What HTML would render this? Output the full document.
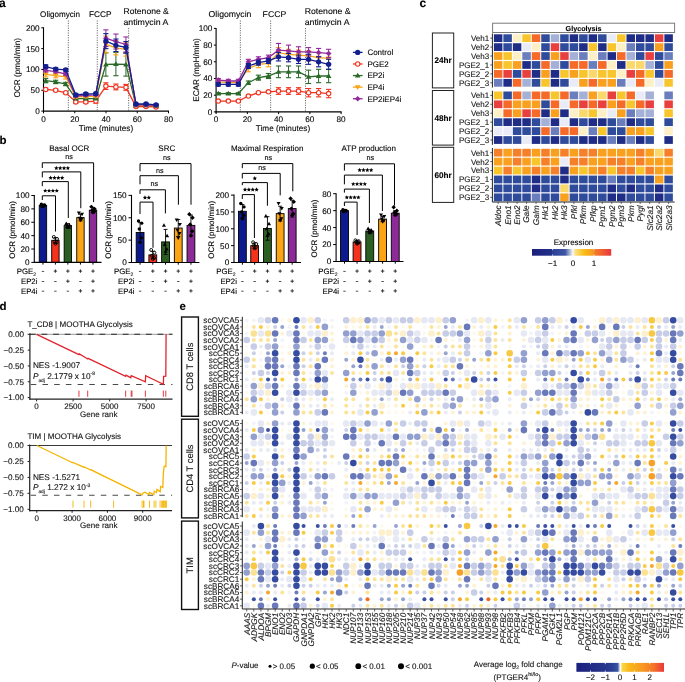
<!DOCTYPE html>
<html><head><meta charset="utf-8"><title>Figure</title>
<style>html,body{margin:0;padding:0;background:#fff;}svg{display:block;will-change:transform;}text{font-family:"Liberation Sans", sans-serif;text-rendering:geometricPrecision;stroke:#111;stroke-width:0.2px;stroke-opacity:0.55;}</style>
</head><body>
<svg width="685" height="682" viewBox="0 0 685 682" font-family='"Liberation Sans", sans-serif'>
<rect x="0" y="0" width="685" height="682" fill="#fff"/>
<text x="-1.00" y="6.80" font-size="12" font-weight="bold" >a</text>
<text x="-0.60" y="144.00" font-size="11.5" font-weight="bold" >b</text>
<text x="419.50" y="6.80" font-size="12" font-weight="bold" >c</text>
<text x="-0.60" y="309.50" font-size="11.5" font-weight="bold" >d</text>
<text x="179.50" y="309.70" font-size="11.5" font-weight="bold" >e</text>
<line x1="43.50" y1="27.30" x2="43.50" y2="111.60" stroke="#000" stroke-width="1.1" />
<line x1="43.00" y1="111.10" x2="169.00" y2="111.10" stroke="#000" stroke-width="1.1" />
<line x1="41.30" y1="111.10" x2="43.50" y2="111.10" stroke="#000" stroke-width="1" />
<text x="39.70" y="114.00" font-size="8.2" text-anchor="end" >0</text>
<line x1="41.30" y1="90.27" x2="43.50" y2="90.27" stroke="#000" stroke-width="1" />
<text x="39.70" y="93.17" font-size="8.2" text-anchor="end" >50</text>
<line x1="41.30" y1="69.45" x2="43.50" y2="69.45" stroke="#000" stroke-width="1" />
<text x="39.70" y="72.35" font-size="8.2" text-anchor="end" >100</text>
<line x1="41.30" y1="48.62" x2="43.50" y2="48.62" stroke="#000" stroke-width="1" />
<text x="39.70" y="51.52" font-size="8.2" text-anchor="end" >150</text>
<line x1="41.30" y1="27.80" x2="43.50" y2="27.80" stroke="#000" stroke-width="1" />
<text x="39.70" y="30.70" font-size="8.2" text-anchor="end" >200</text>
<line x1="43.50" y1="111.10" x2="43.50" y2="113.30" stroke="#000" stroke-width="1" />
<text x="43.50" y="121.50" font-size="8.2" text-anchor="middle" >0</text>
<line x1="74.75" y1="111.10" x2="74.75" y2="113.30" stroke="#000" stroke-width="1" />
<text x="74.75" y="121.50" font-size="8.2" text-anchor="middle" >20</text>
<line x1="106.00" y1="111.10" x2="106.00" y2="113.30" stroke="#000" stroke-width="1" />
<text x="106.00" y="121.50" font-size="8.2" text-anchor="middle" >40</text>
<line x1="137.25" y1="111.10" x2="137.25" y2="113.30" stroke="#000" stroke-width="1" />
<text x="137.25" y="121.50" font-size="8.2" text-anchor="middle" >60</text>
<line x1="168.50" y1="111.10" x2="168.50" y2="113.30" stroke="#000" stroke-width="1" />
<text x="168.50" y="121.50" font-size="8.2" text-anchor="middle" >80</text>
<text x="106.00" y="130.80" font-size="8.2" text-anchor="middle" >Time (minutes)</text>
<text x="20.40" y="67.80" font-size="8.25" text-anchor="middle" transform="rotate(-90 20.40 67.80)" >OCR (pmol/min)</text>
<line x1="68.34" y1="20.50" x2="68.34" y2="111.10" stroke="#222" stroke-width="0.7" stroke-dasharray="1.1,1.3"/>
<line x1="97.25" y1="20.50" x2="97.25" y2="111.10" stroke="#222" stroke-width="0.7" stroke-dasharray="1.1,1.3"/>
<line x1="128.66" y1="28.00" x2="128.66" y2="111.10" stroke="#222" stroke-width="0.7" stroke-dasharray="1.1,1.3"/>
<line x1="45.69" y1="90.69" x2="45.69" y2="88.19" stroke="#f2321e" stroke-width="1.0" />
<line x1="43.09" y1="88.19" x2="48.29" y2="88.19" stroke="#f2321e" stroke-width="1.1" />
<line x1="43.09" y1="90.69" x2="48.29" y2="90.69" stroke="#f2321e" stroke-width="1.1" />
<line x1="55.72" y1="91.52" x2="55.72" y2="89.03" stroke="#f2321e" stroke-width="1.0" />
<line x1="53.12" y1="89.03" x2="58.32" y2="89.03" stroke="#f2321e" stroke-width="1.1" />
<line x1="53.12" y1="91.52" x2="58.32" y2="91.52" stroke="#f2321e" stroke-width="1.1" />
<line x1="65.75" y1="94.02" x2="65.75" y2="91.52" stroke="#f2321e" stroke-width="1.0" />
<line x1="63.15" y1="91.52" x2="68.35" y2="91.52" stroke="#f2321e" stroke-width="1.1" />
<line x1="63.15" y1="94.02" x2="68.35" y2="94.02" stroke="#f2321e" stroke-width="1.1" />
<line x1="75.78" y1="103.19" x2="75.78" y2="100.69" stroke="#f2321e" stroke-width="1.0" />
<line x1="73.18" y1="100.69" x2="78.38" y2="100.69" stroke="#f2321e" stroke-width="1.1" />
<line x1="73.18" y1="103.19" x2="78.38" y2="103.19" stroke="#f2321e" stroke-width="1.1" />
<line x1="85.81" y1="103.19" x2="85.81" y2="100.69" stroke="#f2321e" stroke-width="1.0" />
<line x1="83.21" y1="100.69" x2="88.41" y2="100.69" stroke="#f2321e" stroke-width="1.1" />
<line x1="83.21" y1="103.19" x2="88.41" y2="103.19" stroke="#f2321e" stroke-width="1.1" />
<line x1="95.84" y1="103.19" x2="95.84" y2="99.02" stroke="#f2321e" stroke-width="1.0" />
<line x1="93.24" y1="99.02" x2="98.44" y2="99.02" stroke="#f2321e" stroke-width="1.1" />
<line x1="93.24" y1="103.19" x2="98.44" y2="103.19" stroke="#f2321e" stroke-width="1.1" />
<line x1="105.88" y1="89.44" x2="105.88" y2="82.78" stroke="#f2321e" stroke-width="1.0" />
<line x1="103.28" y1="82.78" x2="108.47" y2="82.78" stroke="#f2321e" stroke-width="1.1" />
<line x1="103.28" y1="89.44" x2="108.47" y2="89.44" stroke="#f2321e" stroke-width="1.1" />
<line x1="115.91" y1="89.86" x2="115.91" y2="84.03" stroke="#f2321e" stroke-width="1.0" />
<line x1="113.31" y1="84.03" x2="118.51" y2="84.03" stroke="#f2321e" stroke-width="1.1" />
<line x1="113.31" y1="89.86" x2="118.51" y2="89.86" stroke="#f2321e" stroke-width="1.1" />
<line x1="125.94" y1="90.27" x2="125.94" y2="84.44" stroke="#f2321e" stroke-width="1.0" />
<line x1="123.34" y1="84.44" x2="128.54" y2="84.44" stroke="#f2321e" stroke-width="1.1" />
<line x1="123.34" y1="90.27" x2="128.54" y2="90.27" stroke="#f2321e" stroke-width="1.1" />
<line x1="135.97" y1="107.35" x2="135.97" y2="105.69" stroke="#f2321e" stroke-width="1.0" />
<line x1="133.37" y1="105.69" x2="138.57" y2="105.69" stroke="#f2321e" stroke-width="1.1" />
<line x1="133.37" y1="107.35" x2="138.57" y2="107.35" stroke="#f2321e" stroke-width="1.1" />
<line x1="146.00" y1="107.35" x2="146.00" y2="105.69" stroke="#f2321e" stroke-width="1.0" />
<line x1="143.40" y1="105.69" x2="148.60" y2="105.69" stroke="#f2321e" stroke-width="1.1" />
<line x1="143.40" y1="107.35" x2="148.60" y2="107.35" stroke="#f2321e" stroke-width="1.1" />
<line x1="156.03" y1="107.77" x2="156.03" y2="106.10" stroke="#f2321e" stroke-width="1.0" />
<line x1="153.43" y1="106.10" x2="158.63" y2="106.10" stroke="#f2321e" stroke-width="1.1" />
<line x1="153.43" y1="107.77" x2="158.63" y2="107.77" stroke="#f2321e" stroke-width="1.1" />
<polyline points="45.69,89.44 55.72,90.27 65.75,92.77 75.78,101.94 85.81,101.94 95.84,101.10 105.88,86.11 115.91,86.94 125.94,87.36 135.97,106.52 146.00,106.52 156.03,106.93" fill="none" stroke="#f2321e" stroke-width="1.3" />
<circle cx="45.69" cy="89.44" r="2.2" fill="#fff" stroke="#f2321e" stroke-width="1.1"/>
<circle cx="55.72" cy="90.27" r="2.2" fill="#fff" stroke="#f2321e" stroke-width="1.1"/>
<circle cx="65.75" cy="92.77" r="2.2" fill="#fff" stroke="#f2321e" stroke-width="1.1"/>
<circle cx="75.78" cy="101.94" r="2.2" fill="#fff" stroke="#f2321e" stroke-width="1.1"/>
<circle cx="85.81" cy="101.94" r="2.2" fill="#fff" stroke="#f2321e" stroke-width="1.1"/>
<circle cx="95.84" cy="101.10" r="2.2" fill="#fff" stroke="#f2321e" stroke-width="1.1"/>
<circle cx="105.88" cy="86.11" r="2.2" fill="#fff" stroke="#f2321e" stroke-width="1.1"/>
<circle cx="115.91" cy="86.94" r="2.2" fill="#fff" stroke="#f2321e" stroke-width="1.1"/>
<circle cx="125.94" cy="87.36" r="2.2" fill="#fff" stroke="#f2321e" stroke-width="1.1"/>
<circle cx="135.97" cy="106.52" r="2.2" fill="#fff" stroke="#f2321e" stroke-width="1.1"/>
<circle cx="146.00" cy="106.52" r="2.2" fill="#fff" stroke="#f2321e" stroke-width="1.1"/>
<circle cx="156.03" cy="106.93" r="2.2" fill="#fff" stroke="#f2321e" stroke-width="1.1"/>
<line x1="45.69" y1="82.78" x2="45.69" y2="78.61" stroke="#2a6a28" stroke-width="1.0" />
<line x1="43.09" y1="78.61" x2="48.29" y2="78.61" stroke="#2a6a28" stroke-width="1.1" />
<line x1="43.09" y1="82.78" x2="48.29" y2="82.78" stroke="#2a6a28" stroke-width="1.1" />
<line x1="55.72" y1="83.61" x2="55.72" y2="80.28" stroke="#2a6a28" stroke-width="1.0" />
<line x1="53.12" y1="80.28" x2="58.32" y2="80.28" stroke="#2a6a28" stroke-width="1.1" />
<line x1="53.12" y1="83.61" x2="58.32" y2="83.61" stroke="#2a6a28" stroke-width="1.1" />
<line x1="65.75" y1="85.69" x2="65.75" y2="82.36" stroke="#2a6a28" stroke-width="1.0" />
<line x1="63.15" y1="82.36" x2="68.35" y2="82.36" stroke="#2a6a28" stroke-width="1.1" />
<line x1="63.15" y1="85.69" x2="68.35" y2="85.69" stroke="#2a6a28" stroke-width="1.1" />
<line x1="75.78" y1="99.44" x2="75.78" y2="97.77" stroke="#2a6a28" stroke-width="1.0" />
<line x1="73.18" y1="97.77" x2="78.38" y2="97.77" stroke="#2a6a28" stroke-width="1.1" />
<line x1="73.18" y1="99.44" x2="78.38" y2="99.44" stroke="#2a6a28" stroke-width="1.1" />
<line x1="85.81" y1="99.44" x2="85.81" y2="97.77" stroke="#2a6a28" stroke-width="1.0" />
<line x1="83.21" y1="97.77" x2="88.41" y2="97.77" stroke="#2a6a28" stroke-width="1.1" />
<line x1="83.21" y1="99.44" x2="88.41" y2="99.44" stroke="#2a6a28" stroke-width="1.1" />
<line x1="95.84" y1="99.44" x2="95.84" y2="97.77" stroke="#2a6a28" stroke-width="1.0" />
<line x1="93.24" y1="97.77" x2="98.44" y2="97.77" stroke="#2a6a28" stroke-width="1.1" />
<line x1="93.24" y1="99.44" x2="98.44" y2="99.44" stroke="#2a6a28" stroke-width="1.1" />
<line x1="105.88" y1="76.11" x2="105.88" y2="52.79" stroke="#2a6a28" stroke-width="1.0" />
<line x1="103.28" y1="52.79" x2="108.47" y2="52.79" stroke="#2a6a28" stroke-width="1.1" />
<line x1="103.28" y1="76.11" x2="108.47" y2="76.11" stroke="#2a6a28" stroke-width="1.1" />
<line x1="115.91" y1="75.70" x2="115.91" y2="52.37" stroke="#2a6a28" stroke-width="1.0" />
<line x1="113.31" y1="52.37" x2="118.51" y2="52.37" stroke="#2a6a28" stroke-width="1.1" />
<line x1="113.31" y1="75.70" x2="118.51" y2="75.70" stroke="#2a6a28" stroke-width="1.1" />
<line x1="125.94" y1="76.11" x2="125.94" y2="52.79" stroke="#2a6a28" stroke-width="1.0" />
<line x1="123.34" y1="52.79" x2="128.54" y2="52.79" stroke="#2a6a28" stroke-width="1.1" />
<line x1="123.34" y1="76.11" x2="128.54" y2="76.11" stroke="#2a6a28" stroke-width="1.1" />
<line x1="135.97" y1="106.10" x2="135.97" y2="104.44" stroke="#2a6a28" stroke-width="1.0" />
<line x1="133.37" y1="104.44" x2="138.57" y2="104.44" stroke="#2a6a28" stroke-width="1.1" />
<line x1="133.37" y1="106.10" x2="138.57" y2="106.10" stroke="#2a6a28" stroke-width="1.1" />
<line x1="146.00" y1="106.10" x2="146.00" y2="104.44" stroke="#2a6a28" stroke-width="1.0" />
<line x1="143.40" y1="104.44" x2="148.60" y2="104.44" stroke="#2a6a28" stroke-width="1.1" />
<line x1="143.40" y1="106.10" x2="148.60" y2="106.10" stroke="#2a6a28" stroke-width="1.1" />
<line x1="156.03" y1="106.52" x2="156.03" y2="104.85" stroke="#2a6a28" stroke-width="1.0" />
<line x1="153.43" y1="104.85" x2="158.63" y2="104.85" stroke="#2a6a28" stroke-width="1.1" />
<line x1="153.43" y1="106.52" x2="158.63" y2="106.52" stroke="#2a6a28" stroke-width="1.1" />
<polyline points="45.69,80.70 55.72,81.94 65.75,84.03 75.78,98.60 85.81,98.60 95.84,98.60 105.88,64.45 115.91,64.04 125.94,64.45 135.97,105.27 146.00,105.27 156.03,105.69" fill="none" stroke="#2a6a28" stroke-width="1.3" />
<path d="M42.89,82.70 L48.49,82.70 L45.69,77.90 Z" fill="#2a6a28"/>
<path d="M52.92,83.94 L58.52,83.94 L55.72,79.14 Z" fill="#2a6a28"/>
<path d="M62.95,86.03 L68.55,86.03 L65.75,81.23 Z" fill="#2a6a28"/>
<path d="M72.98,100.60 L78.58,100.60 L75.78,95.80 Z" fill="#2a6a28"/>
<path d="M83.01,100.60 L88.61,100.60 L85.81,95.80 Z" fill="#2a6a28"/>
<path d="M93.04,100.60 L98.64,100.60 L95.84,95.80 Z" fill="#2a6a28"/>
<path d="M103.08,66.45 L108.67,66.45 L105.88,61.65 Z" fill="#2a6a28"/>
<path d="M113.11,66.04 L118.71,66.04 L115.91,61.24 Z" fill="#2a6a28"/>
<path d="M123.14,66.45 L128.74,66.45 L125.94,61.65 Z" fill="#2a6a28"/>
<path d="M133.17,107.27 L138.77,107.27 L135.97,102.47 Z" fill="#2a6a28"/>
<path d="M143.20,107.27 L148.80,107.27 L146.00,102.47 Z" fill="#2a6a28"/>
<path d="M153.23,107.69 L158.83,107.69 L156.03,102.89 Z" fill="#2a6a28"/>
<line x1="45.69" y1="76.95" x2="45.69" y2="71.95" stroke="#f9a416" stroke-width="1.0" />
<line x1="43.09" y1="71.95" x2="48.29" y2="71.95" stroke="#f9a416" stroke-width="1.1" />
<line x1="43.09" y1="76.95" x2="48.29" y2="76.95" stroke="#f9a416" stroke-width="1.1" />
<line x1="55.72" y1="77.78" x2="55.72" y2="73.61" stroke="#f9a416" stroke-width="1.0" />
<line x1="53.12" y1="73.61" x2="58.32" y2="73.61" stroke="#f9a416" stroke-width="1.1" />
<line x1="53.12" y1="77.78" x2="58.32" y2="77.78" stroke="#f9a416" stroke-width="1.1" />
<line x1="65.75" y1="79.03" x2="65.75" y2="74.86" stroke="#f9a416" stroke-width="1.0" />
<line x1="63.15" y1="74.86" x2="68.35" y2="74.86" stroke="#f9a416" stroke-width="1.1" />
<line x1="63.15" y1="79.03" x2="68.35" y2="79.03" stroke="#f9a416" stroke-width="1.1" />
<line x1="75.78" y1="98.19" x2="75.78" y2="95.69" stroke="#f9a416" stroke-width="1.0" />
<line x1="73.18" y1="95.69" x2="78.38" y2="95.69" stroke="#f9a416" stroke-width="1.1" />
<line x1="73.18" y1="98.19" x2="78.38" y2="98.19" stroke="#f9a416" stroke-width="1.1" />
<line x1="85.81" y1="97.77" x2="85.81" y2="95.27" stroke="#f9a416" stroke-width="1.0" />
<line x1="83.21" y1="95.27" x2="88.41" y2="95.27" stroke="#f9a416" stroke-width="1.1" />
<line x1="83.21" y1="97.77" x2="88.41" y2="97.77" stroke="#f9a416" stroke-width="1.1" />
<line x1="95.84" y1="97.36" x2="95.84" y2="94.86" stroke="#f9a416" stroke-width="1.0" />
<line x1="93.24" y1="94.86" x2="98.44" y2="94.86" stroke="#f9a416" stroke-width="1.1" />
<line x1="93.24" y1="97.36" x2="98.44" y2="97.36" stroke="#f9a416" stroke-width="1.1" />
<line x1="105.88" y1="52.79" x2="105.88" y2="36.13" stroke="#f9a416" stroke-width="1.0" />
<line x1="103.28" y1="36.13" x2="108.47" y2="36.13" stroke="#f9a416" stroke-width="1.1" />
<line x1="103.28" y1="52.79" x2="108.47" y2="52.79" stroke="#f9a416" stroke-width="1.1" />
<line x1="115.91" y1="54.87" x2="115.91" y2="40.71" stroke="#f9a416" stroke-width="1.0" />
<line x1="113.31" y1="40.71" x2="118.51" y2="40.71" stroke="#f9a416" stroke-width="1.1" />
<line x1="113.31" y1="54.87" x2="118.51" y2="54.87" stroke="#f9a416" stroke-width="1.1" />
<line x1="125.94" y1="56.12" x2="125.94" y2="42.79" stroke="#f9a416" stroke-width="1.0" />
<line x1="123.34" y1="42.79" x2="128.54" y2="42.79" stroke="#f9a416" stroke-width="1.1" />
<line x1="123.34" y1="56.12" x2="128.54" y2="56.12" stroke="#f9a416" stroke-width="1.1" />
<line x1="135.97" y1="106.10" x2="135.97" y2="104.44" stroke="#f9a416" stroke-width="1.0" />
<line x1="133.37" y1="104.44" x2="138.57" y2="104.44" stroke="#f9a416" stroke-width="1.1" />
<line x1="133.37" y1="106.10" x2="138.57" y2="106.10" stroke="#f9a416" stroke-width="1.1" />
<line x1="146.00" y1="106.10" x2="146.00" y2="104.44" stroke="#f9a416" stroke-width="1.0" />
<line x1="143.40" y1="104.44" x2="148.60" y2="104.44" stroke="#f9a416" stroke-width="1.1" />
<line x1="143.40" y1="106.10" x2="148.60" y2="106.10" stroke="#f9a416" stroke-width="1.1" />
<line x1="156.03" y1="106.52" x2="156.03" y2="104.85" stroke="#f9a416" stroke-width="1.0" />
<line x1="153.43" y1="104.85" x2="158.63" y2="104.85" stroke="#f9a416" stroke-width="1.1" />
<line x1="153.43" y1="106.52" x2="158.63" y2="106.52" stroke="#f9a416" stroke-width="1.1" />
<polyline points="45.69,74.45 55.72,75.70 65.75,76.95 75.78,96.94 85.81,96.52 95.84,96.11 105.88,44.46 115.91,47.79 125.94,49.46 135.97,105.27 146.00,105.27 156.03,105.69" fill="none" stroke="#f9a416" stroke-width="1.3" />
<path d="M42.89,72.45 L48.49,72.45 L45.69,77.25 Z" fill="#f9a416"/>
<path d="M52.92,73.70 L58.52,73.70 L55.72,78.50 Z" fill="#f9a416"/>
<path d="M62.95,74.95 L68.55,74.95 L65.75,79.75 Z" fill="#f9a416"/>
<path d="M72.98,94.94 L78.58,94.94 L75.78,99.74 Z" fill="#f9a416"/>
<path d="M83.01,94.52 L88.61,94.52 L85.81,99.32 Z" fill="#f9a416"/>
<path d="M93.04,94.11 L98.64,94.11 L95.84,98.91 Z" fill="#f9a416"/>
<path d="M103.08,42.46 L108.67,42.46 L105.88,47.26 Z" fill="#f9a416"/>
<path d="M113.11,45.79 L118.71,45.79 L115.91,50.59 Z" fill="#f9a416"/>
<path d="M123.14,47.46 L128.74,47.46 L125.94,52.26 Z" fill="#f9a416"/>
<path d="M133.17,103.27 L138.77,103.27 L135.97,108.07 Z" fill="#f9a416"/>
<path d="M143.20,103.27 L148.80,103.27 L146.00,108.07 Z" fill="#f9a416"/>
<path d="M153.23,103.69 L158.83,103.69 L156.03,108.49 Z" fill="#f9a416"/>
<line x1="45.69" y1="71.95" x2="45.69" y2="68.62" stroke="#93299c" stroke-width="1.0" />
<line x1="43.09" y1="68.62" x2="48.29" y2="68.62" stroke="#93299c" stroke-width="1.1" />
<line x1="43.09" y1="71.95" x2="48.29" y2="71.95" stroke="#93299c" stroke-width="1.1" />
<line x1="55.72" y1="72.78" x2="55.72" y2="70.28" stroke="#93299c" stroke-width="1.0" />
<line x1="53.12" y1="70.28" x2="58.32" y2="70.28" stroke="#93299c" stroke-width="1.1" />
<line x1="53.12" y1="72.78" x2="58.32" y2="72.78" stroke="#93299c" stroke-width="1.1" />
<line x1="65.75" y1="75.28" x2="65.75" y2="72.78" stroke="#93299c" stroke-width="1.0" />
<line x1="63.15" y1="72.78" x2="68.35" y2="72.78" stroke="#93299c" stroke-width="1.1" />
<line x1="63.15" y1="75.28" x2="68.35" y2="75.28" stroke="#93299c" stroke-width="1.1" />
<line x1="75.78" y1="96.94" x2="75.78" y2="95.27" stroke="#93299c" stroke-width="1.0" />
<line x1="73.18" y1="95.27" x2="78.38" y2="95.27" stroke="#93299c" stroke-width="1.1" />
<line x1="73.18" y1="96.94" x2="78.38" y2="96.94" stroke="#93299c" stroke-width="1.1" />
<line x1="85.81" y1="96.11" x2="85.81" y2="94.44" stroke="#93299c" stroke-width="1.0" />
<line x1="83.21" y1="94.44" x2="88.41" y2="94.44" stroke="#93299c" stroke-width="1.1" />
<line x1="83.21" y1="96.11" x2="88.41" y2="96.11" stroke="#93299c" stroke-width="1.1" />
<line x1="95.84" y1="95.69" x2="95.84" y2="94.02" stroke="#93299c" stroke-width="1.0" />
<line x1="93.24" y1="94.02" x2="98.44" y2="94.02" stroke="#93299c" stroke-width="1.1" />
<line x1="93.24" y1="95.69" x2="98.44" y2="95.69" stroke="#93299c" stroke-width="1.1" />
<line x1="105.88" y1="46.54" x2="105.88" y2="29.88" stroke="#93299c" stroke-width="1.0" />
<line x1="103.28" y1="29.88" x2="108.47" y2="29.88" stroke="#93299c" stroke-width="1.1" />
<line x1="103.28" y1="46.54" x2="108.47" y2="46.54" stroke="#93299c" stroke-width="1.1" />
<line x1="115.91" y1="49.04" x2="115.91" y2="34.05" stroke="#93299c" stroke-width="1.0" />
<line x1="113.31" y1="34.05" x2="118.51" y2="34.05" stroke="#93299c" stroke-width="1.1" />
<line x1="113.31" y1="49.04" x2="118.51" y2="49.04" stroke="#93299c" stroke-width="1.1" />
<line x1="125.94" y1="51.96" x2="125.94" y2="36.96" stroke="#93299c" stroke-width="1.0" />
<line x1="123.34" y1="36.96" x2="128.54" y2="36.96" stroke="#93299c" stroke-width="1.1" />
<line x1="123.34" y1="51.96" x2="128.54" y2="51.96" stroke="#93299c" stroke-width="1.1" />
<line x1="135.97" y1="105.69" x2="135.97" y2="104.02" stroke="#93299c" stroke-width="1.0" />
<line x1="133.37" y1="104.02" x2="138.57" y2="104.02" stroke="#93299c" stroke-width="1.1" />
<line x1="133.37" y1="105.69" x2="138.57" y2="105.69" stroke="#93299c" stroke-width="1.1" />
<line x1="146.00" y1="105.69" x2="146.00" y2="104.02" stroke="#93299c" stroke-width="1.0" />
<line x1="143.40" y1="104.02" x2="148.60" y2="104.02" stroke="#93299c" stroke-width="1.1" />
<line x1="143.40" y1="105.69" x2="148.60" y2="105.69" stroke="#93299c" stroke-width="1.1" />
<line x1="156.03" y1="106.10" x2="156.03" y2="104.44" stroke="#93299c" stroke-width="1.0" />
<line x1="153.43" y1="104.44" x2="158.63" y2="104.44" stroke="#93299c" stroke-width="1.1" />
<line x1="153.43" y1="106.10" x2="158.63" y2="106.10" stroke="#93299c" stroke-width="1.1" />
<polyline points="45.69,70.28 55.72,71.53 65.75,74.03 75.78,96.11 85.81,95.27 95.84,94.86 105.88,38.21 115.91,41.54 125.94,44.46 135.97,104.85 146.00,104.85 156.03,105.27" fill="none" stroke="#93299c" stroke-width="1.3" />
<path d="M45.69,67.48 L48.49,70.28 L45.69,73.08 L42.89,70.28 Z" fill="#93299c"/>
<path d="M55.72,68.73 L58.52,71.53 L55.72,74.33 L52.92,71.53 Z" fill="#93299c"/>
<path d="M65.75,71.23 L68.55,74.03 L65.75,76.83 L62.95,74.03 Z" fill="#93299c"/>
<path d="M75.78,93.31 L78.58,96.11 L75.78,98.91 L72.98,96.11 Z" fill="#93299c"/>
<path d="M85.81,92.47 L88.61,95.27 L85.81,98.07 L83.01,95.27 Z" fill="#93299c"/>
<path d="M95.84,92.06 L98.64,94.86 L95.84,97.66 L93.04,94.86 Z" fill="#93299c"/>
<path d="M105.88,35.41 L108.67,38.21 L105.88,41.01 L103.08,38.21 Z" fill="#93299c"/>
<path d="M115.91,38.74 L118.71,41.54 L115.91,44.34 L113.11,41.54 Z" fill="#93299c"/>
<path d="M125.94,41.66 L128.74,44.46 L125.94,47.26 L123.14,44.46 Z" fill="#93299c"/>
<path d="M135.97,102.05 L138.77,104.85 L135.97,107.65 L133.17,104.85 Z" fill="#93299c"/>
<path d="M146.00,102.05 L148.80,104.85 L146.00,107.65 L143.20,104.85 Z" fill="#93299c"/>
<path d="M156.03,102.47 L158.83,105.27 L156.03,108.07 L153.23,105.27 Z" fill="#93299c"/>
<line x1="45.69" y1="68.20" x2="45.69" y2="64.87" stroke="#131f8f" stroke-width="1.0" />
<line x1="43.09" y1="64.87" x2="48.29" y2="64.87" stroke="#131f8f" stroke-width="1.1" />
<line x1="43.09" y1="68.20" x2="48.29" y2="68.20" stroke="#131f8f" stroke-width="1.1" />
<line x1="55.72" y1="70.28" x2="55.72" y2="67.78" stroke="#131f8f" stroke-width="1.0" />
<line x1="53.12" y1="67.78" x2="58.32" y2="67.78" stroke="#131f8f" stroke-width="1.1" />
<line x1="53.12" y1="70.28" x2="58.32" y2="70.28" stroke="#131f8f" stroke-width="1.1" />
<line x1="65.75" y1="71.12" x2="65.75" y2="68.62" stroke="#131f8f" stroke-width="1.0" />
<line x1="63.15" y1="68.62" x2="68.35" y2="68.62" stroke="#131f8f" stroke-width="1.1" />
<line x1="63.15" y1="71.12" x2="68.35" y2="71.12" stroke="#131f8f" stroke-width="1.1" />
<line x1="75.78" y1="96.11" x2="75.78" y2="93.61" stroke="#131f8f" stroke-width="1.0" />
<line x1="73.18" y1="93.61" x2="78.38" y2="93.61" stroke="#131f8f" stroke-width="1.1" />
<line x1="73.18" y1="96.11" x2="78.38" y2="96.11" stroke="#131f8f" stroke-width="1.1" />
<line x1="85.81" y1="95.27" x2="85.81" y2="92.77" stroke="#131f8f" stroke-width="1.0" />
<line x1="83.21" y1="92.77" x2="88.41" y2="92.77" stroke="#131f8f" stroke-width="1.1" />
<line x1="83.21" y1="95.27" x2="88.41" y2="95.27" stroke="#131f8f" stroke-width="1.1" />
<line x1="95.84" y1="94.86" x2="95.84" y2="92.36" stroke="#131f8f" stroke-width="1.0" />
<line x1="93.24" y1="92.36" x2="98.44" y2="92.36" stroke="#131f8f" stroke-width="1.1" />
<line x1="93.24" y1="94.86" x2="98.44" y2="94.86" stroke="#131f8f" stroke-width="1.1" />
<line x1="105.88" y1="48.62" x2="105.88" y2="33.63" stroke="#131f8f" stroke-width="1.0" />
<line x1="103.28" y1="33.63" x2="108.47" y2="33.63" stroke="#131f8f" stroke-width="1.1" />
<line x1="103.28" y1="48.62" x2="108.47" y2="48.62" stroke="#131f8f" stroke-width="1.1" />
<line x1="115.91" y1="51.54" x2="115.91" y2="39.05" stroke="#131f8f" stroke-width="1.0" />
<line x1="113.31" y1="39.05" x2="118.51" y2="39.05" stroke="#131f8f" stroke-width="1.1" />
<line x1="113.31" y1="51.54" x2="118.51" y2="51.54" stroke="#131f8f" stroke-width="1.1" />
<line x1="125.94" y1="53.21" x2="125.94" y2="41.54" stroke="#131f8f" stroke-width="1.0" />
<line x1="123.34" y1="41.54" x2="128.54" y2="41.54" stroke="#131f8f" stroke-width="1.1" />
<line x1="123.34" y1="53.21" x2="128.54" y2="53.21" stroke="#131f8f" stroke-width="1.1" />
<line x1="135.97" y1="104.85" x2="135.97" y2="103.19" stroke="#131f8f" stroke-width="1.0" />
<line x1="133.37" y1="103.19" x2="138.57" y2="103.19" stroke="#131f8f" stroke-width="1.1" />
<line x1="133.37" y1="104.85" x2="138.57" y2="104.85" stroke="#131f8f" stroke-width="1.1" />
<line x1="146.00" y1="104.85" x2="146.00" y2="103.19" stroke="#131f8f" stroke-width="1.0" />
<line x1="143.40" y1="103.19" x2="148.60" y2="103.19" stroke="#131f8f" stroke-width="1.1" />
<line x1="143.40" y1="104.85" x2="148.60" y2="104.85" stroke="#131f8f" stroke-width="1.1" />
<line x1="156.03" y1="105.69" x2="156.03" y2="104.02" stroke="#131f8f" stroke-width="1.0" />
<line x1="153.43" y1="104.02" x2="158.63" y2="104.02" stroke="#131f8f" stroke-width="1.1" />
<line x1="153.43" y1="105.69" x2="158.63" y2="105.69" stroke="#131f8f" stroke-width="1.1" />
<polyline points="45.69,66.53 55.72,69.03 65.75,69.87 75.78,94.86 85.81,94.02 95.84,93.61 105.88,41.13 115.91,45.29 125.94,47.38 135.97,104.02 146.00,104.02 156.03,104.85" fill="none" stroke="#131f8f" stroke-width="1.3" />
<circle cx="45.69" cy="66.53" r="2.65" fill="#131f8f"/>
<circle cx="55.72" cy="69.03" r="2.65" fill="#131f8f"/>
<circle cx="65.75" cy="69.87" r="2.65" fill="#131f8f"/>
<circle cx="75.78" cy="94.86" r="2.65" fill="#131f8f"/>
<circle cx="85.81" cy="94.02" r="2.65" fill="#131f8f"/>
<circle cx="95.84" cy="93.61" r="2.65" fill="#131f8f"/>
<circle cx="105.88" cy="41.13" r="2.65" fill="#131f8f"/>
<circle cx="115.91" cy="45.29" r="2.65" fill="#131f8f"/>
<circle cx="125.94" cy="47.38" r="2.65" fill="#131f8f"/>
<circle cx="135.97" cy="104.02" r="2.65" fill="#131f8f"/>
<circle cx="146.00" cy="104.02" r="2.65" fill="#131f8f"/>
<circle cx="156.03" cy="104.85" r="2.65" fill="#131f8f"/>
<line x1="216.10" y1="27.90" x2="216.10" y2="112.40" stroke="#000" stroke-width="1.1" />
<line x1="215.60" y1="111.90" x2="341.60" y2="111.90" stroke="#000" stroke-width="1.1" />
<line x1="213.90" y1="111.90" x2="216.10" y2="111.90" stroke="#000" stroke-width="1" />
<text x="212.30" y="114.80" font-size="8.2" text-anchor="end" >0</text>
<line x1="213.90" y1="95.20" x2="216.10" y2="95.20" stroke="#000" stroke-width="1" />
<text x="212.30" y="98.10" font-size="8.2" text-anchor="end" >20</text>
<line x1="213.90" y1="78.50" x2="216.10" y2="78.50" stroke="#000" stroke-width="1" />
<text x="212.30" y="81.40" font-size="8.2" text-anchor="end" >40</text>
<line x1="213.90" y1="61.80" x2="216.10" y2="61.80" stroke="#000" stroke-width="1" />
<text x="212.30" y="64.70" font-size="8.2" text-anchor="end" >60</text>
<line x1="213.90" y1="45.10" x2="216.10" y2="45.10" stroke="#000" stroke-width="1" />
<text x="212.30" y="48.00" font-size="8.2" text-anchor="end" >80</text>
<line x1="213.90" y1="28.40" x2="216.10" y2="28.40" stroke="#000" stroke-width="1" />
<text x="212.30" y="31.30" font-size="8.2" text-anchor="end" >100</text>
<line x1="216.10" y1="111.90" x2="216.10" y2="114.10" stroke="#000" stroke-width="1" />
<text x="216.10" y="122.30" font-size="8.2" text-anchor="middle" >0</text>
<line x1="247.35" y1="111.90" x2="247.35" y2="114.10" stroke="#000" stroke-width="1" />
<text x="247.35" y="122.30" font-size="8.2" text-anchor="middle" >20</text>
<line x1="278.60" y1="111.90" x2="278.60" y2="114.10" stroke="#000" stroke-width="1" />
<text x="278.60" y="122.30" font-size="8.2" text-anchor="middle" >40</text>
<line x1="309.85" y1="111.90" x2="309.85" y2="114.10" stroke="#000" stroke-width="1" />
<text x="309.85" y="122.30" font-size="8.2" text-anchor="middle" >60</text>
<line x1="341.10" y1="111.90" x2="341.10" y2="114.10" stroke="#000" stroke-width="1" />
<text x="341.10" y="122.30" font-size="8.2" text-anchor="middle" >80</text>
<text x="283.00" y="130.80" font-size="8.2" text-anchor="middle" >Time (minutes)</text>
<text x="198.70" y="70.00" font-size="8.25" text-anchor="middle" transform="rotate(-90 198.70 70.00)" >ECAR (mpH/min)</text>
<line x1="240.32" y1="20.50" x2="240.32" y2="111.90" stroke="#222" stroke-width="0.7" stroke-dasharray="1.1,1.3"/>
<line x1="270.63" y1="20.50" x2="270.63" y2="111.90" stroke="#222" stroke-width="0.7" stroke-dasharray="1.1,1.3"/>
<line x1="305.48" y1="28.00" x2="305.48" y2="111.90" stroke="#222" stroke-width="0.7" stroke-dasharray="1.1,1.3"/>
<line x1="218.29" y1="101.88" x2="218.29" y2="100.21" stroke="#f2321e" stroke-width="1.0" />
<line x1="215.69" y1="100.21" x2="220.89" y2="100.21" stroke="#f2321e" stroke-width="1.1" />
<line x1="215.69" y1="101.88" x2="220.89" y2="101.88" stroke="#f2321e" stroke-width="1.1" />
<line x1="228.32" y1="101.88" x2="228.32" y2="100.21" stroke="#f2321e" stroke-width="1.0" />
<line x1="225.72" y1="100.21" x2="230.92" y2="100.21" stroke="#f2321e" stroke-width="1.1" />
<line x1="225.72" y1="101.88" x2="230.92" y2="101.88" stroke="#f2321e" stroke-width="1.1" />
<line x1="238.35" y1="101.88" x2="238.35" y2="100.21" stroke="#f2321e" stroke-width="1.0" />
<line x1="235.75" y1="100.21" x2="240.95" y2="100.21" stroke="#f2321e" stroke-width="1.1" />
<line x1="235.75" y1="101.88" x2="240.95" y2="101.88" stroke="#f2321e" stroke-width="1.1" />
<line x1="248.38" y1="96.87" x2="248.38" y2="95.20" stroke="#f2321e" stroke-width="1.0" />
<line x1="245.78" y1="95.20" x2="250.98" y2="95.20" stroke="#f2321e" stroke-width="1.1" />
<line x1="245.78" y1="96.87" x2="250.98" y2="96.87" stroke="#f2321e" stroke-width="1.1" />
<line x1="258.41" y1="93.53" x2="258.41" y2="91.86" stroke="#f2321e" stroke-width="1.0" />
<line x1="255.81" y1="91.86" x2="261.01" y2="91.86" stroke="#f2321e" stroke-width="1.1" />
<line x1="255.81" y1="93.53" x2="261.01" y2="93.53" stroke="#f2321e" stroke-width="1.1" />
<line x1="268.44" y1="92.70" x2="268.44" y2="91.03" stroke="#f2321e" stroke-width="1.0" />
<line x1="265.84" y1="91.03" x2="271.04" y2="91.03" stroke="#f2321e" stroke-width="1.1" />
<line x1="265.84" y1="92.70" x2="271.04" y2="92.70" stroke="#f2321e" stroke-width="1.1" />
<line x1="278.47" y1="94.37" x2="278.47" y2="87.69" stroke="#f2321e" stroke-width="1.0" />
<line x1="275.87" y1="87.69" x2="281.07" y2="87.69" stroke="#f2321e" stroke-width="1.1" />
<line x1="275.87" y1="94.37" x2="281.07" y2="94.37" stroke="#f2321e" stroke-width="1.1" />
<line x1="288.51" y1="94.37" x2="288.51" y2="87.69" stroke="#f2321e" stroke-width="1.0" />
<line x1="285.91" y1="87.69" x2="291.11" y2="87.69" stroke="#f2321e" stroke-width="1.1" />
<line x1="285.91" y1="94.37" x2="291.11" y2="94.37" stroke="#f2321e" stroke-width="1.1" />
<line x1="298.54" y1="94.37" x2="298.54" y2="87.69" stroke="#f2321e" stroke-width="1.0" />
<line x1="295.94" y1="87.69" x2="301.14" y2="87.69" stroke="#f2321e" stroke-width="1.1" />
<line x1="295.94" y1="94.37" x2="301.14" y2="94.37" stroke="#f2321e" stroke-width="1.1" />
<line x1="308.57" y1="96.87" x2="308.57" y2="88.52" stroke="#f2321e" stroke-width="1.0" />
<line x1="305.97" y1="88.52" x2="311.17" y2="88.52" stroke="#f2321e" stroke-width="1.1" />
<line x1="305.97" y1="96.87" x2="311.17" y2="96.87" stroke="#f2321e" stroke-width="1.1" />
<line x1="318.60" y1="96.87" x2="318.60" y2="88.52" stroke="#f2321e" stroke-width="1.0" />
<line x1="316.00" y1="88.52" x2="321.20" y2="88.52" stroke="#f2321e" stroke-width="1.1" />
<line x1="316.00" y1="96.87" x2="321.20" y2="96.87" stroke="#f2321e" stroke-width="1.1" />
<line x1="328.63" y1="97.71" x2="328.63" y2="89.36" stroke="#f2321e" stroke-width="1.0" />
<line x1="326.03" y1="89.36" x2="331.23" y2="89.36" stroke="#f2321e" stroke-width="1.1" />
<line x1="326.03" y1="97.71" x2="331.23" y2="97.71" stroke="#f2321e" stroke-width="1.1" />
<polyline points="218.29,101.05 228.32,101.05 238.35,101.05 248.38,96.04 258.41,92.70 268.44,91.86 278.47,91.03 288.51,91.03 298.54,91.03 308.57,92.70 318.60,92.70 328.63,93.53" fill="none" stroke="#f2321e" stroke-width="1.3" />
<circle cx="218.29" cy="101.05" r="2.2" fill="#fff" stroke="#f2321e" stroke-width="1.1"/>
<circle cx="228.32" cy="101.05" r="2.2" fill="#fff" stroke="#f2321e" stroke-width="1.1"/>
<circle cx="238.35" cy="101.05" r="2.2" fill="#fff" stroke="#f2321e" stroke-width="1.1"/>
<circle cx="248.38" cy="96.04" r="2.2" fill="#fff" stroke="#f2321e" stroke-width="1.1"/>
<circle cx="258.41" cy="92.70" r="2.2" fill="#fff" stroke="#f2321e" stroke-width="1.1"/>
<circle cx="268.44" cy="91.86" r="2.2" fill="#fff" stroke="#f2321e" stroke-width="1.1"/>
<circle cx="278.47" cy="91.03" r="2.2" fill="#fff" stroke="#f2321e" stroke-width="1.1"/>
<circle cx="288.51" cy="91.03" r="2.2" fill="#fff" stroke="#f2321e" stroke-width="1.1"/>
<circle cx="298.54" cy="91.03" r="2.2" fill="#fff" stroke="#f2321e" stroke-width="1.1"/>
<circle cx="308.57" cy="92.70" r="2.2" fill="#fff" stroke="#f2321e" stroke-width="1.1"/>
<circle cx="318.60" cy="92.70" r="2.2" fill="#fff" stroke="#f2321e" stroke-width="1.1"/>
<circle cx="328.63" cy="93.53" r="2.2" fill="#fff" stroke="#f2321e" stroke-width="1.1"/>
<line x1="218.29" y1="94.37" x2="218.29" y2="92.70" stroke="#2a6a28" stroke-width="1.0" />
<line x1="215.69" y1="92.70" x2="220.89" y2="92.70" stroke="#2a6a28" stroke-width="1.1" />
<line x1="215.69" y1="94.37" x2="220.89" y2="94.37" stroke="#2a6a28" stroke-width="1.1" />
<line x1="228.32" y1="94.37" x2="228.32" y2="92.70" stroke="#2a6a28" stroke-width="1.0" />
<line x1="225.72" y1="92.70" x2="230.92" y2="92.70" stroke="#2a6a28" stroke-width="1.1" />
<line x1="225.72" y1="94.37" x2="230.92" y2="94.37" stroke="#2a6a28" stroke-width="1.1" />
<line x1="238.35" y1="94.37" x2="238.35" y2="92.70" stroke="#2a6a28" stroke-width="1.0" />
<line x1="235.75" y1="92.70" x2="240.95" y2="92.70" stroke="#2a6a28" stroke-width="1.1" />
<line x1="235.75" y1="94.37" x2="240.95" y2="94.37" stroke="#2a6a28" stroke-width="1.1" />
<line x1="248.38" y1="84.34" x2="248.38" y2="81.01" stroke="#2a6a28" stroke-width="1.0" />
<line x1="245.78" y1="81.01" x2="250.98" y2="81.01" stroke="#2a6a28" stroke-width="1.1" />
<line x1="245.78" y1="84.34" x2="250.98" y2="84.34" stroke="#2a6a28" stroke-width="1.1" />
<line x1="258.41" y1="80.17" x2="258.41" y2="75.16" stroke="#2a6a28" stroke-width="1.0" />
<line x1="255.81" y1="75.16" x2="261.01" y2="75.16" stroke="#2a6a28" stroke-width="1.1" />
<line x1="255.81" y1="80.17" x2="261.01" y2="80.17" stroke="#2a6a28" stroke-width="1.1" />
<line x1="268.44" y1="78.50" x2="268.44" y2="73.49" stroke="#2a6a28" stroke-width="1.0" />
<line x1="265.84" y1="73.49" x2="271.04" y2="73.49" stroke="#2a6a28" stroke-width="1.1" />
<line x1="265.84" y1="78.50" x2="271.04" y2="78.50" stroke="#2a6a28" stroke-width="1.1" />
<line x1="278.47" y1="77.67" x2="278.47" y2="65.98" stroke="#2a6a28" stroke-width="1.0" />
<line x1="275.87" y1="65.98" x2="281.07" y2="65.98" stroke="#2a6a28" stroke-width="1.1" />
<line x1="275.87" y1="77.67" x2="281.07" y2="77.67" stroke="#2a6a28" stroke-width="1.1" />
<line x1="288.51" y1="77.67" x2="288.51" y2="65.98" stroke="#2a6a28" stroke-width="1.0" />
<line x1="285.91" y1="65.98" x2="291.11" y2="65.98" stroke="#2a6a28" stroke-width="1.1" />
<line x1="285.91" y1="77.67" x2="291.11" y2="77.67" stroke="#2a6a28" stroke-width="1.1" />
<line x1="298.54" y1="77.67" x2="298.54" y2="65.98" stroke="#2a6a28" stroke-width="1.0" />
<line x1="295.94" y1="65.98" x2="301.14" y2="65.98" stroke="#2a6a28" stroke-width="1.1" />
<line x1="295.94" y1="77.67" x2="301.14" y2="77.67" stroke="#2a6a28" stroke-width="1.1" />
<line x1="308.57" y1="83.51" x2="308.57" y2="70.15" stroke="#2a6a28" stroke-width="1.0" />
<line x1="305.97" y1="70.15" x2="311.17" y2="70.15" stroke="#2a6a28" stroke-width="1.1" />
<line x1="305.97" y1="83.51" x2="311.17" y2="83.51" stroke="#2a6a28" stroke-width="1.1" />
<line x1="318.60" y1="82.68" x2="318.60" y2="69.31" stroke="#2a6a28" stroke-width="1.0" />
<line x1="316.00" y1="69.31" x2="321.20" y2="69.31" stroke="#2a6a28" stroke-width="1.1" />
<line x1="316.00" y1="82.68" x2="321.20" y2="82.68" stroke="#2a6a28" stroke-width="1.1" />
<line x1="328.63" y1="82.68" x2="328.63" y2="69.31" stroke="#2a6a28" stroke-width="1.0" />
<line x1="326.03" y1="69.31" x2="331.23" y2="69.31" stroke="#2a6a28" stroke-width="1.1" />
<line x1="326.03" y1="82.68" x2="331.23" y2="82.68" stroke="#2a6a28" stroke-width="1.1" />
<polyline points="218.29,93.53 228.32,93.53 238.35,93.53 248.38,82.68 258.41,77.67 268.44,76.00 278.47,71.82 288.51,71.82 298.54,71.82 308.57,76.83 318.60,76.00 328.63,76.00" fill="none" stroke="#2a6a28" stroke-width="1.3" />
<path d="M215.49,95.53 L221.09,95.53 L218.29,90.73 Z" fill="#2a6a28"/>
<path d="M225.52,95.53 L231.12,95.53 L228.32,90.73 Z" fill="#2a6a28"/>
<path d="M235.55,95.53 L241.15,95.53 L238.35,90.73 Z" fill="#2a6a28"/>
<path d="M245.58,84.68 L251.18,84.68 L248.38,79.88 Z" fill="#2a6a28"/>
<path d="M255.61,79.67 L261.21,79.67 L258.41,74.87 Z" fill="#2a6a28"/>
<path d="M265.64,78.00 L271.24,78.00 L268.44,73.20 Z" fill="#2a6a28"/>
<path d="M275.67,73.82 L281.27,73.82 L278.47,69.02 Z" fill="#2a6a28"/>
<path d="M285.71,73.82 L291.31,73.82 L288.51,69.02 Z" fill="#2a6a28"/>
<path d="M295.74,73.82 L301.34,73.82 L298.54,69.02 Z" fill="#2a6a28"/>
<path d="M305.77,78.83 L311.37,78.83 L308.57,74.03 Z" fill="#2a6a28"/>
<path d="M315.80,78.00 L321.40,78.00 L318.60,73.20 Z" fill="#2a6a28"/>
<path d="M325.83,78.00 L331.43,78.00 L328.63,73.20 Z" fill="#2a6a28"/>
<line x1="218.29" y1="83.51" x2="218.29" y2="80.17" stroke="#f9a416" stroke-width="1.0" />
<line x1="215.69" y1="80.17" x2="220.89" y2="80.17" stroke="#f9a416" stroke-width="1.1" />
<line x1="215.69" y1="83.51" x2="220.89" y2="83.51" stroke="#f9a416" stroke-width="1.1" />
<line x1="228.32" y1="84.34" x2="228.32" y2="81.01" stroke="#f9a416" stroke-width="1.0" />
<line x1="225.72" y1="81.01" x2="230.92" y2="81.01" stroke="#f9a416" stroke-width="1.1" />
<line x1="225.72" y1="84.34" x2="230.92" y2="84.34" stroke="#f9a416" stroke-width="1.1" />
<line x1="238.35" y1="84.34" x2="238.35" y2="81.01" stroke="#f9a416" stroke-width="1.0" />
<line x1="235.75" y1="81.01" x2="240.95" y2="81.01" stroke="#f9a416" stroke-width="1.1" />
<line x1="235.75" y1="84.34" x2="240.95" y2="84.34" stroke="#f9a416" stroke-width="1.1" />
<line x1="248.38" y1="71.82" x2="248.38" y2="65.14" stroke="#f9a416" stroke-width="1.0" />
<line x1="245.78" y1="65.14" x2="250.98" y2="65.14" stroke="#f9a416" stroke-width="1.1" />
<line x1="245.78" y1="71.82" x2="250.98" y2="71.82" stroke="#f9a416" stroke-width="1.1" />
<line x1="258.41" y1="67.65" x2="258.41" y2="60.97" stroke="#f9a416" stroke-width="1.0" />
<line x1="255.81" y1="60.97" x2="261.01" y2="60.97" stroke="#f9a416" stroke-width="1.1" />
<line x1="255.81" y1="67.65" x2="261.01" y2="67.65" stroke="#f9a416" stroke-width="1.1" />
<line x1="268.44" y1="66.81" x2="268.44" y2="60.13" stroke="#f9a416" stroke-width="1.0" />
<line x1="265.84" y1="60.13" x2="271.04" y2="60.13" stroke="#f9a416" stroke-width="1.1" />
<line x1="265.84" y1="66.81" x2="271.04" y2="66.81" stroke="#f9a416" stroke-width="1.1" />
<line x1="278.47" y1="57.63" x2="278.47" y2="47.61" stroke="#f9a416" stroke-width="1.0" />
<line x1="275.87" y1="47.61" x2="281.07" y2="47.61" stroke="#f9a416" stroke-width="1.1" />
<line x1="275.87" y1="57.63" x2="281.07" y2="57.63" stroke="#f9a416" stroke-width="1.1" />
<line x1="288.51" y1="59.30" x2="288.51" y2="49.28" stroke="#f9a416" stroke-width="1.0" />
<line x1="285.91" y1="49.28" x2="291.11" y2="49.28" stroke="#f9a416" stroke-width="1.1" />
<line x1="285.91" y1="59.30" x2="291.11" y2="59.30" stroke="#f9a416" stroke-width="1.1" />
<line x1="298.54" y1="60.13" x2="298.54" y2="50.11" stroke="#f9a416" stroke-width="1.0" />
<line x1="295.94" y1="50.11" x2="301.14" y2="50.11" stroke="#f9a416" stroke-width="1.1" />
<line x1="295.94" y1="60.13" x2="301.14" y2="60.13" stroke="#f9a416" stroke-width="1.1" />
<line x1="308.57" y1="60.97" x2="308.57" y2="50.95" stroke="#f9a416" stroke-width="1.0" />
<line x1="305.97" y1="50.95" x2="311.17" y2="50.95" stroke="#f9a416" stroke-width="1.1" />
<line x1="305.97" y1="60.97" x2="311.17" y2="60.97" stroke="#f9a416" stroke-width="1.1" />
<line x1="318.60" y1="62.64" x2="318.60" y2="52.62" stroke="#f9a416" stroke-width="1.0" />
<line x1="316.00" y1="52.62" x2="321.20" y2="52.62" stroke="#f9a416" stroke-width="1.1" />
<line x1="316.00" y1="62.64" x2="321.20" y2="62.64" stroke="#f9a416" stroke-width="1.1" />
<line x1="328.63" y1="63.47" x2="328.63" y2="53.45" stroke="#f9a416" stroke-width="1.0" />
<line x1="326.03" y1="53.45" x2="331.23" y2="53.45" stroke="#f9a416" stroke-width="1.1" />
<line x1="326.03" y1="63.47" x2="331.23" y2="63.47" stroke="#f9a416" stroke-width="1.1" />
<polyline points="218.29,81.84 228.32,82.68 238.35,82.68 248.38,68.48 258.41,64.31 268.44,63.47 278.47,52.62 288.51,54.29 298.54,55.12 308.57,55.96 318.60,57.63 328.63,58.46" fill="none" stroke="#f9a416" stroke-width="1.3" />
<path d="M215.49,79.84 L221.09,79.84 L218.29,84.64 Z" fill="#f9a416"/>
<path d="M225.52,80.68 L231.12,80.68 L228.32,85.48 Z" fill="#f9a416"/>
<path d="M235.55,80.68 L241.15,80.68 L238.35,85.48 Z" fill="#f9a416"/>
<path d="M245.58,66.48 L251.18,66.48 L248.38,71.28 Z" fill="#f9a416"/>
<path d="M255.61,62.31 L261.21,62.31 L258.41,67.11 Z" fill="#f9a416"/>
<path d="M265.64,61.47 L271.24,61.47 L268.44,66.27 Z" fill="#f9a416"/>
<path d="M275.67,50.62 L281.27,50.62 L278.47,55.42 Z" fill="#f9a416"/>
<path d="M285.71,52.29 L291.31,52.29 L288.51,57.09 Z" fill="#f9a416"/>
<path d="M295.74,53.12 L301.34,53.12 L298.54,57.92 Z" fill="#f9a416"/>
<path d="M305.77,53.96 L311.37,53.96 L308.57,58.76 Z" fill="#f9a416"/>
<path d="M315.80,55.63 L321.40,55.63 L318.60,60.43 Z" fill="#f9a416"/>
<path d="M325.83,56.46 L331.43,56.46 L328.63,61.26 Z" fill="#f9a416"/>
<line x1="218.29" y1="81.84" x2="218.29" y2="78.50" stroke="#93299c" stroke-width="1.0" />
<line x1="215.69" y1="78.50" x2="220.89" y2="78.50" stroke="#93299c" stroke-width="1.1" />
<line x1="215.69" y1="81.84" x2="220.89" y2="81.84" stroke="#93299c" stroke-width="1.1" />
<line x1="228.32" y1="82.68" x2="228.32" y2="79.34" stroke="#93299c" stroke-width="1.0" />
<line x1="225.72" y1="79.34" x2="230.92" y2="79.34" stroke="#93299c" stroke-width="1.1" />
<line x1="225.72" y1="82.68" x2="230.92" y2="82.68" stroke="#93299c" stroke-width="1.1" />
<line x1="238.35" y1="82.68" x2="238.35" y2="79.34" stroke="#93299c" stroke-width="1.0" />
<line x1="235.75" y1="79.34" x2="240.95" y2="79.34" stroke="#93299c" stroke-width="1.1" />
<line x1="235.75" y1="82.68" x2="240.95" y2="82.68" stroke="#93299c" stroke-width="1.1" />
<line x1="248.38" y1="64.31" x2="248.38" y2="59.30" stroke="#93299c" stroke-width="1.0" />
<line x1="245.78" y1="59.30" x2="250.98" y2="59.30" stroke="#93299c" stroke-width="1.1" />
<line x1="245.78" y1="64.31" x2="250.98" y2="64.31" stroke="#93299c" stroke-width="1.1" />
<line x1="258.41" y1="61.80" x2="258.41" y2="56.79" stroke="#93299c" stroke-width="1.0" />
<line x1="255.81" y1="56.79" x2="261.01" y2="56.79" stroke="#93299c" stroke-width="1.1" />
<line x1="255.81" y1="61.80" x2="261.01" y2="61.80" stroke="#93299c" stroke-width="1.1" />
<line x1="268.44" y1="60.13" x2="268.44" y2="55.12" stroke="#93299c" stroke-width="1.0" />
<line x1="265.84" y1="55.12" x2="271.04" y2="55.12" stroke="#93299c" stroke-width="1.1" />
<line x1="265.84" y1="60.13" x2="271.04" y2="60.13" stroke="#93299c" stroke-width="1.1" />
<line x1="278.47" y1="56.79" x2="278.47" y2="43.43" stroke="#93299c" stroke-width="1.0" />
<line x1="275.87" y1="43.43" x2="281.07" y2="43.43" stroke="#93299c" stroke-width="1.1" />
<line x1="275.87" y1="56.79" x2="281.07" y2="56.79" stroke="#93299c" stroke-width="1.1" />
<line x1="288.51" y1="56.79" x2="288.51" y2="45.10" stroke="#93299c" stroke-width="1.0" />
<line x1="285.91" y1="45.10" x2="291.11" y2="45.10" stroke="#93299c" stroke-width="1.1" />
<line x1="285.91" y1="56.79" x2="291.11" y2="56.79" stroke="#93299c" stroke-width="1.1" />
<line x1="298.54" y1="56.79" x2="298.54" y2="46.77" stroke="#93299c" stroke-width="1.0" />
<line x1="295.94" y1="46.77" x2="301.14" y2="46.77" stroke="#93299c" stroke-width="1.1" />
<line x1="295.94" y1="56.79" x2="301.14" y2="56.79" stroke="#93299c" stroke-width="1.1" />
<line x1="308.57" y1="55.96" x2="308.57" y2="47.61" stroke="#93299c" stroke-width="1.0" />
<line x1="305.97" y1="47.61" x2="311.17" y2="47.61" stroke="#93299c" stroke-width="1.1" />
<line x1="305.97" y1="55.96" x2="311.17" y2="55.96" stroke="#93299c" stroke-width="1.1" />
<line x1="318.60" y1="56.79" x2="318.60" y2="48.44" stroke="#93299c" stroke-width="1.0" />
<line x1="316.00" y1="48.44" x2="321.20" y2="48.44" stroke="#93299c" stroke-width="1.1" />
<line x1="316.00" y1="56.79" x2="321.20" y2="56.79" stroke="#93299c" stroke-width="1.1" />
<line x1="328.63" y1="57.63" x2="328.63" y2="49.28" stroke="#93299c" stroke-width="1.0" />
<line x1="326.03" y1="49.28" x2="331.23" y2="49.28" stroke="#93299c" stroke-width="1.1" />
<line x1="326.03" y1="57.63" x2="331.23" y2="57.63" stroke="#93299c" stroke-width="1.1" />
<polyline points="218.29,80.17 228.32,81.01 238.35,81.01 248.38,61.80 258.41,59.30 268.44,57.63 278.47,50.11 288.51,50.95 298.54,51.78 308.57,51.78 318.60,52.62 328.63,53.45" fill="none" stroke="#93299c" stroke-width="1.3" />
<path d="M218.29,77.37 L221.09,80.17 L218.29,82.97 L215.49,80.17 Z" fill="#93299c"/>
<path d="M228.32,78.21 L231.12,81.01 L228.32,83.81 L225.52,81.01 Z" fill="#93299c"/>
<path d="M238.35,78.21 L241.15,81.01 L238.35,83.81 L235.55,81.01 Z" fill="#93299c"/>
<path d="M248.38,59.00 L251.18,61.80 L248.38,64.60 L245.58,61.80 Z" fill="#93299c"/>
<path d="M258.41,56.50 L261.21,59.30 L258.41,62.10 L255.61,59.30 Z" fill="#93299c"/>
<path d="M268.44,54.83 L271.24,57.63 L268.44,60.43 L265.64,57.63 Z" fill="#93299c"/>
<path d="M278.47,47.31 L281.27,50.11 L278.47,52.91 L275.67,50.11 Z" fill="#93299c"/>
<path d="M288.51,48.15 L291.31,50.95 L288.51,53.75 L285.71,50.95 Z" fill="#93299c"/>
<path d="M298.54,48.98 L301.34,51.78 L298.54,54.58 L295.74,51.78 Z" fill="#93299c"/>
<path d="M308.57,48.98 L311.37,51.78 L308.57,54.58 L305.77,51.78 Z" fill="#93299c"/>
<path d="M318.60,49.82 L321.40,52.62 L318.60,55.42 L315.80,52.62 Z" fill="#93299c"/>
<path d="M328.63,50.65 L331.43,53.45 L328.63,56.25 L325.83,53.45 Z" fill="#93299c"/>
<line x1="218.29" y1="86.02" x2="218.29" y2="82.68" stroke="#131f8f" stroke-width="1.0" />
<line x1="215.69" y1="82.68" x2="220.89" y2="82.68" stroke="#131f8f" stroke-width="1.1" />
<line x1="215.69" y1="86.02" x2="220.89" y2="86.02" stroke="#131f8f" stroke-width="1.1" />
<line x1="228.32" y1="86.02" x2="228.32" y2="82.68" stroke="#131f8f" stroke-width="1.0" />
<line x1="225.72" y1="82.68" x2="230.92" y2="82.68" stroke="#131f8f" stroke-width="1.1" />
<line x1="225.72" y1="86.02" x2="230.92" y2="86.02" stroke="#131f8f" stroke-width="1.1" />
<line x1="238.35" y1="86.02" x2="238.35" y2="82.68" stroke="#131f8f" stroke-width="1.0" />
<line x1="235.75" y1="82.68" x2="240.95" y2="82.68" stroke="#131f8f" stroke-width="1.1" />
<line x1="235.75" y1="86.02" x2="240.95" y2="86.02" stroke="#131f8f" stroke-width="1.1" />
<line x1="248.38" y1="68.48" x2="248.38" y2="63.47" stroke="#131f8f" stroke-width="1.0" />
<line x1="245.78" y1="63.47" x2="250.98" y2="63.47" stroke="#131f8f" stroke-width="1.1" />
<line x1="245.78" y1="68.48" x2="250.98" y2="68.48" stroke="#131f8f" stroke-width="1.1" />
<line x1="258.41" y1="65.14" x2="258.41" y2="60.13" stroke="#131f8f" stroke-width="1.0" />
<line x1="255.81" y1="60.13" x2="261.01" y2="60.13" stroke="#131f8f" stroke-width="1.1" />
<line x1="255.81" y1="65.14" x2="261.01" y2="65.14" stroke="#131f8f" stroke-width="1.1" />
<line x1="268.44" y1="63.47" x2="268.44" y2="58.46" stroke="#131f8f" stroke-width="1.0" />
<line x1="265.84" y1="58.46" x2="271.04" y2="58.46" stroke="#131f8f" stroke-width="1.1" />
<line x1="265.84" y1="63.47" x2="271.04" y2="63.47" stroke="#131f8f" stroke-width="1.1" />
<line x1="278.47" y1="60.97" x2="278.47" y2="52.62" stroke="#131f8f" stroke-width="1.0" />
<line x1="275.87" y1="52.62" x2="281.07" y2="52.62" stroke="#131f8f" stroke-width="1.1" />
<line x1="275.87" y1="60.97" x2="281.07" y2="60.97" stroke="#131f8f" stroke-width="1.1" />
<line x1="288.51" y1="61.80" x2="288.51" y2="53.45" stroke="#131f8f" stroke-width="1.0" />
<line x1="285.91" y1="53.45" x2="291.11" y2="53.45" stroke="#131f8f" stroke-width="1.1" />
<line x1="285.91" y1="61.80" x2="291.11" y2="61.80" stroke="#131f8f" stroke-width="1.1" />
<line x1="298.54" y1="63.47" x2="298.54" y2="55.12" stroke="#131f8f" stroke-width="1.0" />
<line x1="295.94" y1="55.12" x2="301.14" y2="55.12" stroke="#131f8f" stroke-width="1.1" />
<line x1="295.94" y1="63.47" x2="301.14" y2="63.47" stroke="#131f8f" stroke-width="1.1" />
<line x1="308.57" y1="64.31" x2="308.57" y2="54.29" stroke="#131f8f" stroke-width="1.0" />
<line x1="305.97" y1="54.29" x2="311.17" y2="54.29" stroke="#131f8f" stroke-width="1.1" />
<line x1="305.97" y1="64.31" x2="311.17" y2="64.31" stroke="#131f8f" stroke-width="1.1" />
<line x1="318.60" y1="66.81" x2="318.60" y2="56.79" stroke="#131f8f" stroke-width="1.0" />
<line x1="316.00" y1="56.79" x2="321.20" y2="56.79" stroke="#131f8f" stroke-width="1.1" />
<line x1="316.00" y1="66.81" x2="321.20" y2="66.81" stroke="#131f8f" stroke-width="1.1" />
<line x1="328.63" y1="69.31" x2="328.63" y2="59.30" stroke="#131f8f" stroke-width="1.0" />
<line x1="326.03" y1="59.30" x2="331.23" y2="59.30" stroke="#131f8f" stroke-width="1.1" />
<line x1="326.03" y1="69.31" x2="331.23" y2="69.31" stroke="#131f8f" stroke-width="1.1" />
<polyline points="218.29,84.34 228.32,84.34 238.35,84.34 248.38,65.98 258.41,62.64 268.44,60.97 278.47,56.79 288.51,57.63 298.54,59.30 308.57,59.30 318.60,61.80 328.63,64.31" fill="none" stroke="#131f8f" stroke-width="1.3" />
<circle cx="218.29" cy="84.34" r="2.65" fill="#131f8f"/>
<circle cx="228.32" cy="84.34" r="2.65" fill="#131f8f"/>
<circle cx="238.35" cy="84.34" r="2.65" fill="#131f8f"/>
<circle cx="248.38" cy="65.98" r="2.65" fill="#131f8f"/>
<circle cx="258.41" cy="62.64" r="2.65" fill="#131f8f"/>
<circle cx="268.44" cy="60.97" r="2.65" fill="#131f8f"/>
<circle cx="278.47" cy="56.79" r="2.65" fill="#131f8f"/>
<circle cx="288.51" cy="57.63" r="2.65" fill="#131f8f"/>
<circle cx="298.54" cy="59.30" r="2.65" fill="#131f8f"/>
<circle cx="308.57" cy="59.30" r="2.65" fill="#131f8f"/>
<circle cx="318.60" cy="61.80" r="2.65" fill="#131f8f"/>
<circle cx="328.63" cy="64.31" r="2.65" fill="#131f8f"/>
<text x="40.10" y="17.00" font-size="8.2" textLength="40" lengthAdjust="spacingAndGlyphs" >Oligomycin</text>
<text x="89.00" y="17.00" font-size="8.2" textLength="22.5" lengthAdjust="spacingAndGlyphs" >FCCP</text>
<text x="123.50" y="14.30" font-size="8.4" textLength="45.3" lengthAdjust="spacingAndGlyphs" >Rotenone &amp;</text>
<text x="123.50" y="25.20" font-size="8.4" textLength="44.8" lengthAdjust="spacingAndGlyphs" >antimycin A</text>
<text x="208.60" y="17.00" font-size="8.6" textLength="42.8" lengthAdjust="spacingAndGlyphs" >Oligomycin</text>
<text x="262.60" y="17.00" font-size="8.4" textLength="23.6" lengthAdjust="spacingAndGlyphs" >FCCP</text>
<text x="304.70" y="14.30" font-size="8.4" textLength="46" lengthAdjust="spacingAndGlyphs" >Rotenone &amp;</text>
<text x="304.70" y="25.00" font-size="8.4" textLength="44.8" lengthAdjust="spacingAndGlyphs" >antimycin A</text>
<line x1="352.90" y1="52.40" x2="362.60" y2="52.40" stroke="#131f8f" stroke-width="1.3" />
<circle cx="357.70" cy="52.40" r="2.65" fill="#131f8f"/>
<text x="367.40" y="55.30" font-size="8" >Control</text>
<line x1="352.90" y1="63.98" x2="362.60" y2="63.98" stroke="#f2321e" stroke-width="1.3" />
<circle cx="357.70" cy="63.98" r="2.2" fill="#fff" stroke="#f2321e" stroke-width="1.1"/>
<text x="367.40" y="66.88" font-size="8" >PGE2</text>
<line x1="352.90" y1="75.56" x2="362.60" y2="75.56" stroke="#2a6a28" stroke-width="1.3" />
<path d="M354.90,77.56 L360.50,77.56 L357.70,72.76 Z" fill="#2a6a28"/>
<text x="367.40" y="78.46" font-size="8" >EP2i</text>
<line x1="352.90" y1="87.14" x2="362.60" y2="87.14" stroke="#f9a416" stroke-width="1.3" />
<path d="M354.90,85.14 L360.50,85.14 L357.70,89.94 Z" fill="#f9a416"/>
<text x="367.40" y="90.04" font-size="8" >EP4i</text>
<line x1="352.90" y1="98.72" x2="362.60" y2="98.72" stroke="#93299c" stroke-width="1.3" />
<path d="M357.70,95.92 L360.50,98.72 L357.70,101.52 L354.90,98.72 Z" fill="#93299c"/>
<text x="367.40" y="101.62" font-size="8" >EP2iEP4i</text>
<rect x="39.25" y="205.53" width="7.40" height="56.86" fill="#0c1a8e" stroke="#000" stroke-width="0.9" />
<rect x="51.70" y="240.32" width="7.40" height="22.08" fill="#f5321c" stroke="#000" stroke-width="0.9" />
<rect x="64.15" y="225.60" width="7.40" height="36.79" fill="#2b5f22" stroke="#000" stroke-width="0.9" />
<rect x="76.75" y="217.58" width="7.40" height="44.82" fill="#fba414" stroke="#000" stroke-width="0.9" />
<rect x="89.30" y="210.22" width="7.40" height="52.18" fill="#8c2a98" stroke="#000" stroke-width="0.9" />
<line x1="42.95" y1="206.87" x2="42.95" y2="204.20" stroke="#000" stroke-width="0.9" />
<line x1="40.95" y1="204.20" x2="44.95" y2="204.20" stroke="#000" stroke-width="0.9" />
<line x1="40.95" y1="206.87" x2="44.95" y2="206.87" stroke="#000" stroke-width="0.9" />
<line x1="55.40" y1="243.00" x2="55.40" y2="237.65" stroke="#000" stroke-width="0.9" />
<line x1="53.40" y1="237.65" x2="57.40" y2="237.65" stroke="#000" stroke-width="0.9" />
<line x1="53.40" y1="243.00" x2="57.40" y2="243.00" stroke="#000" stroke-width="0.9" />
<line x1="67.85" y1="227.61" x2="67.85" y2="223.60" stroke="#000" stroke-width="0.9" />
<line x1="65.85" y1="223.60" x2="69.85" y2="223.60" stroke="#000" stroke-width="0.9" />
<line x1="65.85" y1="227.61" x2="69.85" y2="227.61" stroke="#000" stroke-width="0.9" />
<line x1="80.45" y1="220.92" x2="80.45" y2="214.23" stroke="#000" stroke-width="0.9" />
<line x1="78.45" y1="214.23" x2="82.45" y2="214.23" stroke="#000" stroke-width="0.9" />
<line x1="78.45" y1="220.92" x2="82.45" y2="220.92" stroke="#000" stroke-width="0.9" />
<line x1="93.00" y1="212.89" x2="93.00" y2="207.54" stroke="#000" stroke-width="0.9" />
<line x1="91.00" y1="207.54" x2="95.00" y2="207.54" stroke="#000" stroke-width="0.9" />
<line x1="91.00" y1="212.89" x2="95.00" y2="212.89" stroke="#000" stroke-width="0.9" />
<circle cx="41.35" cy="204.20" r="1.7" fill="#000"/>
<circle cx="44.55" cy="204.87" r="1.7" fill="#000"/>
<circle cx="42.15" cy="206.20" r="1.7" fill="#000"/>
<circle cx="44.15" cy="205.53" r="1.7" fill="#000"/>
<circle cx="42.95" cy="206.20" r="1.7" fill="#000"/>
<circle cx="53.80" cy="236.98" r="1.5" fill="none" stroke="#000" stroke-width="0.9"/>
<circle cx="57.00" cy="238.98" r="1.5" fill="none" stroke="#000" stroke-width="0.9"/>
<circle cx="54.60" cy="241.66" r="1.5" fill="none" stroke="#000" stroke-width="0.9"/>
<circle cx="56.60" cy="242.33" r="1.5" fill="none" stroke="#000" stroke-width="0.9"/>
<circle cx="55.40" cy="243.67" r="1.5" fill="none" stroke="#000" stroke-width="0.9"/>
<path d="M64.25,225.10 L68.25,225.10 L66.25,221.60 Z" fill="#000"/>
<path d="M67.45,226.44 L71.45,226.44 L69.45,222.94 Z" fill="#000"/>
<path d="M65.05,227.77 L69.05,227.77 L67.05,224.27 Z" fill="#000"/>
<path d="M67.05,228.44 L71.05,228.44 L69.05,224.94 Z" fill="#000"/>
<path d="M65.85,229.11 L69.85,229.11 L67.85,225.61 Z" fill="#000"/>
<path d="M76.85,211.39 L80.85,211.39 L78.85,214.89 Z" fill="#000"/>
<path d="M80.05,212.73 L84.05,212.73 L82.05,216.23 Z" fill="#000"/>
<path d="M77.65,216.75 L81.65,216.75 L79.65,220.25 Z" fill="#000"/>
<path d="M79.65,217.41 L83.65,217.41 L81.65,220.91 Z" fill="#000"/>
<path d="M78.45,218.75 L82.45,218.75 L80.45,222.25 Z" fill="#000"/>
<path d="M91.40,204.67 L93.60,206.87 L91.40,209.07 L89.20,206.87 Z" fill="#000"/>
<path d="M94.60,206.68 L96.80,208.88 L94.60,211.08 L92.40,208.88 Z" fill="#000"/>
<path d="M92.20,208.02 L94.40,210.22 L92.20,212.42 L90.00,210.22 Z" fill="#000"/>
<path d="M94.20,209.36 L96.40,211.56 L94.20,213.76 L92.00,211.56 Z" fill="#000"/>
<path d="M93.00,210.03 L95.20,212.22 L93.00,214.42 L90.80,212.22 Z" fill="#000"/>
<line x1="34.30" y1="195.00" x2="34.30" y2="262.90" stroke="#000" stroke-width="1.1" />
<line x1="33.80" y1="262.40" x2="101.50" y2="262.40" stroke="#000" stroke-width="1.1" />
<line x1="31.30" y1="262.40" x2="34.30" y2="262.40" stroke="#000" stroke-width="1" />
<text x="29.50" y="265.30" font-size="8.2" text-anchor="end" >0</text>
<line x1="31.30" y1="249.02" x2="34.30" y2="249.02" stroke="#000" stroke-width="1" />
<text x="29.50" y="251.92" font-size="8.2" text-anchor="end" >20</text>
<line x1="31.30" y1="235.64" x2="34.30" y2="235.64" stroke="#000" stroke-width="1" />
<text x="29.50" y="238.54" font-size="8.2" text-anchor="end" >40</text>
<line x1="31.30" y1="222.26" x2="34.30" y2="222.26" stroke="#000" stroke-width="1" />
<text x="29.50" y="225.16" font-size="8.2" text-anchor="end" >60</text>
<line x1="31.30" y1="208.88" x2="34.30" y2="208.88" stroke="#000" stroke-width="1" />
<text x="29.50" y="211.78" font-size="8.2" text-anchor="end" >80</text>
<line x1="31.30" y1="195.50" x2="34.30" y2="195.50" stroke="#000" stroke-width="1" />
<text x="29.50" y="198.40" font-size="8.2" text-anchor="end" >100</text>
<line x1="42.95" y1="262.40" x2="42.95" y2="264.60" stroke="#000" stroke-width="1" />
<line x1="55.40" y1="262.40" x2="55.40" y2="264.60" stroke="#000" stroke-width="1" />
<line x1="67.85" y1="262.40" x2="67.85" y2="264.60" stroke="#000" stroke-width="1" />
<line x1="80.45" y1="262.40" x2="80.45" y2="264.60" stroke="#000" stroke-width="1" />
<line x1="93.00" y1="262.40" x2="93.00" y2="264.60" stroke="#000" stroke-width="1" />
<text x="69.20" y="151.00" font-size="8" text-anchor="middle" >Basal OCR</text>
<text x="14.60" y="229.95" font-size="8" text-anchor="middle" transform="rotate(-90 14.60 229.95)" >OCR (pmol/min)</text>
<polyline points="42.30,168.00 42.30,162.80 93.60,162.80 93.60,202.10" fill="none" stroke="#000" stroke-width="1" />
<text x="69.00" y="158.90" font-size="7.2" text-anchor="middle" >ns</text>
<polyline points="42.30,177.40 42.30,171.90 80.80,171.90 80.80,208.20" fill="none" stroke="#000" stroke-width="1" />
<polygon points="56.33,165.85 56.93,167.31 58.51,167.44 57.31,168.47 57.68,170.01 56.33,169.19 54.97,170.01 55.34,168.47 54.14,167.44 55.72,167.31" fill="#000"/>
<polygon points="60.18,165.85 60.78,167.31 62.36,167.44 61.16,168.47 61.53,170.01 60.18,169.19 58.82,170.01 59.19,168.47 57.99,167.44 59.57,167.31" fill="#000"/>
<polygon points="64.03,165.85 64.63,167.31 66.21,167.44 65.01,168.47 65.38,170.01 64.03,169.19 62.67,170.01 63.04,168.47 61.84,167.44 63.42,167.31" fill="#000"/>
<polygon points="67.88,165.85 68.48,167.31 70.06,167.44 68.86,168.47 69.23,170.01 67.88,169.19 66.52,170.01 66.89,168.47 65.69,167.44 67.27,167.31" fill="#000"/>
<polyline points="42.30,186.20 42.30,181.60 68.30,181.60 68.30,218.00" fill="none" stroke="#000" stroke-width="1" />
<polygon points="50.62,175.55 51.23,177.01 52.81,177.14 51.61,178.17 51.98,179.71 50.62,178.88 49.27,179.71 49.64,178.17 48.44,177.14 50.02,177.01" fill="#000"/>
<polygon points="54.48,175.55 55.08,177.01 56.66,177.14 55.46,178.17 55.83,179.71 54.48,178.88 53.12,179.71 53.49,178.17 52.29,177.14 53.87,177.01" fill="#000"/>
<polygon points="58.32,175.55 58.93,177.01 60.51,177.14 59.31,178.17 59.68,179.71 58.32,178.88 56.97,179.71 57.34,178.17 56.14,177.14 57.72,177.01" fill="#000"/>
<polygon points="62.17,175.55 62.78,177.01 64.36,177.14 63.16,178.17 63.53,179.71 62.17,178.88 60.82,179.71 61.19,178.17 59.99,177.14 61.57,177.01" fill="#000"/>
<polyline points="42.30,200.00 42.30,195.80 55.50,195.80 55.50,231.50" fill="none" stroke="#000" stroke-width="1" />
<polygon points="45.23,188.45 45.83,189.91 47.41,190.04 46.21,191.07 46.58,192.61 45.23,191.78 43.87,192.61 44.24,191.07 43.04,190.04 44.62,189.91" fill="#000"/>
<polygon points="49.08,188.45 49.68,189.91 51.26,190.04 50.06,191.07 50.43,192.61 49.08,191.78 47.72,192.61 48.09,191.07 46.89,190.04 48.47,189.91" fill="#000"/>
<polygon points="52.92,188.45 53.53,189.91 55.11,190.04 53.91,191.07 54.28,192.61 52.92,191.78 51.57,192.61 51.94,191.07 50.74,190.04 52.32,189.91" fill="#000"/>
<polygon points="56.77,188.45 57.38,189.91 58.96,190.04 57.76,191.07 58.13,192.61 56.77,191.78 55.42,192.61 55.79,191.07 54.59,190.04 56.17,189.91" fill="#000"/>
<text x="36.05" y="273.80" font-size="7.8" text-anchor="end" >PGE<tspan font-size="5" dy="1.8">2</tspan></text>
<line x1="41.75" y1="271.40" x2="44.15" y2="271.40" stroke="#333" stroke-width="0.85" />
<line x1="53.70" y1="271.10" x2="57.10" y2="271.10" stroke="#222" stroke-width="0.9" />
<line x1="55.40" y1="269.40" x2="55.40" y2="272.80" stroke="#222" stroke-width="0.9" />
<line x1="66.15" y1="271.10" x2="69.55" y2="271.10" stroke="#222" stroke-width="0.9" />
<line x1="67.85" y1="269.40" x2="67.85" y2="272.80" stroke="#222" stroke-width="0.9" />
<line x1="78.75" y1="271.10" x2="82.15" y2="271.10" stroke="#222" stroke-width="0.9" />
<line x1="80.45" y1="269.40" x2="80.45" y2="272.80" stroke="#222" stroke-width="0.9" />
<line x1="91.30" y1="271.10" x2="94.70" y2="271.10" stroke="#222" stroke-width="0.9" />
<line x1="93.00" y1="269.40" x2="93.00" y2="272.80" stroke="#222" stroke-width="0.9" />
<text x="37.45" y="283.80" font-size="7.8" text-anchor="end" >EP2i</text>
<line x1="41.75" y1="281.50" x2="44.15" y2="281.50" stroke="#333" stroke-width="0.85" />
<line x1="54.20" y1="281.50" x2="56.60" y2="281.50" stroke="#333" stroke-width="0.85" />
<line x1="66.15" y1="281.20" x2="69.55" y2="281.20" stroke="#222" stroke-width="0.9" />
<line x1="67.85" y1="279.50" x2="67.85" y2="282.90" stroke="#222" stroke-width="0.9" />
<line x1="79.25" y1="281.50" x2="81.65" y2="281.50" stroke="#333" stroke-width="0.85" />
<line x1="91.30" y1="281.20" x2="94.70" y2="281.20" stroke="#222" stroke-width="0.9" />
<line x1="93.00" y1="279.50" x2="93.00" y2="282.90" stroke="#222" stroke-width="0.9" />
<text x="37.45" y="293.50" font-size="7.8" text-anchor="end" >EP4i</text>
<line x1="41.75" y1="291.20" x2="44.15" y2="291.20" stroke="#333" stroke-width="0.85" />
<line x1="54.20" y1="291.20" x2="56.60" y2="291.20" stroke="#333" stroke-width="0.85" />
<line x1="66.65" y1="291.20" x2="69.05" y2="291.20" stroke="#333" stroke-width="0.85" />
<line x1="78.75" y1="290.90" x2="82.15" y2="290.90" stroke="#222" stroke-width="0.9" />
<line x1="80.45" y1="289.20" x2="80.45" y2="292.60" stroke="#222" stroke-width="0.9" />
<line x1="91.30" y1="290.90" x2="94.70" y2="290.90" stroke="#222" stroke-width="0.9" />
<line x1="93.00" y1="289.20" x2="93.00" y2="292.60" stroke="#222" stroke-width="0.9" />
<rect x="136.20" y="232.53" width="7.80" height="29.97" fill="#0c1a8e" stroke="#000" stroke-width="0.9" />
<rect x="148.90" y="254.90" width="7.80" height="7.60" fill="#f5321c" stroke="#000" stroke-width="0.9" />
<rect x="161.65" y="241.92" width="7.80" height="20.58" fill="#2b5f22" stroke="#000" stroke-width="0.9" />
<rect x="174.35" y="228.06" width="7.80" height="34.44" fill="#fba414" stroke="#000" stroke-width="0.9" />
<rect x="187.05" y="225.37" width="7.80" height="37.13" fill="#8c2a98" stroke="#000" stroke-width="0.9" />
<line x1="140.10" y1="242.37" x2="140.10" y2="222.69" stroke="#000" stroke-width="0.9" />
<line x1="138.10" y1="222.69" x2="142.10" y2="222.69" stroke="#000" stroke-width="0.9" />
<line x1="138.10" y1="242.37" x2="142.10" y2="242.37" stroke="#000" stroke-width="0.9" />
<line x1="152.80" y1="258.47" x2="152.80" y2="251.32" stroke="#000" stroke-width="0.9" />
<line x1="150.80" y1="251.32" x2="154.80" y2="251.32" stroke="#000" stroke-width="0.9" />
<line x1="150.80" y1="258.47" x2="154.80" y2="258.47" stroke="#000" stroke-width="0.9" />
<line x1="165.55" y1="254.45" x2="165.55" y2="229.40" stroke="#000" stroke-width="0.9" />
<line x1="163.55" y1="229.40" x2="167.55" y2="229.40" stroke="#000" stroke-width="0.9" />
<line x1="163.55" y1="254.45" x2="167.55" y2="254.45" stroke="#000" stroke-width="0.9" />
<line x1="178.25" y1="236.55" x2="178.25" y2="219.56" stroke="#000" stroke-width="0.9" />
<line x1="176.25" y1="219.56" x2="180.25" y2="219.56" stroke="#000" stroke-width="0.9" />
<line x1="176.25" y1="236.55" x2="180.25" y2="236.55" stroke="#000" stroke-width="0.9" />
<line x1="190.95" y1="235.66" x2="190.95" y2="215.08" stroke="#000" stroke-width="0.9" />
<line x1="188.95" y1="215.08" x2="192.95" y2="215.08" stroke="#000" stroke-width="0.9" />
<line x1="188.95" y1="235.66" x2="192.95" y2="235.66" stroke="#000" stroke-width="0.9" />
<circle cx="138.50" cy="220.90" r="1.7" fill="#000"/>
<circle cx="141.70" cy="223.13" r="1.7" fill="#000"/>
<circle cx="139.30" cy="228.95" r="1.7" fill="#000"/>
<circle cx="141.30" cy="237.90" r="1.7" fill="#000"/>
<circle cx="140.10" cy="242.37" r="1.7" fill="#000"/>
<circle cx="151.20" cy="249.97" r="1.5" fill="none" stroke="#000" stroke-width="0.9"/>
<circle cx="154.40" cy="252.66" r="1.5" fill="none" stroke="#000" stroke-width="0.9"/>
<circle cx="152.00" cy="255.79" r="1.5" fill="none" stroke="#000" stroke-width="0.9"/>
<circle cx="154.00" cy="258.03" r="1.5" fill="none" stroke="#000" stroke-width="0.9"/>
<circle cx="152.80" cy="258.92" r="1.5" fill="none" stroke="#000" stroke-width="0.9"/>
<path d="M161.95,226.87 L165.95,226.87 L163.95,223.37 Z" fill="#000"/>
<path d="M165.15,237.16 L169.15,237.16 L167.15,233.66 Z" fill="#000"/>
<path d="M162.75,246.11 L166.75,246.11 L164.75,242.61 Z" fill="#000"/>
<path d="M164.75,250.58 L168.75,250.58 L166.75,247.08 Z" fill="#000"/>
<path d="M163.55,252.82 L167.55,252.82 L165.55,249.32 Z" fill="#000"/>
<path d="M174.65,218.50 L178.65,218.50 L176.65,222.00 Z" fill="#000"/>
<path d="M177.85,222.98 L181.85,222.98 L179.85,226.48 Z" fill="#000"/>
<path d="M175.45,228.79 L179.45,228.79 L177.45,232.29 Z" fill="#000"/>
<path d="M177.45,231.92 L181.45,231.92 L179.45,235.42 Z" fill="#000"/>
<path d="M176.25,236.40 L180.25,236.40 L178.25,239.90 Z" fill="#000"/>
<path d="M189.35,211.99 L191.55,214.19 L189.35,216.39 L187.15,214.19 Z" fill="#000"/>
<path d="M192.55,215.57 L194.75,217.77 L192.55,219.97 L190.35,217.77 Z" fill="#000"/>
<path d="M190.15,222.28 L192.35,224.48 L190.15,226.68 L187.95,224.48 Z" fill="#000"/>
<path d="M192.15,228.99 L194.35,231.19 L192.15,233.39 L189.95,231.19 Z" fill="#000"/>
<path d="M190.95,233.46 L193.15,235.66 L190.95,237.86 L188.75,235.66 Z" fill="#000"/>
<line x1="131.50" y1="194.90" x2="131.50" y2="263.00" stroke="#000" stroke-width="1.1" />
<line x1="131.00" y1="262.50" x2="199.40" y2="262.50" stroke="#000" stroke-width="1.1" />
<line x1="128.50" y1="262.50" x2="131.50" y2="262.50" stroke="#000" stroke-width="1" />
<text x="126.70" y="265.40" font-size="8.2" text-anchor="end" >0</text>
<line x1="128.50" y1="240.13" x2="131.50" y2="240.13" stroke="#000" stroke-width="1" />
<text x="126.70" y="243.03" font-size="8.2" text-anchor="end" >50</text>
<line x1="128.50" y1="217.77" x2="131.50" y2="217.77" stroke="#000" stroke-width="1" />
<text x="126.70" y="220.67" font-size="8.2" text-anchor="end" >100</text>
<line x1="128.50" y1="195.40" x2="131.50" y2="195.40" stroke="#000" stroke-width="1" />
<text x="126.70" y="198.30" font-size="8.2" text-anchor="end" >150</text>
<line x1="140.10" y1="262.50" x2="140.10" y2="264.70" stroke="#000" stroke-width="1" />
<line x1="152.80" y1="262.50" x2="152.80" y2="264.70" stroke="#000" stroke-width="1" />
<line x1="165.55" y1="262.50" x2="165.55" y2="264.70" stroke="#000" stroke-width="1" />
<line x1="178.25" y1="262.50" x2="178.25" y2="264.70" stroke="#000" stroke-width="1" />
<line x1="190.95" y1="262.50" x2="190.95" y2="264.70" stroke="#000" stroke-width="1" />
<text x="166.80" y="151.00" font-size="8" text-anchor="middle" >SRC</text>
<text x="111.00" y="229.95" font-size="8" text-anchor="middle" transform="rotate(-90 111.00 229.95)" >OCR (pmol/min)</text>
<polyline points="140.00,171.30 140.00,163.60 191.00,163.60 191.00,204.70" fill="none" stroke="#000" stroke-width="1" />
<text x="166.90" y="160.00" font-size="7.2" text-anchor="middle" >ns</text>
<polyline points="140.00,184.30 140.00,175.70 178.40,175.70 178.40,204.70" fill="none" stroke="#000" stroke-width="1" />
<text x="159.90" y="173.00" font-size="7.2" text-anchor="middle" >ns</text>
<polyline points="140.00,193.90 140.00,189.80 165.40,189.80 165.40,213.40" fill="none" stroke="#000" stroke-width="1" />
<text x="154.40" y="186.20" font-size="7.2" text-anchor="middle" >ns</text>
<polyline points="140.00,214.00 140.00,202.10 153.00,202.10 153.00,247.80" fill="none" stroke="#000" stroke-width="1" />
<polygon points="144.97,195.35 145.58,196.81 147.16,196.94 145.96,197.97 146.33,199.51 144.97,198.69 143.62,199.51 143.99,197.97 142.79,196.94 144.37,196.81" fill="#000"/>
<polygon points="148.83,195.35 149.43,196.81 151.01,196.94 149.81,197.97 150.18,199.51 148.83,198.69 147.47,199.51 147.84,197.97 146.64,196.94 148.22,196.81" fill="#000"/>
<text x="133.20" y="273.80" font-size="7.8" text-anchor="end" >PGE<tspan font-size="5" dy="1.8">2</tspan></text>
<line x1="138.90" y1="271.40" x2="141.30" y2="271.40" stroke="#333" stroke-width="0.85" />
<line x1="151.10" y1="271.10" x2="154.50" y2="271.10" stroke="#222" stroke-width="0.9" />
<line x1="152.80" y1="269.40" x2="152.80" y2="272.80" stroke="#222" stroke-width="0.9" />
<line x1="163.85" y1="271.10" x2="167.25" y2="271.10" stroke="#222" stroke-width="0.9" />
<line x1="165.55" y1="269.40" x2="165.55" y2="272.80" stroke="#222" stroke-width="0.9" />
<line x1="176.55" y1="271.10" x2="179.95" y2="271.10" stroke="#222" stroke-width="0.9" />
<line x1="178.25" y1="269.40" x2="178.25" y2="272.80" stroke="#222" stroke-width="0.9" />
<line x1="189.25" y1="271.10" x2="192.65" y2="271.10" stroke="#222" stroke-width="0.9" />
<line x1="190.95" y1="269.40" x2="190.95" y2="272.80" stroke="#222" stroke-width="0.9" />
<text x="134.60" y="283.80" font-size="7.8" text-anchor="end" >EP2i</text>
<line x1="138.90" y1="281.50" x2="141.30" y2="281.50" stroke="#333" stroke-width="0.85" />
<line x1="151.60" y1="281.50" x2="154.00" y2="281.50" stroke="#333" stroke-width="0.85" />
<line x1="163.85" y1="281.20" x2="167.25" y2="281.20" stroke="#222" stroke-width="0.9" />
<line x1="165.55" y1="279.50" x2="165.55" y2="282.90" stroke="#222" stroke-width="0.9" />
<line x1="177.05" y1="281.50" x2="179.45" y2="281.50" stroke="#333" stroke-width="0.85" />
<line x1="189.25" y1="281.20" x2="192.65" y2="281.20" stroke="#222" stroke-width="0.9" />
<line x1="190.95" y1="279.50" x2="190.95" y2="282.90" stroke="#222" stroke-width="0.9" />
<text x="134.60" y="293.50" font-size="7.8" text-anchor="end" >EP4i</text>
<line x1="138.90" y1="291.20" x2="141.30" y2="291.20" stroke="#333" stroke-width="0.85" />
<line x1="151.60" y1="291.20" x2="154.00" y2="291.20" stroke="#333" stroke-width="0.85" />
<line x1="164.35" y1="291.20" x2="166.75" y2="291.20" stroke="#333" stroke-width="0.85" />
<line x1="176.55" y1="290.90" x2="179.95" y2="290.90" stroke="#222" stroke-width="0.9" />
<line x1="178.25" y1="289.20" x2="178.25" y2="292.60" stroke="#222" stroke-width="0.9" />
<line x1="189.25" y1="290.90" x2="192.65" y2="290.90" stroke="#222" stroke-width="0.9" />
<line x1="190.95" y1="289.20" x2="190.95" y2="292.60" stroke="#222" stroke-width="0.9" />
<rect x="238.50" y="211.28" width="7.80" height="51.22" fill="#0c1a8e" stroke="#000" stroke-width="0.9" />
<rect x="250.75" y="245.65" width="7.80" height="16.85" fill="#f5321c" stroke="#000" stroke-width="0.9" />
<rect x="263.55" y="228.46" width="7.80" height="34.04" fill="#2b5f22" stroke="#000" stroke-width="0.9" />
<rect x="276.25" y="213.63" width="7.80" height="48.87" fill="#fba414" stroke="#000" stroke-width="0.9" />
<rect x="288.30" y="208.58" width="7.80" height="53.92" fill="#8c2a98" stroke="#000" stroke-width="0.9" />
<line x1="242.40" y1="218.02" x2="242.40" y2="204.54" stroke="#000" stroke-width="0.9" />
<line x1="240.40" y1="204.54" x2="244.40" y2="204.54" stroke="#000" stroke-width="0.9" />
<line x1="240.40" y1="218.02" x2="244.40" y2="218.02" stroke="#000" stroke-width="0.9" />
<line x1="254.65" y1="248.35" x2="254.65" y2="242.95" stroke="#000" stroke-width="0.9" />
<line x1="252.65" y1="242.95" x2="256.65" y2="242.95" stroke="#000" stroke-width="0.9" />
<line x1="252.65" y1="248.35" x2="256.65" y2="248.35" stroke="#000" stroke-width="0.9" />
<line x1="267.45" y1="240.26" x2="267.45" y2="216.67" stroke="#000" stroke-width="0.9" />
<line x1="265.45" y1="216.67" x2="269.45" y2="216.67" stroke="#000" stroke-width="0.9" />
<line x1="265.45" y1="240.26" x2="269.45" y2="240.26" stroke="#000" stroke-width="0.9" />
<line x1="280.15" y1="221.05" x2="280.15" y2="206.22" stroke="#000" stroke-width="0.9" />
<line x1="278.15" y1="206.22" x2="282.15" y2="206.22" stroke="#000" stroke-width="0.9" />
<line x1="278.15" y1="221.05" x2="282.15" y2="221.05" stroke="#000" stroke-width="0.9" />
<line x1="292.20" y1="217.00" x2="292.20" y2="200.16" stroke="#000" stroke-width="0.9" />
<line x1="290.20" y1="200.16" x2="294.20" y2="200.16" stroke="#000" stroke-width="0.9" />
<line x1="290.20" y1="217.00" x2="294.20" y2="217.00" stroke="#000" stroke-width="0.9" />
<circle cx="240.80" cy="203.52" r="1.7" fill="#000"/>
<circle cx="244.00" cy="206.89" r="1.7" fill="#000"/>
<circle cx="241.60" cy="211.95" r="1.7" fill="#000"/>
<circle cx="243.60" cy="215.32" r="1.7" fill="#000"/>
<circle cx="242.40" cy="218.69" r="1.7" fill="#000"/>
<circle cx="253.05" cy="242.28" r="1.5" fill="none" stroke="#000" stroke-width="0.9"/>
<circle cx="256.25" cy="243.97" r="1.5" fill="none" stroke="#000" stroke-width="0.9"/>
<circle cx="253.85" cy="245.65" r="1.5" fill="none" stroke="#000" stroke-width="0.9"/>
<circle cx="255.85" cy="247.34" r="1.5" fill="none" stroke="#000" stroke-width="0.9"/>
<circle cx="254.65" cy="248.35" r="1.5" fill="none" stroke="#000" stroke-width="0.9"/>
<path d="M263.85,217.49 L267.85,217.49 L265.85,213.99 Z" fill="#000"/>
<path d="M267.05,225.25 L271.05,225.25 L269.05,221.75 Z" fill="#000"/>
<path d="M264.65,230.30 L268.65,230.30 L266.65,226.80 Z" fill="#000"/>
<path d="M266.65,235.35 L270.65,235.35 L268.65,231.85 Z" fill="#000"/>
<path d="M265.45,237.04 L269.45,237.04 L267.45,233.54 Z" fill="#000"/>
<path d="M276.55,202.02 L280.55,202.02 L278.55,205.52 Z" fill="#000"/>
<path d="M279.75,207.08 L283.75,207.08 L281.75,210.58 Z" fill="#000"/>
<path d="M277.35,212.13 L281.35,212.13 L279.35,215.63 Z" fill="#000"/>
<path d="M279.35,217.19 L283.35,217.19 L281.35,220.69 Z" fill="#000"/>
<path d="M278.15,218.88 L282.15,218.88 L280.15,222.38 Z" fill="#000"/>
<path d="M290.60,196.27 L292.80,198.47 L290.60,200.67 L288.40,198.47 Z" fill="#000"/>
<path d="M293.80,199.64 L296.00,201.84 L293.80,204.04 L291.60,201.84 Z" fill="#000"/>
<path d="M291.40,206.38 L293.60,208.58 L291.40,210.78 L289.20,208.58 Z" fill="#000"/>
<path d="M293.40,211.44 L295.60,213.63 L293.40,215.83 L291.20,213.63 Z" fill="#000"/>
<path d="M292.20,213.12 L294.40,215.32 L292.20,217.52 L290.00,215.32 Z" fill="#000"/>
<line x1="234.00" y1="194.60" x2="234.00" y2="263.00" stroke="#000" stroke-width="1.1" />
<line x1="233.50" y1="262.50" x2="301.00" y2="262.50" stroke="#000" stroke-width="1.1" />
<line x1="231.00" y1="262.50" x2="234.00" y2="262.50" stroke="#000" stroke-width="1" />
<text x="229.20" y="265.40" font-size="8.2" text-anchor="end" >0</text>
<line x1="231.00" y1="245.65" x2="234.00" y2="245.65" stroke="#000" stroke-width="1" />
<text x="229.20" y="248.55" font-size="8.2" text-anchor="end" >50</text>
<line x1="231.00" y1="228.80" x2="234.00" y2="228.80" stroke="#000" stroke-width="1" />
<text x="229.20" y="231.70" font-size="8.2" text-anchor="end" >100</text>
<line x1="231.00" y1="211.95" x2="234.00" y2="211.95" stroke="#000" stroke-width="1" />
<text x="229.20" y="214.85" font-size="8.2" text-anchor="end" >150</text>
<line x1="231.00" y1="195.10" x2="234.00" y2="195.10" stroke="#000" stroke-width="1" />
<text x="229.20" y="198.00" font-size="8.2" text-anchor="end" >200</text>
<line x1="242.40" y1="262.50" x2="242.40" y2="264.70" stroke="#000" stroke-width="1" />
<line x1="254.65" y1="262.50" x2="254.65" y2="264.70" stroke="#000" stroke-width="1" />
<line x1="267.45" y1="262.50" x2="267.45" y2="264.70" stroke="#000" stroke-width="1" />
<line x1="280.15" y1="262.50" x2="280.15" y2="264.70" stroke="#000" stroke-width="1" />
<line x1="292.20" y1="262.50" x2="292.20" y2="264.70" stroke="#000" stroke-width="1" />
<text x="267.20" y="151.00" font-size="8" text-anchor="middle" >Maximal Respiration</text>
<text x="214.00" y="229.80" font-size="8" text-anchor="middle" transform="rotate(-90 214.00 229.80)" >OCR (pmol/min)</text>
<polyline points="242.30,168.20 242.30,163.60 292.80,163.60 292.80,191.30" fill="none" stroke="#000" stroke-width="1" />
<text x="268.40" y="159.50" font-size="7.2" text-anchor="middle" >ns</text>
<polyline points="242.30,178.50 242.30,173.40 280.20,173.40 280.20,195.40" fill="none" stroke="#000" stroke-width="1" />
<text x="262.00" y="169.80" font-size="7.2" text-anchor="middle" >ns</text>
<polyline points="242.30,185.20 242.30,182.60 267.40,182.60 267.40,205.70" fill="none" stroke="#000" stroke-width="1" />
<polygon points="254.80,176.05 255.41,177.51 256.99,177.64 255.78,178.67 256.15,180.21 254.80,179.38 253.45,180.21 253.82,178.67 252.61,177.64 254.19,177.51" fill="#000"/>
<polyline points="242.30,199.00 242.30,194.60 254.40,194.60 254.40,238.00" fill="none" stroke="#000" stroke-width="1" />
<polygon points="245.03,187.35 245.63,188.81 247.21,188.94 246.01,189.97 246.38,191.51 245.03,190.69 243.67,191.51 244.04,189.97 242.84,188.94 244.42,188.81" fill="#000"/>
<polygon points="248.88,187.35 249.48,188.81 251.06,188.94 249.86,189.97 250.23,191.51 248.88,190.69 247.52,191.51 247.89,189.97 246.69,188.94 248.27,188.81" fill="#000"/>
<polygon points="252.73,187.35 253.33,188.81 254.91,188.94 253.71,189.97 254.08,191.51 252.73,190.69 251.37,191.51 251.74,189.97 250.54,188.94 252.12,188.81" fill="#000"/>
<polygon points="256.57,187.35 257.18,188.81 258.76,188.94 257.56,189.97 257.93,191.51 256.57,190.69 255.22,191.51 255.59,189.97 254.39,188.94 255.97,188.81" fill="#000"/>
<text x="235.50" y="273.80" font-size="7.8" text-anchor="end" >PGE<tspan font-size="5" dy="1.8">2</tspan></text>
<line x1="241.20" y1="271.40" x2="243.60" y2="271.40" stroke="#333" stroke-width="0.85" />
<line x1="252.95" y1="271.10" x2="256.35" y2="271.10" stroke="#222" stroke-width="0.9" />
<line x1="254.65" y1="269.40" x2="254.65" y2="272.80" stroke="#222" stroke-width="0.9" />
<line x1="265.75" y1="271.10" x2="269.15" y2="271.10" stroke="#222" stroke-width="0.9" />
<line x1="267.45" y1="269.40" x2="267.45" y2="272.80" stroke="#222" stroke-width="0.9" />
<line x1="278.45" y1="271.10" x2="281.85" y2="271.10" stroke="#222" stroke-width="0.9" />
<line x1="280.15" y1="269.40" x2="280.15" y2="272.80" stroke="#222" stroke-width="0.9" />
<line x1="290.50" y1="271.10" x2="293.90" y2="271.10" stroke="#222" stroke-width="0.9" />
<line x1="292.20" y1="269.40" x2="292.20" y2="272.80" stroke="#222" stroke-width="0.9" />
<text x="236.90" y="283.80" font-size="7.8" text-anchor="end" >EP2i</text>
<line x1="241.20" y1="281.50" x2="243.60" y2="281.50" stroke="#333" stroke-width="0.85" />
<line x1="253.45" y1="281.50" x2="255.85" y2="281.50" stroke="#333" stroke-width="0.85" />
<line x1="265.75" y1="281.20" x2="269.15" y2="281.20" stroke="#222" stroke-width="0.9" />
<line x1="267.45" y1="279.50" x2="267.45" y2="282.90" stroke="#222" stroke-width="0.9" />
<line x1="278.95" y1="281.50" x2="281.35" y2="281.50" stroke="#333" stroke-width="0.85" />
<line x1="290.50" y1="281.20" x2="293.90" y2="281.20" stroke="#222" stroke-width="0.9" />
<line x1="292.20" y1="279.50" x2="292.20" y2="282.90" stroke="#222" stroke-width="0.9" />
<text x="236.90" y="293.50" font-size="7.8" text-anchor="end" >EP4i</text>
<line x1="241.20" y1="291.20" x2="243.60" y2="291.20" stroke="#333" stroke-width="0.85" />
<line x1="253.45" y1="291.20" x2="255.85" y2="291.20" stroke="#333" stroke-width="0.85" />
<line x1="266.25" y1="291.20" x2="268.65" y2="291.20" stroke="#333" stroke-width="0.85" />
<line x1="278.45" y1="290.90" x2="281.85" y2="290.90" stroke="#222" stroke-width="0.9" />
<line x1="280.15" y1="289.20" x2="280.15" y2="292.60" stroke="#222" stroke-width="0.9" />
<line x1="290.50" y1="290.90" x2="293.90" y2="290.90" stroke="#222" stroke-width="0.9" />
<line x1="292.20" y1="289.20" x2="292.20" y2="292.60" stroke="#222" stroke-width="0.9" />
<rect x="340.55" y="210.65" width="7.90" height="50.85" fill="#0c1a8e" stroke="#000" stroke-width="0.9" />
<rect x="353.10" y="242.01" width="7.90" height="19.49" fill="#f5321c" stroke="#000" stroke-width="0.9" />
<rect x="365.80" y="230.99" width="7.90" height="30.51" fill="#2b5f22" stroke="#000" stroke-width="0.9" />
<rect x="378.65" y="219.12" width="7.90" height="42.38" fill="#fba414" stroke="#000" stroke-width="0.9" />
<rect x="391.30" y="213.19" width="7.90" height="48.31" fill="#8c2a98" stroke="#000" stroke-width="0.9" />
<line x1="344.50" y1="211.92" x2="344.50" y2="209.38" stroke="#000" stroke-width="0.9" />
<line x1="342.50" y1="209.38" x2="346.50" y2="209.38" stroke="#000" stroke-width="0.9" />
<line x1="342.50" y1="211.92" x2="346.50" y2="211.92" stroke="#000" stroke-width="0.9" />
<line x1="357.05" y1="243.70" x2="357.05" y2="240.31" stroke="#000" stroke-width="0.9" />
<line x1="355.05" y1="240.31" x2="359.05" y2="240.31" stroke="#000" stroke-width="0.9" />
<line x1="355.05" y1="243.70" x2="359.05" y2="243.70" stroke="#000" stroke-width="0.9" />
<line x1="369.75" y1="232.69" x2="369.75" y2="229.29" stroke="#000" stroke-width="0.9" />
<line x1="367.75" y1="229.29" x2="371.75" y2="229.29" stroke="#000" stroke-width="0.9" />
<line x1="367.75" y1="232.69" x2="371.75" y2="232.69" stroke="#000" stroke-width="0.9" />
<line x1="382.60" y1="221.67" x2="382.60" y2="216.58" stroke="#000" stroke-width="0.9" />
<line x1="380.60" y1="216.58" x2="384.60" y2="216.58" stroke="#000" stroke-width="0.9" />
<line x1="380.60" y1="221.67" x2="384.60" y2="221.67" stroke="#000" stroke-width="0.9" />
<line x1="395.25" y1="215.73" x2="395.25" y2="210.65" stroke="#000" stroke-width="0.9" />
<line x1="393.25" y1="210.65" x2="397.25" y2="210.65" stroke="#000" stroke-width="0.9" />
<line x1="393.25" y1="215.73" x2="397.25" y2="215.73" stroke="#000" stroke-width="0.9" />
<circle cx="342.90" cy="209.80" r="1.7" fill="#000"/>
<circle cx="346.10" cy="210.65" r="1.7" fill="#000"/>
<circle cx="343.70" cy="211.50" r="1.7" fill="#000"/>
<circle cx="345.70" cy="210.65" r="1.7" fill="#000"/>
<circle cx="344.50" cy="210.65" r="1.7" fill="#000"/>
<circle cx="355.45" cy="240.31" r="1.5" fill="none" stroke="#000" stroke-width="0.9"/>
<circle cx="358.65" cy="241.16" r="1.5" fill="none" stroke="#000" stroke-width="0.9"/>
<circle cx="356.25" cy="242.01" r="1.5" fill="none" stroke="#000" stroke-width="0.9"/>
<circle cx="358.25" cy="242.85" r="1.5" fill="none" stroke="#000" stroke-width="0.9"/>
<circle cx="357.05" cy="243.70" r="1.5" fill="none" stroke="#000" stroke-width="0.9"/>
<path d="M366.15,229.95 L370.15,229.95 L368.15,226.45 Z" fill="#000"/>
<path d="M369.35,231.64 L373.35,231.64 L371.35,228.14 Z" fill="#000"/>
<path d="M366.95,232.49 L370.95,232.49 L368.95,228.99 Z" fill="#000"/>
<path d="M368.95,233.34 L372.95,233.34 L370.95,229.84 Z" fill="#000"/>
<path d="M367.75,234.19 L371.75,234.19 L369.75,230.69 Z" fill="#000"/>
<path d="M379.00,213.39 L383.00,213.39 L381.00,216.89 Z" fill="#000"/>
<path d="M382.20,215.08 L386.20,215.08 L384.20,218.58 Z" fill="#000"/>
<path d="M379.80,217.62 L383.80,217.62 L381.80,221.12 Z" fill="#000"/>
<path d="M381.80,219.32 L385.80,219.32 L383.80,222.82 Z" fill="#000"/>
<path d="M380.60,220.17 L384.60,220.17 L382.60,223.67 Z" fill="#000"/>
<path d="M393.65,205.06 L395.85,207.26 L393.65,209.46 L391.45,207.26 Z" fill="#000"/>
<path d="M396.85,208.45 L399.05,210.65 L396.85,212.85 L394.65,210.65 Z" fill="#000"/>
<path d="M394.45,210.15 L396.65,212.34 L394.45,214.54 L392.25,212.34 Z" fill="#000"/>
<path d="M396.45,211.84 L398.65,214.04 L396.45,216.24 L394.25,214.04 Z" fill="#000"/>
<path d="M395.25,212.69 L397.45,214.89 L395.25,217.09 L393.05,214.89 Z" fill="#000"/>
<line x1="336.10" y1="193.20" x2="336.10" y2="262.00" stroke="#000" stroke-width="1.1" />
<line x1="335.60" y1="261.50" x2="403.50" y2="261.50" stroke="#000" stroke-width="1.1" />
<line x1="333.10" y1="261.50" x2="336.10" y2="261.50" stroke="#000" stroke-width="1" />
<text x="331.30" y="264.40" font-size="8.2" text-anchor="end" >0</text>
<line x1="333.10" y1="244.55" x2="336.10" y2="244.55" stroke="#000" stroke-width="1" />
<text x="331.30" y="247.45" font-size="8.2" text-anchor="end" >20</text>
<line x1="333.10" y1="227.60" x2="336.10" y2="227.60" stroke="#000" stroke-width="1" />
<text x="331.30" y="230.50" font-size="8.2" text-anchor="end" >40</text>
<line x1="333.10" y1="210.65" x2="336.10" y2="210.65" stroke="#000" stroke-width="1" />
<text x="331.30" y="213.55" font-size="8.2" text-anchor="end" >60</text>
<line x1="333.10" y1="193.70" x2="336.10" y2="193.70" stroke="#000" stroke-width="1" />
<text x="331.30" y="196.60" font-size="8.2" text-anchor="end" >80</text>
<line x1="344.50" y1="261.50" x2="344.50" y2="263.70" stroke="#000" stroke-width="1" />
<line x1="357.05" y1="261.50" x2="357.05" y2="263.70" stroke="#000" stroke-width="1" />
<line x1="369.75" y1="261.50" x2="369.75" y2="263.70" stroke="#000" stroke-width="1" />
<line x1="382.60" y1="261.50" x2="382.60" y2="263.70" stroke="#000" stroke-width="1" />
<line x1="395.25" y1="261.50" x2="395.25" y2="263.70" stroke="#000" stroke-width="1" />
<text x="368.80" y="151.00" font-size="8" text-anchor="middle" >ATP production</text>
<text x="317.00" y="228.60" font-size="8" text-anchor="middle" transform="rotate(-90 317.00 228.60)" >OCR (pmol/min)</text>
<polyline points="344.40,170.60 344.40,163.80 394.50,163.80 394.50,205.70" fill="none" stroke="#000" stroke-width="1" />
<text x="370.40" y="159.50" font-size="7.2" text-anchor="middle" >ns</text>
<polyline points="344.40,184.30 344.40,175.10 382.40,175.10 382.40,211.00" fill="none" stroke="#000" stroke-width="1" />
<polygon points="359.62,167.85 360.23,169.31 361.81,169.44 360.61,170.47 360.98,172.01 359.62,171.19 358.27,172.01 358.64,170.47 357.44,169.44 359.02,169.31" fill="#000"/>
<polygon points="363.47,167.85 364.08,169.31 365.66,169.44 364.46,170.47 364.83,172.01 363.47,171.19 362.12,172.01 362.49,170.47 361.29,169.44 362.87,169.31" fill="#000"/>
<polygon points="367.32,167.85 367.93,169.31 369.51,169.44 368.31,170.47 368.68,172.01 367.32,171.19 365.97,172.01 366.34,170.47 365.14,169.44 366.72,169.31" fill="#000"/>
<polygon points="371.17,167.85 371.78,169.31 373.36,169.44 372.16,170.47 372.53,172.01 371.17,171.19 369.82,172.01 370.19,170.47 368.99,169.44 370.57,169.31" fill="#000"/>
<polyline points="344.40,192.60 344.40,189.10 369.40,189.10 369.40,223.00" fill="none" stroke="#000" stroke-width="1" />
<polygon points="353.23,181.75 353.83,183.21 355.41,183.34 354.21,184.37 354.58,185.91 353.23,185.09 351.87,185.91 352.24,184.37 351.04,183.34 352.62,183.21" fill="#000"/>
<polygon points="357.07,181.75 357.68,183.21 359.26,183.34 358.06,184.37 358.43,185.91 357.07,185.09 355.72,185.91 356.09,184.37 354.89,183.34 356.47,183.21" fill="#000"/>
<polygon points="360.93,181.75 361.53,183.21 363.11,183.34 361.91,184.37 362.28,185.91 360.93,185.09 359.57,185.91 359.94,184.37 358.74,183.34 360.32,183.21" fill="#000"/>
<polygon points="364.77,181.75 365.38,183.21 366.96,183.34 365.76,184.37 366.13,185.91 364.77,185.09 363.42,185.91 363.79,184.37 362.59,183.34 364.17,183.21" fill="#000"/>
<polyline points="344.40,206.00 344.40,202.10 357.10,202.10 357.10,235.00" fill="none" stroke="#000" stroke-width="1" />
<polygon points="346.83,195.15 347.43,196.61 349.01,196.74 347.81,197.77 348.18,199.31 346.83,198.49 345.47,199.31 345.84,197.77 344.64,196.74 346.22,196.61" fill="#000"/>
<polygon points="350.68,195.15 351.28,196.61 352.86,196.74 351.66,197.77 352.03,199.31 350.68,198.49 349.32,199.31 349.69,197.77 348.49,196.74 350.07,196.61" fill="#000"/>
<polygon points="354.53,195.15 355.13,196.61 356.71,196.74 355.51,197.77 355.88,199.31 354.53,198.49 353.17,199.31 353.54,197.77 352.34,196.74 353.92,196.61" fill="#000"/>
<polygon points="358.38,195.15 358.98,196.61 360.56,196.74 359.36,197.77 359.73,199.31 358.38,198.49 357.02,199.31 357.39,197.77 356.19,196.74 357.77,196.61" fill="#000"/>
<text x="337.60" y="273.80" font-size="7.8" text-anchor="end" >PGE<tspan font-size="5" dy="1.8">2</tspan></text>
<line x1="343.30" y1="271.40" x2="345.70" y2="271.40" stroke="#333" stroke-width="0.85" />
<line x1="355.35" y1="271.10" x2="358.75" y2="271.10" stroke="#222" stroke-width="0.9" />
<line x1="357.05" y1="269.40" x2="357.05" y2="272.80" stroke="#222" stroke-width="0.9" />
<line x1="368.05" y1="271.10" x2="371.45" y2="271.10" stroke="#222" stroke-width="0.9" />
<line x1="369.75" y1="269.40" x2="369.75" y2="272.80" stroke="#222" stroke-width="0.9" />
<line x1="380.90" y1="271.10" x2="384.30" y2="271.10" stroke="#222" stroke-width="0.9" />
<line x1="382.60" y1="269.40" x2="382.60" y2="272.80" stroke="#222" stroke-width="0.9" />
<line x1="393.55" y1="271.10" x2="396.95" y2="271.10" stroke="#222" stroke-width="0.9" />
<line x1="395.25" y1="269.40" x2="395.25" y2="272.80" stroke="#222" stroke-width="0.9" />
<text x="339.00" y="283.80" font-size="7.8" text-anchor="end" >EP2i</text>
<line x1="343.30" y1="281.50" x2="345.70" y2="281.50" stroke="#333" stroke-width="0.85" />
<line x1="355.85" y1="281.50" x2="358.25" y2="281.50" stroke="#333" stroke-width="0.85" />
<line x1="368.05" y1="281.20" x2="371.45" y2="281.20" stroke="#222" stroke-width="0.9" />
<line x1="369.75" y1="279.50" x2="369.75" y2="282.90" stroke="#222" stroke-width="0.9" />
<line x1="381.40" y1="281.50" x2="383.80" y2="281.50" stroke="#333" stroke-width="0.85" />
<line x1="393.55" y1="281.20" x2="396.95" y2="281.20" stroke="#222" stroke-width="0.9" />
<line x1="395.25" y1="279.50" x2="395.25" y2="282.90" stroke="#222" stroke-width="0.9" />
<text x="339.00" y="293.50" font-size="7.8" text-anchor="end" >EP4i</text>
<line x1="343.30" y1="291.20" x2="345.70" y2="291.20" stroke="#333" stroke-width="0.85" />
<line x1="355.85" y1="291.20" x2="358.25" y2="291.20" stroke="#333" stroke-width="0.85" />
<line x1="368.55" y1="291.20" x2="370.95" y2="291.20" stroke="#333" stroke-width="0.85" />
<line x1="380.90" y1="290.90" x2="384.30" y2="290.90" stroke="#222" stroke-width="0.9" />
<line x1="382.60" y1="289.20" x2="382.60" y2="292.60" stroke="#222" stroke-width="0.9" />
<line x1="393.55" y1="290.90" x2="396.95" y2="290.90" stroke="#222" stroke-width="0.9" />
<line x1="395.25" y1="289.20" x2="395.25" y2="292.60" stroke="#222" stroke-width="0.9" />
<rect x="493.90" y="34.30" width="8.50" height="7.75" fill="#1f2d86" />
<rect x="503.37" y="34.30" width="8.50" height="7.75" fill="#2f4b9b" />
<rect x="512.84" y="34.30" width="8.50" height="7.75" fill="#fdf0c6" />
<rect x="522.31" y="34.30" width="8.50" height="7.75" fill="#f9c52c" />
<rect x="531.78" y="34.30" width="8.50" height="7.75" fill="#f56a28" />
<rect x="541.25" y="34.30" width="8.50" height="7.75" fill="#2f4b9b" />
<rect x="550.72" y="34.30" width="8.50" height="7.75" fill="#a4b0d6" />
<rect x="560.19" y="34.30" width="8.50" height="7.75" fill="#2f4b9b" />
<rect x="569.66" y="34.30" width="8.50" height="7.75" fill="#1f2d86" />
<rect x="579.13" y="34.30" width="8.50" height="7.75" fill="#2f4b9b" />
<rect x="588.60" y="34.30" width="8.50" height="7.75" fill="#1f2d86" />
<rect x="598.07" y="34.30" width="8.50" height="7.75" fill="#2f4b9b" />
<rect x="607.54" y="34.30" width="8.50" height="7.75" fill="#e9ecf6" />
<rect x="617.01" y="34.30" width="8.50" height="7.75" fill="#f9c52c" />
<rect x="626.48" y="34.30" width="8.50" height="7.75" fill="#1f2d86" />
<rect x="635.95" y="34.30" width="8.50" height="7.75" fill="#1f2d86" />
<rect x="645.42" y="34.30" width="8.50" height="7.75" fill="#1f2d86" />
<rect x="654.89" y="34.30" width="8.50" height="7.75" fill="#e8403e" />
<rect x="664.36" y="34.30" width="8.50" height="7.75" fill="#1f2d86" />
<line x1="490.30" y1="38.17" x2="492.40" y2="38.17" stroke="#333" stroke-width="0.8" />
<text x="489.20" y="41.07" font-size="8" text-anchor="end" fill="#1a1a1a" >Veh1</text>
<rect x="493.90" y="43.23" width="8.50" height="7.75" fill="#1f2d86" />
<rect x="503.37" y="43.23" width="8.50" height="7.75" fill="#2f4b9b" />
<rect x="512.84" y="43.23" width="8.50" height="7.75" fill="#1f2d86" />
<rect x="522.31" y="43.23" width="8.50" height="7.75" fill="#e9ecf6" />
<rect x="531.78" y="43.23" width="8.50" height="7.75" fill="#fdf0c6" />
<rect x="541.25" y="43.23" width="8.50" height="7.75" fill="#2f4b9b" />
<rect x="550.72" y="43.23" width="8.50" height="7.75" fill="#e8403e" />
<rect x="560.19" y="43.23" width="8.50" height="7.75" fill="#2f4b9b" />
<rect x="569.66" y="43.23" width="8.50" height="7.75" fill="#2f4b9b" />
<rect x="579.13" y="43.23" width="8.50" height="7.75" fill="#1f2d86" />
<rect x="588.60" y="43.23" width="8.50" height="7.75" fill="#f9c52c" />
<rect x="598.07" y="43.23" width="8.50" height="7.75" fill="#1f2d86" />
<rect x="607.54" y="43.23" width="8.50" height="7.75" fill="#f9c52c" />
<rect x="617.01" y="43.23" width="8.50" height="7.75" fill="#fdf0c6" />
<rect x="626.48" y="43.23" width="8.50" height="7.75" fill="#6a7dbc" />
<rect x="635.95" y="43.23" width="8.50" height="7.75" fill="#2f4b9b" />
<rect x="645.42" y="43.23" width="8.50" height="7.75" fill="#2f4b9b" />
<rect x="654.89" y="43.23" width="8.50" height="7.75" fill="#f9a01e" />
<rect x="664.36" y="43.23" width="8.50" height="7.75" fill="#2f4b9b" />
<line x1="490.30" y1="47.10" x2="492.40" y2="47.10" stroke="#333" stroke-width="0.8" />
<text x="489.20" y="50.00" font-size="8" text-anchor="end" fill="#1a1a1a" >Veh2</text>
<rect x="493.90" y="52.16" width="8.50" height="7.75" fill="#f9a01e" />
<rect x="503.37" y="52.16" width="8.50" height="7.75" fill="#f9c52c" />
<rect x="512.84" y="52.16" width="8.50" height="7.75" fill="#fdf0c6" />
<rect x="522.31" y="52.16" width="8.50" height="7.75" fill="#6a7dbc" />
<rect x="531.78" y="52.16" width="8.50" height="7.75" fill="#f56a28" />
<rect x="541.25" y="52.16" width="8.50" height="7.75" fill="#2f4b9b" />
<rect x="550.72" y="52.16" width="8.50" height="7.75" fill="#f9a01e" />
<rect x="560.19" y="52.16" width="8.50" height="7.75" fill="#e8403e" />
<rect x="569.66" y="52.16" width="8.50" height="7.75" fill="#a4b0d6" />
<rect x="579.13" y="52.16" width="8.50" height="7.75" fill="#6a7dbc" />
<rect x="588.60" y="52.16" width="8.50" height="7.75" fill="#fdf0c6" />
<rect x="598.07" y="52.16" width="8.50" height="7.75" fill="#6a7dbc" />
<rect x="607.54" y="52.16" width="8.50" height="7.75" fill="#1f2d86" />
<rect x="617.01" y="52.16" width="8.50" height="7.75" fill="#f56a28" />
<rect x="626.48" y="52.16" width="8.50" height="7.75" fill="#a4b0d6" />
<rect x="635.95" y="52.16" width="8.50" height="7.75" fill="#2f4b9b" />
<rect x="645.42" y="52.16" width="8.50" height="7.75" fill="#e8403e" />
<rect x="654.89" y="52.16" width="8.50" height="7.75" fill="#2f4b9b" />
<rect x="664.36" y="52.16" width="8.50" height="7.75" fill="#6a7dbc" />
<line x1="490.30" y1="56.03" x2="492.40" y2="56.03" stroke="#333" stroke-width="0.8" />
<text x="489.20" y="58.93" font-size="8" text-anchor="end" fill="#1a1a1a" >Veh3</text>
<rect x="493.90" y="61.09" width="8.50" height="7.75" fill="#f9a01e" />
<rect x="503.37" y="61.09" width="8.50" height="7.75" fill="#f9c52c" />
<rect x="512.84" y="61.09" width="8.50" height="7.75" fill="#f9a01e" />
<rect x="522.31" y="61.09" width="8.50" height="7.75" fill="#1f2d86" />
<rect x="531.78" y="61.09" width="8.50" height="7.75" fill="#2f4b9b" />
<rect x="541.25" y="61.09" width="8.50" height="7.75" fill="#f56a28" />
<rect x="550.72" y="61.09" width="8.50" height="7.75" fill="#a4b0d6" />
<rect x="560.19" y="61.09" width="8.50" height="7.75" fill="#2f4b9b" />
<rect x="569.66" y="61.09" width="8.50" height="7.75" fill="#f56a28" />
<rect x="579.13" y="61.09" width="8.50" height="7.75" fill="#f56a28" />
<rect x="588.60" y="61.09" width="8.50" height="7.75" fill="#6a7dbc" />
<rect x="598.07" y="61.09" width="8.50" height="7.75" fill="#f56a28" />
<rect x="607.54" y="61.09" width="8.50" height="7.75" fill="#fdf0c6" />
<rect x="617.01" y="61.09" width="8.50" height="7.75" fill="#1f2d86" />
<rect x="626.48" y="61.09" width="8.50" height="7.75" fill="#fbd86c" />
<rect x="635.95" y="61.09" width="8.50" height="7.75" fill="#fbd86c" />
<rect x="645.42" y="61.09" width="8.50" height="7.75" fill="#a4b0d6" />
<rect x="654.89" y="61.09" width="8.50" height="7.75" fill="#2f4b9b" />
<rect x="664.36" y="61.09" width="8.50" height="7.75" fill="#f9a01e" />
<line x1="490.30" y1="64.97" x2="492.40" y2="64.97" stroke="#333" stroke-width="0.8" />
<text x="489.20" y="67.87" font-size="8" text-anchor="end" fill="#1a1a1a" >PGE2_1</text>
<rect x="493.90" y="70.02" width="8.50" height="7.75" fill="#f56a28" />
<rect x="503.37" y="70.02" width="8.50" height="7.75" fill="#e8403e" />
<rect x="512.84" y="70.02" width="8.50" height="7.75" fill="#2f4b9b" />
<rect x="522.31" y="70.02" width="8.50" height="7.75" fill="#e8403e" />
<rect x="531.78" y="70.02" width="8.50" height="7.75" fill="#1f2d86" />
<rect x="541.25" y="70.02" width="8.50" height="7.75" fill="#f9a01e" />
<rect x="550.72" y="70.02" width="8.50" height="7.75" fill="#1f2d86" />
<rect x="560.19" y="70.02" width="8.50" height="7.75" fill="#f9c52c" />
<rect x="569.66" y="70.02" width="8.50" height="7.75" fill="#f9a01e" />
<rect x="579.13" y="70.02" width="8.50" height="7.75" fill="#f9c52c" />
<rect x="588.60" y="70.02" width="8.50" height="7.75" fill="#fbd86c" />
<rect x="598.07" y="70.02" width="8.50" height="7.75" fill="#f9c52c" />
<rect x="607.54" y="70.02" width="8.50" height="7.75" fill="#f9c52c" />
<rect x="617.01" y="70.02" width="8.50" height="7.75" fill="#fdf0c6" />
<rect x="626.48" y="70.02" width="8.50" height="7.75" fill="#e8403e" />
<rect x="635.95" y="70.02" width="8.50" height="7.75" fill="#f56a28" />
<rect x="645.42" y="70.02" width="8.50" height="7.75" fill="#f9c52c" />
<rect x="654.89" y="70.02" width="8.50" height="7.75" fill="#2f4b9b" />
<rect x="664.36" y="70.02" width="8.50" height="7.75" fill="#f56a28" />
<line x1="490.30" y1="73.89" x2="492.40" y2="73.89" stroke="#333" stroke-width="0.8" />
<text x="489.20" y="76.80" font-size="8" text-anchor="end" fill="#1a1a1a" >PGE2_2</text>
<rect x="493.90" y="78.95" width="8.50" height="7.75" fill="#6a7dbc" />
<rect x="503.37" y="78.95" width="8.50" height="7.75" fill="#1f2d86" />
<rect x="512.84" y="78.95" width="8.50" height="7.75" fill="#f56a28" />
<rect x="522.31" y="78.95" width="8.50" height="7.75" fill="#a4b0d6" />
<rect x="531.78" y="78.95" width="8.50" height="7.75" fill="#2f4b9b" />
<rect x="541.25" y="78.95" width="8.50" height="7.75" fill="#f9c52c" />
<rect x="550.72" y="78.95" width="8.50" height="7.75" fill="#1f2d86" />
<rect x="560.19" y="78.95" width="8.50" height="7.75" fill="#2f4b9b" />
<rect x="569.66" y="78.95" width="8.50" height="7.75" fill="#e9ecf6" />
<rect x="579.13" y="78.95" width="8.50" height="7.75" fill="#f9a01e" />
<rect x="588.60" y="78.95" width="8.50" height="7.75" fill="#f56a28" />
<rect x="598.07" y="78.95" width="8.50" height="7.75" fill="#f9a01e" />
<rect x="607.54" y="78.95" width="8.50" height="7.75" fill="#f9a01e" />
<rect x="617.01" y="78.95" width="8.50" height="7.75" fill="#6a7dbc" />
<rect x="626.48" y="78.95" width="8.50" height="7.75" fill="#e9ecf6" />
<rect x="635.95" y="78.95" width="8.50" height="7.75" fill="#f56a28" />
<rect x="645.42" y="78.95" width="8.50" height="7.75" fill="#fdf0c6" />
<rect x="654.89" y="78.95" width="8.50" height="7.75" fill="#e9ecf6" />
<rect x="664.36" y="78.95" width="8.50" height="7.75" fill="#f9c52c" />
<line x1="490.30" y1="82.82" x2="492.40" y2="82.82" stroke="#333" stroke-width="0.8" />
<text x="489.20" y="85.72" font-size="8" text-anchor="end" fill="#1a1a1a" >PGE2_3</text>
<line x1="492.40" y1="33.50" x2="492.40" y2="87.60" stroke="#222" stroke-width="1.0" />
<rect x="432.40" y="33.00" width="21.30" height="54.90" fill="#fff" stroke="#222" stroke-width="1.0" />
<text x="443.05" y="63.45" font-size="8.2" text-anchor="middle" font-weight="bold" >24hr</text>
<rect x="493.90" y="91.50" width="8.50" height="7.75" fill="#f9c52c" />
<rect x="503.37" y="91.50" width="8.50" height="7.75" fill="#2f4b9b" />
<rect x="512.84" y="91.50" width="8.50" height="7.75" fill="#f56a28" />
<rect x="522.31" y="91.50" width="8.50" height="7.75" fill="#a4b0d6" />
<rect x="531.78" y="91.50" width="8.50" height="7.75" fill="#f56a28" />
<rect x="541.25" y="91.50" width="8.50" height="7.75" fill="#f56a28" />
<rect x="550.72" y="91.50" width="8.50" height="7.75" fill="#f9c52c" />
<rect x="560.19" y="91.50" width="8.50" height="7.75" fill="#f56a28" />
<rect x="569.66" y="91.50" width="8.50" height="7.75" fill="#6a7dbc" />
<rect x="579.13" y="91.50" width="8.50" height="7.75" fill="#a4b0d6" />
<rect x="588.60" y="91.50" width="8.50" height="7.75" fill="#f9a01e" />
<rect x="598.07" y="91.50" width="8.50" height="7.75" fill="#fbd86c" />
<rect x="607.54" y="91.50" width="8.50" height="7.75" fill="#e8403e" />
<rect x="617.01" y="91.50" width="8.50" height="7.75" fill="#f9c52c" />
<rect x="626.48" y="91.50" width="8.50" height="7.75" fill="#f56a28" />
<rect x="635.95" y="91.50" width="8.50" height="7.75" fill="#e9ecf6" />
<rect x="645.42" y="91.50" width="8.50" height="7.75" fill="#a4b0d6" />
<rect x="664.36" y="91.50" width="8.50" height="7.75" fill="#6a7dbc" />
<line x1="490.30" y1="95.38" x2="492.40" y2="95.38" stroke="#333" stroke-width="0.8" />
<text x="489.20" y="98.28" font-size="8" text-anchor="end" fill="#1a1a1a" >Veh1</text>
<rect x="493.90" y="100.43" width="8.50" height="7.75" fill="#e8403e" />
<rect x="503.37" y="100.43" width="8.50" height="7.75" fill="#f56a28" />
<rect x="512.84" y="100.43" width="8.50" height="7.75" fill="#f9a01e" />
<rect x="522.31" y="100.43" width="8.50" height="7.75" fill="#f9a01e" />
<rect x="531.78" y="100.43" width="8.50" height="7.75" fill="#f9a01e" />
<rect x="541.25" y="100.43" width="8.50" height="7.75" fill="#2f4b9b" />
<rect x="550.72" y="100.43" width="8.50" height="7.75" fill="#f56a28" />
<rect x="560.19" y="100.43" width="8.50" height="7.75" fill="#e9ecf6" />
<rect x="569.66" y="100.43" width="8.50" height="7.75" fill="#f56a28" />
<rect x="579.13" y="100.43" width="8.50" height="7.75" fill="#e8403e" />
<rect x="588.60" y="100.43" width="8.50" height="7.75" fill="#f56a28" />
<rect x="598.07" y="100.43" width="8.50" height="7.75" fill="#e8403e" />
<rect x="607.54" y="100.43" width="8.50" height="7.75" fill="#f9a01e" />
<rect x="617.01" y="100.43" width="8.50" height="7.75" fill="#f56a28" />
<rect x="626.48" y="100.43" width="8.50" height="7.75" fill="#f9c52c" />
<rect x="635.95" y="100.43" width="8.50" height="7.75" fill="#f56a28" />
<rect x="645.42" y="100.43" width="8.50" height="7.75" fill="#e8403e" />
<rect x="664.36" y="100.43" width="8.50" height="7.75" fill="#e8403e" />
<line x1="490.30" y1="104.31" x2="492.40" y2="104.31" stroke="#333" stroke-width="0.8" />
<text x="489.20" y="107.21" font-size="8" text-anchor="end" fill="#1a1a1a" >Veh2</text>
<rect x="493.90" y="109.36" width="8.50" height="7.75" fill="#fdf0c6" />
<rect x="503.37" y="109.36" width="8.50" height="7.75" fill="#f56a28" />
<rect x="512.84" y="109.36" width="8.50" height="7.75" fill="#f9a01e" />
<rect x="522.31" y="109.36" width="8.50" height="7.75" fill="#e8403e" />
<rect x="531.78" y="109.36" width="8.50" height="7.75" fill="#f56a28" />
<rect x="541.25" y="109.36" width="8.50" height="7.75" fill="#1f2d86" />
<rect x="550.72" y="109.36" width="8.50" height="7.75" fill="#f9a01e" />
<rect x="560.19" y="109.36" width="8.50" height="7.75" fill="#1f2d86" />
<rect x="569.66" y="109.36" width="8.50" height="7.75" fill="#fdf0c6" />
<rect x="579.13" y="109.36" width="8.50" height="7.75" fill="#fbd86c" />
<rect x="588.60" y="109.36" width="8.50" height="7.75" fill="#f9c52c" />
<rect x="598.07" y="109.36" width="8.50" height="7.75" fill="#fdf0c6" />
<rect x="607.54" y="109.36" width="8.50" height="7.75" fill="#e9ecf6" />
<rect x="617.01" y="109.36" width="8.50" height="7.75" fill="#f9a01e" />
<rect x="626.48" y="109.36" width="8.50" height="7.75" fill="#6a7dbc" />
<rect x="635.95" y="109.36" width="8.50" height="7.75" fill="#a4b0d6" />
<rect x="645.42" y="109.36" width="8.50" height="7.75" fill="#a4b0d6" />
<rect x="664.36" y="109.36" width="8.50" height="7.75" fill="#f9c52c" />
<line x1="490.30" y1="113.23" x2="492.40" y2="113.23" stroke="#333" stroke-width="0.8" />
<text x="489.20" y="116.14" font-size="8" text-anchor="end" fill="#1a1a1a" >Veh3</text>
<rect x="493.90" y="118.29" width="8.50" height="7.75" fill="#2f4b9b" />
<rect x="503.37" y="118.29" width="8.50" height="7.75" fill="#1f2d86" />
<rect x="512.84" y="118.29" width="8.50" height="7.75" fill="#1f2d86" />
<rect x="522.31" y="118.29" width="8.50" height="7.75" fill="#1f2d86" />
<rect x="531.78" y="118.29" width="8.50" height="7.75" fill="#2f4b9b" />
<rect x="541.25" y="118.29" width="8.50" height="7.75" fill="#a4b0d6" />
<rect x="550.72" y="118.29" width="8.50" height="7.75" fill="#1f2d86" />
<rect x="560.19" y="118.29" width="8.50" height="7.75" fill="#e9ecf6" />
<rect x="569.66" y="118.29" width="8.50" height="7.75" fill="#1f2d86" />
<rect x="579.13" y="118.29" width="8.50" height="7.75" fill="#2f4b9b" />
<rect x="588.60" y="118.29" width="8.50" height="7.75" fill="#1f2d86" />
<rect x="598.07" y="118.29" width="8.50" height="7.75" fill="#1f2d86" />
<rect x="607.54" y="118.29" width="8.50" height="7.75" fill="#2f4b9b" />
<rect x="617.01" y="118.29" width="8.50" height="7.75" fill="#6a7dbc" />
<rect x="626.48" y="118.29" width="8.50" height="7.75" fill="#1f2d86" />
<rect x="635.95" y="118.29" width="8.50" height="7.75" fill="#2f4b9b" />
<rect x="645.42" y="118.29" width="8.50" height="7.75" fill="#2f4b9b" />
<rect x="664.36" y="118.29" width="8.50" height="7.75" fill="#2f4b9b" />
<line x1="490.30" y1="122.16" x2="492.40" y2="122.16" stroke="#333" stroke-width="0.8" />
<text x="489.20" y="125.06" font-size="8" text-anchor="end" fill="#1a1a1a" >PGE2_1</text>
<rect x="493.90" y="127.22" width="8.50" height="7.75" fill="#e9ecf6" />
<rect x="503.37" y="127.22" width="8.50" height="7.75" fill="#e9ecf6" />
<rect x="512.84" y="127.22" width="8.50" height="7.75" fill="#2f4b9b" />
<rect x="522.31" y="127.22" width="8.50" height="7.75" fill="#2f4b9b" />
<rect x="531.78" y="127.22" width="8.50" height="7.75" fill="#2f4b9b" />
<rect x="541.25" y="127.22" width="8.50" height="7.75" fill="#f56a28" />
<rect x="550.72" y="127.22" width="8.50" height="7.75" fill="#6a7dbc" />
<rect x="560.19" y="127.22" width="8.50" height="7.75" fill="#f56a28" />
<rect x="569.66" y="127.22" width="8.50" height="7.75" fill="#f56a28" />
<rect x="579.13" y="127.22" width="8.50" height="7.75" fill="#fdf0c6" />
<rect x="588.60" y="127.22" width="8.50" height="7.75" fill="#6a7dbc" />
<rect x="598.07" y="127.22" width="8.50" height="7.75" fill="#f9c52c" />
<rect x="607.54" y="127.22" width="8.50" height="7.75" fill="#2f4b9b" />
<rect x="617.01" y="127.22" width="8.50" height="7.75" fill="#2f4b9b" />
<rect x="626.48" y="127.22" width="8.50" height="7.75" fill="#f9a01e" />
<rect x="635.95" y="127.22" width="8.50" height="7.75" fill="#f9a01e" />
<rect x="645.42" y="127.22" width="8.50" height="7.75" fill="#f9c52c" />
<rect x="664.36" y="127.22" width="8.50" height="7.75" fill="#fdf0c6" />
<line x1="490.30" y1="131.09" x2="492.40" y2="131.09" stroke="#333" stroke-width="0.8" />
<text x="489.20" y="134.00" font-size="8" text-anchor="end" fill="#1a1a1a" >PGE2_2</text>
<rect x="493.90" y="136.15" width="8.50" height="7.75" fill="#1f2d86" />
<rect x="503.37" y="136.15" width="8.50" height="7.75" fill="#2f4b9b" />
<rect x="512.84" y="136.15" width="8.50" height="7.75" fill="#2f4b9b" />
<rect x="522.31" y="136.15" width="8.50" height="7.75" fill="#e9ecf6" />
<rect x="531.78" y="136.15" width="8.50" height="7.75" fill="#1f2d86" />
<rect x="541.25" y="136.15" width="8.50" height="7.75" fill="#2f4b9b" />
<rect x="550.72" y="136.15" width="8.50" height="7.75" fill="#1f2d86" />
<rect x="560.19" y="136.15" width="8.50" height="7.75" fill="#2f4b9b" />
<rect x="569.66" y="136.15" width="8.50" height="7.75" fill="#2f4b9b" />
<rect x="579.13" y="136.15" width="8.50" height="7.75" fill="#1f2d86" />
<rect x="588.60" y="136.15" width="8.50" height="7.75" fill="#1f2d86" />
<rect x="598.07" y="136.15" width="8.50" height="7.75" fill="#1f2d86" />
<rect x="607.54" y="136.15" width="8.50" height="7.75" fill="#6a7dbc" />
<rect x="617.01" y="136.15" width="8.50" height="7.75" fill="#1f2d86" />
<rect x="626.48" y="136.15" width="8.50" height="7.75" fill="#6a7dbc" />
<rect x="635.95" y="136.15" width="8.50" height="7.75" fill="#1f2d86" />
<rect x="645.42" y="136.15" width="8.50" height="7.75" fill="#2f4b9b" />
<rect x="664.36" y="136.15" width="8.50" height="7.75" fill="#1f2d86" />
<line x1="490.30" y1="140.03" x2="492.40" y2="140.03" stroke="#333" stroke-width="0.8" />
<text x="489.20" y="142.93" font-size="8" text-anchor="end" fill="#1a1a1a" >PGE2_3</text>
<line x1="492.40" y1="90.70" x2="492.40" y2="144.80" stroke="#222" stroke-width="1.0" />
<rect x="432.40" y="90.50" width="21.30" height="54.60" fill="#fff" stroke="#222" stroke-width="1.0" />
<text x="443.05" y="120.80" font-size="8.2" text-anchor="middle" font-weight="bold" >48hr</text>
<rect x="493.90" y="148.80" width="8.50" height="7.75" fill="#f6802a" />
<rect x="503.37" y="148.80" width="8.50" height="7.75" fill="#f9a01e" />
<rect x="512.84" y="148.80" width="8.50" height="7.75" fill="#f6802a" />
<rect x="522.31" y="148.80" width="8.50" height="7.75" fill="#f6802a" />
<rect x="531.78" y="148.80" width="8.50" height="7.75" fill="#f9a01e" />
<rect x="541.25" y="148.80" width="8.50" height="7.75" fill="#f6802a" />
<rect x="550.72" y="148.80" width="8.50" height="7.75" fill="#f9a01e" />
<rect x="560.19" y="148.80" width="8.50" height="7.75" fill="#f6802a" />
<rect x="569.66" y="148.80" width="8.50" height="7.75" fill="#f9a01e" />
<rect x="579.13" y="148.80" width="8.50" height="7.75" fill="#f6802a" />
<rect x="588.60" y="148.80" width="8.50" height="7.75" fill="#f6802a" />
<rect x="598.07" y="148.80" width="8.50" height="7.75" fill="#f9a01e" />
<rect x="607.54" y="148.80" width="8.50" height="7.75" fill="#f9a01e" />
<rect x="617.01" y="148.80" width="8.50" height="7.75" fill="#f9a01e" />
<rect x="626.48" y="148.80" width="8.50" height="7.75" fill="#f9a01e" />
<rect x="635.95" y="148.80" width="8.50" height="7.75" fill="#f6802a" />
<rect x="645.42" y="148.80" width="8.50" height="7.75" fill="#f9a01e" />
<rect x="654.89" y="148.80" width="8.50" height="7.75" fill="#fbd86c" />
<rect x="664.36" y="148.80" width="8.50" height="7.75" fill="#f6802a" />
<line x1="490.30" y1="152.68" x2="492.40" y2="152.68" stroke="#333" stroke-width="0.8" />
<text x="489.20" y="155.58" font-size="8" text-anchor="end" fill="#1a1a1a" >Veh1</text>
<rect x="493.90" y="157.73" width="8.50" height="7.75" fill="#f9a01e" />
<rect x="503.37" y="157.73" width="8.50" height="7.75" fill="#f9a01e" />
<rect x="512.84" y="157.73" width="8.50" height="7.75" fill="#f6802a" />
<rect x="522.31" y="157.73" width="8.50" height="7.75" fill="#f9a01e" />
<rect x="531.78" y="157.73" width="8.50" height="7.75" fill="#f9c52c" />
<rect x="541.25" y="157.73" width="8.50" height="7.75" fill="#f6802a" />
<rect x="550.72" y="157.73" width="8.50" height="7.75" fill="#f9a01e" />
<rect x="560.19" y="157.73" width="8.50" height="7.75" fill="#e9ecf6" />
<rect x="569.66" y="157.73" width="8.50" height="7.75" fill="#f6802a" />
<rect x="579.13" y="157.73" width="8.50" height="7.75" fill="#f6802a" />
<rect x="588.60" y="157.73" width="8.50" height="7.75" fill="#f9a01e" />
<rect x="598.07" y="157.73" width="8.50" height="7.75" fill="#f9a01e" />
<rect x="607.54" y="157.73" width="8.50" height="7.75" fill="#f6802a" />
<rect x="617.01" y="157.73" width="8.50" height="7.75" fill="#f6802a" />
<rect x="626.48" y="157.73" width="8.50" height="7.75" fill="#f9a01e" />
<rect x="635.95" y="157.73" width="8.50" height="7.75" fill="#f6802a" />
<rect x="645.42" y="157.73" width="8.50" height="7.75" fill="#f9a01e" />
<rect x="654.89" y="157.73" width="8.50" height="7.75" fill="#f9a01e" />
<rect x="664.36" y="157.73" width="8.50" height="7.75" fill="#f9a01e" />
<line x1="490.30" y1="161.61" x2="492.40" y2="161.61" stroke="#333" stroke-width="0.8" />
<text x="489.20" y="164.51" font-size="8" text-anchor="end" fill="#1a1a1a" >Veh2</text>
<rect x="493.90" y="166.66" width="8.50" height="7.75" fill="#f9c52c" />
<rect x="503.37" y="166.66" width="8.50" height="7.75" fill="#f6802a" />
<rect x="512.84" y="166.66" width="8.50" height="7.75" fill="#f9c52c" />
<rect x="522.31" y="166.66" width="8.50" height="7.75" fill="#f9a01e" />
<rect x="531.78" y="166.66" width="8.50" height="7.75" fill="#f6802a" />
<rect x="541.25" y="166.66" width="8.50" height="7.75" fill="#f9a01e" />
<rect x="550.72" y="166.66" width="8.50" height="7.75" fill="#f6802a" />
<rect x="560.19" y="166.66" width="8.50" height="7.75" fill="#1f2d86" />
<rect x="569.66" y="166.66" width="8.50" height="7.75" fill="#f9a01e" />
<rect x="579.13" y="166.66" width="8.50" height="7.75" fill="#f9c52c" />
<rect x="588.60" y="166.66" width="8.50" height="7.75" fill="#f9a01e" />
<rect x="598.07" y="166.66" width="8.50" height="7.75" fill="#f6802a" />
<rect x="607.54" y="166.66" width="8.50" height="7.75" fill="#f9c52c" />
<rect x="617.01" y="166.66" width="8.50" height="7.75" fill="#f6802a" />
<rect x="626.48" y="166.66" width="8.50" height="7.75" fill="#f6802a" />
<rect x="635.95" y="166.66" width="8.50" height="7.75" fill="#f9c52c" />
<rect x="645.42" y="166.66" width="8.50" height="7.75" fill="#f6802a" />
<rect x="654.89" y="166.66" width="8.50" height="7.75" fill="#f9a01e" />
<rect x="664.36" y="166.66" width="8.50" height="7.75" fill="#f9a01e" />
<line x1="490.30" y1="170.54" x2="492.40" y2="170.54" stroke="#333" stroke-width="0.8" />
<text x="489.20" y="173.44" font-size="8" text-anchor="end" fill="#1a1a1a" >Veh3</text>
<rect x="493.90" y="175.59" width="8.50" height="7.75" fill="#2f4b9b" />
<rect x="503.37" y="175.59" width="8.50" height="7.75" fill="#2f4b9b" />
<rect x="512.84" y="175.59" width="8.50" height="7.75" fill="#2f4b9b" />
<rect x="522.31" y="175.59" width="8.50" height="7.75" fill="#2f4b9b" />
<rect x="531.78" y="175.59" width="8.50" height="7.75" fill="#1f2d86" />
<rect x="541.25" y="175.59" width="8.50" height="7.75" fill="#2f4b9b" />
<rect x="550.72" y="175.59" width="8.50" height="7.75" fill="#2f4b9b" />
<rect x="560.19" y="175.59" width="8.50" height="7.75" fill="#1f2d86" />
<rect x="569.66" y="175.59" width="8.50" height="7.75" fill="#2f4b9b" />
<rect x="579.13" y="175.59" width="8.50" height="7.75" fill="#2f4b9b" />
<rect x="588.60" y="175.59" width="8.50" height="7.75" fill="#2f4b9b" />
<rect x="598.07" y="175.59" width="8.50" height="7.75" fill="#2f4b9b" />
<rect x="607.54" y="175.59" width="8.50" height="7.75" fill="#6a7dbc" />
<rect x="617.01" y="175.59" width="8.50" height="7.75" fill="#2f4b9b" />
<rect x="626.48" y="175.59" width="8.50" height="7.75" fill="#2f4b9b" />
<rect x="635.95" y="175.59" width="8.50" height="7.75" fill="#2f4b9b" />
<rect x="645.42" y="175.59" width="8.50" height="7.75" fill="#2f4b9b" />
<rect x="654.89" y="175.59" width="8.50" height="7.75" fill="#f9a01e" />
<rect x="664.36" y="175.59" width="8.50" height="7.75" fill="#2f4b9b" />
<line x1="490.30" y1="179.47" x2="492.40" y2="179.47" stroke="#333" stroke-width="0.8" />
<text x="489.20" y="182.37" font-size="8" text-anchor="end" fill="#1a1a1a" >PGE2_1</text>
<rect x="493.90" y="184.52" width="8.50" height="7.75" fill="#2f4b9b" />
<rect x="503.37" y="184.52" width="8.50" height="7.75" fill="#2f4b9b" />
<rect x="512.84" y="184.52" width="8.50" height="7.75" fill="#2f4b9b" />
<rect x="522.31" y="184.52" width="8.50" height="7.75" fill="#2f4b9b" />
<rect x="531.78" y="184.52" width="8.50" height="7.75" fill="#1f2d86" />
<rect x="541.25" y="184.52" width="8.50" height="7.75" fill="#2f4b9b" />
<rect x="550.72" y="184.52" width="8.50" height="7.75" fill="#2f4b9b" />
<rect x="560.19" y="184.52" width="8.50" height="7.75" fill="#fbd86c" />
<rect x="569.66" y="184.52" width="8.50" height="7.75" fill="#2f4b9b" />
<rect x="579.13" y="184.52" width="8.50" height="7.75" fill="#2f4b9b" />
<rect x="588.60" y="184.52" width="8.50" height="7.75" fill="#2f4b9b" />
<rect x="598.07" y="184.52" width="8.50" height="7.75" fill="#2f4b9b" />
<rect x="607.54" y="184.52" width="8.50" height="7.75" fill="#1f2d86" />
<rect x="617.01" y="184.52" width="8.50" height="7.75" fill="#2f4b9b" />
<rect x="626.48" y="184.52" width="8.50" height="7.75" fill="#1f2d86" />
<rect x="635.95" y="184.52" width="8.50" height="7.75" fill="#2f4b9b" />
<rect x="645.42" y="184.52" width="8.50" height="7.75" fill="#2f4b9b" />
<rect x="654.89" y="184.52" width="8.50" height="7.75" fill="#1f2d86" />
<rect x="664.36" y="184.52" width="8.50" height="7.75" fill="#2f4b9b" />
<line x1="490.30" y1="188.40" x2="492.40" y2="188.40" stroke="#333" stroke-width="0.8" />
<text x="489.20" y="191.30" font-size="8" text-anchor="end" fill="#1a1a1a" >PGE2_2</text>
<rect x="493.90" y="193.45" width="8.50" height="7.75" fill="#2f4b9b" />
<rect x="503.37" y="193.45" width="8.50" height="7.75" fill="#2f4b9b" />
<rect x="512.84" y="193.45" width="8.50" height="7.75" fill="#2f4b9b" />
<rect x="522.31" y="193.45" width="8.50" height="7.75" fill="#2f4b9b" />
<rect x="531.78" y="193.45" width="8.50" height="7.75" fill="#6a7dbc" />
<rect x="541.25" y="193.45" width="8.50" height="7.75" fill="#2f4b9b" />
<rect x="550.72" y="193.45" width="8.50" height="7.75" fill="#2f4b9b" />
<rect x="560.19" y="193.45" width="8.50" height="7.75" fill="#f9a01e" />
<rect x="569.66" y="193.45" width="8.50" height="7.75" fill="#2f4b9b" />
<rect x="579.13" y="193.45" width="8.50" height="7.75" fill="#2f4b9b" />
<rect x="588.60" y="193.45" width="8.50" height="7.75" fill="#2f4b9b" />
<rect x="598.07" y="193.45" width="8.50" height="7.75" fill="#2f4b9b" />
<rect x="607.54" y="193.45" width="8.50" height="7.75" fill="#1f2d86" />
<rect x="617.01" y="193.45" width="8.50" height="7.75" fill="#1f2d86" />
<rect x="626.48" y="193.45" width="8.50" height="7.75" fill="#2f4b9b" />
<rect x="635.95" y="193.45" width="8.50" height="7.75" fill="#2f4b9b" />
<rect x="645.42" y="193.45" width="8.50" height="7.75" fill="#2f4b9b" />
<rect x="654.89" y="193.45" width="8.50" height="7.75" fill="#1f2d86" />
<rect x="664.36" y="193.45" width="8.50" height="7.75" fill="#2f4b9b" />
<line x1="490.30" y1="197.33" x2="492.40" y2="197.33" stroke="#333" stroke-width="0.8" />
<text x="489.20" y="200.23" font-size="8" text-anchor="end" fill="#1a1a1a" >PGE2_3</text>
<line x1="492.40" y1="148.00" x2="492.40" y2="202.10" stroke="#222" stroke-width="1.0" />
<rect x="432.40" y="147.30" width="21.30" height="55.10" fill="#fff" stroke="#222" stroke-width="1.0" />
<text x="443.05" y="177.85" font-size="8.2" text-anchor="middle" font-weight="bold" >60hr</text>
<line x1="492.40" y1="202.00" x2="674.60" y2="202.00" stroke="#222" stroke-width="1.0" />
<line x1="498.15" y1="202.00" x2="498.15" y2="203.80" stroke="#333" stroke-width="0.8" />
<text x="501.05" y="205.30" font-size="8.3" text-anchor="end" font-style="italic" fill="#1a1a1a" transform="rotate(-90 501.05 205.30)" >Aldoc</text>
<line x1="507.62" y1="202.00" x2="507.62" y2="203.80" stroke="#333" stroke-width="0.8" />
<text x="510.52" y="205.30" font-size="8.3" text-anchor="end" font-style="italic" fill="#1a1a1a" transform="rotate(-90 510.52 205.30)" >Eno1</text>
<line x1="517.09" y1="202.00" x2="517.09" y2="203.80" stroke="#333" stroke-width="0.8" />
<text x="519.99" y="205.30" font-size="8.3" text-anchor="end" font-style="italic" fill="#1a1a1a" transform="rotate(-90 519.99 205.30)" >Eno2</text>
<line x1="526.56" y1="202.00" x2="526.56" y2="203.80" stroke="#333" stroke-width="0.8" />
<text x="529.46" y="205.30" font-size="8.3" text-anchor="end" font-style="italic" fill="#1a1a1a" transform="rotate(-90 529.46 205.30)" >Gale</text>
<line x1="536.03" y1="202.00" x2="536.03" y2="203.80" stroke="#333" stroke-width="0.8" />
<text x="538.93" y="205.30" font-size="8.3" text-anchor="end" font-style="italic" fill="#1a1a1a" transform="rotate(-90 538.93 205.30)" >Galm</text>
<line x1="545.50" y1="202.00" x2="545.50" y2="203.80" stroke="#333" stroke-width="0.8" />
<text x="548.40" y="205.30" font-size="8.3" text-anchor="end" font-style="italic" fill="#1a1a1a" transform="rotate(-90 548.40 205.30)" >Hk1</text>
<line x1="554.97" y1="202.00" x2="554.97" y2="203.80" stroke="#333" stroke-width="0.8" />
<text x="557.87" y="205.30" font-size="8.3" text-anchor="end" font-style="italic" fill="#1a1a1a" transform="rotate(-90 557.87 205.30)" >Hk2</text>
<line x1="564.44" y1="202.00" x2="564.44" y2="203.80" stroke="#333" stroke-width="0.8" />
<text x="567.34" y="205.30" font-size="8.3" text-anchor="end" font-style="italic" fill="#1a1a1a" transform="rotate(-90 567.34 205.30)" >Hk3</text>
<line x1="573.91" y1="202.00" x2="573.91" y2="203.80" stroke="#333" stroke-width="0.8" />
<text x="576.81" y="205.30" font-size="8.3" text-anchor="end" font-style="italic" fill="#1a1a1a" transform="rotate(-90 576.81 205.30)" >Pfkl</text>
<line x1="583.38" y1="202.00" x2="583.38" y2="203.80" stroke="#333" stroke-width="0.8" />
<text x="586.28" y="205.30" font-size="8.3" text-anchor="end" font-style="italic" fill="#1a1a1a" transform="rotate(-90 586.28 205.30)" >Pfkm</text>
<line x1="592.85" y1="202.00" x2="592.85" y2="203.80" stroke="#333" stroke-width="0.8" />
<text x="595.75" y="205.30" font-size="8.3" text-anchor="end" font-style="italic" fill="#1a1a1a" transform="rotate(-90 595.75 205.30)" >Pfkp</text>
<line x1="602.32" y1="202.00" x2="602.32" y2="203.80" stroke="#333" stroke-width="0.8" />
<text x="605.22" y="205.30" font-size="8.3" text-anchor="end" font-style="italic" fill="#1a1a1a" transform="rotate(-90 605.22 205.30)" >Pgm1</text>
<line x1="611.79" y1="202.00" x2="611.79" y2="203.80" stroke="#333" stroke-width="0.8" />
<text x="614.69" y="205.30" font-size="8.3" text-anchor="end" font-style="italic" fill="#1a1a1a" transform="rotate(-90 614.69 205.30)" >Pgm2</text>
<line x1="621.26" y1="202.00" x2="621.26" y2="203.80" stroke="#333" stroke-width="0.8" />
<text x="624.16" y="205.30" font-size="8.3" text-anchor="end" font-style="italic" fill="#1a1a1a" transform="rotate(-90 624.16 205.30)" >Pgm3</text>
<line x1="630.73" y1="202.00" x2="630.73" y2="203.80" stroke="#333" stroke-width="0.8" />
<text x="633.63" y="205.30" font-size="8.3" text-anchor="end" font-style="italic" fill="#1a1a1a" transform="rotate(-90 633.63 205.30)" >Pkm</text>
<line x1="640.20" y1="202.00" x2="640.20" y2="203.80" stroke="#333" stroke-width="0.8" />
<text x="643.10" y="205.30" font-size="8.3" text-anchor="end" font-style="italic" fill="#1a1a1a" transform="rotate(-90 643.10 205.30)" >Pygl</text>
<line x1="649.67" y1="202.00" x2="649.67" y2="203.80" stroke="#333" stroke-width="0.8" />
<text x="652.57" y="205.30" font-size="8.3" text-anchor="end" font-style="italic" fill="#1a1a1a" transform="rotate(-90 652.57 205.30)" >Slc2a1</text>
<line x1="659.14" y1="202.00" x2="659.14" y2="203.80" stroke="#333" stroke-width="0.8" />
<text x="662.04" y="205.30" font-size="8.3" text-anchor="end" font-style="italic" fill="#1a1a1a" transform="rotate(-90 662.04 205.30)" >Slc2a2</text>
<line x1="668.61" y1="202.00" x2="668.61" y2="203.80" stroke="#333" stroke-width="0.8" />
<text x="671.51" y="205.30" font-size="8.3" text-anchor="end" font-style="italic" fill="#1a1a1a" transform="rotate(-90 671.51 205.30)" >Slc2a3</text>
<rect x="492.60" y="23.20" width="182.00" height="9.30" fill="#fff" stroke="#7a7a7a" stroke-width="1.0" />
<text x="583.60" y="31.00" font-size="7.2" text-anchor="middle" font-weight="bold" >Glycolysis</text>
<defs>
<linearGradient id="gc" x1="0" x2="1" y1="0" y2="0">
<stop offset="0" stop-color="#1b1f7c"/><stop offset="0.25" stop-color="#22308a"/>
<stop offset="0.26" stop-color="#2c3f94"/><stop offset="0.42" stop-color="#3e57a4"/>
<stop offset="0.515" stop-color="#f6f6f8"/><stop offset="0.55" stop-color="#fde07a"/>
<stop offset="0.66" stop-color="#f9bc16"/><stop offset="0.77" stop-color="#f89a22"/>
<stop offset="0.8" stop-color="#f67a2a"/><stop offset="1" stop-color="#e8383e"/>
</linearGradient>
<linearGradient id="ge" x1="0" x2="1" y1="0" y2="0">
<stop offset="0" stop-color="#1b1f7e"/><stop offset="0.35" stop-color="#26368c"/>
<stop offset="0.42" stop-color="#2e4496"/><stop offset="0.47" stop-color="#3b55a3"/>
<stop offset="0.502" stop-color="#ffffff"/><stop offset="0.52" stop-color="#fdd84a"/>
<stop offset="0.6" stop-color="#f9b81a"/><stop offset="0.75" stop-color="#f79a22"/>
<stop offset="0.88" stop-color="#f57428"/><stop offset="1" stop-color="#e8383e"/>
</linearGradient>
</defs>
<rect x="532.00" y="249.00" width="79.20" height="6.70" fill="url(#gc)" />
<line x1="552.60" y1="249.00" x2="552.60" y2="250.20" stroke="#fff" stroke-width="0.8" />
<line x1="552.60" y1="254.50" x2="552.60" y2="255.70" stroke="#fff" stroke-width="0.8" />
<line x1="573.00" y1="249.00" x2="573.00" y2="250.20" stroke="#fff" stroke-width="0.8" />
<line x1="573.00" y1="254.50" x2="573.00" y2="255.70" stroke="#fff" stroke-width="0.8" />
<line x1="593.90" y1="249.00" x2="593.90" y2="250.20" stroke="#fff" stroke-width="0.8" />
<line x1="593.90" y1="254.50" x2="593.90" y2="255.70" stroke="#fff" stroke-width="0.8" />
<text x="573.50" y="244.80" font-size="8" text-anchor="middle" >Expression</text>
<text x="552.60" y="265.60" font-size="8" text-anchor="middle" >−1</text>
<text x="573.00" y="265.60" font-size="8" text-anchor="middle" >0</text>
<text x="593.90" y="265.60" font-size="8" text-anchor="middle" >1</text>
<text x="27.40" y="327.30" font-size="8.05" fill="#111" >T_CD8 | MOOTHA Glycolysis</text>
<line x1="29.90" y1="334.30" x2="172.50" y2="334.30" stroke="#9a9a9a" stroke-width="1.0" />
<line x1="29.90" y1="334.30" x2="172.50" y2="334.30" stroke="#2a2a2a" stroke-width="1.1" stroke-dasharray="5.8,5.8"/>
<line x1="30.80" y1="384.56" x2="172.50" y2="384.56" stroke="#4a4a4a" stroke-width="1.1" stroke-dasharray="5.5,6.2"/>
<line x1="29.90" y1="333.30" x2="29.90" y2="399.80" stroke="#222" stroke-width="1.2" />
<line x1="29.30" y1="399.20" x2="172.50" y2="399.20" stroke="#222" stroke-width="1.2" />
<line x1="27.70" y1="334.30" x2="29.90" y2="334.30" stroke="#222" stroke-width="1" />
<text x="24.00" y="337.10" font-size="8.1" text-anchor="end" fill="#111" >0.00</text>
<line x1="27.70" y1="350.12" x2="29.90" y2="350.12" stroke="#222" stroke-width="1" />
<text x="24.00" y="352.93" font-size="8.1" text-anchor="end" fill="#111" >−0.25</text>
<line x1="27.70" y1="365.95" x2="29.90" y2="365.95" stroke="#222" stroke-width="1" />
<text x="24.00" y="368.75" font-size="8.1" text-anchor="end" fill="#111" >−0.50</text>
<line x1="27.70" y1="381.78" x2="29.90" y2="381.78" stroke="#222" stroke-width="1" />
<text x="24.00" y="384.58" font-size="8.1" text-anchor="end" fill="#111" >−0.75</text>
<line x1="27.70" y1="397.60" x2="29.90" y2="397.60" stroke="#222" stroke-width="1" />
<text x="24.00" y="400.40" font-size="8.1" text-anchor="end" fill="#111" >−1.00</text>
<line x1="36.60" y1="399.20" x2="36.60" y2="401.40" stroke="#222" stroke-width="1" />
<text x="36.60" y="409.40" font-size="8" text-anchor="middle" fill="#111" >0</text>
<line x1="73.10" y1="399.20" x2="73.10" y2="401.40" stroke="#222" stroke-width="1" />
<text x="73.10" y="409.40" font-size="8" text-anchor="middle" fill="#111" >2500</text>
<line x1="109.60" y1="399.20" x2="109.60" y2="401.40" stroke="#222" stroke-width="1" />
<text x="109.60" y="409.40" font-size="8" text-anchor="middle" fill="#111" >5000</text>
<line x1="146.10" y1="399.20" x2="146.10" y2="401.40" stroke="#222" stroke-width="1" />
<text x="146.10" y="409.40" font-size="8" text-anchor="middle" fill="#111" >7500</text>
<text x="98.80" y="416.80" font-size="8" text-anchor="middle" fill="#111" >Gene rank</text>
<polyline points="36.60,334.30 78.94,354.56 79.38,353.92 87.70,358.99 88.14,358.35 125.66,376.39 125.95,375.13 130.77,377.66 131.21,375.76 145.37,381.78 145.66,375.76 163.33,384.31 163.62,376.39 165.81,376.08 166.10,334.30" fill="none" stroke="#e0242c" stroke-width="1.3" stroke-linejoin="miter"/>
<line x1="78.94" y1="390.60" x2="78.94" y2="396.80" stroke="#e0242c" stroke-width="0.9" />
<line x1="87.70" y1="390.60" x2="87.70" y2="396.80" stroke="#e0242c" stroke-width="0.9" />
<line x1="125.66" y1="390.60" x2="125.66" y2="396.80" stroke="#e0242c" stroke-width="0.9" />
<line x1="131.21" y1="390.60" x2="131.21" y2="396.80" stroke="#e0242c" stroke-width="0.9" />
<line x1="131.94" y1="390.60" x2="131.94" y2="396.80" stroke="#e0242c" stroke-width="0.9" />
<line x1="145.37" y1="390.60" x2="145.37" y2="396.80" stroke="#e0242c" stroke-width="0.9" />
<line x1="163.33" y1="390.60" x2="163.33" y2="396.80" stroke="#e0242c" stroke-width="0.9" />
<line x1="165.81" y1="390.60" x2="165.81" y2="396.80" stroke="#e0242c" stroke-width="0.9" />
<text x="32.90" y="368.45" font-size="8.25" fill="#111" >NES -1.9007</text>
<text x="32.90" y="378.85" font-size="8.3" fill="#111" ><tspan font-style="italic">P</tspan><tspan font-size="4.8" dy="3.0">adj</tspan><tspan dy="-3.0"> 2.1779 x 10</tspan><tspan font-size="5" dy="-3.4">-8</tspan></text>
<text x="27.40" y="438.90" font-size="8.05" fill="#111" >TIM | MOOTHA Glycolysis</text>
<line x1="29.70" y1="445.50" x2="172.10" y2="445.50" stroke="#3a3a3a" stroke-width="1.1" />
<line x1="30.60" y1="495.26" x2="172.10" y2="495.26" stroke="#4a4a4a" stroke-width="1.1" stroke-dasharray="5.5,6.2"/>
<line x1="29.70" y1="444.50" x2="29.70" y2="511.20" stroke="#222" stroke-width="1.2" />
<line x1="29.10" y1="510.60" x2="172.10" y2="510.60" stroke="#222" stroke-width="1.2" />
<line x1="27.50" y1="445.50" x2="29.70" y2="445.50" stroke="#222" stroke-width="1" />
<text x="23.80" y="448.30" font-size="8.1" text-anchor="end" fill="#111" >0.00</text>
<line x1="27.50" y1="461.45" x2="29.70" y2="461.45" stroke="#222" stroke-width="1" />
<text x="23.80" y="464.25" font-size="8.1" text-anchor="end" fill="#111" >−0.25</text>
<line x1="27.50" y1="477.40" x2="29.70" y2="477.40" stroke="#222" stroke-width="1" />
<text x="23.80" y="480.20" font-size="8.1" text-anchor="end" fill="#111" >−0.50</text>
<line x1="27.50" y1="493.35" x2="29.70" y2="493.35" stroke="#222" stroke-width="1" />
<text x="23.80" y="496.15" font-size="8.1" text-anchor="end" fill="#111" >−0.75</text>
<line x1="27.50" y1="509.30" x2="29.70" y2="509.30" stroke="#222" stroke-width="1" />
<text x="23.80" y="512.10" font-size="8.1" text-anchor="end" fill="#111" >−1.00</text>
<line x1="36.80" y1="510.60" x2="36.80" y2="512.80" stroke="#222" stroke-width="1" />
<text x="36.80" y="520.80" font-size="8" text-anchor="middle" fill="#111" >0</text>
<line x1="72.10" y1="510.60" x2="72.10" y2="512.80" stroke="#222" stroke-width="1" />
<text x="72.10" y="520.80" font-size="8" text-anchor="middle" fill="#111" >3000</text>
<line x1="107.40" y1="510.60" x2="107.40" y2="512.80" stroke="#222" stroke-width="1" />
<text x="107.40" y="520.80" font-size="8" text-anchor="middle" fill="#111" >6000</text>
<line x1="142.70" y1="510.60" x2="142.70" y2="512.80" stroke="#222" stroke-width="1" />
<text x="142.70" y="520.80" font-size="8" text-anchor="middle" fill="#111" >9000</text>
<text x="98.80" y="528.20" font-size="8" text-anchor="middle" fill="#111" >Gene rank</text>
<polyline points="36.80,445.50 72.59,462.80 72.99,462.40 83.90,467.20 84.30,467.00 90.60,470.00 91.00,469.80 142.10,494.90 143.19,493.00 144.79,492.20 149.00,494.50 149.50,492.50 153.80,494.50 154.30,491.30 156.50,492.50 157.00,489.50 160.20,491.80 160.60,486.50 162.80,487.50 163.30,474.50 164.00,467.00 164.40,466.20 165.90,466.70 166.20,445.50" fill="none" stroke="#f5b400" stroke-width="1.3" stroke-linejoin="miter"/>
<line x1="72.99" y1="500.60" x2="72.99" y2="507.70" stroke="#f5b400" stroke-width="0.9" />
<line x1="84.00" y1="500.60" x2="84.00" y2="507.70" stroke="#f5b400" stroke-width="0.9" />
<line x1="90.60" y1="500.60" x2="90.60" y2="507.70" stroke="#f5b400" stroke-width="0.9" />
<line x1="113.60" y1="500.60" x2="113.60" y2="507.70" stroke="#f5b400" stroke-width="0.9" />
<line x1="142.10" y1="500.60" x2="142.10" y2="507.70" stroke="#f5b400" stroke-width="0.9" />
<line x1="143.50" y1="500.60" x2="143.50" y2="507.70" stroke="#f5b400" stroke-width="0.9" />
<line x1="143.99" y1="500.60" x2="143.99" y2="507.70" stroke="#f5b400" stroke-width="0.9" />
<line x1="149.50" y1="500.60" x2="149.50" y2="507.70" stroke="#f5b400" stroke-width="0.9" />
<line x1="154.10" y1="500.60" x2="154.10" y2="507.70" stroke="#f5b400" stroke-width="0.9" />
<line x1="155.90" y1="500.60" x2="155.90" y2="507.70" stroke="#f5b400" stroke-width="0.9" />
<line x1="160.10" y1="500.60" x2="160.10" y2="507.70" stroke="#f5b400" stroke-width="0.9" />
<line x1="161.80" y1="500.60" x2="161.80" y2="507.70" stroke="#f5b400" stroke-width="0.9" />
<line x1="162.60" y1="500.60" x2="162.60" y2="507.70" stroke="#f5b400" stroke-width="0.9" />
<line x1="163.40" y1="500.60" x2="163.40" y2="507.70" stroke="#f5b400" stroke-width="0.9" />
<line x1="164.20" y1="500.60" x2="164.20" y2="507.70" stroke="#f5b400" stroke-width="0.9" />
<line x1="165.00" y1="500.60" x2="165.00" y2="507.70" stroke="#f5b400" stroke-width="0.9" />
<line x1="165.80" y1="500.60" x2="165.80" y2="507.70" stroke="#f5b400" stroke-width="0.9" />
<line x1="166.40" y1="500.60" x2="166.40" y2="507.70" stroke="#f5b400" stroke-width="0.9" />
<text x="32.90" y="479.90" font-size="8.25" fill="#111" >NES -1.5271</text>
<text x="32.90" y="490.30" font-size="8.3" fill="#111" ><tspan font-style="italic">P</tspan><tspan font-size="4.8" dy="3.0">adj</tspan><tspan dy="-3.0"> 1.272 x 10</tspan><tspan font-size="5" dy="-3.4">-3</tspan></text>
<rect x="181.60" y="317.00" width="16.80" height="99.30" fill="#fff" stroke="#111" stroke-width="1.4" />
<text x="193.30" y="366.65" font-size="9.4" text-anchor="middle" fill="#111" transform="rotate(-90 193.30 366.65)" >CD8 T cells</text>
<line x1="242.30" y1="316.80" x2="242.30" y2="414.20" stroke="#222" stroke-width="1.0" />
<line x1="240.00" y1="320.30" x2="242.30" y2="320.30" stroke="#333" stroke-width="0.8" />
<text x="239.30" y="323.20" font-size="8.2" text-anchor="end" fill="#1a1a1a" >scOVCA5</text>
<circle cx="246.70" cy="320.30" r="1.9" fill="#f3f4f9"/>
<circle cx="253.81" cy="320.30" r="1.9" fill="#f3f4f9"/>
<circle cx="260.92" cy="320.30" r="3.3" fill="#e6e9f3"/>
<circle cx="268.02" cy="320.30" r="3.3" fill="#c7cde6"/>
<circle cx="275.13" cy="320.30" r="3.3" fill="#6878b9"/>
<circle cx="282.24" cy="320.30" r="1.9" fill="#fdf9ec"/>
<circle cx="289.35" cy="320.30" r="2.0" fill="#fdf2d4"/>
<circle cx="296.46" cy="320.30" r="3.3" fill="#364ca1"/>
<circle cx="303.56" cy="320.30" r="3.3" fill="#e6e9f3"/>
<circle cx="310.67" cy="320.30" r="3.3" fill="#fdf0cf"/>
<circle cx="317.78" cy="320.30" r="3.3" fill="#c7cde6"/>
<circle cx="324.89" cy="320.30" r="1.9" fill="#f3f4f9"/>
<circle cx="332.00" cy="320.30" r="1.9" fill="#f3f4f9"/>
<circle cx="346.21" cy="320.30" r="3.3" fill="#c7cde6"/>
<circle cx="353.32" cy="320.30" r="3.3" fill="#fdf0cf"/>
<circle cx="360.43" cy="320.30" r="3.3" fill="#fdf0cf"/>
<circle cx="367.54" cy="320.30" r="3.3" fill="#93a0cf"/>
<circle cx="374.64" cy="320.30" r="3.3" fill="#c7cde6"/>
<circle cx="381.75" cy="320.30" r="3.3" fill="#e6e9f3"/>
<circle cx="388.86" cy="320.30" r="3.3" fill="#c7cde6"/>
<circle cx="395.97" cy="320.30" r="3.3" fill="#e6e9f3"/>
<circle cx="403.08" cy="320.30" r="3.3" fill="#c7cde6"/>
<circle cx="410.18" cy="320.30" r="3.3" fill="#c7cde6"/>
<circle cx="417.29" cy="320.30" r="3.3" fill="#fdf0cf"/>
<circle cx="424.40" cy="320.30" r="3.3" fill="#e6e9f3"/>
<circle cx="431.51" cy="320.30" r="3.3" fill="#e6e9f3"/>
<circle cx="438.62" cy="320.30" r="3.3" fill="#fdf0cf"/>
<circle cx="445.72" cy="320.30" r="3.3" fill="#c7cde6"/>
<circle cx="452.83" cy="320.30" r="3.3" fill="#93a0cf"/>
<circle cx="467.05" cy="320.30" r="1.9" fill="#f3f4f9"/>
<circle cx="474.16" cy="320.30" r="3.3" fill="#e6e9f3"/>
<circle cx="481.26" cy="320.30" r="3.3" fill="#fdf0cf"/>
<circle cx="488.37" cy="320.30" r="3.3" fill="#e6e9f3"/>
<circle cx="495.48" cy="320.30" r="2.0" fill="#fdf2d4"/>
<circle cx="502.59" cy="320.30" r="1.9" fill="#fdf9ec"/>
<circle cx="509.70" cy="320.30" r="2.0" fill="#fce39a"/>
<circle cx="516.80" cy="320.30" r="3.3" fill="#e6e9f3"/>
<circle cx="523.91" cy="320.30" r="3.3" fill="#93a0cf"/>
<circle cx="538.13" cy="320.30" r="3.3" fill="#c7cde6"/>
<circle cx="545.24" cy="320.30" r="3.3" fill="#93a0cf"/>
<circle cx="552.34" cy="320.30" r="3.3" fill="#c7cde6"/>
<circle cx="559.45" cy="320.30" r="3.3" fill="#fdf0cf"/>
<circle cx="566.56" cy="320.30" r="1.9" fill="#f3f4f9"/>
<circle cx="573.67" cy="320.30" r="3.3" fill="#364ca1"/>
<circle cx="580.78" cy="320.30" r="3.3" fill="#e6e9f3"/>
<circle cx="594.99" cy="320.30" r="1.9" fill="#fdf9ec"/>
<circle cx="602.10" cy="320.30" r="3.3" fill="#fdf0cf"/>
<circle cx="609.21" cy="320.30" r="3.3" fill="#e6e9f3"/>
<circle cx="616.32" cy="320.30" r="3.3" fill="#fdf0cf"/>
<circle cx="623.42" cy="320.30" r="3.3" fill="#e6e9f3"/>
<circle cx="630.53" cy="320.30" r="3.3" fill="#e6e9f3"/>
<circle cx="637.64" cy="320.30" r="3.3" fill="#fdf0cf"/>
<circle cx="644.75" cy="320.30" r="3.3" fill="#e6e9f3"/>
<circle cx="651.86" cy="320.30" r="3.3" fill="#f9c842"/>
<circle cx="658.96" cy="320.30" r="3.3" fill="#fdf0cf"/>
<circle cx="666.07" cy="320.30" r="3.3" fill="#c7cde6"/>
<circle cx="673.18" cy="320.30" r="3.3" fill="#364ca1"/>
<circle cx="680.29" cy="320.30" r="3.3" fill="#e6e9f3"/>
<line x1="240.00" y1="326.88" x2="242.30" y2="326.88" stroke="#333" stroke-width="0.8" />
<text x="239.30" y="329.78" font-size="8.2" text-anchor="end" fill="#1a1a1a" >scOVCA4</text>
<circle cx="246.70" cy="326.88" r="1.9" fill="#fdf9ec"/>
<circle cx="253.81" cy="326.88" r="2.0" fill="#fce39a"/>
<circle cx="260.92" cy="326.88" r="2.0" fill="#f9cb45"/>
<circle cx="268.02" cy="326.88" r="2.0" fill="#fdf2d4"/>
<circle cx="275.13" cy="326.88" r="2.0" fill="#c9cfe7"/>
<circle cx="282.24" cy="326.88" r="2.0" fill="#97a4d1"/>
<circle cx="289.35" cy="326.88" r="1.9" fill="#f3f4f9"/>
<circle cx="296.46" cy="326.88" r="2.0" fill="#6b7cbb"/>
<circle cx="303.56" cy="326.88" r="2.0" fill="#fce39a"/>
<circle cx="310.67" cy="326.88" r="2.0" fill="#e8ebf4"/>
<circle cx="317.78" cy="326.88" r="2.0" fill="#f9cb45"/>
<circle cx="324.89" cy="326.88" r="3.3" fill="#93a0cf"/>
<circle cx="332.00" cy="326.88" r="1.9" fill="#f3f4f9"/>
<circle cx="346.21" cy="326.88" r="2.0" fill="#fdf2d4"/>
<circle cx="353.32" cy="326.88" r="1.9" fill="#fdf9ec"/>
<circle cx="360.43" cy="326.88" r="2.0" fill="#fdf2d4"/>
<circle cx="367.54" cy="326.88" r="2.0" fill="#fce39a"/>
<circle cx="374.64" cy="326.88" r="2.0" fill="#e8ebf4"/>
<circle cx="381.75" cy="326.88" r="2.0" fill="#97a4d1"/>
<circle cx="388.86" cy="326.88" r="1.9" fill="#f3f4f9"/>
<circle cx="395.97" cy="326.88" r="2.0" fill="#fce39a"/>
<circle cx="403.08" cy="326.88" r="1.9" fill="#fdf9ec"/>
<circle cx="410.18" cy="326.88" r="2.0" fill="#fce39a"/>
<circle cx="424.40" cy="326.88" r="1.9" fill="#fdf9ec"/>
<circle cx="431.51" cy="326.88" r="2.0" fill="#fce39a"/>
<circle cx="438.62" cy="326.88" r="2.0" fill="#fdf2d4"/>
<circle cx="445.72" cy="326.88" r="2.0" fill="#97a4d1"/>
<circle cx="452.83" cy="326.88" r="2.0" fill="#e8ebf4"/>
<circle cx="459.94" cy="326.88" r="2.0" fill="#fce39a"/>
<circle cx="467.05" cy="326.88" r="3.3" fill="#6878b9"/>
<circle cx="474.16" cy="326.88" r="2.0" fill="#fdf2d4"/>
<circle cx="481.26" cy="326.88" r="2.0" fill="#e8ebf4"/>
<circle cx="488.37" cy="326.88" r="2.0" fill="#fdf2d4"/>
<circle cx="495.48" cy="326.88" r="2.0" fill="#f9cb45"/>
<circle cx="502.59" cy="326.88" r="1.9" fill="#f3f4f9"/>
<circle cx="509.70" cy="326.88" r="2.0" fill="#fce39a"/>
<circle cx="516.80" cy="326.88" r="2.0" fill="#e8ebf4"/>
<circle cx="523.91" cy="326.88" r="2.0" fill="#fce39a"/>
<circle cx="531.02" cy="326.88" r="1.9" fill="#fdf9ec"/>
<circle cx="538.13" cy="326.88" r="2.0" fill="#fce39a"/>
<circle cx="545.24" cy="326.88" r="3.3" fill="#6878b9"/>
<circle cx="552.34" cy="326.88" r="2.0" fill="#e8ebf4"/>
<circle cx="559.45" cy="326.88" r="2.0" fill="#e8ebf4"/>
<circle cx="566.56" cy="326.88" r="2.0" fill="#c9cfe7"/>
<circle cx="573.67" cy="326.88" r="2.0" fill="#e8ebf4"/>
<circle cx="580.78" cy="326.88" r="2.0" fill="#f9cb45"/>
<circle cx="587.88" cy="326.88" r="2.0" fill="#97a4d1"/>
<circle cx="594.99" cy="326.88" r="2.0" fill="#fdf2d4"/>
<circle cx="602.10" cy="326.88" r="3.3" fill="#6878b9"/>
<circle cx="609.21" cy="326.88" r="1.9" fill="#fdf9ec"/>
<circle cx="616.32" cy="326.88" r="3.3" fill="#6878b9"/>
<circle cx="623.42" cy="326.88" r="2.0" fill="#c9cfe7"/>
<circle cx="630.53" cy="326.88" r="2.0" fill="#fce39a"/>
<circle cx="637.64" cy="326.88" r="2.0" fill="#e8ebf4"/>
<circle cx="644.75" cy="326.88" r="2.0" fill="#fce39a"/>
<circle cx="651.86" cy="326.88" r="2.0" fill="#f9cb45"/>
<circle cx="658.96" cy="326.88" r="2.0" fill="#c9cfe7"/>
<circle cx="666.07" cy="326.88" r="2.0" fill="#e8ebf4"/>
<circle cx="673.18" cy="326.88" r="2.0" fill="#97a4d1"/>
<circle cx="680.29" cy="326.88" r="2.0" fill="#e8ebf4"/>
<line x1="240.00" y1="333.46" x2="242.30" y2="333.46" stroke="#333" stroke-width="0.8" />
<text x="239.30" y="336.36" font-size="8.2" text-anchor="end" fill="#1a1a1a" >scOVCA3</text>
<circle cx="246.70" cy="333.46" r="1.9" fill="#f3f4f9"/>
<circle cx="253.81" cy="333.46" r="3.3" fill="#fbe194"/>
<circle cx="260.92" cy="333.46" r="3.3" fill="#e6e9f3"/>
<circle cx="268.02" cy="333.46" r="3.3" fill="#fbe194"/>
<circle cx="275.13" cy="333.46" r="3.3" fill="#6878b9"/>
<circle cx="282.24" cy="333.46" r="2.0" fill="#fdf2d4"/>
<circle cx="289.35" cy="333.46" r="3.3" fill="#e6e9f3"/>
<circle cx="296.46" cy="333.46" r="3.3" fill="#6878b9"/>
<circle cx="303.56" cy="333.46" r="1.9" fill="#fdf9ec"/>
<circle cx="310.67" cy="333.46" r="3.3" fill="#e6e9f3"/>
<circle cx="317.78" cy="333.46" r="3.3" fill="#e6e9f3"/>
<circle cx="324.89" cy="333.46" r="3.3" fill="#fdf0cf"/>
<circle cx="332.00" cy="333.46" r="2.0" fill="#fdf2d4"/>
<circle cx="346.21" cy="333.46" r="3.3" fill="#93a0cf"/>
<circle cx="353.32" cy="333.46" r="3.3" fill="#93a0cf"/>
<circle cx="360.43" cy="333.46" r="3.3" fill="#e6e9f3"/>
<circle cx="367.54" cy="333.46" r="3.3" fill="#c7cde6"/>
<circle cx="374.64" cy="333.46" r="3.3" fill="#c7cde6"/>
<circle cx="381.75" cy="333.46" r="3.3" fill="#93a0cf"/>
<circle cx="388.86" cy="333.46" r="3.3" fill="#fbe194"/>
<circle cx="395.97" cy="333.46" r="2.0" fill="#fce39a"/>
<circle cx="403.08" cy="333.46" r="3.3" fill="#fdf0cf"/>
<circle cx="410.18" cy="333.46" r="3.3" fill="#c7cde6"/>
<circle cx="417.29" cy="333.46" r="3.3" fill="#e6e9f3"/>
<circle cx="424.40" cy="333.46" r="1.9" fill="#fdf9ec"/>
<circle cx="431.51" cy="333.46" r="3.3" fill="#fdf0cf"/>
<circle cx="438.62" cy="333.46" r="2.0" fill="#fce39a"/>
<circle cx="445.72" cy="333.46" r="3.3" fill="#c7cde6"/>
<circle cx="452.83" cy="333.46" r="3.3" fill="#c7cde6"/>
<circle cx="459.94" cy="333.46" r="3.3" fill="#93a0cf"/>
<circle cx="467.05" cy="333.46" r="3.3" fill="#e6e9f3"/>
<circle cx="474.16" cy="333.46" r="1.9" fill="#fdf9ec"/>
<circle cx="481.26" cy="333.46" r="3.3" fill="#fdf0cf"/>
<circle cx="488.37" cy="333.46" r="3.3" fill="#e6e9f3"/>
<circle cx="495.48" cy="333.46" r="2.0" fill="#fce39a"/>
<circle cx="509.70" cy="333.46" r="2.0" fill="#fdf2d4"/>
<circle cx="523.91" cy="333.46" r="3.3" fill="#e6e9f3"/>
<circle cx="531.02" cy="333.46" r="1.9" fill="#f3f4f9"/>
<circle cx="538.13" cy="333.46" r="3.3" fill="#e6e9f3"/>
<circle cx="545.24" cy="333.46" r="3.3" fill="#c7cde6"/>
<circle cx="552.34" cy="333.46" r="1.9" fill="#f3f4f9"/>
<circle cx="559.45" cy="333.46" r="1.9" fill="#fdf9ec"/>
<circle cx="566.56" cy="333.46" r="2.0" fill="#fdf2d4"/>
<circle cx="573.67" cy="333.46" r="3.3" fill="#6878b9"/>
<circle cx="580.78" cy="333.46" r="1.9" fill="#fdf9ec"/>
<circle cx="587.88" cy="333.46" r="3.3" fill="#c7cde6"/>
<circle cx="594.99" cy="333.46" r="3.3" fill="#c7cde6"/>
<circle cx="602.10" cy="333.46" r="3.3" fill="#e6e9f3"/>
<circle cx="609.21" cy="333.46" r="1.9" fill="#fdf9ec"/>
<circle cx="616.32" cy="333.46" r="3.3" fill="#fdf0cf"/>
<circle cx="623.42" cy="333.46" r="3.3" fill="#e6e9f3"/>
<circle cx="630.53" cy="333.46" r="3.3" fill="#e6e9f3"/>
<circle cx="637.64" cy="333.46" r="2.0" fill="#fce39a"/>
<circle cx="644.75" cy="333.46" r="3.3" fill="#fdf0cf"/>
<circle cx="651.86" cy="333.46" r="3.3" fill="#f9c842"/>
<circle cx="658.96" cy="333.46" r="3.3" fill="#c7cde6"/>
<circle cx="666.07" cy="333.46" r="3.3" fill="#c7cde6"/>
<circle cx="673.18" cy="333.46" r="3.3" fill="#6878b9"/>
<circle cx="680.29" cy="333.46" r="3.3" fill="#93a0cf"/>
<line x1="240.00" y1="340.04" x2="242.30" y2="340.04" stroke="#333" stroke-width="0.8" />
<text x="239.30" y="342.94" font-size="8.2" text-anchor="end" fill="#1a1a1a" >scOVCA2</text>
<circle cx="246.70" cy="340.04" r="3.3" fill="#c7cde6"/>
<circle cx="253.81" cy="340.04" r="2.0" fill="#fce39a"/>
<circle cx="260.92" cy="340.04" r="2.0" fill="#fce39a"/>
<circle cx="268.02" cy="340.04" r="2.0" fill="#fce39a"/>
<circle cx="275.13" cy="340.04" r="2.0" fill="#97a4d1"/>
<circle cx="282.24" cy="340.04" r="1.9" fill="#f3f4f9"/>
<circle cx="296.46" cy="340.04" r="3.3" fill="#6878b9"/>
<circle cx="303.56" cy="340.04" r="3.3" fill="#c7cde6"/>
<circle cx="310.67" cy="340.04" r="2.0" fill="#fce39a"/>
<circle cx="317.78" cy="340.04" r="3.3" fill="#93a0cf"/>
<circle cx="324.89" cy="340.04" r="3.3" fill="#93a0cf"/>
<circle cx="332.00" cy="340.04" r="2.0" fill="#fdf2d4"/>
<circle cx="346.21" cy="340.04" r="3.3" fill="#c7cde6"/>
<circle cx="353.32" cy="340.04" r="3.3" fill="#6878b9"/>
<circle cx="360.43" cy="340.04" r="3.3" fill="#93a0cf"/>
<circle cx="367.54" cy="340.04" r="3.3" fill="#e6e9f3"/>
<circle cx="374.64" cy="340.04" r="3.3" fill="#93a0cf"/>
<circle cx="381.75" cy="340.04" r="3.3" fill="#c7cde6"/>
<circle cx="388.86" cy="340.04" r="2.0" fill="#fdf2d4"/>
<circle cx="395.97" cy="340.04" r="2.0" fill="#fce39a"/>
<circle cx="403.08" cy="340.04" r="3.3" fill="#93a0cf"/>
<circle cx="410.18" cy="340.04" r="3.3" fill="#e6e9f3"/>
<circle cx="417.29" cy="340.04" r="3.3" fill="#c7cde6"/>
<circle cx="424.40" cy="340.04" r="3.3" fill="#e6e9f3"/>
<circle cx="431.51" cy="340.04" r="1.9" fill="#f3f4f9"/>
<circle cx="438.62" cy="340.04" r="3.3" fill="#6878b9"/>
<circle cx="445.72" cy="340.04" r="2.0" fill="#fdf2d4"/>
<circle cx="452.83" cy="340.04" r="1.9" fill="#fdf9ec"/>
<circle cx="459.94" cy="340.04" r="2.0" fill="#e8ebf4"/>
<circle cx="467.05" cy="340.04" r="3.3" fill="#93a0cf"/>
<circle cx="474.16" cy="340.04" r="1.9" fill="#fdf9ec"/>
<circle cx="481.26" cy="340.04" r="2.0" fill="#fce39a"/>
<circle cx="488.37" cy="340.04" r="3.3" fill="#c7cde6"/>
<circle cx="495.48" cy="340.04" r="2.0" fill="#fce39a"/>
<circle cx="502.59" cy="340.04" r="2.0" fill="#e8ebf4"/>
<circle cx="509.70" cy="340.04" r="2.0" fill="#fce39a"/>
<circle cx="523.91" cy="340.04" r="2.0" fill="#fdf2d4"/>
<circle cx="531.02" cy="340.04" r="3.3" fill="#e6e9f3"/>
<circle cx="538.13" cy="340.04" r="3.3" fill="#c7cde6"/>
<circle cx="545.24" cy="340.04" r="3.3" fill="#e6e9f3"/>
<circle cx="552.34" cy="340.04" r="2.0" fill="#f9cb45"/>
<circle cx="559.45" cy="340.04" r="2.0" fill="#fdf2d4"/>
<circle cx="566.56" cy="340.04" r="3.3" fill="#93a0cf"/>
<circle cx="573.67" cy="340.04" r="3.3" fill="#6878b9"/>
<circle cx="580.78" cy="340.04" r="3.3" fill="#e6e9f3"/>
<circle cx="587.88" cy="340.04" r="2.0" fill="#fdf2d4"/>
<circle cx="594.99" cy="340.04" r="3.3" fill="#93a0cf"/>
<circle cx="602.10" cy="340.04" r="2.0" fill="#c9cfe7"/>
<circle cx="609.21" cy="340.04" r="3.3" fill="#c7cde6"/>
<circle cx="616.32" cy="340.04" r="3.3" fill="#93a0cf"/>
<circle cx="623.42" cy="340.04" r="3.3" fill="#c7cde6"/>
<circle cx="630.53" cy="340.04" r="3.3" fill="#c7cde6"/>
<circle cx="637.64" cy="340.04" r="3.3" fill="#6878b9"/>
<circle cx="644.75" cy="340.04" r="3.3" fill="#c7cde6"/>
<circle cx="651.86" cy="340.04" r="2.0" fill="#f9cb45"/>
<circle cx="658.96" cy="340.04" r="3.3" fill="#c7cde6"/>
<circle cx="666.07" cy="340.04" r="2.0" fill="#fdf2d4"/>
<circle cx="673.18" cy="340.04" r="3.3" fill="#6878b9"/>
<circle cx="680.29" cy="340.04" r="2.0" fill="#e8ebf4"/>
<line x1="240.00" y1="346.62" x2="242.30" y2="346.62" stroke="#333" stroke-width="0.8" />
<text x="239.30" y="349.52" font-size="8.2" text-anchor="end" fill="#1a1a1a" >scOVCA1</text>
<circle cx="246.70" cy="346.62" r="1.9" fill="#fdf9ec"/>
<circle cx="253.81" cy="346.62" r="3.3" fill="#c7cde6"/>
<circle cx="260.92" cy="346.62" r="2.0" fill="#e8ebf4"/>
<circle cx="268.02" cy="346.62" r="3.3" fill="#c7cde6"/>
<circle cx="275.13" cy="346.62" r="3.3" fill="#93a0cf"/>
<circle cx="282.24" cy="346.62" r="1.9" fill="#fdf9ec"/>
<circle cx="289.35" cy="346.62" r="1.9" fill="#fdf9ec"/>
<circle cx="296.46" cy="346.62" r="3.3" fill="#93a0cf"/>
<circle cx="303.56" cy="346.62" r="1.9" fill="#fdf9ec"/>
<circle cx="310.67" cy="346.62" r="2.0" fill="#e8ebf4"/>
<circle cx="317.78" cy="346.62" r="3.3" fill="#c7cde6"/>
<circle cx="324.89" cy="346.62" r="1.9" fill="#f3f4f9"/>
<circle cx="332.00" cy="346.62" r="3.3" fill="#e6e9f3"/>
<circle cx="346.21" cy="346.62" r="1.9" fill="#fdf9ec"/>
<circle cx="353.32" cy="346.62" r="2.0" fill="#e8ebf4"/>
<circle cx="360.43" cy="346.62" r="3.3" fill="#c7cde6"/>
<circle cx="367.54" cy="346.62" r="2.0" fill="#e8ebf4"/>
<circle cx="374.64" cy="346.62" r="2.0" fill="#e8ebf4"/>
<circle cx="381.75" cy="346.62" r="2.0" fill="#fce39a"/>
<circle cx="388.86" cy="346.62" r="1.9" fill="#fdf9ec"/>
<circle cx="395.97" cy="346.62" r="2.0" fill="#fce39a"/>
<circle cx="403.08" cy="346.62" r="1.9" fill="#fdf9ec"/>
<circle cx="410.18" cy="346.62" r="3.3" fill="#93a0cf"/>
<circle cx="424.40" cy="346.62" r="2.0" fill="#fdf2d4"/>
<circle cx="431.51" cy="346.62" r="2.0" fill="#fce39a"/>
<circle cx="438.62" cy="346.62" r="1.9" fill="#f3f4f9"/>
<circle cx="445.72" cy="346.62" r="2.0" fill="#c9cfe7"/>
<circle cx="452.83" cy="346.62" r="2.0" fill="#fce39a"/>
<circle cx="459.94" cy="346.62" r="2.0" fill="#fce39a"/>
<circle cx="467.05" cy="346.62" r="3.3" fill="#c7cde6"/>
<circle cx="474.16" cy="346.62" r="1.9" fill="#fdf9ec"/>
<circle cx="481.26" cy="346.62" r="2.0" fill="#fdf2d4"/>
<circle cx="488.37" cy="346.62" r="3.3" fill="#e6e9f3"/>
<circle cx="495.48" cy="346.62" r="2.0" fill="#fce39a"/>
<circle cx="509.70" cy="346.62" r="1.9" fill="#fdf9ec"/>
<circle cx="523.91" cy="346.62" r="2.0" fill="#e8ebf4"/>
<circle cx="531.02" cy="346.62" r="1.9" fill="#f3f4f9"/>
<circle cx="538.13" cy="346.62" r="2.0" fill="#c9cfe7"/>
<circle cx="545.24" cy="346.62" r="3.3" fill="#c7cde6"/>
<circle cx="552.34" cy="346.62" r="2.0" fill="#fdf2d4"/>
<circle cx="559.45" cy="346.62" r="2.0" fill="#e8ebf4"/>
<circle cx="566.56" cy="346.62" r="2.0" fill="#e8ebf4"/>
<circle cx="580.78" cy="346.62" r="1.9" fill="#f3f4f9"/>
<circle cx="587.88" cy="346.62" r="1.9" fill="#fdf9ec"/>
<circle cx="602.10" cy="346.62" r="3.3" fill="#e6e9f3"/>
<circle cx="609.21" cy="346.62" r="3.3" fill="#c7cde6"/>
<circle cx="616.32" cy="346.62" r="2.0" fill="#fdf2d4"/>
<circle cx="623.42" cy="346.62" r="3.3" fill="#c7cde6"/>
<circle cx="630.53" cy="346.62" r="1.9" fill="#fdf9ec"/>
<circle cx="637.64" cy="346.62" r="3.3" fill="#c7cde6"/>
<circle cx="644.75" cy="346.62" r="2.0" fill="#fdf2d4"/>
<circle cx="651.86" cy="346.62" r="2.0" fill="#fce39a"/>
<circle cx="658.96" cy="346.62" r="3.3" fill="#c7cde6"/>
<circle cx="666.07" cy="346.62" r="2.0" fill="#e8ebf4"/>
<circle cx="673.18" cy="346.62" r="3.3" fill="#c7cde6"/>
<circle cx="680.29" cy="346.62" r="2.0" fill="#fdf2d4"/>
<line x1="240.00" y1="353.20" x2="242.30" y2="353.20" stroke="#333" stroke-width="0.8" />
<text x="239.30" y="356.10" font-size="8.2" text-anchor="end" fill="#1a1a1a" >scCRC5</text>
<circle cx="246.70" cy="353.20" r="1.9" fill="#fdf9ec"/>
<circle cx="253.81" cy="353.20" r="2.0" fill="#c9cfe7"/>
<circle cx="260.92" cy="353.20" r="1.9" fill="#fdf9ec"/>
<circle cx="268.02" cy="353.20" r="2.0" fill="#97a4d1"/>
<circle cx="275.13" cy="353.20" r="3.3" fill="#364ca1"/>
<circle cx="282.24" cy="353.20" r="1.9" fill="#fdf9ec"/>
<circle cx="289.35" cy="353.20" r="2.0" fill="#fdf2d4"/>
<circle cx="296.46" cy="353.20" r="3.3" fill="#364ca1"/>
<circle cx="303.56" cy="353.20" r="2.0" fill="#c9cfe7"/>
<circle cx="310.67" cy="353.20" r="2.0" fill="#fce39a"/>
<circle cx="317.78" cy="353.20" r="2.0" fill="#c9cfe7"/>
<circle cx="324.89" cy="353.20" r="2.0" fill="#6b7cbb"/>
<circle cx="332.00" cy="353.20" r="2.0" fill="#e8ebf4"/>
<circle cx="346.21" cy="353.20" r="2.0" fill="#fdf2d4"/>
<circle cx="353.32" cy="353.20" r="2.0" fill="#e8ebf4"/>
<circle cx="360.43" cy="353.20" r="2.0" fill="#f9cb45"/>
<circle cx="367.54" cy="353.20" r="2.0" fill="#c9cfe7"/>
<circle cx="374.64" cy="353.20" r="3.3" fill="#93a0cf"/>
<circle cx="381.75" cy="353.20" r="2.0" fill="#fdf2d4"/>
<circle cx="388.86" cy="353.20" r="2.0" fill="#f9cb45"/>
<circle cx="395.97" cy="353.20" r="2.0" fill="#f7a62a"/>
<circle cx="403.08" cy="353.20" r="2.0" fill="#f9cb45"/>
<circle cx="410.18" cy="353.20" r="1.9" fill="#fdf9ec"/>
<circle cx="417.29" cy="353.20" r="2.0" fill="#f9cb45"/>
<circle cx="424.40" cy="353.20" r="2.0" fill="#fce39a"/>
<circle cx="431.51" cy="353.20" r="1.9" fill="#f3f4f9"/>
<circle cx="438.62" cy="353.20" r="2.0" fill="#fdf2d4"/>
<circle cx="445.72" cy="353.20" r="2.0" fill="#97a4d1"/>
<circle cx="452.83" cy="353.20" r="2.0" fill="#e8ebf4"/>
<circle cx="459.94" cy="353.20" r="2.0" fill="#fce39a"/>
<circle cx="467.05" cy="353.20" r="3.3" fill="#c7cde6"/>
<circle cx="481.26" cy="353.20" r="1.9" fill="#f3f4f9"/>
<circle cx="488.37" cy="353.20" r="3.3" fill="#93a0cf"/>
<circle cx="495.48" cy="353.20" r="2.0" fill="#f9cb45"/>
<circle cx="509.70" cy="353.20" r="3.3" fill="#f9c842"/>
<circle cx="523.91" cy="353.20" r="3.3" fill="#93a0cf"/>
<circle cx="538.13" cy="353.20" r="2.0" fill="#e8ebf4"/>
<circle cx="545.24" cy="353.20" r="3.3" fill="#6878b9"/>
<circle cx="552.34" cy="353.20" r="2.0" fill="#fdf2d4"/>
<circle cx="559.45" cy="353.20" r="3.3" fill="#6878b9"/>
<circle cx="566.56" cy="353.20" r="3.3" fill="#c7cde6"/>
<circle cx="573.67" cy="353.20" r="3.3" fill="#6878b9"/>
<circle cx="580.78" cy="353.20" r="3.3" fill="#93a0cf"/>
<circle cx="587.88" cy="353.20" r="2.0" fill="#f9cb45"/>
<circle cx="594.99" cy="353.20" r="2.0" fill="#fce39a"/>
<circle cx="602.10" cy="353.20" r="3.3" fill="#93a0cf"/>
<circle cx="609.21" cy="353.20" r="3.3" fill="#e6e9f3"/>
<circle cx="616.32" cy="353.20" r="2.0" fill="#fce39a"/>
<circle cx="623.42" cy="353.20" r="3.3" fill="#c7cde6"/>
<circle cx="637.64" cy="353.20" r="2.0" fill="#fdf2d4"/>
<circle cx="644.75" cy="353.20" r="2.0" fill="#fdf2d4"/>
<circle cx="651.86" cy="353.20" r="2.0" fill="#f9cb45"/>
<circle cx="658.96" cy="353.20" r="3.3" fill="#6878b9"/>
<circle cx="666.07" cy="353.20" r="2.0" fill="#e8ebf4"/>
<circle cx="673.18" cy="353.20" r="3.3" fill="#364ca1"/>
<circle cx="680.29" cy="353.20" r="1.9" fill="#fdf9ec"/>
<line x1="240.00" y1="359.78" x2="242.30" y2="359.78" stroke="#333" stroke-width="0.8" />
<text x="239.30" y="362.68" font-size="8.2" text-anchor="end" fill="#1a1a1a" >scCRC4</text>
<circle cx="246.70" cy="359.78" r="3.3" fill="#c7cde6"/>
<circle cx="253.81" cy="359.78" r="2.0" fill="#fce39a"/>
<circle cx="260.92" cy="359.78" r="1.9" fill="#f3f4f9"/>
<circle cx="268.02" cy="359.78" r="3.3" fill="#93a0cf"/>
<circle cx="275.13" cy="359.78" r="3.3" fill="#6878b9"/>
<circle cx="282.24" cy="359.78" r="2.0" fill="#fdf2d4"/>
<circle cx="296.46" cy="359.78" r="3.3" fill="#364ca1"/>
<circle cx="303.56" cy="359.78" r="2.0" fill="#fce39a"/>
<circle cx="310.67" cy="359.78" r="2.0" fill="#e8ebf4"/>
<circle cx="317.78" cy="359.78" r="2.0" fill="#fce39a"/>
<circle cx="324.89" cy="359.78" r="3.3" fill="#6878b9"/>
<circle cx="332.00" cy="359.78" r="2.0" fill="#fdf2d4"/>
<circle cx="346.21" cy="359.78" r="2.0" fill="#97a4d1"/>
<circle cx="353.32" cy="359.78" r="2.0" fill="#fdf2d4"/>
<circle cx="360.43" cy="359.78" r="3.3" fill="#364ca1"/>
<circle cx="367.54" cy="359.78" r="2.0" fill="#fce39a"/>
<circle cx="374.64" cy="359.78" r="1.9" fill="#fdf9ec"/>
<circle cx="381.75" cy="359.78" r="2.0" fill="#e8ebf4"/>
<circle cx="388.86" cy="359.78" r="3.3" fill="#6878b9"/>
<circle cx="395.97" cy="359.78" r="2.0" fill="#e8ebf4"/>
<circle cx="403.08" cy="359.78" r="3.3" fill="#93a0cf"/>
<circle cx="410.18" cy="359.78" r="3.3" fill="#6878b9"/>
<circle cx="417.29" cy="359.78" r="1.9" fill="#fdf9ec"/>
<circle cx="424.40" cy="359.78" r="2.0" fill="#e8ebf4"/>
<circle cx="431.51" cy="359.78" r="2.0" fill="#fce39a"/>
<circle cx="438.62" cy="359.78" r="2.0" fill="#e8ebf4"/>
<circle cx="445.72" cy="359.78" r="3.3" fill="#e6e9f3"/>
<circle cx="452.83" cy="359.78" r="3.3" fill="#c7cde6"/>
<circle cx="459.94" cy="359.78" r="2.0" fill="#c9cfe7"/>
<circle cx="467.05" cy="359.78" r="2.0" fill="#fce39a"/>
<circle cx="474.16" cy="359.78" r="2.0" fill="#97a4d1"/>
<circle cx="481.26" cy="359.78" r="2.0" fill="#fce39a"/>
<circle cx="488.37" cy="359.78" r="2.0" fill="#f9cb45"/>
<circle cx="495.48" cy="359.78" r="2.0" fill="#fdf2d4"/>
<circle cx="502.59" cy="359.78" r="2.0" fill="#fdf2d4"/>
<circle cx="509.70" cy="359.78" r="2.0" fill="#f9cb45"/>
<circle cx="516.80" cy="359.78" r="3.3" fill="#c7cde6"/>
<circle cx="523.91" cy="359.78" r="3.3" fill="#93a0cf"/>
<circle cx="538.13" cy="359.78" r="2.0" fill="#fdf2d4"/>
<circle cx="545.24" cy="359.78" r="3.3" fill="#e6e9f3"/>
<circle cx="552.34" cy="359.78" r="2.0" fill="#f9cb45"/>
<circle cx="559.45" cy="359.78" r="3.3" fill="#fdf0cf"/>
<circle cx="566.56" cy="359.78" r="2.0" fill="#fdf2d4"/>
<circle cx="573.67" cy="359.78" r="2.0" fill="#97a4d1"/>
<circle cx="580.78" cy="359.78" r="2.0" fill="#f9cb45"/>
<circle cx="587.88" cy="359.78" r="3.3" fill="#e6e9f3"/>
<circle cx="594.99" cy="359.78" r="2.0" fill="#f9cb45"/>
<circle cx="602.10" cy="359.78" r="2.0" fill="#fdf2d4"/>
<circle cx="609.21" cy="359.78" r="3.3" fill="#93a0cf"/>
<circle cx="616.32" cy="359.78" r="2.0" fill="#fce39a"/>
<circle cx="623.42" cy="359.78" r="3.3" fill="#93a0cf"/>
<circle cx="630.53" cy="359.78" r="3.3" fill="#c7cde6"/>
<circle cx="637.64" cy="359.78" r="1.9" fill="#f3f4f9"/>
<circle cx="644.75" cy="359.78" r="2.0" fill="#e8ebf4"/>
<circle cx="651.86" cy="359.78" r="2.0" fill="#f9cb45"/>
<circle cx="658.96" cy="359.78" r="3.3" fill="#e6e9f3"/>
<circle cx="666.07" cy="359.78" r="3.3" fill="#e6e9f3"/>
<circle cx="673.18" cy="359.78" r="3.3" fill="#364ca1"/>
<circle cx="680.29" cy="359.78" r="2.0" fill="#fce39a"/>
<line x1="240.00" y1="366.36" x2="242.30" y2="366.36" stroke="#333" stroke-width="0.8" />
<text x="239.30" y="369.26" font-size="8.2" text-anchor="end" fill="#1a1a1a" >scCRC3</text>
<circle cx="246.70" cy="366.36" r="2.0" fill="#e8ebf4"/>
<circle cx="253.81" cy="366.36" r="2.0" fill="#fce39a"/>
<circle cx="260.92" cy="366.36" r="1.9" fill="#fdf9ec"/>
<circle cx="268.02" cy="366.36" r="3.3" fill="#6878b9"/>
<circle cx="275.13" cy="366.36" r="3.3" fill="#6878b9"/>
<circle cx="282.24" cy="366.36" r="2.0" fill="#97a4d1"/>
<circle cx="289.35" cy="366.36" r="1.9" fill="#f3f4f9"/>
<circle cx="296.46" cy="366.36" r="3.3" fill="#6878b9"/>
<circle cx="303.56" cy="366.36" r="2.0" fill="#c9cfe7"/>
<circle cx="310.67" cy="366.36" r="2.0" fill="#fce39a"/>
<circle cx="317.78" cy="366.36" r="3.3" fill="#6878b9"/>
<circle cx="324.89" cy="366.36" r="1.9" fill="#fdf9ec"/>
<circle cx="332.00" cy="366.36" r="2.0" fill="#fdf2d4"/>
<circle cx="346.21" cy="366.36" r="1.9" fill="#fdf9ec"/>
<circle cx="353.32" cy="366.36" r="2.0" fill="#97a4d1"/>
<circle cx="360.43" cy="366.36" r="2.0" fill="#6b7cbb"/>
<circle cx="367.54" cy="366.36" r="2.0" fill="#fce39a"/>
<circle cx="374.64" cy="366.36" r="3.3" fill="#93a0cf"/>
<circle cx="381.75" cy="366.36" r="2.0" fill="#fce39a"/>
<circle cx="388.86" cy="366.36" r="1.9" fill="#f3f4f9"/>
<circle cx="395.97" cy="366.36" r="2.0" fill="#fce39a"/>
<circle cx="403.08" cy="366.36" r="2.0" fill="#c9cfe7"/>
<circle cx="410.18" cy="366.36" r="3.3" fill="#93a0cf"/>
<circle cx="417.29" cy="366.36" r="2.0" fill="#fce39a"/>
<circle cx="424.40" cy="366.36" r="2.0" fill="#c9cfe7"/>
<circle cx="431.51" cy="366.36" r="2.0" fill="#f9cb45"/>
<circle cx="438.62" cy="366.36" r="2.0" fill="#e8ebf4"/>
<circle cx="445.72" cy="366.36" r="2.0" fill="#fce39a"/>
<circle cx="452.83" cy="366.36" r="2.0" fill="#fce39a"/>
<circle cx="459.94" cy="366.36" r="3.3" fill="#6878b9"/>
<circle cx="467.05" cy="366.36" r="2.0" fill="#fdf2d4"/>
<circle cx="474.16" cy="366.36" r="1.9" fill="#fdf9ec"/>
<circle cx="481.26" cy="366.36" r="1.9" fill="#fdf9ec"/>
<circle cx="488.37" cy="366.36" r="2.0" fill="#fdf2d4"/>
<circle cx="495.48" cy="366.36" r="2.0" fill="#fdf2d4"/>
<circle cx="509.70" cy="366.36" r="2.0" fill="#f9cb45"/>
<circle cx="516.80" cy="366.36" r="2.0" fill="#e8ebf4"/>
<circle cx="523.91" cy="366.36" r="2.0" fill="#c9cfe7"/>
<circle cx="531.02" cy="366.36" r="1.9" fill="#f3f4f9"/>
<circle cx="538.13" cy="366.36" r="2.0" fill="#e8ebf4"/>
<circle cx="545.24" cy="366.36" r="2.0" fill="#c9cfe7"/>
<circle cx="552.34" cy="366.36" r="2.0" fill="#fdf2d4"/>
<circle cx="559.45" cy="366.36" r="2.0" fill="#e8ebf4"/>
<circle cx="566.56" cy="366.36" r="2.0" fill="#c9cfe7"/>
<circle cx="573.67" cy="366.36" r="2.0" fill="#e8ebf4"/>
<circle cx="580.78" cy="366.36" r="2.0" fill="#fce39a"/>
<circle cx="587.88" cy="366.36" r="2.0" fill="#fce39a"/>
<circle cx="594.99" cy="366.36" r="2.0" fill="#f9cb45"/>
<circle cx="602.10" cy="366.36" r="2.0" fill="#e8ebf4"/>
<circle cx="616.32" cy="366.36" r="2.0" fill="#fdf2d4"/>
<circle cx="630.53" cy="366.36" r="2.0" fill="#e8ebf4"/>
<circle cx="637.64" cy="366.36" r="2.0" fill="#6b7cbb"/>
<circle cx="651.86" cy="366.36" r="2.0" fill="#fce39a"/>
<circle cx="658.96" cy="366.36" r="2.0" fill="#e8ebf4"/>
<circle cx="666.07" cy="366.36" r="2.0" fill="#fdf2d4"/>
<circle cx="673.18" cy="366.36" r="2.0" fill="#c9cfe7"/>
<circle cx="680.29" cy="366.36" r="3.3" fill="#6878b9"/>
<line x1="240.00" y1="372.94" x2="242.30" y2="372.94" stroke="#333" stroke-width="0.8" />
<text x="239.30" y="375.84" font-size="8.2" text-anchor="end" fill="#1a1a1a" >scCRC2</text>
<circle cx="246.70" cy="372.94" r="1.9" fill="#fdf9ec"/>
<circle cx="253.81" cy="372.94" r="2.0" fill="#c9cfe7"/>
<circle cx="260.92" cy="372.94" r="3.3" fill="#c7cde6"/>
<circle cx="268.02" cy="372.94" r="2.0" fill="#c9cfe7"/>
<circle cx="275.13" cy="372.94" r="3.3" fill="#364ca1"/>
<circle cx="282.24" cy="372.94" r="2.0" fill="#fdf2d4"/>
<circle cx="289.35" cy="372.94" r="2.0" fill="#fdf2d4"/>
<circle cx="296.46" cy="372.94" r="3.3" fill="#6878b9"/>
<circle cx="303.56" cy="372.94" r="2.0" fill="#fce39a"/>
<circle cx="310.67" cy="372.94" r="1.9" fill="#f3f4f9"/>
<circle cx="317.78" cy="372.94" r="3.3" fill="#93a0cf"/>
<circle cx="324.89" cy="372.94" r="3.3" fill="#e6e9f3"/>
<circle cx="332.00" cy="372.94" r="2.0" fill="#fce39a"/>
<circle cx="346.21" cy="372.94" r="3.3" fill="#93a0cf"/>
<circle cx="353.32" cy="372.94" r="2.0" fill="#fce39a"/>
<circle cx="360.43" cy="372.94" r="2.0" fill="#fdf2d4"/>
<circle cx="367.54" cy="372.94" r="2.0" fill="#f9cb45"/>
<circle cx="374.64" cy="372.94" r="2.0" fill="#c9cfe7"/>
<circle cx="381.75" cy="372.94" r="2.0" fill="#fce39a"/>
<circle cx="388.86" cy="372.94" r="2.0" fill="#fce39a"/>
<circle cx="395.97" cy="372.94" r="3.3" fill="#e6e9f3"/>
<circle cx="403.08" cy="372.94" r="2.0" fill="#fce39a"/>
<circle cx="410.18" cy="372.94" r="3.3" fill="#6878b9"/>
<circle cx="417.29" cy="372.94" r="3.3" fill="#c7cde6"/>
<circle cx="424.40" cy="372.94" r="2.0" fill="#e8ebf4"/>
<circle cx="431.51" cy="372.94" r="2.0" fill="#e8ebf4"/>
<circle cx="438.62" cy="372.94" r="2.0" fill="#fdf2d4"/>
<circle cx="445.72" cy="372.94" r="3.3" fill="#c7cde6"/>
<circle cx="452.83" cy="372.94" r="2.0" fill="#c9cfe7"/>
<circle cx="459.94" cy="372.94" r="2.0" fill="#fdf2d4"/>
<circle cx="467.05" cy="372.94" r="3.3" fill="#e6e9f3"/>
<circle cx="474.16" cy="372.94" r="2.0" fill="#c9cfe7"/>
<circle cx="481.26" cy="372.94" r="2.0" fill="#fce39a"/>
<circle cx="488.37" cy="372.94" r="2.0" fill="#c9cfe7"/>
<circle cx="495.48" cy="372.94" r="2.0" fill="#f9cb45"/>
<circle cx="502.59" cy="372.94" r="1.9" fill="#f3f4f9"/>
<circle cx="509.70" cy="372.94" r="2.0" fill="#fce39a"/>
<circle cx="516.80" cy="372.94" r="2.0" fill="#fdf2d4"/>
<circle cx="523.91" cy="372.94" r="3.3" fill="#c7cde6"/>
<circle cx="531.02" cy="372.94" r="1.9" fill="#fdf9ec"/>
<circle cx="538.13" cy="372.94" r="3.3" fill="#c7cde6"/>
<circle cx="545.24" cy="372.94" r="3.3" fill="#93a0cf"/>
<circle cx="552.34" cy="372.94" r="3.3" fill="#93a0cf"/>
<circle cx="559.45" cy="372.94" r="2.0" fill="#c9cfe7"/>
<circle cx="566.56" cy="372.94" r="1.9" fill="#f3f4f9"/>
<circle cx="573.67" cy="372.94" r="3.3" fill="#364ca1"/>
<circle cx="580.78" cy="372.94" r="2.0" fill="#c9cfe7"/>
<circle cx="587.88" cy="372.94" r="2.0" fill="#f9cb45"/>
<circle cx="594.99" cy="372.94" r="2.0" fill="#e8ebf4"/>
<circle cx="602.10" cy="372.94" r="3.3" fill="#c7cde6"/>
<circle cx="609.21" cy="372.94" r="2.0" fill="#fce39a"/>
<circle cx="616.32" cy="372.94" r="2.0" fill="#e8ebf4"/>
<circle cx="630.53" cy="372.94" r="2.0" fill="#e8ebf4"/>
<circle cx="637.64" cy="372.94" r="2.0" fill="#c9cfe7"/>
<circle cx="644.75" cy="372.94" r="2.0" fill="#e8ebf4"/>
<circle cx="651.86" cy="372.94" r="2.0" fill="#fce39a"/>
<circle cx="658.96" cy="372.94" r="2.0" fill="#f9cb45"/>
<circle cx="666.07" cy="372.94" r="2.0" fill="#f9cb45"/>
<circle cx="673.18" cy="372.94" r="2.0" fill="#97a4d1"/>
<circle cx="680.29" cy="372.94" r="3.3" fill="#6878b9"/>
<line x1="240.00" y1="379.52" x2="242.30" y2="379.52" stroke="#333" stroke-width="0.8" />
<text x="239.30" y="382.42" font-size="8.2" text-anchor="end" fill="#1a1a1a" >scCRC1</text>
<circle cx="246.70" cy="379.52" r="2.0" fill="#e8ebf4"/>
<circle cx="253.81" cy="379.52" r="2.0" fill="#fdf2d4"/>
<circle cx="260.92" cy="379.52" r="2.0" fill="#f9cb45"/>
<circle cx="268.02" cy="379.52" r="2.0" fill="#3b50a3"/>
<circle cx="275.13" cy="379.52" r="2.0" fill="#6b7cbb"/>
<circle cx="282.24" cy="379.52" r="2.0" fill="#f9cb45"/>
<circle cx="296.46" cy="379.52" r="2.0" fill="#97a4d1"/>
<circle cx="303.56" cy="379.52" r="2.0" fill="#f9cb45"/>
<circle cx="310.67" cy="379.52" r="2.0" fill="#e8ebf4"/>
<circle cx="317.78" cy="379.52" r="3.3" fill="#364ca1"/>
<circle cx="324.89" cy="379.52" r="3.3" fill="#6878b9"/>
<circle cx="346.21" cy="379.52" r="2.0" fill="#f7a62a"/>
<circle cx="353.32" cy="379.52" r="2.0" fill="#97a4d1"/>
<circle cx="360.43" cy="379.52" r="2.0" fill="#6b7cbb"/>
<circle cx="367.54" cy="379.52" r="2.0" fill="#3b50a3"/>
<circle cx="374.64" cy="379.52" r="2.0" fill="#c9cfe7"/>
<circle cx="381.75" cy="379.52" r="2.0" fill="#6b7cbb"/>
<circle cx="388.86" cy="379.52" r="3.3" fill="#364ca1"/>
<circle cx="395.97" cy="379.52" r="2.0" fill="#fdf2d4"/>
<circle cx="403.08" cy="379.52" r="1.9" fill="#f3f4f9"/>
<circle cx="410.18" cy="379.52" r="2.0" fill="#97a4d1"/>
<circle cx="417.29" cy="379.52" r="2.0" fill="#f9cb45"/>
<circle cx="424.40" cy="379.52" r="2.0" fill="#e8ebf4"/>
<circle cx="431.51" cy="379.52" r="2.0" fill="#f9cb45"/>
<circle cx="445.72" cy="379.52" r="2.0" fill="#3b50a3"/>
<circle cx="452.83" cy="379.52" r="2.0" fill="#6b7cbb"/>
<circle cx="459.94" cy="379.52" r="2.0" fill="#e8ebf4"/>
<circle cx="467.05" cy="379.52" r="2.0" fill="#f9cb45"/>
<circle cx="474.16" cy="379.52" r="3.3" fill="#364ca1"/>
<circle cx="481.26" cy="379.52" r="2.0" fill="#c9cfe7"/>
<circle cx="488.37" cy="379.52" r="2.0" fill="#97a4d1"/>
<circle cx="495.48" cy="379.52" r="2.0" fill="#3b50a3"/>
<circle cx="509.70" cy="379.52" r="2.0" fill="#f9cb45"/>
<circle cx="523.91" cy="379.52" r="2.0" fill="#f9cb45"/>
<circle cx="538.13" cy="379.52" r="2.0" fill="#e8ebf4"/>
<circle cx="545.24" cy="379.52" r="2.0" fill="#6b7cbb"/>
<circle cx="552.34" cy="379.52" r="2.0" fill="#f9cb45"/>
<circle cx="559.45" cy="379.52" r="2.0" fill="#fce39a"/>
<circle cx="566.56" cy="379.52" r="2.0" fill="#6b7cbb"/>
<circle cx="573.67" cy="379.52" r="2.0" fill="#fdf2d4"/>
<circle cx="580.78" cy="379.52" r="3.3" fill="#364ca1"/>
<circle cx="587.88" cy="379.52" r="2.0" fill="#6b7cbb"/>
<circle cx="594.99" cy="379.52" r="2.0" fill="#e8ebf4"/>
<circle cx="602.10" cy="379.52" r="2.0" fill="#f7a62a"/>
<circle cx="609.21" cy="379.52" r="2.0" fill="#c9cfe7"/>
<circle cx="616.32" cy="379.52" r="2.0" fill="#6b7cbb"/>
<circle cx="623.42" cy="379.52" r="2.0" fill="#f9cb45"/>
<circle cx="630.53" cy="379.52" r="2.0" fill="#97a4d1"/>
<circle cx="637.64" cy="379.52" r="3.3" fill="#364ca1"/>
<circle cx="644.75" cy="379.52" r="2.0" fill="#c9cfe7"/>
<circle cx="651.86" cy="379.52" r="2.0" fill="#f9cb45"/>
<circle cx="658.96" cy="379.52" r="2.0" fill="#fce39a"/>
<circle cx="666.07" cy="379.52" r="2.0" fill="#c9cfe7"/>
<circle cx="673.18" cy="379.52" r="2.0" fill="#6b7cbb"/>
<circle cx="680.29" cy="379.52" r="2.0" fill="#6b7cbb"/>
<line x1="240.00" y1="386.10" x2="242.30" y2="386.10" stroke="#333" stroke-width="0.8" />
<text x="239.30" y="389.00" font-size="8.2" text-anchor="end" fill="#1a1a1a" >scBRCA6</text>
<circle cx="246.70" cy="386.10" r="1.9" fill="#f3f4f9"/>
<circle cx="253.81" cy="386.10" r="3.3" fill="#93a0cf"/>
<circle cx="260.92" cy="386.10" r="3.3" fill="#fdf0cf"/>
<circle cx="268.02" cy="386.10" r="3.3" fill="#c7cde6"/>
<circle cx="275.13" cy="386.10" r="3.3" fill="#6878b9"/>
<circle cx="282.24" cy="386.10" r="2.0" fill="#fdf2d4"/>
<circle cx="289.35" cy="386.10" r="1.9" fill="#f3f4f9"/>
<circle cx="296.46" cy="386.10" r="3.3" fill="#6878b9"/>
<circle cx="303.56" cy="386.10" r="3.3" fill="#e6e9f3"/>
<circle cx="310.67" cy="386.10" r="2.0" fill="#fdf2d4"/>
<circle cx="317.78" cy="386.10" r="3.3" fill="#fdf0cf"/>
<circle cx="324.89" cy="386.10" r="3.3" fill="#e6e9f3"/>
<circle cx="346.21" cy="386.10" r="2.0" fill="#fdf2d4"/>
<circle cx="353.32" cy="386.10" r="3.3" fill="#c7cde6"/>
<circle cx="360.43" cy="386.10" r="2.0" fill="#fdf2d4"/>
<circle cx="367.54" cy="386.10" r="3.3" fill="#e6e9f3"/>
<circle cx="374.64" cy="386.10" r="1.9" fill="#fdf9ec"/>
<circle cx="381.75" cy="386.10" r="3.3" fill="#fdf0cf"/>
<circle cx="388.86" cy="386.10" r="3.3" fill="#e6e9f3"/>
<circle cx="395.97" cy="386.10" r="1.9" fill="#fdf9ec"/>
<circle cx="403.08" cy="386.10" r="3.3" fill="#e6e9f3"/>
<circle cx="410.18" cy="386.10" r="3.3" fill="#fdf0cf"/>
<circle cx="417.29" cy="386.10" r="3.3" fill="#fdf0cf"/>
<circle cx="424.40" cy="386.10" r="3.3" fill="#e6e9f3"/>
<circle cx="431.51" cy="386.10" r="3.3" fill="#e6e9f3"/>
<circle cx="438.62" cy="386.10" r="3.3" fill="#fdf0cf"/>
<circle cx="445.72" cy="386.10" r="2.0" fill="#fce39a"/>
<circle cx="459.94" cy="386.10" r="2.0" fill="#f9cb45"/>
<circle cx="467.05" cy="386.10" r="3.3" fill="#fdf0cf"/>
<circle cx="481.26" cy="386.10" r="2.0" fill="#fce39a"/>
<circle cx="488.37" cy="386.10" r="2.0" fill="#fdf2d4"/>
<circle cx="495.48" cy="386.10" r="2.0" fill="#fdf2d4"/>
<circle cx="509.70" cy="386.10" r="1.9" fill="#f3f4f9"/>
<circle cx="523.91" cy="386.10" r="3.3" fill="#fdf0cf"/>
<circle cx="545.24" cy="386.10" r="3.3" fill="#e6e9f3"/>
<circle cx="552.34" cy="386.10" r="2.0" fill="#e8ebf4"/>
<circle cx="559.45" cy="386.10" r="3.3" fill="#c7cde6"/>
<circle cx="566.56" cy="386.10" r="3.3" fill="#c7cde6"/>
<circle cx="573.67" cy="386.10" r="3.3" fill="#6878b9"/>
<circle cx="580.78" cy="386.10" r="3.3" fill="#c7cde6"/>
<circle cx="587.88" cy="386.10" r="3.3" fill="#fdf0cf"/>
<circle cx="594.99" cy="386.10" r="2.0" fill="#fce39a"/>
<circle cx="602.10" cy="386.10" r="3.3" fill="#e6e9f3"/>
<circle cx="609.21" cy="386.10" r="3.3" fill="#93a0cf"/>
<circle cx="616.32" cy="386.10" r="3.3" fill="#e6e9f3"/>
<circle cx="623.42" cy="386.10" r="1.9" fill="#fdf9ec"/>
<circle cx="630.53" cy="386.10" r="1.9" fill="#fdf9ec"/>
<circle cx="637.64" cy="386.10" r="3.3" fill="#fdf0cf"/>
<circle cx="644.75" cy="386.10" r="3.3" fill="#c7cde6"/>
<circle cx="651.86" cy="386.10" r="2.0" fill="#fce39a"/>
<circle cx="658.96" cy="386.10" r="3.3" fill="#e6e9f3"/>
<circle cx="666.07" cy="386.10" r="3.3" fill="#e6e9f3"/>
<circle cx="673.18" cy="386.10" r="3.3" fill="#c7cde6"/>
<line x1="240.00" y1="392.68" x2="242.30" y2="392.68" stroke="#333" stroke-width="0.8" />
<text x="239.30" y="395.58" font-size="8.2" text-anchor="end" fill="#1a1a1a" >scBRCA5</text>
<circle cx="246.70" cy="392.68" r="1.9" fill="#fdf9ec"/>
<circle cx="253.81" cy="392.68" r="3.3" fill="#c7cde6"/>
<circle cx="260.92" cy="392.68" r="3.3" fill="#e6e9f3"/>
<circle cx="268.02" cy="392.68" r="3.3" fill="#fdf0cf"/>
<circle cx="275.13" cy="392.68" r="3.3" fill="#364ca1"/>
<circle cx="289.35" cy="392.68" r="3.3" fill="#e6e9f3"/>
<circle cx="296.46" cy="392.68" r="3.3" fill="#364ca1"/>
<circle cx="303.56" cy="392.68" r="3.3" fill="#c7cde6"/>
<circle cx="310.67" cy="392.68" r="3.3" fill="#e6e9f3"/>
<circle cx="317.78" cy="392.68" r="3.3" fill="#c7cde6"/>
<circle cx="324.89" cy="392.68" r="3.3" fill="#93a0cf"/>
<circle cx="332.00" cy="392.68" r="1.9" fill="#fdf9ec"/>
<circle cx="346.21" cy="392.68" r="1.9" fill="#f3f4f9"/>
<circle cx="353.32" cy="392.68" r="3.3" fill="#93a0cf"/>
<circle cx="360.43" cy="392.68" r="1.9" fill="#fdf9ec"/>
<circle cx="367.54" cy="392.68" r="2.0" fill="#fdf2d4"/>
<circle cx="374.64" cy="392.68" r="3.3" fill="#e6e9f3"/>
<circle cx="381.75" cy="392.68" r="3.3" fill="#e6e9f3"/>
<circle cx="388.86" cy="392.68" r="3.3" fill="#c7cde6"/>
<circle cx="395.97" cy="392.68" r="3.3" fill="#fdf0cf"/>
<circle cx="403.08" cy="392.68" r="3.3" fill="#6878b9"/>
<circle cx="410.18" cy="392.68" r="3.3" fill="#93a0cf"/>
<circle cx="424.40" cy="392.68" r="3.3" fill="#c7cde6"/>
<circle cx="431.51" cy="392.68" r="3.3" fill="#c7cde6"/>
<circle cx="438.62" cy="392.68" r="3.3" fill="#c7cde6"/>
<circle cx="445.72" cy="392.68" r="3.3" fill="#6878b9"/>
<circle cx="452.83" cy="392.68" r="3.3" fill="#c7cde6"/>
<circle cx="474.16" cy="392.68" r="3.3" fill="#e6e9f3"/>
<circle cx="481.26" cy="392.68" r="3.3" fill="#fdf0cf"/>
<circle cx="488.37" cy="392.68" r="3.3" fill="#c7cde6"/>
<circle cx="495.48" cy="392.68" r="3.3" fill="#e6e9f3"/>
<circle cx="509.70" cy="392.68" r="2.0" fill="#f9cb45"/>
<circle cx="516.80" cy="392.68" r="3.3" fill="#e6e9f3"/>
<circle cx="523.91" cy="392.68" r="3.3" fill="#c7cde6"/>
<circle cx="531.02" cy="392.68" r="1.9" fill="#fdf9ec"/>
<circle cx="538.13" cy="392.68" r="3.3" fill="#93a0cf"/>
<circle cx="545.24" cy="392.68" r="3.3" fill="#6878b9"/>
<circle cx="552.34" cy="392.68" r="3.3" fill="#6878b9"/>
<circle cx="559.45" cy="392.68" r="3.3" fill="#e6e9f3"/>
<circle cx="566.56" cy="392.68" r="3.3" fill="#e6e9f3"/>
<circle cx="573.67" cy="392.68" r="3.3" fill="#6878b9"/>
<circle cx="580.78" cy="392.68" r="1.9" fill="#f3f4f9"/>
<circle cx="587.88" cy="392.68" r="3.3" fill="#fdf0cf"/>
<circle cx="594.99" cy="392.68" r="3.3" fill="#e6e9f3"/>
<circle cx="602.10" cy="392.68" r="3.3" fill="#e6e9f3"/>
<circle cx="609.21" cy="392.68" r="3.3" fill="#c7cde6"/>
<circle cx="616.32" cy="392.68" r="1.9" fill="#fdf9ec"/>
<circle cx="623.42" cy="392.68" r="1.9" fill="#fdf9ec"/>
<circle cx="630.53" cy="392.68" r="3.3" fill="#e6e9f3"/>
<circle cx="637.64" cy="392.68" r="2.0" fill="#fce39a"/>
<circle cx="644.75" cy="392.68" r="3.3" fill="#c7cde6"/>
<circle cx="651.86" cy="392.68" r="2.0" fill="#fdf2d4"/>
<circle cx="658.96" cy="392.68" r="3.3" fill="#e6e9f3"/>
<circle cx="673.18" cy="392.68" r="3.3" fill="#364ca1"/>
<circle cx="680.29" cy="392.68" r="3.3" fill="#e6e9f3"/>
<line x1="240.00" y1="399.26" x2="242.30" y2="399.26" stroke="#333" stroke-width="0.8" />
<text x="239.30" y="402.16" font-size="8.2" text-anchor="end" fill="#1a1a1a" >scBRCA4</text>
<circle cx="246.70" cy="399.26" r="2.0" fill="#fce39a"/>
<circle cx="253.81" cy="399.26" r="3.3" fill="#93a0cf"/>
<circle cx="260.92" cy="399.26" r="2.0" fill="#f9cb45"/>
<circle cx="268.02" cy="399.26" r="2.0" fill="#fdf2d4"/>
<circle cx="275.13" cy="399.26" r="1.9" fill="#fdf9ec"/>
<circle cx="282.24" cy="399.26" r="2.0" fill="#c9cfe7"/>
<circle cx="289.35" cy="399.26" r="3.3" fill="#e6e9f3"/>
<circle cx="296.46" cy="399.26" r="2.0" fill="#c9cfe7"/>
<circle cx="303.56" cy="399.26" r="2.0" fill="#e8ebf4"/>
<circle cx="310.67" cy="399.26" r="2.0" fill="#fdf2d4"/>
<circle cx="317.78" cy="399.26" r="1.9" fill="#f3f4f9"/>
<circle cx="324.89" cy="399.26" r="2.0" fill="#f9cb45"/>
<circle cx="332.00" cy="399.26" r="2.0" fill="#e8ebf4"/>
<circle cx="346.21" cy="399.26" r="2.0" fill="#fce39a"/>
<circle cx="353.32" cy="399.26" r="2.0" fill="#fce39a"/>
<circle cx="367.54" cy="399.26" r="2.0" fill="#fce39a"/>
<circle cx="374.64" cy="399.26" r="2.0" fill="#fdf2d4"/>
<circle cx="381.75" cy="399.26" r="2.0" fill="#97a4d1"/>
<circle cx="388.86" cy="399.26" r="2.0" fill="#e8ebf4"/>
<circle cx="395.97" cy="399.26" r="2.0" fill="#fce39a"/>
<circle cx="403.08" cy="399.26" r="1.9" fill="#fdf9ec"/>
<circle cx="410.18" cy="399.26" r="2.0" fill="#fce39a"/>
<circle cx="417.29" cy="399.26" r="3.3" fill="#93a0cf"/>
<circle cx="424.40" cy="399.26" r="2.0" fill="#fdf2d4"/>
<circle cx="431.51" cy="399.26" r="2.0" fill="#c9cfe7"/>
<circle cx="438.62" cy="399.26" r="2.0" fill="#fdf2d4"/>
<circle cx="445.72" cy="399.26" r="2.0" fill="#e8ebf4"/>
<circle cx="452.83" cy="399.26" r="2.0" fill="#97a4d1"/>
<circle cx="459.94" cy="399.26" r="3.3" fill="#93a0cf"/>
<circle cx="467.05" cy="399.26" r="1.9" fill="#fdf9ec"/>
<circle cx="474.16" cy="399.26" r="2.0" fill="#e8ebf4"/>
<circle cx="481.26" cy="399.26" r="2.0" fill="#97a4d1"/>
<circle cx="488.37" cy="399.26" r="3.3" fill="#c7cde6"/>
<circle cx="495.48" cy="399.26" r="3.3" fill="#93a0cf"/>
<circle cx="509.70" cy="399.26" r="2.0" fill="#e8ebf4"/>
<circle cx="523.91" cy="399.26" r="2.0" fill="#fce39a"/>
<circle cx="531.02" cy="399.26" r="2.0" fill="#97a4d1"/>
<circle cx="538.13" cy="399.26" r="2.0" fill="#c9cfe7"/>
<circle cx="545.24" cy="399.26" r="2.0" fill="#fdf2d4"/>
<circle cx="552.34" cy="399.26" r="2.0" fill="#f9cb45"/>
<circle cx="559.45" cy="399.26" r="2.0" fill="#fce39a"/>
<circle cx="566.56" cy="399.26" r="2.0" fill="#fce39a"/>
<circle cx="573.67" cy="399.26" r="3.3" fill="#93a0cf"/>
<circle cx="580.78" cy="399.26" r="2.0" fill="#fdf2d4"/>
<circle cx="587.88" cy="399.26" r="2.0" fill="#fdf2d4"/>
<circle cx="594.99" cy="399.26" r="1.9" fill="#fdf9ec"/>
<circle cx="602.10" cy="399.26" r="2.0" fill="#f9cb45"/>
<circle cx="609.21" cy="399.26" r="2.0" fill="#fce39a"/>
<circle cx="616.32" cy="399.26" r="3.3" fill="#c7cde6"/>
<circle cx="623.42" cy="399.26" r="2.0" fill="#fdf2d4"/>
<circle cx="630.53" cy="399.26" r="2.0" fill="#fdf2d4"/>
<circle cx="637.64" cy="399.26" r="2.0" fill="#f9cb45"/>
<circle cx="644.75" cy="399.26" r="2.0" fill="#e8ebf4"/>
<circle cx="651.86" cy="399.26" r="2.0" fill="#fce39a"/>
<circle cx="658.96" cy="399.26" r="2.0" fill="#f9cb45"/>
<circle cx="666.07" cy="399.26" r="2.0" fill="#fdf2d4"/>
<circle cx="673.18" cy="399.26" r="2.0" fill="#e8ebf4"/>
<circle cx="680.29" cy="399.26" r="2.0" fill="#97a4d1"/>
<line x1="240.00" y1="405.84" x2="242.30" y2="405.84" stroke="#333" stroke-width="0.8" />
<text x="239.30" y="408.74" font-size="8.2" text-anchor="end" fill="#1a1a1a" >scBRCA3</text>
<circle cx="246.70" cy="405.84" r="1.9" fill="#fdf9ec"/>
<circle cx="253.81" cy="405.84" r="2.0" fill="#fce39a"/>
<circle cx="260.92" cy="405.84" r="1.9" fill="#f3f4f9"/>
<circle cx="268.02" cy="405.84" r="3.3" fill="#c7cde6"/>
<circle cx="275.13" cy="405.84" r="3.3" fill="#93a0cf"/>
<circle cx="282.24" cy="405.84" r="2.0" fill="#fdf2d4"/>
<circle cx="289.35" cy="405.84" r="1.9" fill="#f3f4f9"/>
<circle cx="296.46" cy="405.84" r="3.3" fill="#6878b9"/>
<circle cx="303.56" cy="405.84" r="2.0" fill="#fdf2d4"/>
<circle cx="310.67" cy="405.84" r="2.0" fill="#e8ebf4"/>
<circle cx="317.78" cy="405.84" r="2.0" fill="#e8ebf4"/>
<circle cx="324.89" cy="405.84" r="2.0" fill="#fce39a"/>
<circle cx="332.00" cy="405.84" r="2.0" fill="#fdf2d4"/>
<circle cx="346.21" cy="405.84" r="2.0" fill="#fce39a"/>
<circle cx="353.32" cy="405.84" r="1.9" fill="#fdf9ec"/>
<circle cx="360.43" cy="405.84" r="2.0" fill="#e8ebf4"/>
<circle cx="367.54" cy="405.84" r="2.0" fill="#fce39a"/>
<circle cx="374.64" cy="405.84" r="2.0" fill="#e8ebf4"/>
<circle cx="381.75" cy="405.84" r="3.3" fill="#fdf0cf"/>
<circle cx="388.86" cy="405.84" r="1.9" fill="#fdf9ec"/>
<circle cx="395.97" cy="405.84" r="2.0" fill="#fdf2d4"/>
<circle cx="403.08" cy="405.84" r="2.0" fill="#f9cb45"/>
<circle cx="410.18" cy="405.84" r="1.9" fill="#fdf9ec"/>
<circle cx="417.29" cy="405.84" r="2.0" fill="#fce39a"/>
<circle cx="424.40" cy="405.84" r="2.0" fill="#fdf2d4"/>
<circle cx="431.51" cy="405.84" r="2.0" fill="#fce39a"/>
<circle cx="438.62" cy="405.84" r="2.0" fill="#fdf2d4"/>
<circle cx="445.72" cy="405.84" r="3.3" fill="#c7cde6"/>
<circle cx="452.83" cy="405.84" r="3.3" fill="#93a0cf"/>
<circle cx="459.94" cy="405.84" r="2.0" fill="#fce39a"/>
<circle cx="474.16" cy="405.84" r="2.0" fill="#fdf2d4"/>
<circle cx="481.26" cy="405.84" r="2.0" fill="#fce39a"/>
<circle cx="488.37" cy="405.84" r="3.3" fill="#e6e9f3"/>
<circle cx="495.48" cy="405.84" r="1.9" fill="#fdf9ec"/>
<circle cx="509.70" cy="405.84" r="2.0" fill="#fdf2d4"/>
<circle cx="523.91" cy="405.84" r="3.3" fill="#c7cde6"/>
<circle cx="531.02" cy="405.84" r="1.9" fill="#f3f4f9"/>
<circle cx="538.13" cy="405.84" r="2.0" fill="#fdf2d4"/>
<circle cx="545.24" cy="405.84" r="2.0" fill="#fce39a"/>
<circle cx="552.34" cy="405.84" r="1.9" fill="#f3f4f9"/>
<circle cx="559.45" cy="405.84" r="3.3" fill="#c7cde6"/>
<circle cx="566.56" cy="405.84" r="2.0" fill="#fce39a"/>
<circle cx="573.67" cy="405.84" r="3.3" fill="#c7cde6"/>
<circle cx="580.78" cy="405.84" r="2.0" fill="#fdf2d4"/>
<circle cx="587.88" cy="405.84" r="2.0" fill="#fdf2d4"/>
<circle cx="594.99" cy="405.84" r="1.9" fill="#f3f4f9"/>
<circle cx="602.10" cy="405.84" r="2.0" fill="#fce39a"/>
<circle cx="609.21" cy="405.84" r="3.3" fill="#e6e9f3"/>
<circle cx="616.32" cy="405.84" r="2.0" fill="#fdf2d4"/>
<circle cx="630.53" cy="405.84" r="1.9" fill="#fdf9ec"/>
<circle cx="637.64" cy="405.84" r="3.3" fill="#93a0cf"/>
<circle cx="644.75" cy="405.84" r="1.9" fill="#fdf9ec"/>
<circle cx="651.86" cy="405.84" r="2.0" fill="#fce39a"/>
<circle cx="658.96" cy="405.84" r="3.3" fill="#c7cde6"/>
<circle cx="666.07" cy="405.84" r="2.0" fill="#fdf2d4"/>
<circle cx="673.18" cy="405.84" r="3.3" fill="#c7cde6"/>
<circle cx="680.29" cy="405.84" r="3.3" fill="#93a0cf"/>
<line x1="240.00" y1="412.42" x2="242.30" y2="412.42" stroke="#333" stroke-width="0.8" />
<text x="239.30" y="415.32" font-size="8.2" text-anchor="end" fill="#1a1a1a" >scBRCA1</text>
<circle cx="246.70" cy="412.42" r="2.0" fill="#e8ebf4"/>
<circle cx="253.81" cy="412.42" r="3.3" fill="#e6e9f3"/>
<circle cx="260.92" cy="412.42" r="2.0" fill="#f9cb45"/>
<circle cx="268.02" cy="412.42" r="1.9" fill="#fdf9ec"/>
<circle cx="275.13" cy="412.42" r="3.3" fill="#93a0cf"/>
<circle cx="282.24" cy="412.42" r="2.0" fill="#c9cfe7"/>
<circle cx="296.46" cy="412.42" r="3.3" fill="#93a0cf"/>
<circle cx="303.56" cy="412.42" r="2.0" fill="#fce39a"/>
<circle cx="310.67" cy="412.42" r="2.0" fill="#fce39a"/>
<circle cx="317.78" cy="412.42" r="3.3" fill="#c7cde6"/>
<circle cx="324.89" cy="412.42" r="3.3" fill="#6878b9"/>
<circle cx="332.00" cy="412.42" r="2.0" fill="#fdf2d4"/>
<circle cx="346.21" cy="412.42" r="2.0" fill="#fce39a"/>
<circle cx="353.32" cy="412.42" r="2.0" fill="#fce39a"/>
<circle cx="360.43" cy="412.42" r="3.3" fill="#e6e9f3"/>
<circle cx="367.54" cy="412.42" r="2.0" fill="#f9cb45"/>
<circle cx="374.64" cy="412.42" r="3.3" fill="#93a0cf"/>
<circle cx="381.75" cy="412.42" r="2.0" fill="#fce39a"/>
<circle cx="388.86" cy="412.42" r="1.9" fill="#fdf9ec"/>
<circle cx="395.97" cy="412.42" r="1.9" fill="#fdf9ec"/>
<circle cx="403.08" cy="412.42" r="1.9" fill="#fdf9ec"/>
<circle cx="410.18" cy="412.42" r="2.0" fill="#e8ebf4"/>
<circle cx="417.29" cy="412.42" r="2.0" fill="#f9cb45"/>
<circle cx="424.40" cy="412.42" r="3.3" fill="#93a0cf"/>
<circle cx="431.51" cy="412.42" r="2.0" fill="#fce39a"/>
<circle cx="438.62" cy="412.42" r="2.0" fill="#f9cb45"/>
<circle cx="445.72" cy="412.42" r="2.0" fill="#e8ebf4"/>
<circle cx="452.83" cy="412.42" r="2.0" fill="#fdf2d4"/>
<circle cx="459.94" cy="412.42" r="2.0" fill="#c9cfe7"/>
<circle cx="467.05" cy="412.42" r="2.0" fill="#fdf2d4"/>
<circle cx="474.16" cy="412.42" r="2.0" fill="#fdf2d4"/>
<circle cx="481.26" cy="412.42" r="2.0" fill="#f9cb45"/>
<circle cx="488.37" cy="412.42" r="2.0" fill="#e8ebf4"/>
<circle cx="495.48" cy="412.42" r="3.3" fill="#e6e9f3"/>
<circle cx="509.70" cy="412.42" r="2.0" fill="#e8ebf4"/>
<circle cx="516.80" cy="412.42" r="1.9" fill="#fdf9ec"/>
<circle cx="523.91" cy="412.42" r="2.0" fill="#e8ebf4"/>
<circle cx="531.02" cy="412.42" r="1.9" fill="#fdf9ec"/>
<circle cx="538.13" cy="412.42" r="2.0" fill="#f9cb45"/>
<circle cx="545.24" cy="412.42" r="3.3" fill="#c7cde6"/>
<circle cx="552.34" cy="412.42" r="3.3" fill="#6878b9"/>
<circle cx="559.45" cy="412.42" r="3.3" fill="#c7cde6"/>
<circle cx="566.56" cy="412.42" r="2.0" fill="#c9cfe7"/>
<circle cx="573.67" cy="412.42" r="1.9" fill="#f3f4f9"/>
<circle cx="580.78" cy="412.42" r="2.0" fill="#fdf2d4"/>
<circle cx="587.88" cy="412.42" r="3.3" fill="#364ca1"/>
<circle cx="594.99" cy="412.42" r="3.3" fill="#6878b9"/>
<circle cx="602.10" cy="412.42" r="2.0" fill="#fdf2d4"/>
<circle cx="609.21" cy="412.42" r="2.0" fill="#fce39a"/>
<circle cx="616.32" cy="412.42" r="2.0" fill="#f9cb45"/>
<circle cx="623.42" cy="412.42" r="2.0" fill="#fce39a"/>
<circle cx="630.53" cy="412.42" r="3.3" fill="#e6e9f3"/>
<circle cx="637.64" cy="412.42" r="2.0" fill="#fdf2d4"/>
<circle cx="644.75" cy="412.42" r="2.0" fill="#fdf2d4"/>
<circle cx="651.86" cy="412.42" r="1.9" fill="#f3f4f9"/>
<circle cx="658.96" cy="412.42" r="1.9" fill="#fdf9ec"/>
<circle cx="666.07" cy="412.42" r="1.9" fill="#fdf9ec"/>
<circle cx="673.18" cy="412.42" r="3.3" fill="#93a0cf"/>
<circle cx="680.29" cy="412.42" r="2.0" fill="#fdf2d4"/>
<rect x="181.60" y="419.20" width="16.80" height="98.70" fill="#fff" stroke="#111" stroke-width="1.4" />
<text x="193.30" y="468.55" font-size="9.4" text-anchor="middle" fill="#111" transform="rotate(-90 193.30 468.55)" >CD4 T cells</text>
<line x1="242.30" y1="419.50" x2="242.30" y2="517.20" stroke="#222" stroke-width="1.0" />
<line x1="240.00" y1="423.50" x2="242.30" y2="423.50" stroke="#333" stroke-width="0.8" />
<text x="239.30" y="426.40" font-size="8.2" text-anchor="end" fill="#1a1a1a" >scOVCA5</text>
<circle cx="246.70" cy="423.50" r="1.9" fill="#fdf9ec"/>
<circle cx="253.81" cy="423.50" r="1.9" fill="#f3f4f9"/>
<circle cx="260.92" cy="423.50" r="3.3" fill="#e6e9f3"/>
<circle cx="268.02" cy="423.50" r="2.0" fill="#fdf2d4"/>
<circle cx="275.13" cy="423.50" r="3.3" fill="#93a0cf"/>
<circle cx="282.24" cy="423.50" r="2.0" fill="#e8ebf4"/>
<circle cx="289.35" cy="423.50" r="2.0" fill="#e8ebf4"/>
<circle cx="296.46" cy="423.50" r="3.3" fill="#364ca1"/>
<circle cx="303.56" cy="423.50" r="2.0" fill="#fdf2d4"/>
<circle cx="310.67" cy="423.50" r="1.9" fill="#f3f4f9"/>
<circle cx="317.78" cy="423.50" r="3.3" fill="#e6e9f3"/>
<circle cx="324.89" cy="423.50" r="3.3" fill="#e6e9f3"/>
<circle cx="332.00" cy="423.50" r="1.9" fill="#fdf9ec"/>
<circle cx="346.21" cy="423.50" r="3.3" fill="#e6e9f3"/>
<circle cx="353.32" cy="423.50" r="3.3" fill="#c7cde6"/>
<circle cx="360.43" cy="423.50" r="3.3" fill="#e6e9f3"/>
<circle cx="367.54" cy="423.50" r="3.3" fill="#93a0cf"/>
<circle cx="374.64" cy="423.50" r="3.3" fill="#e6e9f3"/>
<circle cx="381.75" cy="423.50" r="2.0" fill="#e8ebf4"/>
<circle cx="388.86" cy="423.50" r="3.3" fill="#93a0cf"/>
<circle cx="395.97" cy="423.50" r="2.0" fill="#fce39a"/>
<circle cx="403.08" cy="423.50" r="3.3" fill="#c7cde6"/>
<circle cx="410.18" cy="423.50" r="2.0" fill="#e8ebf4"/>
<circle cx="417.29" cy="423.50" r="3.3" fill="#c7cde6"/>
<circle cx="424.40" cy="423.50" r="3.3" fill="#c7cde6"/>
<circle cx="431.51" cy="423.50" r="1.9" fill="#fdf9ec"/>
<circle cx="445.72" cy="423.50" r="2.0" fill="#fdf2d4"/>
<circle cx="452.83" cy="423.50" r="3.3" fill="#e6e9f3"/>
<circle cx="459.94" cy="423.50" r="3.3" fill="#fdf0cf"/>
<circle cx="467.05" cy="423.50" r="3.3" fill="#e6e9f3"/>
<circle cx="481.26" cy="423.50" r="3.3" fill="#c7cde6"/>
<circle cx="488.37" cy="423.50" r="3.3" fill="#e6e9f3"/>
<circle cx="495.48" cy="423.50" r="2.0" fill="#fdf2d4"/>
<circle cx="502.59" cy="423.50" r="1.9" fill="#f3f4f9"/>
<circle cx="509.70" cy="423.50" r="2.0" fill="#e8ebf4"/>
<circle cx="523.91" cy="423.50" r="3.3" fill="#93a0cf"/>
<circle cx="531.02" cy="423.50" r="1.9" fill="#fdf9ec"/>
<circle cx="538.13" cy="423.50" r="3.3" fill="#e6e9f3"/>
<circle cx="545.24" cy="423.50" r="3.3" fill="#c7cde6"/>
<circle cx="552.34" cy="423.50" r="1.9" fill="#fdf9ec"/>
<circle cx="559.45" cy="423.50" r="3.3" fill="#e6e9f3"/>
<circle cx="566.56" cy="423.50" r="3.3" fill="#e6e9f3"/>
<circle cx="573.67" cy="423.50" r="3.3" fill="#364ca1"/>
<circle cx="580.78" cy="423.50" r="1.9" fill="#f3f4f9"/>
<circle cx="587.88" cy="423.50" r="2.0" fill="#fce39a"/>
<circle cx="594.99" cy="423.50" r="2.0" fill="#fce39a"/>
<circle cx="602.10" cy="423.50" r="2.0" fill="#f9cb45"/>
<circle cx="609.21" cy="423.50" r="3.3" fill="#93a0cf"/>
<circle cx="616.32" cy="423.50" r="1.9" fill="#fdf9ec"/>
<circle cx="623.42" cy="423.50" r="3.3" fill="#e6e9f3"/>
<circle cx="630.53" cy="423.50" r="2.0" fill="#fdf2d4"/>
<circle cx="637.64" cy="423.50" r="2.0" fill="#fdf2d4"/>
<circle cx="644.75" cy="423.50" r="3.3" fill="#c7cde6"/>
<circle cx="651.86" cy="423.50" r="2.0" fill="#f9cb45"/>
<circle cx="658.96" cy="423.50" r="3.3" fill="#e6e9f3"/>
<circle cx="666.07" cy="423.50" r="1.9" fill="#fdf9ec"/>
<circle cx="673.18" cy="423.50" r="3.3" fill="#364ca1"/>
<circle cx="680.29" cy="423.50" r="3.3" fill="#c7cde6"/>
<line x1="240.00" y1="430.10" x2="242.30" y2="430.10" stroke="#333" stroke-width="0.8" />
<text x="239.30" y="433.00" font-size="8.2" text-anchor="end" fill="#1a1a1a" >scOVCA4</text>
<circle cx="246.70" cy="430.10" r="2.0" fill="#e8ebf4"/>
<circle cx="253.81" cy="430.10" r="2.0" fill="#f9cb45"/>
<circle cx="260.92" cy="430.10" r="3.3" fill="#93a0cf"/>
<circle cx="268.02" cy="430.10" r="2.0" fill="#3b50a3"/>
<circle cx="275.13" cy="430.10" r="3.3" fill="#364ca1"/>
<circle cx="282.24" cy="430.10" r="1.9" fill="#fdf9ec"/>
<circle cx="289.35" cy="430.10" r="1.9" fill="#fdf9ec"/>
<circle cx="296.46" cy="430.10" r="3.3" fill="#364ca1"/>
<circle cx="303.56" cy="430.10" r="2.0" fill="#97a4d1"/>
<circle cx="310.67" cy="430.10" r="2.0" fill="#fce39a"/>
<circle cx="317.78" cy="430.10" r="2.0" fill="#3b50a3"/>
<circle cx="324.89" cy="430.10" r="3.3" fill="#93a0cf"/>
<circle cx="332.00" cy="430.10" r="2.0" fill="#e8ebf4"/>
<circle cx="346.21" cy="430.10" r="2.0" fill="#c9cfe7"/>
<circle cx="353.32" cy="430.10" r="3.3" fill="#6878b9"/>
<circle cx="360.43" cy="430.10" r="2.0" fill="#f9cb45"/>
<circle cx="367.54" cy="430.10" r="2.0" fill="#fdf2d4"/>
<circle cx="381.75" cy="430.10" r="2.0" fill="#f9cb45"/>
<circle cx="388.86" cy="430.10" r="2.0" fill="#e8ebf4"/>
<circle cx="395.97" cy="430.10" r="2.0" fill="#fce39a"/>
<circle cx="410.18" cy="430.10" r="1.9" fill="#fdf9ec"/>
<circle cx="417.29" cy="430.10" r="1.9" fill="#fdf9ec"/>
<circle cx="424.40" cy="430.10" r="2.0" fill="#97a4d1"/>
<circle cx="431.51" cy="430.10" r="2.0" fill="#fce39a"/>
<circle cx="438.62" cy="430.10" r="3.3" fill="#6878b9"/>
<circle cx="445.72" cy="430.10" r="2.0" fill="#f9cb45"/>
<circle cx="452.83" cy="430.10" r="2.0" fill="#6b7cbb"/>
<circle cx="459.94" cy="430.10" r="1.9" fill="#f3f4f9"/>
<circle cx="467.05" cy="430.10" r="2.0" fill="#97a4d1"/>
<circle cx="474.16" cy="430.10" r="1.9" fill="#fdf9ec"/>
<circle cx="481.26" cy="430.10" r="2.0" fill="#fce39a"/>
<circle cx="488.37" cy="430.10" r="1.9" fill="#fdf9ec"/>
<circle cx="495.48" cy="430.10" r="2.0" fill="#f9cb45"/>
<circle cx="502.59" cy="430.10" r="1.9" fill="#fdf9ec"/>
<circle cx="509.70" cy="430.10" r="2.0" fill="#97a4d1"/>
<circle cx="516.80" cy="430.10" r="2.0" fill="#fdf2d4"/>
<circle cx="523.91" cy="430.10" r="3.3" fill="#6878b9"/>
<circle cx="538.13" cy="430.10" r="2.0" fill="#6b7cbb"/>
<circle cx="545.24" cy="430.10" r="3.3" fill="#364ca1"/>
<circle cx="552.34" cy="430.10" r="2.0" fill="#6b7cbb"/>
<circle cx="559.45" cy="430.10" r="2.0" fill="#fdf2d4"/>
<circle cx="566.56" cy="430.10" r="2.0" fill="#e8ebf4"/>
<circle cx="573.67" cy="430.10" r="3.3" fill="#364ca1"/>
<circle cx="580.78" cy="430.10" r="2.0" fill="#97a4d1"/>
<circle cx="587.88" cy="430.10" r="2.0" fill="#97a4d1"/>
<circle cx="594.99" cy="430.10" r="2.0" fill="#c9cfe7"/>
<circle cx="602.10" cy="430.10" r="2.0" fill="#97a4d1"/>
<circle cx="609.21" cy="430.10" r="2.0" fill="#97a4d1"/>
<circle cx="616.32" cy="430.10" r="2.0" fill="#e8ebf4"/>
<circle cx="623.42" cy="430.10" r="2.0" fill="#c9cfe7"/>
<circle cx="630.53" cy="430.10" r="2.0" fill="#e8ebf4"/>
<circle cx="637.64" cy="430.10" r="2.0" fill="#fce39a"/>
<circle cx="644.75" cy="430.10" r="2.0" fill="#e8ebf4"/>
<circle cx="651.86" cy="430.10" r="2.0" fill="#fce39a"/>
<circle cx="658.96" cy="430.10" r="2.0" fill="#fce39a"/>
<circle cx="673.18" cy="430.10" r="2.0" fill="#6b7cbb"/>
<circle cx="680.29" cy="430.10" r="2.0" fill="#3b50a3"/>
<line x1="240.00" y1="436.70" x2="242.30" y2="436.70" stroke="#333" stroke-width="0.8" />
<text x="239.30" y="439.60" font-size="8.2" text-anchor="end" fill="#1a1a1a" >scOVCA3</text>
<circle cx="253.81" cy="436.70" r="3.3" fill="#93a0cf"/>
<circle cx="260.92" cy="436.70" r="3.3" fill="#e6e9f3"/>
<circle cx="268.02" cy="436.70" r="3.3" fill="#c7cde6"/>
<circle cx="275.13" cy="436.70" r="3.3" fill="#364ca1"/>
<circle cx="282.24" cy="436.70" r="1.9" fill="#fdf9ec"/>
<circle cx="289.35" cy="436.70" r="3.3" fill="#e6e9f3"/>
<circle cx="296.46" cy="436.70" r="3.3" fill="#364ca1"/>
<circle cx="303.56" cy="436.70" r="1.9" fill="#fdf9ec"/>
<circle cx="310.67" cy="436.70" r="3.3" fill="#c7cde6"/>
<circle cx="317.78" cy="436.70" r="3.3" fill="#fdf0cf"/>
<circle cx="324.89" cy="436.70" r="3.3" fill="#93a0cf"/>
<circle cx="332.00" cy="436.70" r="1.9" fill="#f3f4f9"/>
<circle cx="346.21" cy="436.70" r="3.3" fill="#6878b9"/>
<circle cx="353.32" cy="436.70" r="3.3" fill="#6878b9"/>
<circle cx="360.43" cy="436.70" r="3.3" fill="#e6e9f3"/>
<circle cx="367.54" cy="436.70" r="3.3" fill="#c7cde6"/>
<circle cx="374.64" cy="436.70" r="3.3" fill="#c7cde6"/>
<circle cx="381.75" cy="436.70" r="3.3" fill="#e6e9f3"/>
<circle cx="388.86" cy="436.70" r="3.3" fill="#e6e9f3"/>
<circle cx="395.97" cy="436.70" r="3.3" fill="#6878b9"/>
<circle cx="403.08" cy="436.70" r="3.3" fill="#e6e9f3"/>
<circle cx="410.18" cy="436.70" r="3.3" fill="#93a0cf"/>
<circle cx="417.29" cy="436.70" r="3.3" fill="#93a0cf"/>
<circle cx="424.40" cy="436.70" r="3.3" fill="#fdf0cf"/>
<circle cx="431.51" cy="436.70" r="3.3" fill="#e6e9f3"/>
<circle cx="438.62" cy="436.70" r="3.3" fill="#fdf0cf"/>
<circle cx="445.72" cy="436.70" r="3.3" fill="#93a0cf"/>
<circle cx="452.83" cy="436.70" r="3.3" fill="#c7cde6"/>
<circle cx="459.94" cy="436.70" r="3.3" fill="#fdf0cf"/>
<circle cx="467.05" cy="436.70" r="3.3" fill="#e6e9f3"/>
<circle cx="474.16" cy="436.70" r="3.3" fill="#e6e9f3"/>
<circle cx="488.37" cy="436.70" r="3.3" fill="#fdf0cf"/>
<circle cx="495.48" cy="436.70" r="2.0" fill="#fce39a"/>
<circle cx="502.59" cy="436.70" r="3.3" fill="#e6e9f3"/>
<circle cx="509.70" cy="436.70" r="2.0" fill="#f9cb45"/>
<circle cx="516.80" cy="436.70" r="1.9" fill="#f3f4f9"/>
<circle cx="531.02" cy="436.70" r="3.3" fill="#e6e9f3"/>
<circle cx="538.13" cy="436.70" r="3.3" fill="#c7cde6"/>
<circle cx="545.24" cy="436.70" r="3.3" fill="#6878b9"/>
<circle cx="552.34" cy="436.70" r="3.3" fill="#fdf0cf"/>
<circle cx="559.45" cy="436.70" r="3.3" fill="#c7cde6"/>
<circle cx="566.56" cy="436.70" r="3.3" fill="#c7cde6"/>
<circle cx="573.67" cy="436.70" r="3.3" fill="#364ca1"/>
<circle cx="580.78" cy="436.70" r="3.3" fill="#fdf0cf"/>
<circle cx="587.88" cy="436.70" r="3.3" fill="#c7cde6"/>
<circle cx="594.99" cy="436.70" r="3.3" fill="#93a0cf"/>
<circle cx="602.10" cy="436.70" r="3.3" fill="#fbe194"/>
<circle cx="616.32" cy="436.70" r="3.3" fill="#e6e9f3"/>
<circle cx="623.42" cy="436.70" r="3.3" fill="#e6e9f3"/>
<circle cx="630.53" cy="436.70" r="3.3" fill="#e6e9f3"/>
<circle cx="637.64" cy="436.70" r="2.0" fill="#fdf2d4"/>
<circle cx="644.75" cy="436.70" r="3.3" fill="#e6e9f3"/>
<circle cx="651.86" cy="436.70" r="2.0" fill="#f9cb45"/>
<circle cx="666.07" cy="436.70" r="3.3" fill="#c7cde6"/>
<circle cx="673.18" cy="436.70" r="3.3" fill="#364ca1"/>
<circle cx="680.29" cy="436.70" r="3.3" fill="#c7cde6"/>
<line x1="240.00" y1="443.30" x2="242.30" y2="443.30" stroke="#333" stroke-width="0.8" />
<text x="239.30" y="446.20" font-size="8.2" text-anchor="end" fill="#1a1a1a" >scOVCA2</text>
<circle cx="253.81" cy="443.30" r="3.3" fill="#e6e9f3"/>
<circle cx="260.92" cy="443.30" r="3.3" fill="#e6e9f3"/>
<circle cx="268.02" cy="443.30" r="2.0" fill="#fdf2d4"/>
<circle cx="275.13" cy="443.30" r="3.3" fill="#364ca1"/>
<circle cx="282.24" cy="443.30" r="2.0" fill="#e8ebf4"/>
<circle cx="296.46" cy="443.30" r="3.3" fill="#364ca1"/>
<circle cx="303.56" cy="443.30" r="3.3" fill="#c7cde6"/>
<circle cx="310.67" cy="443.30" r="3.3" fill="#c7cde6"/>
<circle cx="317.78" cy="443.30" r="3.3" fill="#e6e9f3"/>
<circle cx="324.89" cy="443.30" r="3.3" fill="#c7cde6"/>
<circle cx="332.00" cy="443.30" r="3.3" fill="#e6e9f3"/>
<circle cx="353.32" cy="443.30" r="3.3" fill="#c7cde6"/>
<circle cx="360.43" cy="443.30" r="1.9" fill="#fdf9ec"/>
<circle cx="367.54" cy="443.30" r="3.3" fill="#c7cde6"/>
<circle cx="374.64" cy="443.30" r="1.9" fill="#f3f4f9"/>
<circle cx="381.75" cy="443.30" r="3.3" fill="#6878b9"/>
<circle cx="388.86" cy="443.30" r="3.3" fill="#e6e9f3"/>
<circle cx="395.97" cy="443.30" r="2.0" fill="#fdf2d4"/>
<circle cx="403.08" cy="443.30" r="3.3" fill="#c7cde6"/>
<circle cx="410.18" cy="443.30" r="2.0" fill="#fce39a"/>
<circle cx="417.29" cy="443.30" r="2.0" fill="#e8ebf4"/>
<circle cx="424.40" cy="443.30" r="3.3" fill="#c7cde6"/>
<circle cx="438.62" cy="443.30" r="3.3" fill="#c7cde6"/>
<circle cx="445.72" cy="443.30" r="3.3" fill="#6878b9"/>
<circle cx="452.83" cy="443.30" r="3.3" fill="#c7cde6"/>
<circle cx="459.94" cy="443.30" r="2.0" fill="#fce39a"/>
<circle cx="467.05" cy="443.30" r="3.3" fill="#c7cde6"/>
<circle cx="474.16" cy="443.30" r="3.3" fill="#e6e9f3"/>
<circle cx="488.37" cy="443.30" r="3.3" fill="#e6e9f3"/>
<circle cx="495.48" cy="443.30" r="2.0" fill="#fce39a"/>
<circle cx="509.70" cy="443.30" r="2.0" fill="#fce39a"/>
<circle cx="523.91" cy="443.30" r="2.0" fill="#fdf2d4"/>
<circle cx="531.02" cy="443.30" r="1.9" fill="#fdf9ec"/>
<circle cx="538.13" cy="443.30" r="3.3" fill="#c7cde6"/>
<circle cx="545.24" cy="443.30" r="3.3" fill="#6878b9"/>
<circle cx="552.34" cy="443.30" r="3.3" fill="#c7cde6"/>
<circle cx="559.45" cy="443.30" r="2.0" fill="#f9cb45"/>
<circle cx="566.56" cy="443.30" r="3.3" fill="#93a0cf"/>
<circle cx="573.67" cy="443.30" r="3.3" fill="#364ca1"/>
<circle cx="580.78" cy="443.30" r="3.3" fill="#e6e9f3"/>
<circle cx="587.88" cy="443.30" r="2.0" fill="#fdf2d4"/>
<circle cx="594.99" cy="443.30" r="2.0" fill="#c9cfe7"/>
<circle cx="602.10" cy="443.30" r="1.9" fill="#f3f4f9"/>
<circle cx="609.21" cy="443.30" r="3.3" fill="#c7cde6"/>
<circle cx="616.32" cy="443.30" r="3.3" fill="#c7cde6"/>
<circle cx="623.42" cy="443.30" r="3.3" fill="#e6e9f3"/>
<circle cx="630.53" cy="443.30" r="1.9" fill="#f3f4f9"/>
<circle cx="637.64" cy="443.30" r="3.3" fill="#c7cde6"/>
<circle cx="644.75" cy="443.30" r="3.3" fill="#c7cde6"/>
<circle cx="651.86" cy="443.30" r="3.3" fill="#f9c842"/>
<circle cx="658.96" cy="443.30" r="3.3" fill="#e6e9f3"/>
<circle cx="673.18" cy="443.30" r="3.3" fill="#6878b9"/>
<circle cx="680.29" cy="443.30" r="3.3" fill="#93a0cf"/>
<line x1="240.00" y1="449.90" x2="242.30" y2="449.90" stroke="#333" stroke-width="0.8" />
<text x="239.30" y="452.80" font-size="8.2" text-anchor="end" fill="#1a1a1a" >scOVCA1</text>
<circle cx="246.70" cy="449.90" r="2.0" fill="#e8ebf4"/>
<circle cx="253.81" cy="449.90" r="2.0" fill="#fdf2d4"/>
<circle cx="260.92" cy="449.90" r="2.0" fill="#e8ebf4"/>
<circle cx="268.02" cy="449.90" r="2.0" fill="#e8ebf4"/>
<circle cx="275.13" cy="449.90" r="2.0" fill="#c9cfe7"/>
<circle cx="282.24" cy="449.90" r="2.0" fill="#fdf2d4"/>
<circle cx="289.35" cy="449.90" r="1.9" fill="#f3f4f9"/>
<circle cx="296.46" cy="449.90" r="3.3" fill="#6878b9"/>
<circle cx="303.56" cy="449.90" r="1.9" fill="#fdf9ec"/>
<circle cx="310.67" cy="449.90" r="3.3" fill="#93a0cf"/>
<circle cx="317.78" cy="449.90" r="2.0" fill="#c9cfe7"/>
<circle cx="324.89" cy="449.90" r="2.0" fill="#c9cfe7"/>
<circle cx="332.00" cy="449.90" r="1.9" fill="#fdf9ec"/>
<circle cx="353.32" cy="449.90" r="2.0" fill="#fdf2d4"/>
<circle cx="360.43" cy="449.90" r="2.0" fill="#fce39a"/>
<circle cx="367.54" cy="449.90" r="2.0" fill="#97a4d1"/>
<circle cx="374.64" cy="449.90" r="2.0" fill="#e8ebf4"/>
<circle cx="381.75" cy="449.90" r="1.9" fill="#fdf9ec"/>
<circle cx="388.86" cy="449.90" r="2.0" fill="#c9cfe7"/>
<circle cx="395.97" cy="449.90" r="2.0" fill="#c9cfe7"/>
<circle cx="403.08" cy="449.90" r="2.0" fill="#97a4d1"/>
<circle cx="410.18" cy="449.90" r="1.9" fill="#fdf9ec"/>
<circle cx="417.29" cy="449.90" r="1.9" fill="#f3f4f9"/>
<circle cx="424.40" cy="449.90" r="1.9" fill="#f3f4f9"/>
<circle cx="431.51" cy="449.90" r="3.3" fill="#c7cde6"/>
<circle cx="445.72" cy="449.90" r="2.0" fill="#c9cfe7"/>
<circle cx="452.83" cy="449.90" r="2.0" fill="#c9cfe7"/>
<circle cx="459.94" cy="449.90" r="2.0" fill="#fdf2d4"/>
<circle cx="467.05" cy="449.90" r="3.3" fill="#c7cde6"/>
<circle cx="474.16" cy="449.90" r="3.3" fill="#c7cde6"/>
<circle cx="481.26" cy="449.90" r="2.0" fill="#fdf2d4"/>
<circle cx="488.37" cy="449.90" r="2.0" fill="#e8ebf4"/>
<circle cx="495.48" cy="449.90" r="2.0" fill="#c9cfe7"/>
<circle cx="509.70" cy="449.90" r="2.0" fill="#e8ebf4"/>
<circle cx="516.80" cy="449.90" r="1.9" fill="#fdf9ec"/>
<circle cx="523.91" cy="449.90" r="2.0" fill="#e8ebf4"/>
<circle cx="531.02" cy="449.90" r="2.0" fill="#e8ebf4"/>
<circle cx="538.13" cy="449.90" r="2.0" fill="#e8ebf4"/>
<circle cx="545.24" cy="449.90" r="2.0" fill="#e8ebf4"/>
<circle cx="552.34" cy="449.90" r="2.0" fill="#fce39a"/>
<circle cx="566.56" cy="449.90" r="2.0" fill="#e8ebf4"/>
<circle cx="580.78" cy="449.90" r="3.3" fill="#c7cde6"/>
<circle cx="587.88" cy="449.90" r="2.0" fill="#c9cfe7"/>
<circle cx="594.99" cy="449.90" r="2.0" fill="#e8ebf4"/>
<circle cx="609.21" cy="449.90" r="2.0" fill="#fce39a"/>
<circle cx="616.32" cy="449.90" r="2.0" fill="#fdf2d4"/>
<circle cx="623.42" cy="449.90" r="2.0" fill="#e8ebf4"/>
<circle cx="630.53" cy="449.90" r="2.0" fill="#e8ebf4"/>
<circle cx="637.64" cy="449.90" r="2.0" fill="#e8ebf4"/>
<circle cx="644.75" cy="449.90" r="2.0" fill="#e8ebf4"/>
<circle cx="651.86" cy="449.90" r="2.0" fill="#f9cb45"/>
<circle cx="658.96" cy="449.90" r="2.0" fill="#c9cfe7"/>
<circle cx="666.07" cy="449.90" r="2.0" fill="#e8ebf4"/>
<circle cx="673.18" cy="449.90" r="3.3" fill="#c7cde6"/>
<circle cx="680.29" cy="449.90" r="1.9" fill="#fdf9ec"/>
<line x1="240.00" y1="456.50" x2="242.30" y2="456.50" stroke="#333" stroke-width="0.8" />
<text x="239.30" y="459.40" font-size="8.2" text-anchor="end" fill="#1a1a1a" >scCRC5</text>
<circle cx="246.70" cy="456.50" r="3.3" fill="#c7cde6"/>
<circle cx="253.81" cy="456.50" r="2.0" fill="#f9cb45"/>
<circle cx="275.13" cy="456.50" r="3.3" fill="#364ca1"/>
<circle cx="282.24" cy="456.50" r="2.0" fill="#fce39a"/>
<circle cx="296.46" cy="456.50" r="3.3" fill="#364ca1"/>
<circle cx="303.56" cy="456.50" r="3.3" fill="#93a0cf"/>
<circle cx="317.78" cy="456.50" r="1.9" fill="#fdf9ec"/>
<circle cx="324.89" cy="456.50" r="2.0" fill="#c9cfe7"/>
<circle cx="332.00" cy="456.50" r="2.0" fill="#fce39a"/>
<circle cx="346.21" cy="456.50" r="3.3" fill="#6878b9"/>
<circle cx="353.32" cy="456.50" r="2.0" fill="#fdf2d4"/>
<circle cx="360.43" cy="456.50" r="2.0" fill="#f9cb45"/>
<circle cx="367.54" cy="456.50" r="2.0" fill="#fce39a"/>
<circle cx="374.64" cy="456.50" r="1.9" fill="#fdf9ec"/>
<circle cx="381.75" cy="456.50" r="2.0" fill="#fce39a"/>
<circle cx="388.86" cy="456.50" r="2.0" fill="#f9cb45"/>
<circle cx="395.97" cy="456.50" r="3.3" fill="#6878b9"/>
<circle cx="403.08" cy="456.50" r="2.0" fill="#f9cb45"/>
<circle cx="410.18" cy="456.50" r="1.9" fill="#fdf9ec"/>
<circle cx="417.29" cy="456.50" r="2.0" fill="#fce39a"/>
<circle cx="424.40" cy="456.50" r="2.0" fill="#fdf2d4"/>
<circle cx="431.51" cy="456.50" r="3.3" fill="#6878b9"/>
<circle cx="438.62" cy="456.50" r="2.0" fill="#fdf2d4"/>
<circle cx="445.72" cy="456.50" r="3.3" fill="#fdf0cf"/>
<circle cx="452.83" cy="456.50" r="2.0" fill="#f9cb45"/>
<circle cx="459.94" cy="456.50" r="2.0" fill="#fce39a"/>
<circle cx="467.05" cy="456.50" r="2.0" fill="#fdf2d4"/>
<circle cx="474.16" cy="456.50" r="2.0" fill="#c9cfe7"/>
<circle cx="481.26" cy="456.50" r="3.3" fill="#c7cde6"/>
<circle cx="488.37" cy="456.50" r="3.3" fill="#6878b9"/>
<circle cx="495.48" cy="456.50" r="2.0" fill="#fce39a"/>
<circle cx="509.70" cy="456.50" r="2.0" fill="#f9cb45"/>
<circle cx="516.80" cy="456.50" r="2.0" fill="#e8ebf4"/>
<circle cx="523.91" cy="456.50" r="3.3" fill="#93a0cf"/>
<circle cx="531.02" cy="456.50" r="3.3" fill="#c7cde6"/>
<circle cx="538.13" cy="456.50" r="3.3" fill="#93a0cf"/>
<circle cx="545.24" cy="456.50" r="2.0" fill="#fce39a"/>
<circle cx="552.34" cy="456.50" r="3.3" fill="#93a0cf"/>
<circle cx="559.45" cy="456.50" r="3.3" fill="#364ca1"/>
<circle cx="566.56" cy="456.50" r="2.0" fill="#e8ebf4"/>
<circle cx="573.67" cy="456.50" r="2.0" fill="#c9cfe7"/>
<circle cx="580.78" cy="456.50" r="3.3" fill="#c7cde6"/>
<circle cx="587.88" cy="456.50" r="3.3" fill="#93a0cf"/>
<circle cx="594.99" cy="456.50" r="1.9" fill="#f3f4f9"/>
<circle cx="602.10" cy="456.50" r="2.0" fill="#f9cb45"/>
<circle cx="609.21" cy="456.50" r="2.0" fill="#e8ebf4"/>
<circle cx="616.32" cy="456.50" r="2.0" fill="#c9cfe7"/>
<circle cx="623.42" cy="456.50" r="2.0" fill="#f9cb45"/>
<circle cx="630.53" cy="456.50" r="2.0" fill="#e8ebf4"/>
<circle cx="637.64" cy="456.50" r="2.0" fill="#f9cb45"/>
<circle cx="644.75" cy="456.50" r="2.0" fill="#fce39a"/>
<circle cx="651.86" cy="456.50" r="2.0" fill="#f9cb45"/>
<circle cx="658.96" cy="456.50" r="2.0" fill="#e8ebf4"/>
<circle cx="666.07" cy="456.50" r="1.9" fill="#fdf9ec"/>
<circle cx="673.18" cy="456.50" r="3.3" fill="#364ca1"/>
<circle cx="680.29" cy="456.50" r="2.0" fill="#fdf2d4"/>
<line x1="240.00" y1="463.10" x2="242.30" y2="463.10" stroke="#333" stroke-width="0.8" />
<text x="239.30" y="466.00" font-size="8.2" text-anchor="end" fill="#1a1a1a" >scCRC4</text>
<circle cx="246.70" cy="463.10" r="2.0" fill="#97a4d1"/>
<circle cx="253.81" cy="463.10" r="3.3" fill="#6878b9"/>
<circle cx="260.92" cy="463.10" r="3.3" fill="#e6e9f3"/>
<circle cx="268.02" cy="463.10" r="2.0" fill="#fdf2d4"/>
<circle cx="275.13" cy="463.10" r="3.3" fill="#93a0cf"/>
<circle cx="282.24" cy="463.10" r="2.0" fill="#c9cfe7"/>
<circle cx="289.35" cy="463.10" r="1.9" fill="#fdf9ec"/>
<circle cx="296.46" cy="463.10" r="2.0" fill="#97a4d1"/>
<circle cx="303.56" cy="463.10" r="2.0" fill="#e8ebf4"/>
<circle cx="310.67" cy="463.10" r="2.0" fill="#fdf2d4"/>
<circle cx="317.78" cy="463.10" r="2.0" fill="#e8ebf4"/>
<circle cx="324.89" cy="463.10" r="2.0" fill="#fce39a"/>
<circle cx="332.00" cy="463.10" r="1.9" fill="#fdf9ec"/>
<circle cx="339.10" cy="463.10" r="2.0" fill="#e8ebf4"/>
<circle cx="346.21" cy="463.10" r="2.0" fill="#c9cfe7"/>
<circle cx="353.32" cy="463.10" r="3.3" fill="#364ca1"/>
<circle cx="360.43" cy="463.10" r="2.0" fill="#fce39a"/>
<circle cx="367.54" cy="463.10" r="2.0" fill="#c9cfe7"/>
<circle cx="374.64" cy="463.10" r="2.0" fill="#fce39a"/>
<circle cx="381.75" cy="463.10" r="3.3" fill="#6878b9"/>
<circle cx="388.86" cy="463.10" r="3.3" fill="#6878b9"/>
<circle cx="395.97" cy="463.10" r="3.3" fill="#93a0cf"/>
<circle cx="403.08" cy="463.10" r="2.0" fill="#fdf2d4"/>
<circle cx="410.18" cy="463.10" r="2.0" fill="#f9cb45"/>
<circle cx="417.29" cy="463.10" r="2.0" fill="#fdf2d4"/>
<circle cx="424.40" cy="463.10" r="2.0" fill="#97a4d1"/>
<circle cx="431.51" cy="463.10" r="3.3" fill="#c7cde6"/>
<circle cx="438.62" cy="463.10" r="2.0" fill="#f9cb45"/>
<circle cx="445.72" cy="463.10" r="3.3" fill="#c7cde6"/>
<circle cx="452.83" cy="463.10" r="2.0" fill="#e8ebf4"/>
<circle cx="459.94" cy="463.10" r="2.0" fill="#c9cfe7"/>
<circle cx="467.05" cy="463.10" r="3.3" fill="#93a0cf"/>
<circle cx="474.16" cy="463.10" r="3.3" fill="#93a0cf"/>
<circle cx="488.37" cy="463.10" r="3.3" fill="#93a0cf"/>
<circle cx="495.48" cy="463.10" r="2.0" fill="#fdf2d4"/>
<circle cx="509.70" cy="463.10" r="2.0" fill="#f9cb45"/>
<circle cx="516.80" cy="463.10" r="2.0" fill="#e8ebf4"/>
<circle cx="523.91" cy="463.10" r="3.3" fill="#c7cde6"/>
<circle cx="538.13" cy="463.10" r="2.0" fill="#e8ebf4"/>
<circle cx="545.24" cy="463.10" r="3.3" fill="#93a0cf"/>
<circle cx="559.45" cy="463.10" r="3.3" fill="#364ca1"/>
<circle cx="566.56" cy="463.10" r="3.3" fill="#c7cde6"/>
<circle cx="573.67" cy="463.10" r="2.0" fill="#c9cfe7"/>
<circle cx="580.78" cy="463.10" r="3.3" fill="#6878b9"/>
<circle cx="587.88" cy="463.10" r="2.0" fill="#c9cfe7"/>
<circle cx="594.99" cy="463.10" r="2.0" fill="#97a4d1"/>
<circle cx="609.21" cy="463.10" r="2.0" fill="#e8ebf4"/>
<circle cx="616.32" cy="463.10" r="3.3" fill="#93a0cf"/>
<circle cx="623.42" cy="463.10" r="2.0" fill="#e8ebf4"/>
<circle cx="630.53" cy="463.10" r="2.0" fill="#e8ebf4"/>
<circle cx="637.64" cy="463.10" r="3.3" fill="#6878b9"/>
<circle cx="644.75" cy="463.10" r="2.0" fill="#fce39a"/>
<circle cx="651.86" cy="463.10" r="3.3" fill="#f6a028"/>
<circle cx="666.07" cy="463.10" r="2.0" fill="#f9cb45"/>
<circle cx="673.18" cy="463.10" r="2.0" fill="#e8ebf4"/>
<circle cx="680.29" cy="463.10" r="2.0" fill="#fdf2d4"/>
<line x1="240.00" y1="469.70" x2="242.30" y2="469.70" stroke="#333" stroke-width="0.8" />
<text x="239.30" y="472.60" font-size="8.2" text-anchor="end" fill="#1a1a1a" >scCRC3</text>
<circle cx="246.70" cy="469.70" r="2.0" fill="#e8ebf4"/>
<circle cx="253.81" cy="469.70" r="2.0" fill="#c9cfe7"/>
<circle cx="260.92" cy="469.70" r="2.0" fill="#c9cfe7"/>
<circle cx="268.02" cy="469.70" r="1.9" fill="#f3f4f9"/>
<circle cx="275.13" cy="469.70" r="2.0" fill="#97a4d1"/>
<circle cx="282.24" cy="469.70" r="2.0" fill="#fdf2d4"/>
<circle cx="289.35" cy="469.70" r="2.0" fill="#c9cfe7"/>
<circle cx="296.46" cy="469.70" r="3.3" fill="#364ca1"/>
<circle cx="303.56" cy="469.70" r="1.9" fill="#f3f4f9"/>
<circle cx="310.67" cy="469.70" r="2.0" fill="#fce39a"/>
<circle cx="317.78" cy="469.70" r="2.0" fill="#e8ebf4"/>
<circle cx="324.89" cy="469.70" r="2.0" fill="#e8ebf4"/>
<circle cx="346.21" cy="469.70" r="2.0" fill="#e8ebf4"/>
<circle cx="353.32" cy="469.70" r="1.9" fill="#fdf9ec"/>
<circle cx="360.43" cy="469.70" r="2.0" fill="#e8ebf4"/>
<circle cx="367.54" cy="469.70" r="2.0" fill="#f9cb45"/>
<circle cx="374.64" cy="469.70" r="2.0" fill="#f9cb45"/>
<circle cx="381.75" cy="469.70" r="2.0" fill="#f9cb45"/>
<circle cx="388.86" cy="469.70" r="2.0" fill="#f9cb45"/>
<circle cx="395.97" cy="469.70" r="1.9" fill="#f3f4f9"/>
<circle cx="403.08" cy="469.70" r="3.3" fill="#6878b9"/>
<circle cx="410.18" cy="469.70" r="2.0" fill="#e8ebf4"/>
<circle cx="417.29" cy="469.70" r="2.0" fill="#fce39a"/>
<circle cx="424.40" cy="469.70" r="2.0" fill="#e8ebf4"/>
<circle cx="431.51" cy="469.70" r="2.0" fill="#e8ebf4"/>
<circle cx="438.62" cy="469.70" r="2.0" fill="#fdf2d4"/>
<circle cx="445.72" cy="469.70" r="2.0" fill="#fce39a"/>
<circle cx="452.83" cy="469.70" r="2.0" fill="#fdf2d4"/>
<circle cx="459.94" cy="469.70" r="2.0" fill="#f9cb45"/>
<circle cx="467.05" cy="469.70" r="3.3" fill="#6878b9"/>
<circle cx="474.16" cy="469.70" r="1.9" fill="#fdf9ec"/>
<circle cx="481.26" cy="469.70" r="2.0" fill="#fce39a"/>
<circle cx="488.37" cy="469.70" r="3.3" fill="#93a0cf"/>
<circle cx="495.48" cy="469.70" r="2.0" fill="#f9cb45"/>
<circle cx="502.59" cy="469.70" r="2.0" fill="#fce39a"/>
<circle cx="509.70" cy="469.70" r="2.0" fill="#f9cb45"/>
<circle cx="516.80" cy="469.70" r="2.0" fill="#e8ebf4"/>
<circle cx="523.91" cy="469.70" r="2.0" fill="#c9cfe7"/>
<circle cx="531.02" cy="469.70" r="2.0" fill="#fce39a"/>
<circle cx="538.13" cy="469.70" r="2.0" fill="#f9cb45"/>
<circle cx="545.24" cy="469.70" r="3.3" fill="#93a0cf"/>
<circle cx="552.34" cy="469.70" r="2.0" fill="#c9cfe7"/>
<circle cx="559.45" cy="469.70" r="2.0" fill="#fce39a"/>
<circle cx="566.56" cy="469.70" r="2.0" fill="#fdf2d4"/>
<circle cx="573.67" cy="469.70" r="2.0" fill="#c9cfe7"/>
<circle cx="580.78" cy="469.70" r="2.0" fill="#c9cfe7"/>
<circle cx="587.88" cy="469.70" r="2.0" fill="#fdf2d4"/>
<circle cx="594.99" cy="469.70" r="2.0" fill="#c9cfe7"/>
<circle cx="602.10" cy="469.70" r="2.0" fill="#f9cb45"/>
<circle cx="609.21" cy="469.70" r="2.0" fill="#97a4d1"/>
<circle cx="616.32" cy="469.70" r="2.0" fill="#fdf2d4"/>
<circle cx="623.42" cy="469.70" r="2.0" fill="#e8ebf4"/>
<circle cx="630.53" cy="469.70" r="2.0" fill="#fdf2d4"/>
<circle cx="637.64" cy="469.70" r="2.0" fill="#fce39a"/>
<circle cx="644.75" cy="469.70" r="2.0" fill="#c9cfe7"/>
<circle cx="651.86" cy="469.70" r="2.0" fill="#f9cb45"/>
<circle cx="658.96" cy="469.70" r="2.0" fill="#e8ebf4"/>
<circle cx="666.07" cy="469.70" r="2.0" fill="#fdf2d4"/>
<circle cx="673.18" cy="469.70" r="3.3" fill="#6878b9"/>
<circle cx="680.29" cy="469.70" r="2.0" fill="#c9cfe7"/>
<line x1="240.00" y1="476.30" x2="242.30" y2="476.30" stroke="#333" stroke-width="0.8" />
<text x="239.30" y="479.20" font-size="8.2" text-anchor="end" fill="#1a1a1a" >scCRC2</text>
<circle cx="246.70" cy="476.30" r="1.9" fill="#f3f4f9"/>
<circle cx="253.81" cy="476.30" r="3.3" fill="#93a0cf"/>
<circle cx="260.92" cy="476.30" r="3.3" fill="#93a0cf"/>
<circle cx="268.02" cy="476.30" r="2.0" fill="#fdf2d4"/>
<circle cx="275.13" cy="476.30" r="3.3" fill="#364ca1"/>
<circle cx="282.24" cy="476.30" r="2.0" fill="#f9cb45"/>
<circle cx="289.35" cy="476.30" r="2.0" fill="#fdf2d4"/>
<circle cx="296.46" cy="476.30" r="3.3" fill="#364ca1"/>
<circle cx="303.56" cy="476.30" r="3.3" fill="#c7cde6"/>
<circle cx="310.67" cy="476.30" r="2.0" fill="#e8ebf4"/>
<circle cx="317.78" cy="476.30" r="3.3" fill="#93a0cf"/>
<circle cx="324.89" cy="476.30" r="3.3" fill="#6878b9"/>
<circle cx="332.00" cy="476.30" r="3.3" fill="#c7cde6"/>
<circle cx="346.21" cy="476.30" r="2.0" fill="#fdf2d4"/>
<circle cx="353.32" cy="476.30" r="3.3" fill="#6878b9"/>
<circle cx="360.43" cy="476.30" r="3.3" fill="#6878b9"/>
<circle cx="367.54" cy="476.30" r="3.3" fill="#c7cde6"/>
<circle cx="374.64" cy="476.30" r="2.0" fill="#fce39a"/>
<circle cx="381.75" cy="476.30" r="3.3" fill="#fdf0cf"/>
<circle cx="388.86" cy="476.30" r="3.3" fill="#93a0cf"/>
<circle cx="395.97" cy="476.30" r="2.0" fill="#f9cb45"/>
<circle cx="403.08" cy="476.30" r="1.9" fill="#fdf9ec"/>
<circle cx="410.18" cy="476.30" r="3.3" fill="#e6e9f3"/>
<circle cx="417.29" cy="476.30" r="1.9" fill="#fdf9ec"/>
<circle cx="424.40" cy="476.30" r="3.3" fill="#6878b9"/>
<circle cx="431.51" cy="476.30" r="3.3" fill="#fdf0cf"/>
<circle cx="438.62" cy="476.30" r="3.3" fill="#93a0cf"/>
<circle cx="445.72" cy="476.30" r="3.3" fill="#c7cde6"/>
<circle cx="452.83" cy="476.30" r="3.3" fill="#6878b9"/>
<circle cx="459.94" cy="476.30" r="2.0" fill="#fdf2d4"/>
<circle cx="467.05" cy="476.30" r="3.3" fill="#6878b9"/>
<circle cx="474.16" cy="476.30" r="3.3" fill="#c7cde6"/>
<circle cx="481.26" cy="476.30" r="3.3" fill="#e6e9f3"/>
<circle cx="488.37" cy="476.30" r="1.9" fill="#fdf9ec"/>
<circle cx="495.48" cy="476.30" r="2.0" fill="#f7a62a"/>
<circle cx="502.59" cy="476.30" r="3.3" fill="#c7cde6"/>
<circle cx="509.70" cy="476.30" r="2.0" fill="#fce39a"/>
<circle cx="516.80" cy="476.30" r="2.0" fill="#fce39a"/>
<circle cx="523.91" cy="476.30" r="3.3" fill="#c7cde6"/>
<circle cx="531.02" cy="476.30" r="2.0" fill="#e8ebf4"/>
<circle cx="538.13" cy="476.30" r="3.3" fill="#e6e9f3"/>
<circle cx="545.24" cy="476.30" r="3.3" fill="#364ca1"/>
<circle cx="552.34" cy="476.30" r="3.3" fill="#6878b9"/>
<circle cx="559.45" cy="476.30" r="3.3" fill="#f9c842"/>
<circle cx="566.56" cy="476.30" r="3.3" fill="#93a0cf"/>
<circle cx="573.67" cy="476.30" r="3.3" fill="#364ca1"/>
<circle cx="580.78" cy="476.30" r="3.3" fill="#fdf0cf"/>
<circle cx="587.88" cy="476.30" r="3.3" fill="#e6e9f3"/>
<circle cx="594.99" cy="476.30" r="2.0" fill="#fce39a"/>
<circle cx="602.10" cy="476.30" r="3.3" fill="#93a0cf"/>
<circle cx="609.21" cy="476.30" r="3.3" fill="#93a0cf"/>
<circle cx="616.32" cy="476.30" r="2.0" fill="#fdf2d4"/>
<circle cx="630.53" cy="476.30" r="3.3" fill="#93a0cf"/>
<circle cx="637.64" cy="476.30" r="3.3" fill="#c7cde6"/>
<circle cx="644.75" cy="476.30" r="2.0" fill="#fdf2d4"/>
<circle cx="651.86" cy="476.30" r="3.3" fill="#f6a028"/>
<circle cx="658.96" cy="476.30" r="3.3" fill="#c7cde6"/>
<circle cx="666.07" cy="476.30" r="1.9" fill="#fdf9ec"/>
<circle cx="673.18" cy="476.30" r="3.3" fill="#364ca1"/>
<circle cx="680.29" cy="476.30" r="3.3" fill="#6878b9"/>
<line x1="240.00" y1="482.90" x2="242.30" y2="482.90" stroke="#333" stroke-width="0.8" />
<text x="239.30" y="485.80" font-size="8.2" text-anchor="end" fill="#1a1a1a" >scCRC1</text>
<circle cx="246.70" cy="482.90" r="2.0" fill="#c9cfe7"/>
<circle cx="253.81" cy="482.90" r="2.0" fill="#f9cb45"/>
<circle cx="260.92" cy="482.90" r="2.0" fill="#e8ebf4"/>
<circle cx="268.02" cy="482.90" r="2.0" fill="#f9cb45"/>
<circle cx="275.13" cy="482.90" r="3.3" fill="#364ca1"/>
<circle cx="282.24" cy="482.90" r="3.3" fill="#93a0cf"/>
<circle cx="289.35" cy="482.90" r="2.0" fill="#e8ebf4"/>
<circle cx="296.46" cy="482.90" r="3.3" fill="#364ca1"/>
<circle cx="303.56" cy="482.90" r="2.0" fill="#fdf2d4"/>
<circle cx="310.67" cy="482.90" r="2.0" fill="#97a4d1"/>
<circle cx="317.78" cy="482.90" r="2.0" fill="#e8ebf4"/>
<circle cx="324.89" cy="482.90" r="2.0" fill="#fce39a"/>
<circle cx="346.21" cy="482.90" r="2.0" fill="#fce39a"/>
<circle cx="353.32" cy="482.90" r="2.0" fill="#e8ebf4"/>
<circle cx="360.43" cy="482.90" r="2.0" fill="#f7a62a"/>
<circle cx="367.54" cy="482.90" r="2.0" fill="#fdf2d4"/>
<circle cx="374.64" cy="482.90" r="2.0" fill="#fce39a"/>
<circle cx="381.75" cy="482.90" r="2.0" fill="#f9cb45"/>
<circle cx="388.86" cy="482.90" r="2.0" fill="#97a4d1"/>
<circle cx="395.97" cy="482.90" r="2.0" fill="#f7a62a"/>
<circle cx="403.08" cy="482.90" r="2.0" fill="#fce39a"/>
<circle cx="410.18" cy="482.90" r="1.9" fill="#fdf9ec"/>
<circle cx="417.29" cy="482.90" r="2.0" fill="#97a4d1"/>
<circle cx="424.40" cy="482.90" r="2.0" fill="#fdf2d4"/>
<circle cx="431.51" cy="482.90" r="3.3" fill="#364ca1"/>
<circle cx="438.62" cy="482.90" r="2.0" fill="#fce39a"/>
<circle cx="445.72" cy="482.90" r="2.0" fill="#e8ebf4"/>
<circle cx="452.83" cy="482.90" r="2.0" fill="#f9cb45"/>
<circle cx="459.94" cy="482.90" r="2.0" fill="#f9cb45"/>
<circle cx="467.05" cy="482.90" r="3.3" fill="#6878b9"/>
<circle cx="474.16" cy="482.90" r="1.9" fill="#fdf9ec"/>
<circle cx="481.26" cy="482.90" r="2.0" fill="#97a4d1"/>
<circle cx="488.37" cy="482.90" r="2.0" fill="#fce39a"/>
<circle cx="495.48" cy="482.90" r="2.0" fill="#c9cfe7"/>
<circle cx="502.59" cy="482.90" r="2.0" fill="#fce39a"/>
<circle cx="509.70" cy="482.90" r="2.0" fill="#f9cb45"/>
<circle cx="523.91" cy="482.90" r="2.0" fill="#fce39a"/>
<circle cx="531.02" cy="482.90" r="1.9" fill="#fdf9ec"/>
<circle cx="538.13" cy="482.90" r="2.0" fill="#f9cb45"/>
<circle cx="545.24" cy="482.90" r="2.0" fill="#6b7cbb"/>
<circle cx="552.34" cy="482.90" r="2.0" fill="#97a4d1"/>
<circle cx="559.45" cy="482.90" r="2.0" fill="#fce39a"/>
<circle cx="566.56" cy="482.90" r="2.0" fill="#fdf2d4"/>
<circle cx="573.67" cy="482.90" r="3.3" fill="#364ca1"/>
<circle cx="580.78" cy="482.90" r="3.3" fill="#93a0cf"/>
<circle cx="587.88" cy="482.90" r="3.3" fill="#93a0cf"/>
<circle cx="594.99" cy="482.90" r="2.0" fill="#f9cb45"/>
<circle cx="609.21" cy="482.90" r="2.0" fill="#97a4d1"/>
<circle cx="616.32" cy="482.90" r="2.0" fill="#f7a62a"/>
<circle cx="623.42" cy="482.90" r="2.0" fill="#c9cfe7"/>
<circle cx="630.53" cy="482.90" r="2.0" fill="#f9cb45"/>
<circle cx="637.64" cy="482.90" r="2.0" fill="#c9cfe7"/>
<circle cx="644.75" cy="482.90" r="2.0" fill="#e8ebf4"/>
<circle cx="651.86" cy="482.90" r="2.0" fill="#f9cb45"/>
<circle cx="658.96" cy="482.90" r="2.0" fill="#fce39a"/>
<circle cx="666.07" cy="482.90" r="2.0" fill="#fce39a"/>
<circle cx="673.18" cy="482.90" r="3.3" fill="#93a0cf"/>
<circle cx="680.29" cy="482.90" r="1.9" fill="#fdf9ec"/>
<line x1="240.00" y1="489.50" x2="242.30" y2="489.50" stroke="#333" stroke-width="0.8" />
<text x="239.30" y="492.40" font-size="8.2" text-anchor="end" fill="#1a1a1a" >scBRCA6</text>
<circle cx="246.70" cy="489.50" r="1.9" fill="#f3f4f9"/>
<circle cx="253.81" cy="489.50" r="1.9" fill="#fdf9ec"/>
<circle cx="260.92" cy="489.50" r="2.0" fill="#fdf2d4"/>
<circle cx="268.02" cy="489.50" r="2.0" fill="#fdf2d4"/>
<circle cx="275.13" cy="489.50" r="3.3" fill="#6878b9"/>
<circle cx="282.24" cy="489.50" r="3.3" fill="#e6e9f3"/>
<circle cx="296.46" cy="489.50" r="3.3" fill="#364ca1"/>
<circle cx="310.67" cy="489.50" r="1.9" fill="#f3f4f9"/>
<circle cx="317.78" cy="489.50" r="3.3" fill="#c7cde6"/>
<circle cx="324.89" cy="489.50" r="2.0" fill="#e8ebf4"/>
<circle cx="332.00" cy="489.50" r="1.9" fill="#f3f4f9"/>
<circle cx="346.21" cy="489.50" r="2.0" fill="#e8ebf4"/>
<circle cx="353.32" cy="489.50" r="2.0" fill="#e8ebf4"/>
<circle cx="360.43" cy="489.50" r="2.0" fill="#fce39a"/>
<circle cx="367.54" cy="489.50" r="2.0" fill="#fce39a"/>
<circle cx="381.75" cy="489.50" r="1.9" fill="#fdf9ec"/>
<circle cx="388.86" cy="489.50" r="1.9" fill="#fdf9ec"/>
<circle cx="395.97" cy="489.50" r="1.9" fill="#fdf9ec"/>
<circle cx="403.08" cy="489.50" r="3.3" fill="#e6e9f3"/>
<circle cx="410.18" cy="489.50" r="3.3" fill="#c7cde6"/>
<circle cx="417.29" cy="489.50" r="3.3" fill="#e6e9f3"/>
<circle cx="424.40" cy="489.50" r="3.3" fill="#c7cde6"/>
<circle cx="431.51" cy="489.50" r="3.3" fill="#c7cde6"/>
<circle cx="438.62" cy="489.50" r="3.3" fill="#c7cde6"/>
<circle cx="452.83" cy="489.50" r="1.9" fill="#fdf9ec"/>
<circle cx="459.94" cy="489.50" r="3.3" fill="#93a0cf"/>
<circle cx="467.05" cy="489.50" r="1.9" fill="#fdf9ec"/>
<circle cx="474.16" cy="489.50" r="3.3" fill="#e6e9f3"/>
<circle cx="481.26" cy="489.50" r="2.0" fill="#fce39a"/>
<circle cx="488.37" cy="489.50" r="3.3" fill="#e6e9f3"/>
<circle cx="502.59" cy="489.50" r="1.9" fill="#fdf9ec"/>
<circle cx="509.70" cy="489.50" r="3.3" fill="#93a0cf"/>
<circle cx="523.91" cy="489.50" r="3.3" fill="#c7cde6"/>
<circle cx="538.13" cy="489.50" r="3.3" fill="#c7cde6"/>
<circle cx="545.24" cy="489.50" r="3.3" fill="#93a0cf"/>
<circle cx="552.34" cy="489.50" r="2.0" fill="#c9cfe7"/>
<circle cx="559.45" cy="489.50" r="3.3" fill="#e6e9f3"/>
<circle cx="566.56" cy="489.50" r="3.3" fill="#93a0cf"/>
<circle cx="573.67" cy="489.50" r="3.3" fill="#93a0cf"/>
<circle cx="587.88" cy="489.50" r="1.9" fill="#fdf9ec"/>
<circle cx="594.99" cy="489.50" r="2.0" fill="#fce39a"/>
<circle cx="602.10" cy="489.50" r="2.0" fill="#fdf2d4"/>
<circle cx="609.21" cy="489.50" r="2.0" fill="#fce39a"/>
<circle cx="616.32" cy="489.50" r="1.9" fill="#fdf9ec"/>
<circle cx="623.42" cy="489.50" r="3.3" fill="#e6e9f3"/>
<circle cx="630.53" cy="489.50" r="3.3" fill="#c7cde6"/>
<circle cx="637.64" cy="489.50" r="2.0" fill="#fdf2d4"/>
<circle cx="644.75" cy="489.50" r="2.0" fill="#e8ebf4"/>
<circle cx="651.86" cy="489.50" r="2.0" fill="#e8ebf4"/>
<circle cx="658.96" cy="489.50" r="3.3" fill="#e6e9f3"/>
<circle cx="666.07" cy="489.50" r="3.3" fill="#e6e9f3"/>
<circle cx="673.18" cy="489.50" r="3.3" fill="#6878b9"/>
<circle cx="680.29" cy="489.50" r="3.3" fill="#c7cde6"/>
<line x1="240.00" y1="496.10" x2="242.30" y2="496.10" stroke="#333" stroke-width="0.8" />
<text x="239.30" y="499.00" font-size="8.2" text-anchor="end" fill="#1a1a1a" >scBRCA5</text>
<circle cx="246.70" cy="496.10" r="3.3" fill="#c7cde6"/>
<circle cx="253.81" cy="496.10" r="3.3" fill="#fdf0cf"/>
<circle cx="260.92" cy="496.10" r="3.3" fill="#e6e9f3"/>
<circle cx="268.02" cy="496.10" r="2.0" fill="#fdf2d4"/>
<circle cx="275.13" cy="496.10" r="3.3" fill="#364ca1"/>
<circle cx="282.24" cy="496.10" r="2.0" fill="#fdf2d4"/>
<circle cx="289.35" cy="496.10" r="1.9" fill="#f3f4f9"/>
<circle cx="296.46" cy="496.10" r="3.3" fill="#6878b9"/>
<circle cx="303.56" cy="496.10" r="3.3" fill="#e6e9f3"/>
<circle cx="317.78" cy="496.10" r="3.3" fill="#c7cde6"/>
<circle cx="324.89" cy="496.10" r="3.3" fill="#93a0cf"/>
<circle cx="332.00" cy="496.10" r="1.9" fill="#fdf9ec"/>
<circle cx="346.21" cy="496.10" r="3.3" fill="#e6e9f3"/>
<circle cx="353.32" cy="496.10" r="3.3" fill="#93a0cf"/>
<circle cx="360.43" cy="496.10" r="3.3" fill="#e6e9f3"/>
<circle cx="367.54" cy="496.10" r="3.3" fill="#93a0cf"/>
<circle cx="374.64" cy="496.10" r="3.3" fill="#93a0cf"/>
<circle cx="381.75" cy="496.10" r="3.3" fill="#e6e9f3"/>
<circle cx="388.86" cy="496.10" r="3.3" fill="#e6e9f3"/>
<circle cx="395.97" cy="496.10" r="3.3" fill="#e6e9f3"/>
<circle cx="403.08" cy="496.10" r="3.3" fill="#c7cde6"/>
<circle cx="410.18" cy="496.10" r="3.3" fill="#e6e9f3"/>
<circle cx="417.29" cy="496.10" r="3.3" fill="#fdf0cf"/>
<circle cx="424.40" cy="496.10" r="3.3" fill="#c7cde6"/>
<circle cx="431.51" cy="496.10" r="1.9" fill="#fdf9ec"/>
<circle cx="438.62" cy="496.10" r="3.3" fill="#c7cde6"/>
<circle cx="445.72" cy="496.10" r="3.3" fill="#e6e9f3"/>
<circle cx="452.83" cy="496.10" r="3.3" fill="#e6e9f3"/>
<circle cx="459.94" cy="496.10" r="3.3" fill="#93a0cf"/>
<circle cx="467.05" cy="496.10" r="3.3" fill="#c7cde6"/>
<circle cx="481.26" cy="496.10" r="3.3" fill="#fdf0cf"/>
<circle cx="488.37" cy="496.10" r="3.3" fill="#e6e9f3"/>
<circle cx="495.48" cy="496.10" r="2.0" fill="#fdf2d4"/>
<circle cx="509.70" cy="496.10" r="2.0" fill="#fce39a"/>
<circle cx="516.80" cy="496.10" r="3.3" fill="#e6e9f3"/>
<circle cx="523.91" cy="496.10" r="3.3" fill="#c7cde6"/>
<circle cx="531.02" cy="496.10" r="1.9" fill="#fdf9ec"/>
<circle cx="538.13" cy="496.10" r="3.3" fill="#e6e9f3"/>
<circle cx="545.24" cy="496.10" r="3.3" fill="#364ca1"/>
<circle cx="552.34" cy="496.10" r="2.0" fill="#e8ebf4"/>
<circle cx="559.45" cy="496.10" r="3.3" fill="#364ca1"/>
<circle cx="566.56" cy="496.10" r="3.3" fill="#93a0cf"/>
<circle cx="573.67" cy="496.10" r="3.3" fill="#364ca1"/>
<circle cx="580.78" cy="496.10" r="2.0" fill="#fdf2d4"/>
<circle cx="594.99" cy="496.10" r="3.3" fill="#e6e9f3"/>
<circle cx="602.10" cy="496.10" r="3.3" fill="#c7cde6"/>
<circle cx="609.21" cy="496.10" r="3.3" fill="#e6e9f3"/>
<circle cx="616.32" cy="496.10" r="3.3" fill="#e6e9f3"/>
<circle cx="623.42" cy="496.10" r="1.9" fill="#fdf9ec"/>
<circle cx="630.53" cy="496.10" r="3.3" fill="#e6e9f3"/>
<circle cx="637.64" cy="496.10" r="3.3" fill="#c7cde6"/>
<circle cx="644.75" cy="496.10" r="3.3" fill="#c7cde6"/>
<circle cx="651.86" cy="496.10" r="3.3" fill="#fbe194"/>
<circle cx="658.96" cy="496.10" r="3.3" fill="#e6e9f3"/>
<circle cx="666.07" cy="496.10" r="3.3" fill="#e6e9f3"/>
<circle cx="673.18" cy="496.10" r="3.3" fill="#364ca1"/>
<circle cx="680.29" cy="496.10" r="3.3" fill="#c7cde6"/>
<line x1="240.00" y1="502.70" x2="242.30" y2="502.70" stroke="#333" stroke-width="0.8" />
<text x="239.30" y="505.60" font-size="8.2" text-anchor="end" fill="#1a1a1a" >scBRCA4</text>
<circle cx="246.70" cy="502.70" r="2.0" fill="#fce39a"/>
<circle cx="253.81" cy="502.70" r="2.0" fill="#e8ebf4"/>
<circle cx="260.92" cy="502.70" r="2.0" fill="#e8ebf4"/>
<circle cx="268.02" cy="502.70" r="2.0" fill="#f9cb45"/>
<circle cx="275.13" cy="502.70" r="2.0" fill="#c9cfe7"/>
<circle cx="282.24" cy="502.70" r="2.0" fill="#fdf2d4"/>
<circle cx="289.35" cy="502.70" r="2.0" fill="#e8ebf4"/>
<circle cx="296.46" cy="502.70" r="3.3" fill="#6878b9"/>
<circle cx="310.67" cy="502.70" r="2.0" fill="#fce39a"/>
<circle cx="317.78" cy="502.70" r="2.0" fill="#fdf2d4"/>
<circle cx="324.89" cy="502.70" r="2.0" fill="#97a4d1"/>
<circle cx="332.00" cy="502.70" r="1.9" fill="#fdf9ec"/>
<circle cx="346.21" cy="502.70" r="1.9" fill="#f3f4f9"/>
<circle cx="353.32" cy="502.70" r="1.9" fill="#fdf9ec"/>
<circle cx="360.43" cy="502.70" r="2.0" fill="#fce39a"/>
<circle cx="367.54" cy="502.70" r="2.0" fill="#fdf2d4"/>
<circle cx="374.64" cy="502.70" r="2.0" fill="#fdf2d4"/>
<circle cx="381.75" cy="502.70" r="2.0" fill="#f9cb45"/>
<circle cx="388.86" cy="502.70" r="1.9" fill="#fdf9ec"/>
<circle cx="395.97" cy="502.70" r="3.3" fill="#93a0cf"/>
<circle cx="403.08" cy="502.70" r="2.0" fill="#fce39a"/>
<circle cx="410.18" cy="502.70" r="2.0" fill="#e8ebf4"/>
<circle cx="417.29" cy="502.70" r="2.0" fill="#fce39a"/>
<circle cx="424.40" cy="502.70" r="2.0" fill="#fdf2d4"/>
<circle cx="431.51" cy="502.70" r="2.0" fill="#fce39a"/>
<circle cx="438.62" cy="502.70" r="2.0" fill="#fdf2d4"/>
<circle cx="445.72" cy="502.70" r="2.0" fill="#f9cb45"/>
<circle cx="452.83" cy="502.70" r="2.0" fill="#fdf2d4"/>
<circle cx="459.94" cy="502.70" r="2.0" fill="#fdf2d4"/>
<circle cx="467.05" cy="502.70" r="2.0" fill="#97a4d1"/>
<circle cx="474.16" cy="502.70" r="2.0" fill="#fdf2d4"/>
<circle cx="481.26" cy="502.70" r="1.9" fill="#fdf9ec"/>
<circle cx="488.37" cy="502.70" r="2.0" fill="#e8ebf4"/>
<circle cx="495.48" cy="502.70" r="1.9" fill="#fdf9ec"/>
<circle cx="502.59" cy="502.70" r="2.0" fill="#e8ebf4"/>
<circle cx="509.70" cy="502.70" r="1.9" fill="#f3f4f9"/>
<circle cx="516.80" cy="502.70" r="1.9" fill="#fdf9ec"/>
<circle cx="523.91" cy="502.70" r="2.0" fill="#e8ebf4"/>
<circle cx="538.13" cy="502.70" r="2.0" fill="#c9cfe7"/>
<circle cx="552.34" cy="502.70" r="2.0" fill="#c9cfe7"/>
<circle cx="559.45" cy="502.70" r="2.0" fill="#f9cb45"/>
<circle cx="566.56" cy="502.70" r="2.0" fill="#fdf2d4"/>
<circle cx="573.67" cy="502.70" r="2.0" fill="#c9cfe7"/>
<circle cx="580.78" cy="502.70" r="2.0" fill="#fce39a"/>
<circle cx="587.88" cy="502.70" r="2.0" fill="#fce39a"/>
<circle cx="594.99" cy="502.70" r="3.3" fill="#93a0cf"/>
<circle cx="602.10" cy="502.70" r="1.9" fill="#fdf9ec"/>
<circle cx="609.21" cy="502.70" r="2.0" fill="#c9cfe7"/>
<circle cx="616.32" cy="502.70" r="2.0" fill="#fce39a"/>
<circle cx="623.42" cy="502.70" r="2.0" fill="#fce39a"/>
<circle cx="630.53" cy="502.70" r="1.9" fill="#fdf9ec"/>
<circle cx="637.64" cy="502.70" r="2.0" fill="#fce39a"/>
<circle cx="644.75" cy="502.70" r="2.0" fill="#fce39a"/>
<circle cx="651.86" cy="502.70" r="2.0" fill="#fdf2d4"/>
<circle cx="666.07" cy="502.70" r="3.3" fill="#c7cde6"/>
<circle cx="673.18" cy="502.70" r="2.0" fill="#97a4d1"/>
<circle cx="680.29" cy="502.70" r="2.0" fill="#e8ebf4"/>
<line x1="240.00" y1="509.30" x2="242.30" y2="509.30" stroke="#333" stroke-width="0.8" />
<text x="239.30" y="512.20" font-size="8.2" text-anchor="end" fill="#1a1a1a" >scBRCA3</text>
<circle cx="246.70" cy="509.30" r="3.3" fill="#e6e9f3"/>
<circle cx="253.81" cy="509.30" r="1.9" fill="#fdf9ec"/>
<circle cx="260.92" cy="509.30" r="2.0" fill="#fce39a"/>
<circle cx="268.02" cy="509.30" r="1.9" fill="#f3f4f9"/>
<circle cx="275.13" cy="509.30" r="3.3" fill="#93a0cf"/>
<circle cx="296.46" cy="509.30" r="3.3" fill="#6878b9"/>
<circle cx="303.56" cy="509.30" r="3.3" fill="#e6e9f3"/>
<circle cx="310.67" cy="509.30" r="3.3" fill="#e6e9f3"/>
<circle cx="317.78" cy="509.30" r="3.3" fill="#e6e9f3"/>
<circle cx="324.89" cy="509.30" r="3.3" fill="#fdf0cf"/>
<circle cx="332.00" cy="509.30" r="1.9" fill="#fdf9ec"/>
<circle cx="346.21" cy="509.30" r="1.9" fill="#fdf9ec"/>
<circle cx="353.32" cy="509.30" r="3.3" fill="#e6e9f3"/>
<circle cx="360.43" cy="509.30" r="2.0" fill="#fce39a"/>
<circle cx="367.54" cy="509.30" r="3.3" fill="#93a0cf"/>
<circle cx="374.64" cy="509.30" r="2.0" fill="#fdf2d4"/>
<circle cx="381.75" cy="509.30" r="2.0" fill="#fdf2d4"/>
<circle cx="388.86" cy="509.30" r="3.3" fill="#e6e9f3"/>
<circle cx="395.97" cy="509.30" r="2.0" fill="#fdf2d4"/>
<circle cx="417.29" cy="509.30" r="2.0" fill="#fce39a"/>
<circle cx="424.40" cy="509.30" r="3.3" fill="#e6e9f3"/>
<circle cx="431.51" cy="509.30" r="1.9" fill="#fdf9ec"/>
<circle cx="438.62" cy="509.30" r="3.3" fill="#e6e9f3"/>
<circle cx="445.72" cy="509.30" r="3.3" fill="#c7cde6"/>
<circle cx="452.83" cy="509.30" r="3.3" fill="#c7cde6"/>
<circle cx="459.94" cy="509.30" r="2.0" fill="#e8ebf4"/>
<circle cx="467.05" cy="509.30" r="3.3" fill="#c7cde6"/>
<circle cx="474.16" cy="509.30" r="3.3" fill="#e6e9f3"/>
<circle cx="481.26" cy="509.30" r="2.0" fill="#fce39a"/>
<circle cx="488.37" cy="509.30" r="1.9" fill="#fdf9ec"/>
<circle cx="495.48" cy="509.30" r="2.0" fill="#fdf2d4"/>
<circle cx="502.59" cy="509.30" r="1.9" fill="#fdf9ec"/>
<circle cx="509.70" cy="509.30" r="2.0" fill="#f9cb45"/>
<circle cx="523.91" cy="509.30" r="3.3" fill="#c7cde6"/>
<circle cx="538.13" cy="509.30" r="3.3" fill="#e6e9f3"/>
<circle cx="545.24" cy="509.30" r="3.3" fill="#93a0cf"/>
<circle cx="552.34" cy="509.30" r="3.3" fill="#c7cde6"/>
<circle cx="559.45" cy="509.30" r="3.3" fill="#364ca1"/>
<circle cx="566.56" cy="509.30" r="3.3" fill="#c7cde6"/>
<circle cx="573.67" cy="509.30" r="3.3" fill="#93a0cf"/>
<circle cx="587.88" cy="509.30" r="2.0" fill="#fce39a"/>
<circle cx="594.99" cy="509.30" r="3.3" fill="#e6e9f3"/>
<circle cx="602.10" cy="509.30" r="3.3" fill="#e6e9f3"/>
<circle cx="609.21" cy="509.30" r="3.3" fill="#e6e9f3"/>
<circle cx="616.32" cy="509.30" r="2.0" fill="#fdf2d4"/>
<circle cx="623.42" cy="509.30" r="1.9" fill="#fdf9ec"/>
<circle cx="630.53" cy="509.30" r="1.9" fill="#fdf9ec"/>
<circle cx="637.64" cy="509.30" r="3.3" fill="#e6e9f3"/>
<circle cx="644.75" cy="509.30" r="3.3" fill="#c7cde6"/>
<circle cx="651.86" cy="509.30" r="3.3" fill="#f9c842"/>
<circle cx="658.96" cy="509.30" r="3.3" fill="#c7cde6"/>
<circle cx="666.07" cy="509.30" r="3.3" fill="#e6e9f3"/>
<circle cx="673.18" cy="509.30" r="3.3" fill="#6878b9"/>
<circle cx="680.29" cy="509.30" r="3.3" fill="#e6e9f3"/>
<line x1="240.00" y1="515.90" x2="242.30" y2="515.90" stroke="#333" stroke-width="0.8" />
<text x="239.30" y="518.80" font-size="8.2" text-anchor="end" fill="#1a1a1a" >scBRCA1</text>
<circle cx="246.70" cy="515.90" r="2.0" fill="#fce39a"/>
<circle cx="253.81" cy="515.90" r="2.0" fill="#f9cb45"/>
<circle cx="260.92" cy="515.90" r="2.0" fill="#e8ebf4"/>
<circle cx="268.02" cy="515.90" r="2.0" fill="#fdf2d4"/>
<circle cx="275.13" cy="515.90" r="3.3" fill="#6878b9"/>
<circle cx="282.24" cy="515.90" r="2.0" fill="#fdf2d4"/>
<circle cx="289.35" cy="515.90" r="2.0" fill="#fdf2d4"/>
<circle cx="296.46" cy="515.90" r="3.3" fill="#6878b9"/>
<circle cx="303.56" cy="515.90" r="3.3" fill="#93a0cf"/>
<circle cx="310.67" cy="515.90" r="2.0" fill="#fce39a"/>
<circle cx="317.78" cy="515.90" r="2.0" fill="#fce39a"/>
<circle cx="324.89" cy="515.90" r="2.0" fill="#e8ebf4"/>
<circle cx="332.00" cy="515.90" r="2.0" fill="#e8ebf4"/>
<circle cx="346.21" cy="515.90" r="2.0" fill="#fdf2d4"/>
<circle cx="353.32" cy="515.90" r="2.0" fill="#97a4d1"/>
<circle cx="360.43" cy="515.90" r="2.0" fill="#f9cb45"/>
<circle cx="367.54" cy="515.90" r="1.9" fill="#f3f4f9"/>
<circle cx="381.75" cy="515.90" r="2.0" fill="#e8ebf4"/>
<circle cx="388.86" cy="515.90" r="2.0" fill="#fdf2d4"/>
<circle cx="395.97" cy="515.90" r="2.0" fill="#fdf2d4"/>
<circle cx="403.08" cy="515.90" r="2.0" fill="#fdf2d4"/>
<circle cx="410.18" cy="515.90" r="2.0" fill="#fce39a"/>
<circle cx="417.29" cy="515.90" r="2.0" fill="#fce39a"/>
<circle cx="424.40" cy="515.90" r="2.0" fill="#fce39a"/>
<circle cx="431.51" cy="515.90" r="2.0" fill="#fdf2d4"/>
<circle cx="438.62" cy="515.90" r="2.0" fill="#fdf2d4"/>
<circle cx="445.72" cy="515.90" r="1.9" fill="#f3f4f9"/>
<circle cx="452.83" cy="515.90" r="2.0" fill="#6b7cbb"/>
<circle cx="459.94" cy="515.90" r="1.9" fill="#f3f4f9"/>
<circle cx="467.05" cy="515.90" r="3.3" fill="#c7cde6"/>
<circle cx="474.16" cy="515.90" r="3.3" fill="#c7cde6"/>
<circle cx="481.26" cy="515.90" r="2.0" fill="#fce39a"/>
<circle cx="488.37" cy="515.90" r="2.0" fill="#fdf2d4"/>
<circle cx="495.48" cy="515.90" r="2.0" fill="#fce39a"/>
<circle cx="509.70" cy="515.90" r="2.0" fill="#f9cb45"/>
<circle cx="523.91" cy="515.90" r="1.9" fill="#fdf9ec"/>
<circle cx="531.02" cy="515.90" r="2.0" fill="#e8ebf4"/>
<circle cx="538.13" cy="515.90" r="2.0" fill="#e8ebf4"/>
<circle cx="545.24" cy="515.90" r="2.0" fill="#c9cfe7"/>
<circle cx="552.34" cy="515.90" r="2.0" fill="#c9cfe7"/>
<circle cx="559.45" cy="515.90" r="2.0" fill="#fce39a"/>
<circle cx="566.56" cy="515.90" r="3.3" fill="#93a0cf"/>
<circle cx="573.67" cy="515.90" r="3.3" fill="#e6e9f3"/>
<circle cx="580.78" cy="515.90" r="3.3" fill="#c7cde6"/>
<circle cx="587.88" cy="515.90" r="2.0" fill="#fce39a"/>
<circle cx="594.99" cy="515.90" r="2.0" fill="#c9cfe7"/>
<circle cx="602.10" cy="515.90" r="2.0" fill="#fce39a"/>
<circle cx="609.21" cy="515.90" r="3.3" fill="#93a0cf"/>
<circle cx="616.32" cy="515.90" r="2.0" fill="#fce39a"/>
<circle cx="623.42" cy="515.90" r="2.0" fill="#e8ebf4"/>
<circle cx="630.53" cy="515.90" r="2.0" fill="#e8ebf4"/>
<circle cx="637.64" cy="515.90" r="3.3" fill="#c7cde6"/>
<circle cx="651.86" cy="515.90" r="2.0" fill="#f9cb45"/>
<circle cx="658.96" cy="515.90" r="2.0" fill="#fce39a"/>
<circle cx="673.18" cy="515.90" r="3.3" fill="#6878b9"/>
<circle cx="680.29" cy="515.90" r="2.0" fill="#fce39a"/>
<rect x="181.60" y="521.10" width="16.80" height="88.40" fill="#fff" stroke="#111" stroke-width="1.4" />
<text x="193.30" y="565.30" font-size="9.4" text-anchor="middle" fill="#111" transform="rotate(-90 193.30 565.30)" >TIM</text>
<line x1="242.30" y1="521.50" x2="242.30" y2="609.00" stroke="#222" stroke-width="1.0" />
<line x1="240.00" y1="526.00" x2="242.30" y2="526.00" stroke="#333" stroke-width="0.8" />
<text x="239.30" y="528.90" font-size="8.2" text-anchor="end" fill="#1a1a1a" >scOVCA5</text>
<circle cx="253.81" cy="526.00" r="2.0" fill="#e8ebf4"/>
<circle cx="260.92" cy="526.00" r="3.3" fill="#364ca1"/>
<circle cx="268.02" cy="526.00" r="2.0" fill="#fce39a"/>
<circle cx="275.13" cy="526.00" r="2.0" fill="#6b7cbb"/>
<circle cx="296.46" cy="526.00" r="3.3" fill="#364ca1"/>
<circle cx="303.56" cy="526.00" r="2.0" fill="#3b50a3"/>
<circle cx="317.78" cy="526.00" r="2.0" fill="#3b50a3"/>
<circle cx="324.89" cy="526.00" r="2.0" fill="#6b7cbb"/>
<circle cx="332.00" cy="526.00" r="2.0" fill="#f9cb45"/>
<circle cx="339.10" cy="526.00" r="2.0" fill="#6b7cbb"/>
<circle cx="346.21" cy="526.00" r="2.0" fill="#e8ebf4"/>
<circle cx="353.32" cy="526.00" r="2.0" fill="#6b7cbb"/>
<circle cx="360.43" cy="526.00" r="2.0" fill="#fce39a"/>
<circle cx="367.54" cy="526.00" r="2.0" fill="#fdf2d4"/>
<circle cx="374.64" cy="526.00" r="2.0" fill="#97a4d1"/>
<circle cx="381.75" cy="526.00" r="1.9" fill="#fdf9ec"/>
<circle cx="395.97" cy="526.00" r="2.0" fill="#97a4d1"/>
<circle cx="403.08" cy="526.00" r="2.0" fill="#fce39a"/>
<circle cx="410.18" cy="526.00" r="2.0" fill="#f9cb45"/>
<circle cx="417.29" cy="526.00" r="2.0" fill="#fdf2d4"/>
<circle cx="431.51" cy="526.00" r="2.0" fill="#f9cb45"/>
<circle cx="438.62" cy="526.00" r="2.0" fill="#fce39a"/>
<circle cx="445.72" cy="526.00" r="2.0" fill="#3b50a3"/>
<circle cx="459.94" cy="526.00" r="2.0" fill="#97a4d1"/>
<circle cx="467.05" cy="526.00" r="3.3" fill="#f9c842"/>
<circle cx="481.26" cy="526.00" r="2.0" fill="#c9cfe7"/>
<circle cx="488.37" cy="526.00" r="3.3" fill="#364ca1"/>
<circle cx="495.48" cy="526.00" r="2.0" fill="#f7a62a"/>
<circle cx="502.59" cy="526.00" r="2.0" fill="#e8ebf4"/>
<circle cx="509.70" cy="526.00" r="2.0" fill="#3b50a3"/>
<circle cx="516.80" cy="526.00" r="2.0" fill="#3b50a3"/>
<circle cx="523.91" cy="526.00" r="2.0" fill="#f9cb45"/>
<circle cx="538.13" cy="526.00" r="2.0" fill="#6b7cbb"/>
<circle cx="545.24" cy="526.00" r="2.0" fill="#3b50a3"/>
<circle cx="552.34" cy="526.00" r="2.0" fill="#3b50a3"/>
<circle cx="559.45" cy="526.00" r="2.0" fill="#fce39a"/>
<circle cx="566.56" cy="526.00" r="2.0" fill="#e8ebf4"/>
<circle cx="573.67" cy="526.00" r="2.0" fill="#3b50a3"/>
<circle cx="580.78" cy="526.00" r="2.0" fill="#e8ebf4"/>
<circle cx="587.88" cy="526.00" r="2.0" fill="#3b50a3"/>
<circle cx="594.99" cy="526.00" r="2.0" fill="#6b7cbb"/>
<circle cx="602.10" cy="526.00" r="2.0" fill="#f9cb45"/>
<circle cx="609.21" cy="526.00" r="2.0" fill="#3b50a3"/>
<circle cx="630.53" cy="526.00" r="2.0" fill="#3b50a3"/>
<circle cx="637.64" cy="526.00" r="2.0" fill="#c9cfe7"/>
<circle cx="644.75" cy="526.00" r="2.0" fill="#e8ebf4"/>
<circle cx="651.86" cy="526.00" r="2.0" fill="#f9cb45"/>
<circle cx="658.96" cy="526.00" r="1.9" fill="#fdf9ec"/>
<circle cx="666.07" cy="526.00" r="2.0" fill="#fce39a"/>
<circle cx="673.18" cy="526.00" r="2.0" fill="#3b50a3"/>
<circle cx="680.29" cy="526.00" r="1.9" fill="#fdf9ec"/>
<line x1="240.00" y1="532.65" x2="242.30" y2="532.65" stroke="#333" stroke-width="0.8" />
<text x="239.30" y="535.55" font-size="8.2" text-anchor="end" fill="#1a1a1a" >scOVCA4</text>
<circle cx="246.70" cy="532.65" r="3.3" fill="#e6e9f3"/>
<circle cx="253.81" cy="532.65" r="2.0" fill="#fce39a"/>
<circle cx="260.92" cy="532.65" r="3.3" fill="#93a0cf"/>
<circle cx="268.02" cy="532.65" r="2.0" fill="#fce39a"/>
<circle cx="275.13" cy="532.65" r="3.3" fill="#6878b9"/>
<circle cx="282.24" cy="532.65" r="2.0" fill="#fdf2d4"/>
<circle cx="289.35" cy="532.65" r="2.0" fill="#fdf2d4"/>
<circle cx="296.46" cy="532.65" r="3.3" fill="#6878b9"/>
<circle cx="303.56" cy="532.65" r="2.0" fill="#f9cb45"/>
<circle cx="310.67" cy="532.65" r="1.9" fill="#fdf9ec"/>
<circle cx="317.78" cy="532.65" r="3.3" fill="#e6e9f3"/>
<circle cx="324.89" cy="532.65" r="3.3" fill="#c7cde6"/>
<circle cx="332.00" cy="532.65" r="2.0" fill="#f9cb45"/>
<circle cx="339.10" cy="532.65" r="3.3" fill="#c7cde6"/>
<circle cx="346.21" cy="532.65" r="1.9" fill="#fdf9ec"/>
<circle cx="353.32" cy="532.65" r="2.0" fill="#fdf2d4"/>
<circle cx="360.43" cy="532.65" r="2.0" fill="#fdf2d4"/>
<circle cx="367.54" cy="532.65" r="2.0" fill="#fdf2d4"/>
<circle cx="374.64" cy="532.65" r="1.9" fill="#f3f4f9"/>
<circle cx="381.75" cy="532.65" r="3.3" fill="#fdf0cf"/>
<circle cx="388.86" cy="532.65" r="3.3" fill="#fdf0cf"/>
<circle cx="395.97" cy="532.65" r="3.3" fill="#e6e9f3"/>
<circle cx="403.08" cy="532.65" r="2.0" fill="#fdf2d4"/>
<circle cx="410.18" cy="532.65" r="3.3" fill="#c7cde6"/>
<circle cx="431.51" cy="532.65" r="2.0" fill="#fce39a"/>
<circle cx="438.62" cy="532.65" r="1.9" fill="#fdf9ec"/>
<circle cx="445.72" cy="532.65" r="1.9" fill="#f3f4f9"/>
<circle cx="452.83" cy="532.65" r="1.9" fill="#fdf9ec"/>
<circle cx="459.94" cy="532.65" r="2.0" fill="#fce39a"/>
<circle cx="467.05" cy="532.65" r="1.9" fill="#fdf9ec"/>
<circle cx="481.26" cy="532.65" r="1.9" fill="#fdf9ec"/>
<circle cx="488.37" cy="532.65" r="1.9" fill="#fdf9ec"/>
<circle cx="495.48" cy="532.65" r="1.9" fill="#fdf9ec"/>
<circle cx="502.59" cy="532.65" r="1.9" fill="#f3f4f9"/>
<circle cx="509.70" cy="532.65" r="3.3" fill="#e6e9f3"/>
<circle cx="516.80" cy="532.65" r="2.0" fill="#fdf2d4"/>
<circle cx="523.91" cy="532.65" r="2.0" fill="#fce39a"/>
<circle cx="531.02" cy="532.65" r="3.3" fill="#e6e9f3"/>
<circle cx="538.13" cy="532.65" r="3.3" fill="#c7cde6"/>
<circle cx="545.24" cy="532.65" r="3.3" fill="#364ca1"/>
<circle cx="552.34" cy="532.65" r="3.3" fill="#6878b9"/>
<circle cx="559.45" cy="532.65" r="2.0" fill="#fdf2d4"/>
<circle cx="566.56" cy="532.65" r="3.3" fill="#e6e9f3"/>
<circle cx="573.67" cy="532.65" r="3.3" fill="#6878b9"/>
<circle cx="580.78" cy="532.65" r="3.3" fill="#fdf0cf"/>
<circle cx="587.88" cy="532.65" r="2.0" fill="#fdf2d4"/>
<circle cx="594.99" cy="532.65" r="2.0" fill="#fce39a"/>
<circle cx="609.21" cy="532.65" r="3.3" fill="#e6e9f3"/>
<circle cx="623.42" cy="532.65" r="1.9" fill="#fdf9ec"/>
<circle cx="630.53" cy="532.65" r="3.3" fill="#e6e9f3"/>
<circle cx="637.64" cy="532.65" r="2.0" fill="#fce39a"/>
<circle cx="644.75" cy="532.65" r="3.3" fill="#e6e9f3"/>
<circle cx="651.86" cy="532.65" r="3.3" fill="#f9c842"/>
<circle cx="658.96" cy="532.65" r="3.3" fill="#e6e9f3"/>
<circle cx="666.07" cy="532.65" r="3.3" fill="#e6e9f3"/>
<circle cx="673.18" cy="532.65" r="3.3" fill="#93a0cf"/>
<line x1="240.00" y1="539.30" x2="242.30" y2="539.30" stroke="#333" stroke-width="0.8" />
<text x="239.30" y="542.20" font-size="8.2" text-anchor="end" fill="#1a1a1a" >scOVCA3</text>
<circle cx="246.70" cy="539.30" r="2.0" fill="#e8ebf4"/>
<circle cx="253.81" cy="539.30" r="1.9" fill="#fdf9ec"/>
<circle cx="260.92" cy="539.30" r="2.0" fill="#fdf2d4"/>
<circle cx="268.02" cy="539.30" r="3.3" fill="#e6e9f3"/>
<circle cx="275.13" cy="539.30" r="3.3" fill="#6878b9"/>
<circle cx="282.24" cy="539.30" r="3.3" fill="#fdf0cf"/>
<circle cx="289.35" cy="539.30" r="2.0" fill="#e8ebf4"/>
<circle cx="296.46" cy="539.30" r="2.0" fill="#c9cfe7"/>
<circle cx="303.56" cy="539.30" r="1.9" fill="#f3f4f9"/>
<circle cx="317.78" cy="539.30" r="3.3" fill="#93a0cf"/>
<circle cx="324.89" cy="539.30" r="3.3" fill="#93a0cf"/>
<circle cx="332.00" cy="539.30" r="1.9" fill="#fdf9ec"/>
<circle cx="339.10" cy="539.30" r="3.3" fill="#c7cde6"/>
<circle cx="353.32" cy="539.30" r="2.0" fill="#e8ebf4"/>
<circle cx="360.43" cy="539.30" r="2.0" fill="#c9cfe7"/>
<circle cx="367.54" cy="539.30" r="2.0" fill="#c9cfe7"/>
<circle cx="374.64" cy="539.30" r="3.3" fill="#e6e9f3"/>
<circle cx="381.75" cy="539.30" r="3.3" fill="#e6e9f3"/>
<circle cx="388.86" cy="539.30" r="1.9" fill="#fdf9ec"/>
<circle cx="395.97" cy="539.30" r="3.3" fill="#e6e9f3"/>
<circle cx="403.08" cy="539.30" r="2.0" fill="#e8ebf4"/>
<circle cx="410.18" cy="539.30" r="2.0" fill="#fce39a"/>
<circle cx="417.29" cy="539.30" r="1.9" fill="#fdf9ec"/>
<circle cx="424.40" cy="539.30" r="3.3" fill="#c7cde6"/>
<circle cx="431.51" cy="539.30" r="2.0" fill="#e8ebf4"/>
<circle cx="438.62" cy="539.30" r="2.0" fill="#e8ebf4"/>
<circle cx="445.72" cy="539.30" r="3.3" fill="#c7cde6"/>
<circle cx="452.83" cy="539.30" r="2.0" fill="#fce39a"/>
<circle cx="467.05" cy="539.30" r="3.3" fill="#93a0cf"/>
<circle cx="474.16" cy="539.30" r="3.3" fill="#c7cde6"/>
<circle cx="481.26" cy="539.30" r="3.3" fill="#c7cde6"/>
<circle cx="488.37" cy="539.30" r="2.0" fill="#fce39a"/>
<circle cx="495.48" cy="539.30" r="3.3" fill="#93a0cf"/>
<circle cx="502.59" cy="539.30" r="1.9" fill="#fdf9ec"/>
<circle cx="509.70" cy="539.30" r="2.0" fill="#c9cfe7"/>
<circle cx="516.80" cy="539.30" r="1.9" fill="#fdf9ec"/>
<circle cx="523.91" cy="539.30" r="3.3" fill="#93a0cf"/>
<circle cx="531.02" cy="539.30" r="1.9" fill="#f3f4f9"/>
<circle cx="538.13" cy="539.30" r="2.0" fill="#c9cfe7"/>
<circle cx="545.24" cy="539.30" r="3.3" fill="#e6e9f3"/>
<circle cx="552.34" cy="539.30" r="2.0" fill="#fce39a"/>
<circle cx="559.45" cy="539.30" r="1.9" fill="#fdf9ec"/>
<circle cx="566.56" cy="539.30" r="3.3" fill="#93a0cf"/>
<circle cx="573.67" cy="539.30" r="3.3" fill="#6878b9"/>
<circle cx="580.78" cy="539.30" r="3.3" fill="#e6e9f3"/>
<circle cx="587.88" cy="539.30" r="1.9" fill="#fdf9ec"/>
<circle cx="594.99" cy="539.30" r="3.3" fill="#93a0cf"/>
<circle cx="602.10" cy="539.30" r="2.0" fill="#fdf2d4"/>
<circle cx="609.21" cy="539.30" r="3.3" fill="#fdf0cf"/>
<circle cx="616.32" cy="539.30" r="3.3" fill="#e6e9f3"/>
<circle cx="623.42" cy="539.30" r="3.3" fill="#c7cde6"/>
<circle cx="630.53" cy="539.30" r="1.9" fill="#f3f4f9"/>
<circle cx="637.64" cy="539.30" r="2.0" fill="#fdf2d4"/>
<circle cx="644.75" cy="539.30" r="1.9" fill="#fdf9ec"/>
<circle cx="651.86" cy="539.30" r="2.0" fill="#fce39a"/>
<circle cx="658.96" cy="539.30" r="1.9" fill="#fdf9ec"/>
<circle cx="666.07" cy="539.30" r="2.0" fill="#fdf2d4"/>
<circle cx="673.18" cy="539.30" r="2.0" fill="#c9cfe7"/>
<circle cx="680.29" cy="539.30" r="2.0" fill="#fce39a"/>
<line x1="240.00" y1="545.95" x2="242.30" y2="545.95" stroke="#333" stroke-width="0.8" />
<text x="239.30" y="548.85" font-size="8.2" text-anchor="end" fill="#1a1a1a" >scOVCA2</text>
<circle cx="246.70" cy="545.95" r="2.0" fill="#e8ebf4"/>
<circle cx="253.81" cy="545.95" r="2.0" fill="#97a4d1"/>
<circle cx="260.92" cy="545.95" r="2.0" fill="#fdf2d4"/>
<circle cx="268.02" cy="545.95" r="3.3" fill="#93a0cf"/>
<circle cx="275.13" cy="545.95" r="2.0" fill="#6b7cbb"/>
<circle cx="282.24" cy="545.95" r="1.9" fill="#fdf9ec"/>
<circle cx="289.35" cy="545.95" r="2.0" fill="#e8ebf4"/>
<circle cx="296.46" cy="545.95" r="2.0" fill="#c9cfe7"/>
<circle cx="303.56" cy="545.95" r="2.0" fill="#c9cfe7"/>
<circle cx="310.67" cy="545.95" r="1.9" fill="#fdf9ec"/>
<circle cx="317.78" cy="545.95" r="3.3" fill="#6878b9"/>
<circle cx="324.89" cy="545.95" r="2.0" fill="#fce39a"/>
<circle cx="332.00" cy="545.95" r="2.0" fill="#f9cb45"/>
<circle cx="339.10" cy="545.95" r="1.9" fill="#fdf9ec"/>
<circle cx="346.21" cy="545.95" r="1.9" fill="#fdf9ec"/>
<circle cx="353.32" cy="545.95" r="3.3" fill="#c7cde6"/>
<circle cx="360.43" cy="545.95" r="2.0" fill="#fdf2d4"/>
<circle cx="367.54" cy="545.95" r="2.0" fill="#e8ebf4"/>
<circle cx="374.64" cy="545.95" r="2.0" fill="#e8ebf4"/>
<circle cx="381.75" cy="545.95" r="3.3" fill="#6878b9"/>
<circle cx="388.86" cy="545.95" r="2.0" fill="#e8ebf4"/>
<circle cx="395.97" cy="545.95" r="2.0" fill="#c9cfe7"/>
<circle cx="403.08" cy="545.95" r="2.0" fill="#c9cfe7"/>
<circle cx="410.18" cy="545.95" r="2.0" fill="#c9cfe7"/>
<circle cx="417.29" cy="545.95" r="3.3" fill="#e6e9f3"/>
<circle cx="424.40" cy="545.95" r="2.0" fill="#fce39a"/>
<circle cx="431.51" cy="545.95" r="3.3" fill="#6878b9"/>
<circle cx="438.62" cy="545.95" r="2.0" fill="#e8ebf4"/>
<circle cx="445.72" cy="545.95" r="3.3" fill="#6878b9"/>
<circle cx="452.83" cy="545.95" r="2.0" fill="#97a4d1"/>
<circle cx="459.94" cy="545.95" r="1.9" fill="#f3f4f9"/>
<circle cx="467.05" cy="545.95" r="2.0" fill="#fdf2d4"/>
<circle cx="474.16" cy="545.95" r="2.0" fill="#c9cfe7"/>
<circle cx="481.26" cy="545.95" r="2.0" fill="#e8ebf4"/>
<circle cx="488.37" cy="545.95" r="2.0" fill="#fdf2d4"/>
<circle cx="495.48" cy="545.95" r="2.0" fill="#fce39a"/>
<circle cx="502.59" cy="545.95" r="1.9" fill="#fdf9ec"/>
<circle cx="509.70" cy="545.95" r="2.0" fill="#c9cfe7"/>
<circle cx="516.80" cy="545.95" r="2.0" fill="#e8ebf4"/>
<circle cx="523.91" cy="545.95" r="2.0" fill="#e8ebf4"/>
<circle cx="531.02" cy="545.95" r="1.9" fill="#fdf9ec"/>
<circle cx="538.13" cy="545.95" r="2.0" fill="#c9cfe7"/>
<circle cx="545.24" cy="545.95" r="3.3" fill="#f9c842"/>
<circle cx="552.34" cy="545.95" r="1.9" fill="#fdf9ec"/>
<circle cx="566.56" cy="545.95" r="2.0" fill="#e8ebf4"/>
<circle cx="573.67" cy="545.95" r="2.0" fill="#97a4d1"/>
<circle cx="580.78" cy="545.95" r="2.0" fill="#e8ebf4"/>
<circle cx="587.88" cy="545.95" r="2.0" fill="#c9cfe7"/>
<circle cx="594.99" cy="545.95" r="2.0" fill="#c9cfe7"/>
<circle cx="602.10" cy="545.95" r="2.0" fill="#fdf2d4"/>
<circle cx="609.21" cy="545.95" r="2.0" fill="#97a4d1"/>
<circle cx="616.32" cy="545.95" r="2.0" fill="#fdf2d4"/>
<circle cx="623.42" cy="545.95" r="1.9" fill="#fdf9ec"/>
<circle cx="630.53" cy="545.95" r="2.0" fill="#e8ebf4"/>
<circle cx="637.64" cy="545.95" r="2.0" fill="#6b7cbb"/>
<circle cx="644.75" cy="545.95" r="1.9" fill="#f3f4f9"/>
<circle cx="658.96" cy="545.95" r="2.0" fill="#e8ebf4"/>
<circle cx="673.18" cy="545.95" r="2.0" fill="#fce39a"/>
<circle cx="680.29" cy="545.95" r="2.0" fill="#6b7cbb"/>
<line x1="240.00" y1="552.60" x2="242.30" y2="552.60" stroke="#333" stroke-width="0.8" />
<text x="239.30" y="555.50" font-size="8.2" text-anchor="end" fill="#1a1a1a" >scCRC5</text>
<circle cx="246.70" cy="552.60" r="2.0" fill="#e8ebf4"/>
<circle cx="253.81" cy="552.60" r="2.0" fill="#fce39a"/>
<circle cx="260.92" cy="552.60" r="2.0" fill="#e8ebf4"/>
<circle cx="268.02" cy="552.60" r="2.0" fill="#f9cb45"/>
<circle cx="275.13" cy="552.60" r="3.3" fill="#364ca1"/>
<circle cx="282.24" cy="552.60" r="1.9" fill="#fdf9ec"/>
<circle cx="289.35" cy="552.60" r="2.0" fill="#e8ebf4"/>
<circle cx="296.46" cy="552.60" r="3.3" fill="#364ca1"/>
<circle cx="303.56" cy="552.60" r="1.9" fill="#fdf9ec"/>
<circle cx="310.67" cy="552.60" r="1.9" fill="#f3f4f9"/>
<circle cx="317.78" cy="552.60" r="1.9" fill="#fdf9ec"/>
<circle cx="324.89" cy="552.60" r="3.3" fill="#93a0cf"/>
<circle cx="332.00" cy="552.60" r="2.0" fill="#fce39a"/>
<circle cx="339.10" cy="552.60" r="2.0" fill="#c9cfe7"/>
<circle cx="346.21" cy="552.60" r="1.9" fill="#fdf9ec"/>
<circle cx="353.32" cy="552.60" r="2.0" fill="#fce39a"/>
<circle cx="360.43" cy="552.60" r="3.3" fill="#e6e9f3"/>
<circle cx="367.54" cy="552.60" r="2.0" fill="#fce39a"/>
<circle cx="374.64" cy="552.60" r="2.0" fill="#e8ebf4"/>
<circle cx="381.75" cy="552.60" r="2.0" fill="#fdf2d4"/>
<circle cx="388.86" cy="552.60" r="3.3" fill="#c7cde6"/>
<circle cx="395.97" cy="552.60" r="3.3" fill="#c7cde6"/>
<circle cx="403.08" cy="552.60" r="3.3" fill="#c7cde6"/>
<circle cx="410.18" cy="552.60" r="2.0" fill="#fdf2d4"/>
<circle cx="417.29" cy="552.60" r="1.9" fill="#f3f4f9"/>
<circle cx="424.40" cy="552.60" r="1.9" fill="#f3f4f9"/>
<circle cx="431.51" cy="552.60" r="2.0" fill="#e8ebf4"/>
<circle cx="438.62" cy="552.60" r="2.0" fill="#e8ebf4"/>
<circle cx="445.72" cy="552.60" r="3.3" fill="#c7cde6"/>
<circle cx="452.83" cy="552.60" r="3.3" fill="#e6e9f3"/>
<circle cx="459.94" cy="552.60" r="2.0" fill="#f9cb45"/>
<circle cx="467.05" cy="552.60" r="3.3" fill="#93a0cf"/>
<circle cx="474.16" cy="552.60" r="2.0" fill="#e8ebf4"/>
<circle cx="481.26" cy="552.60" r="1.9" fill="#fdf9ec"/>
<circle cx="488.37" cy="552.60" r="3.3" fill="#93a0cf"/>
<circle cx="495.48" cy="552.60" r="2.0" fill="#f7a62a"/>
<circle cx="502.59" cy="552.60" r="1.9" fill="#fdf9ec"/>
<circle cx="509.70" cy="552.60" r="2.0" fill="#fdf2d4"/>
<circle cx="516.80" cy="552.60" r="2.0" fill="#97a4d1"/>
<circle cx="523.91" cy="552.60" r="3.3" fill="#c7cde6"/>
<circle cx="531.02" cy="552.60" r="1.9" fill="#fdf9ec"/>
<circle cx="538.13" cy="552.60" r="3.3" fill="#93a0cf"/>
<circle cx="545.24" cy="552.60" r="3.3" fill="#6878b9"/>
<circle cx="552.34" cy="552.60" r="3.3" fill="#93a0cf"/>
<circle cx="559.45" cy="552.60" r="2.0" fill="#f9cb45"/>
<circle cx="566.56" cy="552.60" r="3.3" fill="#93a0cf"/>
<circle cx="573.67" cy="552.60" r="3.3" fill="#6878b9"/>
<circle cx="580.78" cy="552.60" r="3.3" fill="#fdf0cf"/>
<circle cx="587.88" cy="552.60" r="3.3" fill="#93a0cf"/>
<circle cx="594.99" cy="552.60" r="3.3" fill="#93a0cf"/>
<circle cx="602.10" cy="552.60" r="3.3" fill="#93a0cf"/>
<circle cx="609.21" cy="552.60" r="3.3" fill="#93a0cf"/>
<circle cx="616.32" cy="552.60" r="1.9" fill="#fdf9ec"/>
<circle cx="623.42" cy="552.60" r="3.3" fill="#fdf0cf"/>
<circle cx="630.53" cy="552.60" r="3.3" fill="#6878b9"/>
<circle cx="637.64" cy="552.60" r="2.0" fill="#fce39a"/>
<circle cx="644.75" cy="552.60" r="1.9" fill="#fdf9ec"/>
<circle cx="651.86" cy="552.60" r="2.0" fill="#f9cb45"/>
<circle cx="658.96" cy="552.60" r="1.9" fill="#f3f4f9"/>
<circle cx="666.07" cy="552.60" r="2.0" fill="#e8ebf4"/>
<circle cx="673.18" cy="552.60" r="3.3" fill="#6878b9"/>
<circle cx="680.29" cy="552.60" r="3.3" fill="#fdf0cf"/>
<line x1="240.00" y1="559.25" x2="242.30" y2="559.25" stroke="#333" stroke-width="0.8" />
<text x="239.30" y="562.15" font-size="8.2" text-anchor="end" fill="#1a1a1a" >scCRC4</text>
<circle cx="246.70" cy="559.25" r="1.9" fill="#f3f4f9"/>
<circle cx="253.81" cy="559.25" r="2.0" fill="#f9cb45"/>
<circle cx="260.92" cy="559.25" r="1.9" fill="#fdf9ec"/>
<circle cx="268.02" cy="559.25" r="1.9" fill="#fdf9ec"/>
<circle cx="275.13" cy="559.25" r="3.3" fill="#364ca1"/>
<circle cx="282.24" cy="559.25" r="2.0" fill="#e8ebf4"/>
<circle cx="289.35" cy="559.25" r="1.9" fill="#f3f4f9"/>
<circle cx="296.46" cy="559.25" r="2.0" fill="#97a4d1"/>
<circle cx="303.56" cy="559.25" r="2.0" fill="#f9cb45"/>
<circle cx="310.67" cy="559.25" r="2.0" fill="#c9cfe7"/>
<circle cx="317.78" cy="559.25" r="2.0" fill="#e8ebf4"/>
<circle cx="324.89" cy="559.25" r="2.0" fill="#e8ebf4"/>
<circle cx="332.00" cy="559.25" r="3.3" fill="#fbe194"/>
<circle cx="339.10" cy="559.25" r="2.0" fill="#e8ebf4"/>
<circle cx="346.21" cy="559.25" r="2.0" fill="#e8ebf4"/>
<circle cx="353.32" cy="559.25" r="2.0" fill="#e8ebf4"/>
<circle cx="360.43" cy="559.25" r="2.0" fill="#f7a62a"/>
<circle cx="367.54" cy="559.25" r="2.0" fill="#fce39a"/>
<circle cx="374.64" cy="559.25" r="2.0" fill="#fce39a"/>
<circle cx="381.75" cy="559.25" r="2.0" fill="#fdf2d4"/>
<circle cx="388.86" cy="559.25" r="2.0" fill="#fdf2d4"/>
<circle cx="395.97" cy="559.25" r="2.0" fill="#e8ebf4"/>
<circle cx="403.08" cy="559.25" r="2.0" fill="#e8ebf4"/>
<circle cx="410.18" cy="559.25" r="2.0" fill="#3b50a3"/>
<circle cx="424.40" cy="559.25" r="2.0" fill="#e8ebf4"/>
<circle cx="431.51" cy="559.25" r="2.0" fill="#fce39a"/>
<circle cx="438.62" cy="559.25" r="2.0" fill="#fce39a"/>
<circle cx="445.72" cy="559.25" r="2.0" fill="#3b50a3"/>
<circle cx="452.83" cy="559.25" r="2.0" fill="#c9cfe7"/>
<circle cx="459.94" cy="559.25" r="2.0" fill="#f9cb45"/>
<circle cx="467.05" cy="559.25" r="2.0" fill="#c9cfe7"/>
<circle cx="474.16" cy="559.25" r="1.9" fill="#fdf9ec"/>
<circle cx="481.26" cy="559.25" r="2.0" fill="#fce39a"/>
<circle cx="488.37" cy="559.25" r="1.9" fill="#fdf9ec"/>
<circle cx="495.48" cy="559.25" r="2.0" fill="#f9cb45"/>
<circle cx="502.59" cy="559.25" r="3.3" fill="#fbe194"/>
<circle cx="509.70" cy="559.25" r="2.0" fill="#97a4d1"/>
<circle cx="516.80" cy="559.25" r="2.0" fill="#3b50a3"/>
<circle cx="523.91" cy="559.25" r="1.9" fill="#fdf9ec"/>
<circle cx="531.02" cy="559.25" r="2.0" fill="#fce39a"/>
<circle cx="538.13" cy="559.25" r="2.0" fill="#f9cb45"/>
<circle cx="545.24" cy="559.25" r="2.0" fill="#97a4d1"/>
<circle cx="552.34" cy="559.25" r="3.3" fill="#364ca1"/>
<circle cx="559.45" cy="559.25" r="2.0" fill="#97a4d1"/>
<circle cx="566.56" cy="559.25" r="2.0" fill="#e8ebf4"/>
<circle cx="573.67" cy="559.25" r="3.3" fill="#6878b9"/>
<circle cx="587.88" cy="559.25" r="2.0" fill="#e8ebf4"/>
<circle cx="594.99" cy="559.25" r="2.0" fill="#fce39a"/>
<circle cx="602.10" cy="559.25" r="1.9" fill="#fdf9ec"/>
<circle cx="609.21" cy="559.25" r="3.3" fill="#6878b9"/>
<circle cx="616.32" cy="559.25" r="2.0" fill="#e8ebf4"/>
<circle cx="623.42" cy="559.25" r="2.0" fill="#fdf2d4"/>
<circle cx="630.53" cy="559.25" r="2.0" fill="#e8ebf4"/>
<circle cx="637.64" cy="559.25" r="2.0" fill="#f9cb45"/>
<circle cx="644.75" cy="559.25" r="2.0" fill="#fdf2d4"/>
<circle cx="651.86" cy="559.25" r="2.0" fill="#f9cb45"/>
<circle cx="658.96" cy="559.25" r="3.3" fill="#93a0cf"/>
<circle cx="666.07" cy="559.25" r="1.9" fill="#f3f4f9"/>
<circle cx="673.18" cy="559.25" r="3.3" fill="#364ca1"/>
<circle cx="680.29" cy="559.25" r="2.0" fill="#fce39a"/>
<line x1="240.00" y1="565.90" x2="242.30" y2="565.90" stroke="#333" stroke-width="0.8" />
<text x="239.30" y="568.80" font-size="8.2" text-anchor="end" fill="#1a1a1a" >scCRC3</text>
<circle cx="246.70" cy="565.90" r="3.3" fill="#93a0cf"/>
<circle cx="253.81" cy="565.90" r="3.3" fill="#f9c842"/>
<circle cx="260.92" cy="565.90" r="3.3" fill="#c7cde6"/>
<circle cx="268.02" cy="565.90" r="3.3" fill="#e6e9f3"/>
<circle cx="275.13" cy="565.90" r="3.3" fill="#93a0cf"/>
<circle cx="282.24" cy="565.90" r="2.0" fill="#fce39a"/>
<circle cx="289.35" cy="565.90" r="2.0" fill="#e8ebf4"/>
<circle cx="296.46" cy="565.90" r="3.3" fill="#364ca1"/>
<circle cx="303.56" cy="565.90" r="3.3" fill="#f9c842"/>
<circle cx="310.67" cy="565.90" r="2.0" fill="#e8ebf4"/>
<circle cx="317.78" cy="565.90" r="3.3" fill="#364ca1"/>
<circle cx="324.89" cy="565.90" r="3.3" fill="#364ca1"/>
<circle cx="332.00" cy="565.90" r="2.0" fill="#f9cb45"/>
<circle cx="339.10" cy="565.90" r="1.9" fill="#fdf9ec"/>
<circle cx="346.21" cy="565.90" r="3.3" fill="#c7cde6"/>
<circle cx="353.32" cy="565.90" r="3.3" fill="#fdf0cf"/>
<circle cx="360.43" cy="565.90" r="2.0" fill="#e8ebf4"/>
<circle cx="367.54" cy="565.90" r="3.3" fill="#364ca1"/>
<circle cx="374.64" cy="565.90" r="1.9" fill="#fdf9ec"/>
<circle cx="381.75" cy="565.90" r="3.3" fill="#c7cde6"/>
<circle cx="388.86" cy="565.90" r="3.3" fill="#c7cde6"/>
<circle cx="395.97" cy="565.90" r="2.0" fill="#fdf2d4"/>
<circle cx="403.08" cy="565.90" r="3.3" fill="#c7cde6"/>
<circle cx="410.18" cy="565.90" r="3.3" fill="#c7cde6"/>
<circle cx="417.29" cy="565.90" r="2.0" fill="#e8ebf4"/>
<circle cx="424.40" cy="565.90" r="2.0" fill="#e8ebf4"/>
<circle cx="431.51" cy="565.90" r="3.3" fill="#c7cde6"/>
<circle cx="438.62" cy="565.90" r="3.3" fill="#c7cde6"/>
<circle cx="445.72" cy="565.90" r="2.0" fill="#fce39a"/>
<circle cx="452.83" cy="565.90" r="3.3" fill="#e6e9f3"/>
<circle cx="459.94" cy="565.90" r="2.0" fill="#f7a62a"/>
<circle cx="467.05" cy="565.90" r="3.3" fill="#6878b9"/>
<circle cx="474.16" cy="565.90" r="3.3" fill="#c7cde6"/>
<circle cx="481.26" cy="565.90" r="3.3" fill="#93a0cf"/>
<circle cx="488.37" cy="565.90" r="3.3" fill="#c7cde6"/>
<circle cx="495.48" cy="565.90" r="2.0" fill="#f7a62a"/>
<circle cx="502.59" cy="565.90" r="2.0" fill="#fce39a"/>
<circle cx="509.70" cy="565.90" r="3.3" fill="#364ca1"/>
<circle cx="516.80" cy="565.90" r="2.0" fill="#f9cb45"/>
<circle cx="523.91" cy="565.90" r="3.3" fill="#93a0cf"/>
<circle cx="531.02" cy="565.90" r="3.3" fill="#e6e9f3"/>
<circle cx="545.24" cy="565.90" r="3.3" fill="#c7cde6"/>
<circle cx="552.34" cy="565.90" r="3.3" fill="#93a0cf"/>
<circle cx="559.45" cy="565.90" r="1.9" fill="#fdf9ec"/>
<circle cx="566.56" cy="565.90" r="3.3" fill="#364ca1"/>
<circle cx="573.67" cy="565.90" r="3.3" fill="#364ca1"/>
<circle cx="580.78" cy="565.90" r="3.3" fill="#6878b9"/>
<circle cx="587.88" cy="565.90" r="3.3" fill="#c7cde6"/>
<circle cx="594.99" cy="565.90" r="3.3" fill="#364ca1"/>
<circle cx="602.10" cy="565.90" r="3.3" fill="#6878b9"/>
<circle cx="609.21" cy="565.90" r="3.3" fill="#93a0cf"/>
<circle cx="616.32" cy="565.90" r="3.3" fill="#c7cde6"/>
<circle cx="623.42" cy="565.90" r="2.0" fill="#e8ebf4"/>
<circle cx="630.53" cy="565.90" r="3.3" fill="#c7cde6"/>
<circle cx="637.64" cy="565.90" r="3.3" fill="#c7cde6"/>
<circle cx="644.75" cy="565.90" r="2.0" fill="#f9cb45"/>
<circle cx="651.86" cy="565.90" r="2.0" fill="#f7a62a"/>
<circle cx="658.96" cy="565.90" r="3.3" fill="#fbe194"/>
<circle cx="666.07" cy="565.90" r="3.3" fill="#c7cde6"/>
<circle cx="673.18" cy="565.90" r="2.0" fill="#f9cb45"/>
<circle cx="680.29" cy="565.90" r="3.3" fill="#93a0cf"/>
<line x1="240.00" y1="572.55" x2="242.30" y2="572.55" stroke="#333" stroke-width="0.8" />
<text x="239.30" y="575.45" font-size="8.2" text-anchor="end" fill="#1a1a1a" >scCRC2</text>
<circle cx="246.70" cy="572.55" r="3.3" fill="#93a0cf"/>
<circle cx="253.81" cy="572.55" r="3.3" fill="#fbe194"/>
<circle cx="260.92" cy="572.55" r="3.3" fill="#6878b9"/>
<circle cx="268.02" cy="572.55" r="3.3" fill="#c7cde6"/>
<circle cx="275.13" cy="572.55" r="3.3" fill="#364ca1"/>
<circle cx="282.24" cy="572.55" r="2.0" fill="#c9cfe7"/>
<circle cx="289.35" cy="572.55" r="2.0" fill="#f9cb45"/>
<circle cx="296.46" cy="572.55" r="3.3" fill="#364ca1"/>
<circle cx="303.56" cy="572.55" r="3.3" fill="#c7cde6"/>
<circle cx="310.67" cy="572.55" r="2.0" fill="#e8ebf4"/>
<circle cx="317.78" cy="572.55" r="3.3" fill="#364ca1"/>
<circle cx="324.89" cy="572.55" r="3.3" fill="#364ca1"/>
<circle cx="332.00" cy="572.55" r="3.3" fill="#fbe194"/>
<circle cx="339.10" cy="572.55" r="3.3" fill="#93a0cf"/>
<circle cx="346.21" cy="572.55" r="3.3" fill="#c7cde6"/>
<circle cx="353.32" cy="572.55" r="3.3" fill="#fdf0cf"/>
<circle cx="360.43" cy="572.55" r="3.3" fill="#93a0cf"/>
<circle cx="367.54" cy="572.55" r="3.3" fill="#364ca1"/>
<circle cx="374.64" cy="572.55" r="3.3" fill="#e6e9f3"/>
<circle cx="381.75" cy="572.55" r="3.3" fill="#c7cde6"/>
<circle cx="388.86" cy="572.55" r="3.3" fill="#6878b9"/>
<circle cx="395.97" cy="572.55" r="3.3" fill="#6878b9"/>
<circle cx="403.08" cy="572.55" r="3.3" fill="#6878b9"/>
<circle cx="410.18" cy="572.55" r="3.3" fill="#fbe194"/>
<circle cx="417.29" cy="572.55" r="3.3" fill="#e6e9f3"/>
<circle cx="424.40" cy="572.55" r="3.3" fill="#fbe194"/>
<circle cx="431.51" cy="572.55" r="3.3" fill="#6878b9"/>
<circle cx="438.62" cy="572.55" r="3.3" fill="#93a0cf"/>
<circle cx="445.72" cy="572.55" r="3.3" fill="#fdf0cf"/>
<circle cx="459.94" cy="572.55" r="3.3" fill="#f6a028"/>
<circle cx="467.05" cy="572.55" r="3.3" fill="#fbe194"/>
<circle cx="474.16" cy="572.55" r="3.3" fill="#c7cde6"/>
<circle cx="481.26" cy="572.55" r="3.3" fill="#93a0cf"/>
<circle cx="488.37" cy="572.55" r="3.3" fill="#c7cde6"/>
<circle cx="495.48" cy="572.55" r="3.3" fill="#fbe194"/>
<circle cx="502.59" cy="572.55" r="2.0" fill="#e8ebf4"/>
<circle cx="509.70" cy="572.55" r="3.3" fill="#364ca1"/>
<circle cx="516.80" cy="572.55" r="3.3" fill="#93a0cf"/>
<circle cx="523.91" cy="572.55" r="3.3" fill="#364ca1"/>
<circle cx="531.02" cy="572.55" r="3.3" fill="#e6e9f3"/>
<circle cx="538.13" cy="572.55" r="3.3" fill="#93a0cf"/>
<circle cx="545.24" cy="572.55" r="3.3" fill="#6878b9"/>
<circle cx="552.34" cy="572.55" r="3.3" fill="#6878b9"/>
<circle cx="559.45" cy="572.55" r="2.0" fill="#f9cb45"/>
<circle cx="566.56" cy="572.55" r="3.3" fill="#364ca1"/>
<circle cx="573.67" cy="572.55" r="3.3" fill="#364ca1"/>
<circle cx="580.78" cy="572.55" r="3.3" fill="#364ca1"/>
<circle cx="587.88" cy="572.55" r="3.3" fill="#93a0cf"/>
<circle cx="594.99" cy="572.55" r="3.3" fill="#93a0cf"/>
<circle cx="602.10" cy="572.55" r="3.3" fill="#364ca1"/>
<circle cx="609.21" cy="572.55" r="1.9" fill="#f3f4f9"/>
<circle cx="616.32" cy="572.55" r="3.3" fill="#c7cde6"/>
<circle cx="623.42" cy="572.55" r="3.3" fill="#c7cde6"/>
<circle cx="630.53" cy="572.55" r="3.3" fill="#364ca1"/>
<circle cx="637.64" cy="572.55" r="3.3" fill="#364ca1"/>
<circle cx="644.75" cy="572.55" r="3.3" fill="#fbe194"/>
<circle cx="651.86" cy="572.55" r="3.3" fill="#fdf0cf"/>
<circle cx="658.96" cy="572.55" r="3.3" fill="#e6e9f3"/>
<circle cx="666.07" cy="572.55" r="3.3" fill="#93a0cf"/>
<circle cx="673.18" cy="572.55" r="3.3" fill="#6878b9"/>
<circle cx="680.29" cy="572.55" r="3.3" fill="#f9c842"/>
<line x1="240.00" y1="579.20" x2="242.30" y2="579.20" stroke="#333" stroke-width="0.8" />
<text x="239.30" y="582.10" font-size="8.2" text-anchor="end" fill="#1a1a1a" >scCRC1</text>
<circle cx="246.70" cy="579.20" r="2.0" fill="#f9cb45"/>
<circle cx="253.81" cy="579.20" r="2.0" fill="#fdf2d4"/>
<circle cx="260.92" cy="579.20" r="3.3" fill="#6878b9"/>
<circle cx="268.02" cy="579.20" r="3.3" fill="#e6e9f3"/>
<circle cx="275.13" cy="579.20" r="3.3" fill="#364ca1"/>
<circle cx="282.24" cy="579.20" r="2.0" fill="#e8ebf4"/>
<circle cx="289.35" cy="579.20" r="3.3" fill="#e6e9f3"/>
<circle cx="296.46" cy="579.20" r="3.3" fill="#364ca1"/>
<circle cx="303.56" cy="579.20" r="3.3" fill="#e6e9f3"/>
<circle cx="310.67" cy="579.20" r="2.0" fill="#f9cb45"/>
<circle cx="317.78" cy="579.20" r="1.9" fill="#fdf9ec"/>
<circle cx="324.89" cy="579.20" r="2.0" fill="#fce39a"/>
<circle cx="332.00" cy="579.20" r="2.0" fill="#97a4d1"/>
<circle cx="339.10" cy="579.20" r="3.3" fill="#93a0cf"/>
<circle cx="346.21" cy="579.20" r="2.0" fill="#e8ebf4"/>
<circle cx="360.43" cy="579.20" r="2.0" fill="#e8ebf4"/>
<circle cx="367.54" cy="579.20" r="2.0" fill="#f9cb45"/>
<circle cx="374.64" cy="579.20" r="2.0" fill="#fce39a"/>
<circle cx="381.75" cy="579.20" r="2.0" fill="#fce39a"/>
<circle cx="388.86" cy="579.20" r="3.3" fill="#fdf0cf"/>
<circle cx="395.97" cy="579.20" r="2.0" fill="#fce39a"/>
<circle cx="403.08" cy="579.20" r="2.0" fill="#fce39a"/>
<circle cx="410.18" cy="579.20" r="3.3" fill="#e6e9f3"/>
<circle cx="417.29" cy="579.20" r="2.0" fill="#e8ebf4"/>
<circle cx="424.40" cy="579.20" r="2.0" fill="#fce39a"/>
<circle cx="431.51" cy="579.20" r="2.0" fill="#f9cb45"/>
<circle cx="438.62" cy="579.20" r="3.3" fill="#93a0cf"/>
<circle cx="445.72" cy="579.20" r="2.0" fill="#fce39a"/>
<circle cx="452.83" cy="579.20" r="1.9" fill="#fdf9ec"/>
<circle cx="459.94" cy="579.20" r="2.0" fill="#fce39a"/>
<circle cx="467.05" cy="579.20" r="3.3" fill="#6878b9"/>
<circle cx="474.16" cy="579.20" r="1.9" fill="#fdf9ec"/>
<circle cx="481.26" cy="579.20" r="2.0" fill="#fce39a"/>
<circle cx="488.37" cy="579.20" r="3.3" fill="#e6e9f3"/>
<circle cx="495.48" cy="579.20" r="2.0" fill="#fce39a"/>
<circle cx="502.59" cy="579.20" r="1.9" fill="#fdf9ec"/>
<circle cx="509.70" cy="579.20" r="3.3" fill="#364ca1"/>
<circle cx="516.80" cy="579.20" r="2.0" fill="#fdf2d4"/>
<circle cx="523.91" cy="579.20" r="3.3" fill="#fdf0cf"/>
<circle cx="531.02" cy="579.20" r="1.9" fill="#fdf9ec"/>
<circle cx="538.13" cy="579.20" r="3.3" fill="#c7cde6"/>
<circle cx="545.24" cy="579.20" r="3.3" fill="#93a0cf"/>
<circle cx="552.34" cy="579.20" r="3.3" fill="#6878b9"/>
<circle cx="559.45" cy="579.20" r="2.0" fill="#e8ebf4"/>
<circle cx="566.56" cy="579.20" r="3.3" fill="#93a0cf"/>
<circle cx="573.67" cy="579.20" r="2.0" fill="#c9cfe7"/>
<circle cx="580.78" cy="579.20" r="3.3" fill="#fdf0cf"/>
<circle cx="587.88" cy="579.20" r="3.3" fill="#c7cde6"/>
<circle cx="594.99" cy="579.20" r="2.0" fill="#f9cb45"/>
<circle cx="609.21" cy="579.20" r="2.0" fill="#fce39a"/>
<circle cx="616.32" cy="579.20" r="3.3" fill="#e6e9f3"/>
<circle cx="623.42" cy="579.20" r="2.0" fill="#c9cfe7"/>
<circle cx="630.53" cy="579.20" r="2.0" fill="#fce39a"/>
<circle cx="637.64" cy="579.20" r="3.3" fill="#c7cde6"/>
<circle cx="644.75" cy="579.20" r="2.0" fill="#e8ebf4"/>
<circle cx="651.86" cy="579.20" r="1.9" fill="#fdf9ec"/>
<circle cx="658.96" cy="579.20" r="3.3" fill="#364ca1"/>
<circle cx="666.07" cy="579.20" r="2.0" fill="#e8ebf4"/>
<circle cx="673.18" cy="579.20" r="2.0" fill="#e8ebf4"/>
<circle cx="680.29" cy="579.20" r="2.0" fill="#f9cb45"/>
<line x1="240.00" y1="585.85" x2="242.30" y2="585.85" stroke="#333" stroke-width="0.8" />
<text x="239.30" y="588.75" font-size="8.2" text-anchor="end" fill="#1a1a1a" >scBRCA6</text>
<circle cx="246.70" cy="585.85" r="2.0" fill="#e8ebf4"/>
<circle cx="253.81" cy="585.85" r="2.0" fill="#fce39a"/>
<circle cx="260.92" cy="585.85" r="2.0" fill="#c9cfe7"/>
<circle cx="268.02" cy="585.85" r="2.0" fill="#97a4d1"/>
<circle cx="275.13" cy="585.85" r="2.0" fill="#6b7cbb"/>
<circle cx="282.24" cy="585.85" r="2.0" fill="#e8ebf4"/>
<circle cx="289.35" cy="585.85" r="2.0" fill="#c9cfe7"/>
<circle cx="296.46" cy="585.85" r="3.3" fill="#364ca1"/>
<circle cx="303.56" cy="585.85" r="2.0" fill="#c9cfe7"/>
<circle cx="310.67" cy="585.85" r="2.0" fill="#c9cfe7"/>
<circle cx="317.78" cy="585.85" r="2.0" fill="#e8ebf4"/>
<circle cx="324.89" cy="585.85" r="2.0" fill="#e8ebf4"/>
<circle cx="332.00" cy="585.85" r="2.0" fill="#e8ebf4"/>
<circle cx="339.10" cy="585.85" r="2.0" fill="#fdf2d4"/>
<circle cx="346.21" cy="585.85" r="2.0" fill="#f9cb45"/>
<circle cx="353.32" cy="585.85" r="1.9" fill="#fdf9ec"/>
<circle cx="360.43" cy="585.85" r="2.0" fill="#fdf2d4"/>
<circle cx="367.54" cy="585.85" r="3.3" fill="#6878b9"/>
<circle cx="374.64" cy="585.85" r="2.0" fill="#e8ebf4"/>
<circle cx="381.75" cy="585.85" r="2.0" fill="#e8ebf4"/>
<circle cx="388.86" cy="585.85" r="2.0" fill="#97a4d1"/>
<circle cx="395.97" cy="585.85" r="2.0" fill="#f9cb45"/>
<circle cx="403.08" cy="585.85" r="2.0" fill="#97a4d1"/>
<circle cx="410.18" cy="585.85" r="2.0" fill="#6b7cbb"/>
<circle cx="417.29" cy="585.85" r="2.0" fill="#fce39a"/>
<circle cx="424.40" cy="585.85" r="1.9" fill="#fdf9ec"/>
<circle cx="431.51" cy="585.85" r="3.3" fill="#6878b9"/>
<circle cx="438.62" cy="585.85" r="2.0" fill="#c9cfe7"/>
<circle cx="445.72" cy="585.85" r="2.0" fill="#e8ebf4"/>
<circle cx="459.94" cy="585.85" r="2.0" fill="#97a4d1"/>
<circle cx="467.05" cy="585.85" r="2.0" fill="#97a4d1"/>
<circle cx="474.16" cy="585.85" r="2.0" fill="#fdf2d4"/>
<circle cx="488.37" cy="585.85" r="2.0" fill="#c9cfe7"/>
<circle cx="495.48" cy="585.85" r="3.3" fill="#6878b9"/>
<circle cx="502.59" cy="585.85" r="2.0" fill="#fdf2d4"/>
<circle cx="509.70" cy="585.85" r="2.0" fill="#f9cb45"/>
<circle cx="516.80" cy="585.85" r="2.0" fill="#e8ebf4"/>
<circle cx="523.91" cy="585.85" r="2.0" fill="#e8ebf4"/>
<circle cx="531.02" cy="585.85" r="2.0" fill="#c9cfe7"/>
<circle cx="538.13" cy="585.85" r="2.0" fill="#e8ebf4"/>
<circle cx="545.24" cy="585.85" r="2.0" fill="#c9cfe7"/>
<circle cx="552.34" cy="585.85" r="2.0" fill="#97a4d1"/>
<circle cx="559.45" cy="585.85" r="2.0" fill="#fce39a"/>
<circle cx="566.56" cy="585.85" r="2.0" fill="#fce39a"/>
<circle cx="573.67" cy="585.85" r="2.0" fill="#c9cfe7"/>
<circle cx="580.78" cy="585.85" r="1.9" fill="#fdf9ec"/>
<circle cx="587.88" cy="585.85" r="2.0" fill="#e8ebf4"/>
<circle cx="594.99" cy="585.85" r="2.0" fill="#f9cb45"/>
<circle cx="602.10" cy="585.85" r="2.0" fill="#c9cfe7"/>
<circle cx="609.21" cy="585.85" r="2.0" fill="#fce39a"/>
<circle cx="616.32" cy="585.85" r="2.0" fill="#e8ebf4"/>
<circle cx="623.42" cy="585.85" r="2.0" fill="#fdf2d4"/>
<circle cx="630.53" cy="585.85" r="2.0" fill="#f9cb45"/>
<circle cx="637.64" cy="585.85" r="2.0" fill="#f9cb45"/>
<circle cx="644.75" cy="585.85" r="2.0" fill="#97a4d1"/>
<circle cx="651.86" cy="585.85" r="2.0" fill="#f9cb45"/>
<circle cx="658.96" cy="585.85" r="2.0" fill="#97a4d1"/>
<circle cx="666.07" cy="585.85" r="2.0" fill="#fdf2d4"/>
<circle cx="673.18" cy="585.85" r="2.0" fill="#97a4d1"/>
<circle cx="680.29" cy="585.85" r="2.0" fill="#c9cfe7"/>
<line x1="240.00" y1="592.50" x2="242.30" y2="592.50" stroke="#333" stroke-width="0.8" />
<text x="239.30" y="595.40" font-size="8.2" text-anchor="end" fill="#1a1a1a" >scBRCA5</text>
<circle cx="246.70" cy="592.50" r="2.0" fill="#fdf2d4"/>
<circle cx="253.81" cy="592.50" r="2.0" fill="#e8ebf4"/>
<circle cx="260.92" cy="592.50" r="2.0" fill="#e8ebf4"/>
<circle cx="268.02" cy="592.50" r="2.0" fill="#f7a62a"/>
<circle cx="275.13" cy="592.50" r="2.0" fill="#e8ebf4"/>
<circle cx="282.24" cy="592.50" r="2.0" fill="#fce39a"/>
<circle cx="289.35" cy="592.50" r="1.9" fill="#f3f4f9"/>
<circle cx="296.46" cy="592.50" r="2.0" fill="#6b7cbb"/>
<circle cx="303.56" cy="592.50" r="2.0" fill="#fce39a"/>
<circle cx="310.67" cy="592.50" r="1.9" fill="#fdf9ec"/>
<circle cx="317.78" cy="592.50" r="2.0" fill="#f9cb45"/>
<circle cx="324.89" cy="592.50" r="2.0" fill="#97a4d1"/>
<circle cx="332.00" cy="592.50" r="2.0" fill="#f7a62a"/>
<circle cx="339.10" cy="592.50" r="3.3" fill="#6878b9"/>
<circle cx="346.21" cy="592.50" r="2.0" fill="#c9cfe7"/>
<circle cx="353.32" cy="592.50" r="2.0" fill="#fdf2d4"/>
<circle cx="367.54" cy="592.50" r="2.0" fill="#fce39a"/>
<circle cx="381.75" cy="592.50" r="2.0" fill="#e8ebf4"/>
<circle cx="388.86" cy="592.50" r="2.0" fill="#e8ebf4"/>
<circle cx="395.97" cy="592.50" r="2.0" fill="#f9cb45"/>
<circle cx="403.08" cy="592.50" r="2.0" fill="#fdf2d4"/>
<circle cx="410.18" cy="592.50" r="2.0" fill="#f9cb45"/>
<circle cx="417.29" cy="592.50" r="2.0" fill="#c9cfe7"/>
<circle cx="424.40" cy="592.50" r="2.0" fill="#c9cfe7"/>
<circle cx="431.51" cy="592.50" r="2.0" fill="#fce39a"/>
<circle cx="438.62" cy="592.50" r="2.0" fill="#fdf2d4"/>
<circle cx="445.72" cy="592.50" r="2.0" fill="#c9cfe7"/>
<circle cx="452.83" cy="592.50" r="2.0" fill="#c9cfe7"/>
<circle cx="467.05" cy="592.50" r="2.0" fill="#fdf2d4"/>
<circle cx="474.16" cy="592.50" r="3.3" fill="#c7cde6"/>
<circle cx="481.26" cy="592.50" r="2.0" fill="#c9cfe7"/>
<circle cx="488.37" cy="592.50" r="2.0" fill="#fdf2d4"/>
<circle cx="495.48" cy="592.50" r="2.0" fill="#e8ebf4"/>
<circle cx="502.59" cy="592.50" r="2.0" fill="#f9cb45"/>
<circle cx="509.70" cy="592.50" r="2.0" fill="#f9cb45"/>
<circle cx="516.80" cy="592.50" r="2.0" fill="#fce39a"/>
<circle cx="523.91" cy="592.50" r="2.0" fill="#f9cb45"/>
<circle cx="531.02" cy="592.50" r="1.9" fill="#fdf9ec"/>
<circle cx="538.13" cy="592.50" r="2.0" fill="#f9cb45"/>
<circle cx="545.24" cy="592.50" r="3.3" fill="#93a0cf"/>
<circle cx="552.34" cy="592.50" r="2.0" fill="#fdf2d4"/>
<circle cx="559.45" cy="592.50" r="2.0" fill="#fce39a"/>
<circle cx="566.56" cy="592.50" r="2.0" fill="#97a4d1"/>
<circle cx="573.67" cy="592.50" r="2.0" fill="#c9cfe7"/>
<circle cx="580.78" cy="592.50" r="2.0" fill="#fdf2d4"/>
<circle cx="587.88" cy="592.50" r="2.0" fill="#fce39a"/>
<circle cx="594.99" cy="592.50" r="2.0" fill="#f9cb45"/>
<circle cx="602.10" cy="592.50" r="1.9" fill="#fdf9ec"/>
<circle cx="616.32" cy="592.50" r="2.0" fill="#e8ebf4"/>
<circle cx="623.42" cy="592.50" r="2.0" fill="#fdf2d4"/>
<circle cx="630.53" cy="592.50" r="2.0" fill="#fce39a"/>
<circle cx="637.64" cy="592.50" r="2.0" fill="#f7a62a"/>
<circle cx="644.75" cy="592.50" r="1.9" fill="#fdf9ec"/>
<circle cx="651.86" cy="592.50" r="2.0" fill="#f9cb45"/>
<circle cx="658.96" cy="592.50" r="2.0" fill="#e8ebf4"/>
<circle cx="666.07" cy="592.50" r="2.0" fill="#fdf2d4"/>
<circle cx="673.18" cy="592.50" r="3.3" fill="#364ca1"/>
<circle cx="680.29" cy="592.50" r="2.0" fill="#fce39a"/>
<line x1="240.00" y1="599.15" x2="242.30" y2="599.15" stroke="#333" stroke-width="0.8" />
<text x="239.30" y="602.05" font-size="8.2" text-anchor="end" fill="#1a1a1a" >scBRCA4</text>
<circle cx="253.81" cy="599.15" r="2.0" fill="#3b50a3"/>
<circle cx="260.92" cy="599.15" r="2.0" fill="#6b7cbb"/>
<circle cx="268.02" cy="599.15" r="2.0" fill="#fdf2d4"/>
<circle cx="275.13" cy="599.15" r="2.0" fill="#3b50a3"/>
<circle cx="296.46" cy="599.15" r="2.0" fill="#3b50a3"/>
<circle cx="303.56" cy="599.15" r="2.0" fill="#97a4d1"/>
<circle cx="317.78" cy="599.15" r="2.0" fill="#3b50a3"/>
<circle cx="324.89" cy="599.15" r="2.0" fill="#fdf2d4"/>
<circle cx="332.00" cy="599.15" r="2.0" fill="#fce39a"/>
<circle cx="360.43" cy="599.15" r="2.0" fill="#97a4d1"/>
<circle cx="367.54" cy="599.15" r="2.0" fill="#f26a22"/>
<circle cx="381.75" cy="599.15" r="2.0" fill="#97a4d1"/>
<circle cx="388.86" cy="599.15" r="2.0" fill="#97a4d1"/>
<circle cx="395.97" cy="599.15" r="2.0" fill="#fdf2d4"/>
<circle cx="403.08" cy="599.15" r="2.0" fill="#97a4d1"/>
<circle cx="410.18" cy="599.15" r="2.0" fill="#e8ebf4"/>
<circle cx="424.40" cy="599.15" r="2.0" fill="#3b50a3"/>
<circle cx="431.51" cy="599.15" r="2.0" fill="#3b50a3"/>
<circle cx="445.72" cy="599.15" r="2.0" fill="#3b50a3"/>
<circle cx="452.83" cy="599.15" r="2.0" fill="#c9cfe7"/>
<circle cx="459.94" cy="599.15" r="2.0" fill="#f7a62a"/>
<circle cx="467.05" cy="599.15" r="2.0" fill="#f9cb45"/>
<circle cx="481.26" cy="599.15" r="2.0" fill="#3b50a3"/>
<circle cx="488.37" cy="599.15" r="2.0" fill="#f26a22"/>
<circle cx="495.48" cy="599.15" r="2.0" fill="#f9cb45"/>
<circle cx="502.59" cy="599.15" r="2.0" fill="#3b50a3"/>
<circle cx="509.70" cy="599.15" r="2.0" fill="#f9cb45"/>
<circle cx="516.80" cy="599.15" r="2.0" fill="#97a4d1"/>
<circle cx="523.91" cy="599.15" r="2.0" fill="#6b7cbb"/>
<circle cx="531.02" cy="599.15" r="2.0" fill="#97a4d1"/>
<circle cx="538.13" cy="599.15" r="2.0" fill="#f9cb45"/>
<circle cx="545.24" cy="599.15" r="2.0" fill="#3b50a3"/>
<circle cx="552.34" cy="599.15" r="2.0" fill="#3b50a3"/>
<circle cx="566.56" cy="599.15" r="2.0" fill="#3b50a3"/>
<circle cx="573.67" cy="599.15" r="2.0" fill="#3b50a3"/>
<circle cx="580.78" cy="599.15" r="2.0" fill="#f7a62a"/>
<circle cx="587.88" cy="599.15" r="2.0" fill="#3b50a3"/>
<circle cx="594.99" cy="599.15" r="2.0" fill="#3b50a3"/>
<circle cx="602.10" cy="599.15" r="1.9" fill="#fdf9ec"/>
<circle cx="609.21" cy="599.15" r="2.0" fill="#97a4d1"/>
<circle cx="616.32" cy="599.15" r="2.0" fill="#e8ebf4"/>
<circle cx="623.42" cy="599.15" r="2.0" fill="#97a4d1"/>
<circle cx="630.53" cy="599.15" r="2.0" fill="#6b7cbb"/>
<circle cx="637.64" cy="599.15" r="2.0" fill="#3b50a3"/>
<circle cx="644.75" cy="599.15" r="2.0" fill="#3b50a3"/>
<circle cx="651.86" cy="599.15" r="2.0" fill="#fce39a"/>
<circle cx="658.96" cy="599.15" r="2.0" fill="#3b50a3"/>
<circle cx="666.07" cy="599.15" r="2.0" fill="#c9cfe7"/>
<circle cx="673.18" cy="599.15" r="2.0" fill="#3b50a3"/>
<circle cx="680.29" cy="599.15" r="2.0" fill="#3b50a3"/>
<line x1="240.00" y1="605.80" x2="242.30" y2="605.80" stroke="#333" stroke-width="0.8" />
<text x="239.30" y="608.70" font-size="8.2" text-anchor="end" fill="#1a1a1a" >scBRCA1</text>
<circle cx="246.70" cy="605.80" r="3.3" fill="#e6e9f3"/>
<circle cx="253.81" cy="605.80" r="1.9" fill="#fdf9ec"/>
<circle cx="260.92" cy="605.80" r="3.3" fill="#6878b9"/>
<circle cx="268.02" cy="605.80" r="2.0" fill="#e8ebf4"/>
<circle cx="275.13" cy="605.80" r="3.3" fill="#6878b9"/>
<circle cx="289.35" cy="605.80" r="2.0" fill="#e8ebf4"/>
<circle cx="296.46" cy="605.80" r="3.3" fill="#6878b9"/>
<circle cx="303.56" cy="605.80" r="3.3" fill="#c7cde6"/>
<circle cx="310.67" cy="605.80" r="2.0" fill="#fdf2d4"/>
<circle cx="317.78" cy="605.80" r="2.0" fill="#c9cfe7"/>
<circle cx="324.89" cy="605.80" r="3.3" fill="#e6e9f3"/>
<circle cx="332.00" cy="605.80" r="2.0" fill="#f9cb45"/>
<circle cx="339.10" cy="605.80" r="2.0" fill="#e8ebf4"/>
<circle cx="353.32" cy="605.80" r="2.0" fill="#c9cfe7"/>
<circle cx="360.43" cy="605.80" r="2.0" fill="#e8ebf4"/>
<circle cx="367.54" cy="605.80" r="2.0" fill="#fce39a"/>
<circle cx="374.64" cy="605.80" r="2.0" fill="#fdf2d4"/>
<circle cx="381.75" cy="605.80" r="2.0" fill="#fce39a"/>
<circle cx="388.86" cy="605.80" r="2.0" fill="#e8ebf4"/>
<circle cx="395.97" cy="605.80" r="2.0" fill="#c9cfe7"/>
<circle cx="403.08" cy="605.80" r="2.0" fill="#fdf2d4"/>
<circle cx="410.18" cy="605.80" r="3.3" fill="#c7cde6"/>
<circle cx="417.29" cy="605.80" r="3.3" fill="#e6e9f3"/>
<circle cx="424.40" cy="605.80" r="2.0" fill="#fdf2d4"/>
<circle cx="431.51" cy="605.80" r="2.0" fill="#fce39a"/>
<circle cx="438.62" cy="605.80" r="2.0" fill="#fdf2d4"/>
<circle cx="445.72" cy="605.80" r="2.0" fill="#fce39a"/>
<circle cx="452.83" cy="605.80" r="2.0" fill="#fce39a"/>
<circle cx="459.94" cy="605.80" r="2.0" fill="#e8ebf4"/>
<circle cx="467.05" cy="605.80" r="2.0" fill="#c9cfe7"/>
<circle cx="474.16" cy="605.80" r="2.0" fill="#fdf2d4"/>
<circle cx="481.26" cy="605.80" r="2.0" fill="#fce39a"/>
<circle cx="488.37" cy="605.80" r="2.0" fill="#fdf2d4"/>
<circle cx="495.48" cy="605.80" r="2.0" fill="#c9cfe7"/>
<circle cx="509.70" cy="605.80" r="1.9" fill="#fdf9ec"/>
<circle cx="516.80" cy="605.80" r="3.3" fill="#c7cde6"/>
<circle cx="523.91" cy="605.80" r="2.0" fill="#e8ebf4"/>
<circle cx="531.02" cy="605.80" r="1.9" fill="#fdf9ec"/>
<circle cx="538.13" cy="605.80" r="2.0" fill="#e8ebf4"/>
<circle cx="545.24" cy="605.80" r="2.0" fill="#e8ebf4"/>
<circle cx="552.34" cy="605.80" r="3.3" fill="#93a0cf"/>
<circle cx="559.45" cy="605.80" r="2.0" fill="#e8ebf4"/>
<circle cx="566.56" cy="605.80" r="2.0" fill="#e8ebf4"/>
<circle cx="573.67" cy="605.80" r="2.0" fill="#c9cfe7"/>
<circle cx="580.78" cy="605.80" r="2.0" fill="#c9cfe7"/>
<circle cx="587.88" cy="605.80" r="2.0" fill="#fdf2d4"/>
<circle cx="594.99" cy="605.80" r="2.0" fill="#fce39a"/>
<circle cx="602.10" cy="605.80" r="2.0" fill="#c9cfe7"/>
<circle cx="609.21" cy="605.80" r="2.0" fill="#c9cfe7"/>
<circle cx="616.32" cy="605.80" r="1.9" fill="#fdf9ec"/>
<circle cx="623.42" cy="605.80" r="1.9" fill="#fdf9ec"/>
<circle cx="630.53" cy="605.80" r="2.0" fill="#c9cfe7"/>
<circle cx="637.64" cy="605.80" r="2.0" fill="#e8ebf4"/>
<circle cx="644.75" cy="605.80" r="3.3" fill="#e6e9f3"/>
<circle cx="651.86" cy="605.80" r="2.0" fill="#fce39a"/>
<circle cx="658.96" cy="605.80" r="1.9" fill="#fdf9ec"/>
<circle cx="666.07" cy="605.80" r="2.0" fill="#c9cfe7"/>
<circle cx="673.18" cy="605.80" r="2.0" fill="#c9cfe7"/>
<circle cx="680.29" cy="605.80" r="2.0" fill="#c9cfe7"/>
<line x1="242.30" y1="609.00" x2="685.00" y2="609.00" stroke="#222" stroke-width="1.0" />
<line x1="246.70" y1="609.00" x2="246.70" y2="611.50" stroke="#333" stroke-width="0.8" />
<text x="249.70" y="612.80" font-size="8.2" text-anchor="end" font-style="italic" fill="#1a1a1a" transform="rotate(-90 249.70 612.80)" >AAAS</text>
<line x1="253.81" y1="609.00" x2="253.81" y2="611.50" stroke="#333" stroke-width="0.8" />
<text x="256.81" y="612.80" font-size="8.2" text-anchor="end" font-style="italic" fill="#1a1a1a" transform="rotate(-90 256.81 612.80)" >ADPGK</text>
<line x1="260.92" y1="609.00" x2="260.92" y2="611.50" stroke="#333" stroke-width="0.8" />
<text x="263.92" y="612.80" font-size="8.2" text-anchor="end" font-style="italic" fill="#1a1a1a" transform="rotate(-90 263.92 612.80)" >ALDOA</text>
<line x1="268.02" y1="609.00" x2="268.02" y2="611.50" stroke="#333" stroke-width="0.8" />
<text x="271.02" y="612.80" font-size="8.2" text-anchor="end" font-style="italic" fill="#1a1a1a" transform="rotate(-90 271.02 612.80)" >BPGM</text>
<line x1="275.13" y1="609.00" x2="275.13" y2="611.50" stroke="#333" stroke-width="0.8" />
<text x="278.13" y="612.80" font-size="8.2" text-anchor="end" font-style="italic" fill="#1a1a1a" transform="rotate(-90 278.13 612.80)" >ENO1</text>
<line x1="282.24" y1="609.00" x2="282.24" y2="611.50" stroke="#333" stroke-width="0.8" />
<text x="285.24" y="612.80" font-size="8.2" text-anchor="end" font-style="italic" fill="#1a1a1a" transform="rotate(-90 285.24 612.80)" >ENO2</text>
<line x1="289.35" y1="609.00" x2="289.35" y2="611.50" stroke="#333" stroke-width="0.8" />
<text x="292.35" y="612.80" font-size="8.2" text-anchor="end" font-style="italic" fill="#1a1a1a" transform="rotate(-90 292.35 612.80)" >ENO3</text>
<line x1="296.46" y1="609.00" x2="296.46" y2="611.50" stroke="#333" stroke-width="0.8" />
<text x="299.46" y="612.80" font-size="8.2" text-anchor="end" font-style="italic" fill="#1a1a1a" transform="rotate(-90 299.46 612.80)" >GAPDH</text>
<line x1="303.56" y1="609.00" x2="303.56" y2="611.50" stroke="#333" stroke-width="0.8" />
<text x="306.56" y="612.80" font-size="8.2" text-anchor="end" font-style="italic" fill="#1a1a1a" transform="rotate(-90 306.56 612.80)" >GNPDA1</text>
<line x1="310.67" y1="609.00" x2="310.67" y2="611.50" stroke="#333" stroke-width="0.8" />
<text x="313.67" y="612.80" font-size="8.2" text-anchor="end" font-style="italic" fill="#1a1a1a" transform="rotate(-90 313.67 612.80)" >GNPDA2</text>
<line x1="317.78" y1="609.00" x2="317.78" y2="611.50" stroke="#333" stroke-width="0.8" />
<text x="320.78" y="612.80" font-size="8.2" text-anchor="end" font-style="italic" fill="#1a1a1a" transform="rotate(-90 320.78 612.80)" >GPI</text>
<line x1="324.89" y1="609.00" x2="324.89" y2="611.50" stroke="#333" stroke-width="0.8" />
<text x="327.89" y="612.80" font-size="8.2" text-anchor="end" font-style="italic" fill="#1a1a1a" transform="rotate(-90 327.89 612.80)" >HK1</text>
<line x1="332.00" y1="609.00" x2="332.00" y2="611.50" stroke="#333" stroke-width="0.8" />
<text x="335.00" y="612.80" font-size="8.2" text-anchor="end" font-style="italic" fill="#1a1a1a" transform="rotate(-90 335.00 612.80)" >HK2</text>
<line x1="339.10" y1="609.00" x2="339.10" y2="611.50" stroke="#333" stroke-width="0.8" />
<text x="342.10" y="612.80" font-size="8.2" text-anchor="end" font-style="italic" fill="#1a1a1a" transform="rotate(-90 342.10 612.80)" >HK3</text>
<line x1="346.21" y1="609.00" x2="346.21" y2="611.50" stroke="#333" stroke-width="0.8" />
<text x="349.21" y="612.80" font-size="8.2" text-anchor="end" font-style="italic" fill="#1a1a1a" transform="rotate(-90 349.21 612.80)" >NDC1</text>
<line x1="353.32" y1="609.00" x2="353.32" y2="611.50" stroke="#333" stroke-width="0.8" />
<text x="356.32" y="612.80" font-size="8.2" text-anchor="end" font-style="italic" fill="#1a1a1a" transform="rotate(-90 356.32 612.80)" >NUP107</text>
<line x1="360.43" y1="609.00" x2="360.43" y2="611.50" stroke="#333" stroke-width="0.8" />
<text x="363.43" y="612.80" font-size="8.2" text-anchor="end" font-style="italic" fill="#1a1a1a" transform="rotate(-90 363.43 612.80)" >NUP133</text>
<line x1="367.54" y1="609.00" x2="367.54" y2="611.50" stroke="#333" stroke-width="0.8" />
<text x="370.54" y="612.80" font-size="8.2" text-anchor="end" font-style="italic" fill="#1a1a1a" transform="rotate(-90 370.54 612.80)" >NUP153</text>
<line x1="374.64" y1="609.00" x2="374.64" y2="611.50" stroke="#333" stroke-width="0.8" />
<text x="377.64" y="612.80" font-size="8.2" text-anchor="end" font-style="italic" fill="#1a1a1a" transform="rotate(-90 377.64 612.80)" >NUP155</text>
<line x1="381.75" y1="609.00" x2="381.75" y2="611.50" stroke="#333" stroke-width="0.8" />
<text x="384.75" y="612.80" font-size="8.2" text-anchor="end" font-style="italic" fill="#1a1a1a" transform="rotate(-90 384.75 612.80)" >NUP160</text>
<line x1="388.86" y1="609.00" x2="388.86" y2="611.50" stroke="#333" stroke-width="0.8" />
<text x="391.86" y="612.80" font-size="8.2" text-anchor="end" font-style="italic" fill="#1a1a1a" transform="rotate(-90 391.86 612.80)" >NUP188</text>
<line x1="395.97" y1="609.00" x2="395.97" y2="611.50" stroke="#333" stroke-width="0.8" />
<text x="398.97" y="612.80" font-size="8.2" text-anchor="end" font-style="italic" fill="#1a1a1a" transform="rotate(-90 398.97 612.80)" >NUP205</text>
<line x1="403.08" y1="609.00" x2="403.08" y2="611.50" stroke="#333" stroke-width="0.8" />
<text x="406.08" y="612.80" font-size="8.2" text-anchor="end" font-style="italic" fill="#1a1a1a" transform="rotate(-90 406.08 612.80)" >NUP210</text>
<line x1="410.18" y1="609.00" x2="410.18" y2="611.50" stroke="#333" stroke-width="0.8" />
<text x="413.18" y="612.80" font-size="8.2" text-anchor="end" font-style="italic" fill="#1a1a1a" transform="rotate(-90 413.18 612.80)" >NUP214</text>
<line x1="417.29" y1="609.00" x2="417.29" y2="611.50" stroke="#333" stroke-width="0.8" />
<text x="420.29" y="612.80" font-size="8.2" text-anchor="end" font-style="italic" fill="#1a1a1a" transform="rotate(-90 420.29 612.80)" >NUP35</text>
<line x1="424.40" y1="609.00" x2="424.40" y2="611.50" stroke="#333" stroke-width="0.8" />
<text x="427.40" y="612.80" font-size="8.2" text-anchor="end" font-style="italic" fill="#1a1a1a" transform="rotate(-90 427.40 612.80)" >NUP37</text>
<line x1="431.51" y1="609.00" x2="431.51" y2="611.50" stroke="#333" stroke-width="0.8" />
<text x="434.51" y="612.80" font-size="8.2" text-anchor="end" font-style="italic" fill="#1a1a1a" transform="rotate(-90 434.51 612.80)" >NUP42</text>
<line x1="438.62" y1="609.00" x2="438.62" y2="611.50" stroke="#333" stroke-width="0.8" />
<text x="441.62" y="612.80" font-size="8.2" text-anchor="end" font-style="italic" fill="#1a1a1a" transform="rotate(-90 441.62 612.80)" >NUP43</text>
<line x1="445.72" y1="609.00" x2="445.72" y2="611.50" stroke="#333" stroke-width="0.8" />
<text x="448.72" y="612.80" font-size="8.2" text-anchor="end" font-style="italic" fill="#1a1a1a" transform="rotate(-90 448.72 612.80)" >NUP50</text>
<line x1="452.83" y1="609.00" x2="452.83" y2="611.50" stroke="#333" stroke-width="0.8" />
<text x="455.83" y="612.80" font-size="8.2" text-anchor="end" font-style="italic" fill="#1a1a1a" transform="rotate(-90 455.83 612.80)" >NUP54</text>
<line x1="459.94" y1="609.00" x2="459.94" y2="611.50" stroke="#333" stroke-width="0.8" />
<text x="462.94" y="612.80" font-size="8.2" text-anchor="end" font-style="italic" fill="#1a1a1a" transform="rotate(-90 462.94 612.80)" >NUP58</text>
<line x1="467.05" y1="609.00" x2="467.05" y2="611.50" stroke="#333" stroke-width="0.8" />
<text x="470.05" y="612.80" font-size="8.2" text-anchor="end" font-style="italic" fill="#1a1a1a" transform="rotate(-90 470.05 612.80)" >NUP62</text>
<line x1="474.16" y1="609.00" x2="474.16" y2="611.50" stroke="#333" stroke-width="0.8" />
<text x="477.16" y="612.80" font-size="8.2" text-anchor="end" font-style="italic" fill="#1a1a1a" transform="rotate(-90 477.16 612.80)" >NUP85</text>
<line x1="481.26" y1="609.00" x2="481.26" y2="611.50" stroke="#333" stroke-width="0.8" />
<text x="484.26" y="612.80" font-size="8.2" text-anchor="end" font-style="italic" fill="#1a1a1a" transform="rotate(-90 484.26 612.80)" >NUP88</text>
<line x1="488.37" y1="609.00" x2="488.37" y2="611.50" stroke="#333" stroke-width="0.8" />
<text x="491.37" y="612.80" font-size="8.2" text-anchor="end" font-style="italic" fill="#1a1a1a" transform="rotate(-90 491.37 612.80)" >NUP93</text>
<line x1="495.48" y1="609.00" x2="495.48" y2="611.50" stroke="#333" stroke-width="0.8" />
<text x="498.48" y="612.80" font-size="8.2" text-anchor="end" font-style="italic" fill="#1a1a1a" transform="rotate(-90 498.48 612.80)" >NUP98</text>
<line x1="502.59" y1="609.00" x2="502.59" y2="611.50" stroke="#333" stroke-width="0.8" />
<text x="505.59" y="612.80" font-size="8.2" text-anchor="end" font-style="italic" fill="#1a1a1a" transform="rotate(-90 505.59 612.80)" >PFKFB2</text>
<line x1="509.70" y1="609.00" x2="509.70" y2="611.50" stroke="#333" stroke-width="0.8" />
<text x="512.70" y="612.80" font-size="8.2" text-anchor="end" font-style="italic" fill="#1a1a1a" transform="rotate(-90 512.70 612.80)" >PFKFB3</text>
<line x1="516.80" y1="609.00" x2="516.80" y2="611.50" stroke="#333" stroke-width="0.8" />
<text x="519.80" y="612.80" font-size="8.2" text-anchor="end" font-style="italic" fill="#1a1a1a" transform="rotate(-90 519.80 612.80)" >PFKFB4</text>
<line x1="523.91" y1="609.00" x2="523.91" y2="611.50" stroke="#333" stroke-width="0.8" />
<text x="526.91" y="612.80" font-size="8.2" text-anchor="end" font-style="italic" fill="#1a1a1a" transform="rotate(-90 526.91 612.80)" >PFKL</text>
<line x1="531.02" y1="609.00" x2="531.02" y2="611.50" stroke="#333" stroke-width="0.8" />
<text x="534.02" y="612.80" font-size="8.2" text-anchor="end" font-style="italic" fill="#1a1a1a" transform="rotate(-90 534.02 612.80)" >PFKM</text>
<line x1="538.13" y1="609.00" x2="538.13" y2="611.50" stroke="#333" stroke-width="0.8" />
<text x="541.13" y="612.80" font-size="8.2" text-anchor="end" font-style="italic" fill="#1a1a1a" transform="rotate(-90 541.13 612.80)" >PFKP</text>
<line x1="545.24" y1="609.00" x2="545.24" y2="611.50" stroke="#333" stroke-width="0.8" />
<text x="548.24" y="612.80" font-size="8.2" text-anchor="end" font-style="italic" fill="#1a1a1a" transform="rotate(-90 548.24 612.80)" >PGAM1</text>
<line x1="552.34" y1="609.00" x2="552.34" y2="611.50" stroke="#333" stroke-width="0.8" />
<text x="555.34" y="612.80" font-size="8.2" text-anchor="end" font-style="italic" fill="#1a1a1a" transform="rotate(-90 555.34 612.80)" >PGK1</text>
<line x1="559.45" y1="609.00" x2="559.45" y2="611.50" stroke="#333" stroke-width="0.8" />
<text x="562.45" y="612.80" font-size="8.2" text-anchor="end" font-style="italic" fill="#1a1a1a" transform="rotate(-90 562.45 612.80)" >PGM2L1</text>
<line x1="566.56" y1="609.00" x2="566.56" y2="611.50" stroke="#333" stroke-width="0.8" />
<text x="569.56" y="612.80" font-size="8.2" text-anchor="end" font-style="italic" fill="#1a1a1a" transform="rotate(-90 569.56 612.80)" >PGP</text>
<line x1="573.67" y1="609.00" x2="573.67" y2="611.50" stroke="#333" stroke-width="0.8" />
<text x="576.67" y="612.80" font-size="8.2" text-anchor="end" font-style="italic" fill="#1a1a1a" transform="rotate(-90 576.67 612.80)" >PKM</text>
<line x1="580.78" y1="609.00" x2="580.78" y2="611.50" stroke="#333" stroke-width="0.8" />
<text x="583.78" y="612.80" font-size="8.2" text-anchor="end" font-style="italic" fill="#1a1a1a" transform="rotate(-90 583.78 612.80)" >POM121</text>
<line x1="587.88" y1="609.00" x2="587.88" y2="611.50" stroke="#333" stroke-width="0.8" />
<text x="590.88" y="612.80" font-size="8.2" text-anchor="end" font-style="italic" fill="#1a1a1a" transform="rotate(-90 590.88 612.80)" >POM121C</text>
<line x1="594.99" y1="609.00" x2="594.99" y2="611.50" stroke="#333" stroke-width="0.8" />
<text x="597.99" y="612.80" font-size="8.2" text-anchor="end" font-style="italic" fill="#1a1a1a" transform="rotate(-90 597.99 612.80)" >PPP2CA</text>
<line x1="602.10" y1="609.00" x2="602.10" y2="611.50" stroke="#333" stroke-width="0.8" />
<text x="605.10" y="612.80" font-size="8.2" text-anchor="end" font-style="italic" fill="#1a1a1a" transform="rotate(-90 605.10 612.80)" >PPP2CB</text>
<line x1="609.21" y1="609.00" x2="609.21" y2="611.50" stroke="#333" stroke-width="0.8" />
<text x="612.21" y="612.80" font-size="8.2" text-anchor="end" font-style="italic" fill="#1a1a1a" transform="rotate(-90 612.21 612.80)" >PPP2R1A</text>
<line x1="616.32" y1="609.00" x2="616.32" y2="611.50" stroke="#333" stroke-width="0.8" />
<text x="619.32" y="612.80" font-size="8.2" text-anchor="end" font-style="italic" fill="#1a1a1a" transform="rotate(-90 619.32 612.80)" >PPP2R1B</text>
<line x1="623.42" y1="609.00" x2="623.42" y2="611.50" stroke="#333" stroke-width="0.8" />
<text x="626.42" y="612.80" font-size="8.2" text-anchor="end" font-style="italic" fill="#1a1a1a" transform="rotate(-90 626.42 612.80)" >PPP2R5D</text>
<line x1="630.53" y1="609.00" x2="630.53" y2="611.50" stroke="#333" stroke-width="0.8" />
<text x="633.53" y="612.80" font-size="8.2" text-anchor="end" font-style="italic" fill="#1a1a1a" transform="rotate(-90 633.53 612.80)" >PRKACA</text>
<line x1="637.64" y1="609.00" x2="637.64" y2="611.50" stroke="#333" stroke-width="0.8" />
<text x="640.64" y="612.80" font-size="8.2" text-anchor="end" font-style="italic" fill="#1a1a1a" transform="rotate(-90 640.64 612.80)" >PRKACB</text>
<line x1="644.75" y1="609.00" x2="644.75" y2="611.50" stroke="#333" stroke-width="0.8" />
<text x="647.75" y="612.80" font-size="8.2" text-anchor="end" font-style="italic" fill="#1a1a1a" transform="rotate(-90 647.75 612.80)" >RAE1</text>
<line x1="651.86" y1="609.00" x2="651.86" y2="611.50" stroke="#333" stroke-width="0.8" />
<text x="654.86" y="612.80" font-size="8.2" text-anchor="end" font-style="italic" fill="#1a1a1a" transform="rotate(-90 654.86 612.80)" >RANBP2</text>
<line x1="658.96" y1="609.00" x2="658.96" y2="611.50" stroke="#333" stroke-width="0.8" />
<text x="661.96" y="612.80" font-size="8.2" text-anchor="end" font-style="italic" fill="#1a1a1a" transform="rotate(-90 661.96 612.80)" >SEC13</text>
<line x1="666.07" y1="609.00" x2="666.07" y2="611.50" stroke="#333" stroke-width="0.8" />
<text x="669.07" y="612.80" font-size="8.2" text-anchor="end" font-style="italic" fill="#1a1a1a" transform="rotate(-90 669.07 612.80)" >SEH1L</text>
<line x1="673.18" y1="609.00" x2="673.18" y2="611.50" stroke="#333" stroke-width="0.8" />
<text x="676.18" y="612.80" font-size="8.2" text-anchor="end" font-style="italic" fill="#1a1a1a" transform="rotate(-90 676.18 612.80)" >TPI1</text>
<line x1="680.29" y1="609.00" x2="680.29" y2="611.50" stroke="#333" stroke-width="0.8" />
<text x="683.29" y="612.80" font-size="8.2" text-anchor="end" font-style="italic" fill="#1a1a1a" transform="rotate(-90 683.29 612.80)" >TPR</text>
<text x="231.40" y="668.30" font-size="8" fill="#111" ><tspan font-style="italic">P</tspan>-value</text>
<circle cx="270.0" cy="666.2" r="1.5" fill="#000"/>
<text x="272.70" y="668.60" font-size="8" fill="#111" >&gt; 0.05</text>
<circle cx="312.3" cy="666.2" r="2.6" fill="#000"/>
<text x="316.10" y="668.60" font-size="8" fill="#111" >&lt; 0.05</text>
<circle cx="358.3" cy="666.2" r="2.9" fill="#000"/>
<text x="362.40" y="668.60" font-size="8" fill="#111" >&lt; 0.01</text>
<circle cx="401.0" cy="666.2" r="3.0" fill="#000"/>
<text x="405.20" y="668.60" font-size="8" fill="#111" >&lt; 0.001</text>
<text x="473.70" y="667.40" font-size="8" fill="#111" >Average log<tspan font-size="5" dy="1.8">2</tspan><tspan dy="-1.8"> fold change</tspan></text>
<text x="493.50" y="679.60" font-size="8" fill="#111" >(PTGER4<tspan font-size="5.5" dy="-3.2">hi/lo</tspan><tspan dy="3.2">)</tspan></text>
<rect x="576.40" y="662.90" width="87.60" height="8.90" fill="url(#ge)" />
<line x1="590.50" y1="662.90" x2="590.50" y2="664.20" stroke="#fff" stroke-width="0.8" />
<line x1="590.50" y1="670.50" x2="590.50" y2="671.80" stroke="#fff" stroke-width="0.8" />
<line x1="605.30" y1="662.90" x2="605.30" y2="664.20" stroke="#fff" stroke-width="0.8" />
<line x1="605.30" y1="670.50" x2="605.30" y2="671.80" stroke="#fff" stroke-width="0.8" />
<line x1="620.00" y1="662.90" x2="620.00" y2="664.20" stroke="#fff" stroke-width="0.8" />
<line x1="620.00" y1="670.50" x2="620.00" y2="671.80" stroke="#fff" stroke-width="0.8" />
<line x1="634.60" y1="662.90" x2="634.60" y2="664.20" stroke="#fff" stroke-width="0.8" />
<line x1="634.60" y1="670.50" x2="634.60" y2="671.80" stroke="#fff" stroke-width="0.8" />
<line x1="649.70" y1="662.90" x2="649.70" y2="664.20" stroke="#fff" stroke-width="0.8" />
<line x1="649.70" y1="670.50" x2="649.70" y2="671.80" stroke="#fff" stroke-width="0.8" />
<text x="590.50" y="679.80" font-size="8" text-anchor="middle" fill="#111" >−2</text>
<text x="605.30" y="679.80" font-size="8" text-anchor="middle" fill="#111" >−1</text>
<text x="620.00" y="679.80" font-size="8" text-anchor="middle" fill="#111" >0</text>
<text x="634.60" y="679.80" font-size="8" text-anchor="middle" fill="#111" >1</text>
<text x="649.70" y="679.80" font-size="8" text-anchor="middle" fill="#111" >2</text>
</svg>
</body></html>
